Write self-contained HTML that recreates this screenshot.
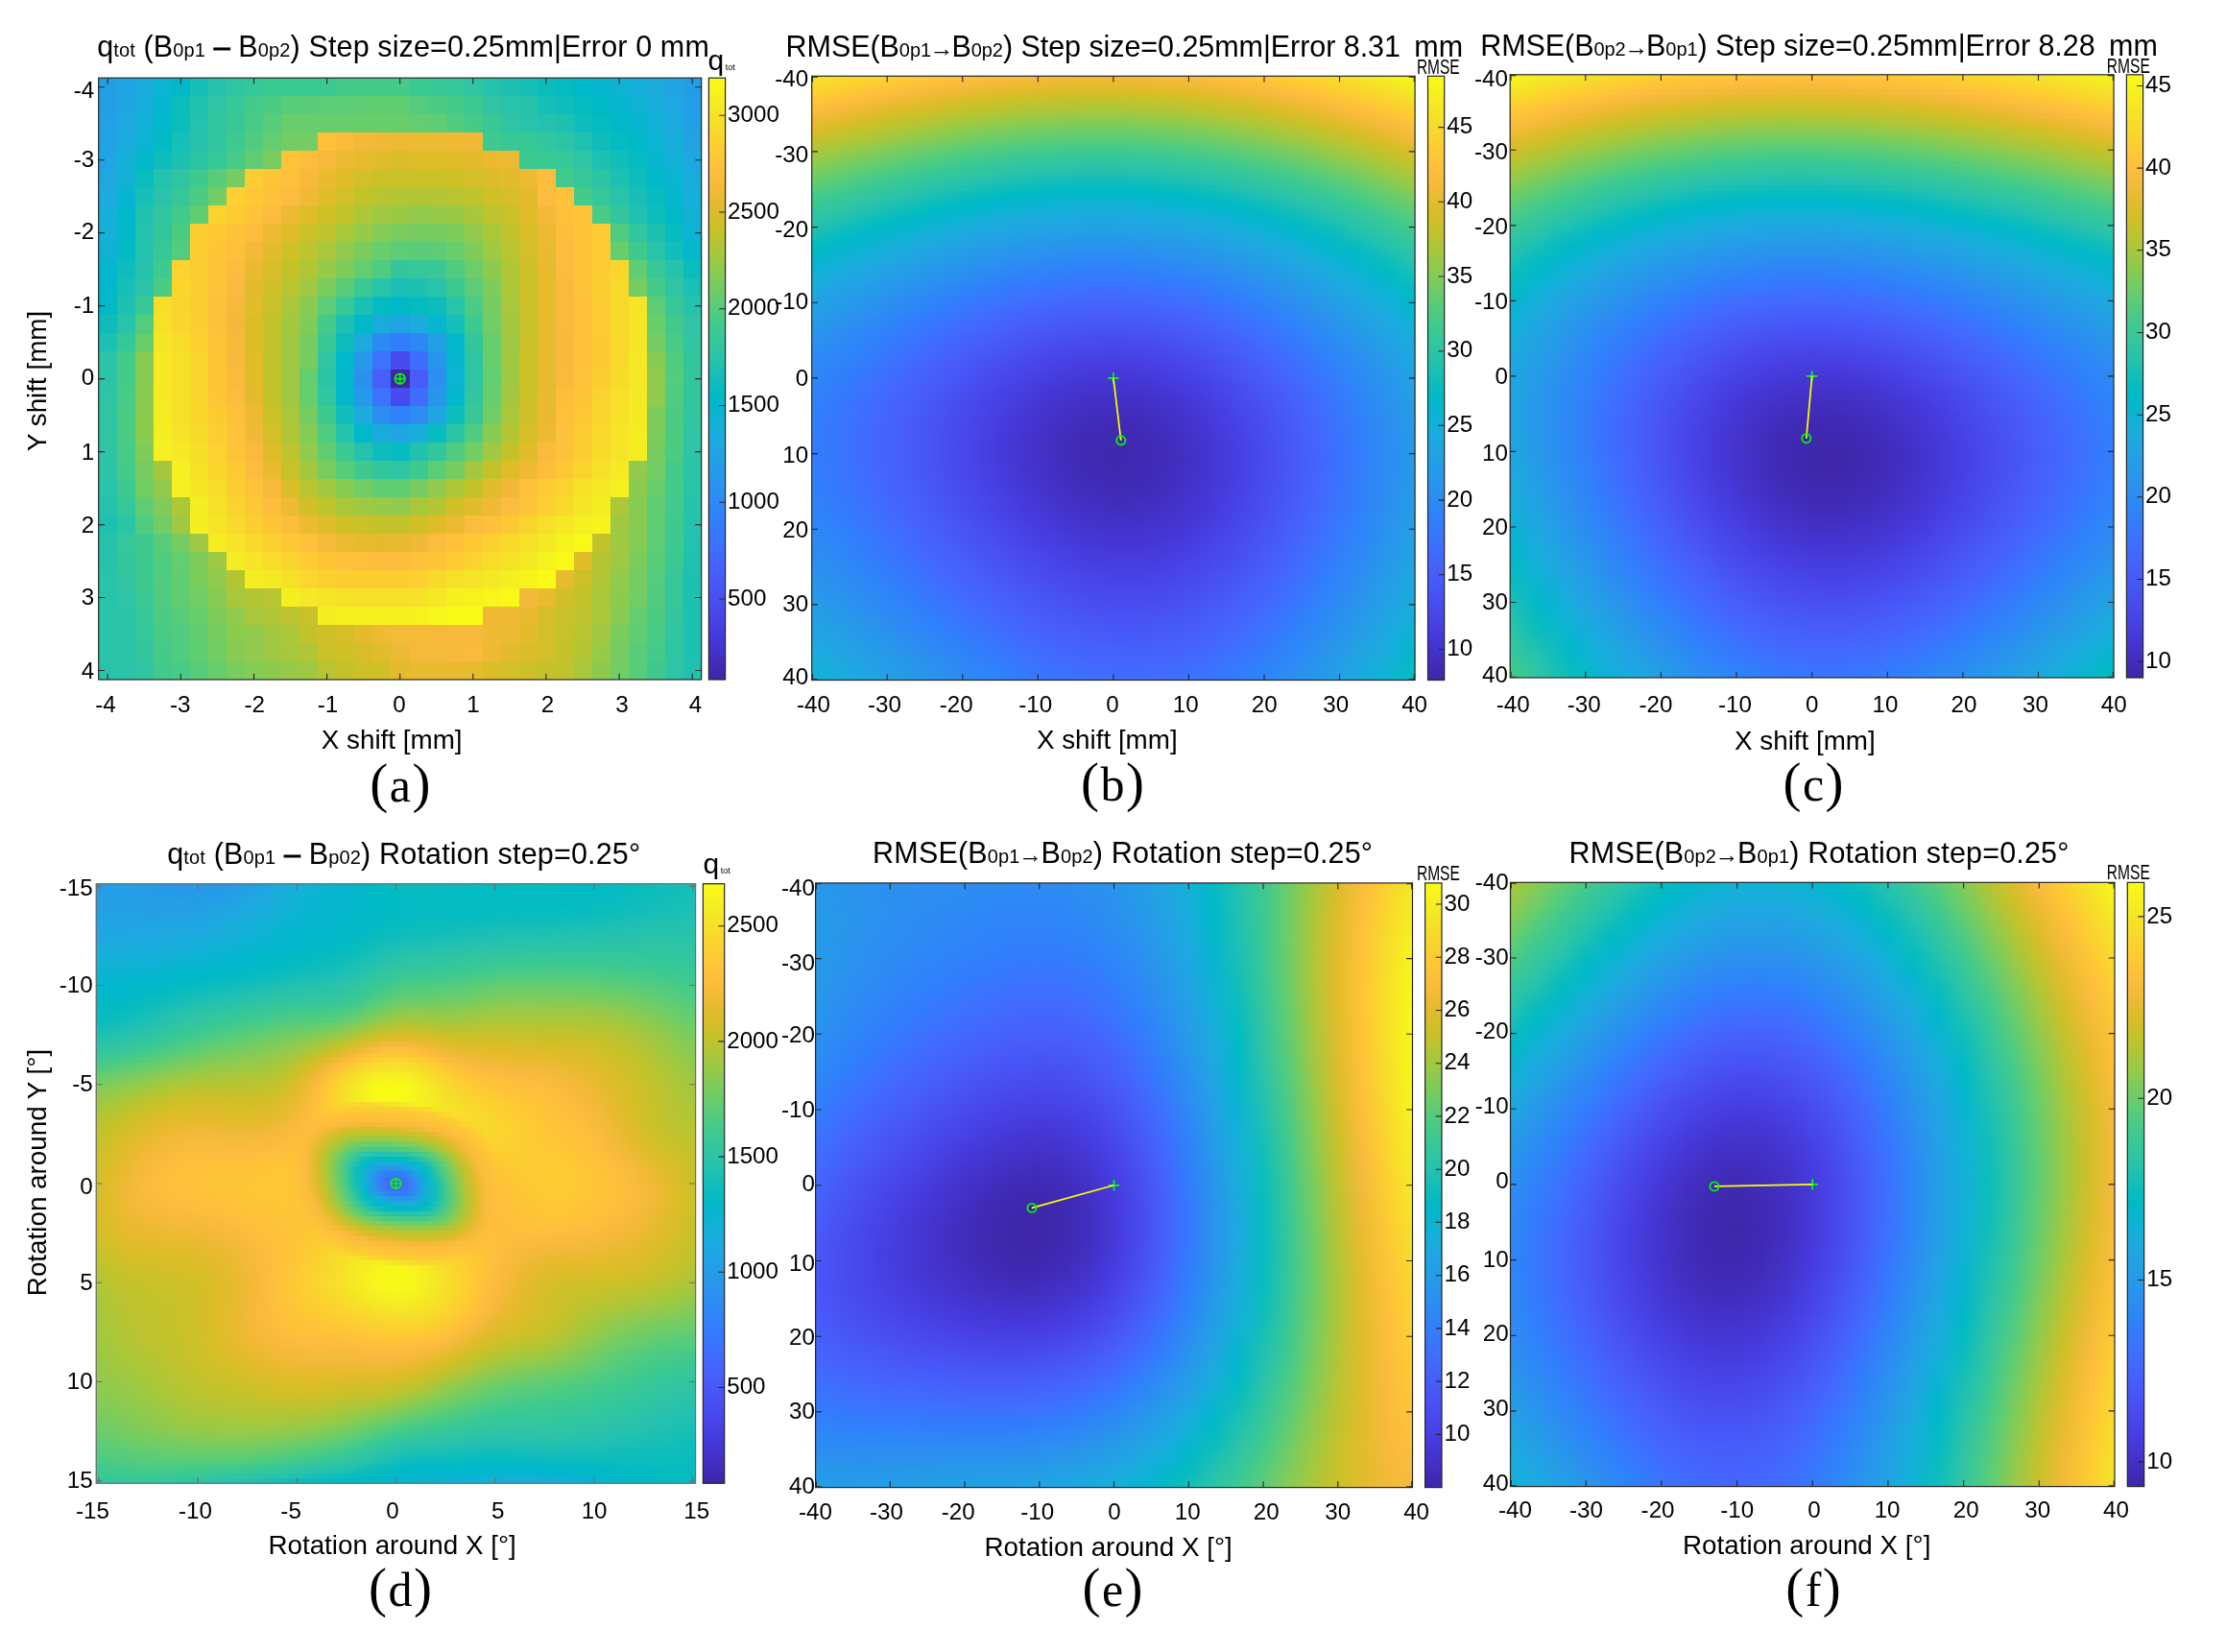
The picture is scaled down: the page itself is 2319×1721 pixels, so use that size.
<!DOCTYPE html><html><head><meta charset="utf-8"><title>fig</title><style>
html,body{margin:0;padding:0;background:#fff}body{width:2319px;height:1721px;position:relative;overflow:hidden;font-family:"Liberation Sans",sans-serif}
.p{position:absolute;overflow:hidden}.p i{display:block;width:100%}.g{position:absolute;display:grid}
svg{position:absolute;left:0;top:0;will-change:transform}text{font-family:"Liberation Sans",sans-serif;fill:#000}.s{font-family:"Liberation Serif",serif}
</style></head><body>
<div class="p" style="left:102.7px;top:81.2px;width:628px;height:626.8px"><i style="height:19px;background:linear-gradient(90deg,#23a0e5 0px,#23a0e5 19px,#20a4e3 19px,#20a4e3 38px,#19addc 38px,#19addc 57px,#0ab4d2 57px,#0ab4d2 76px,#01b9c6 76px,#01b9c6 95px,#16bfb7 95px,#16bfb7 114px,#27c2ac 114px,#27c2ac 133px,#2fc5a2 133px,#2fc5a2 152px,#35c79a 152px,#35c79a 171px,#3bc992 171px,#3bc992 190px,#3bc992 190px,#3bc992 209px,#3bc992 209px,#3bc992 228px,#3bc992 228px,#3bc992 247px,#44cb89 247px,#44cb89 266px,#44cb89 266px,#44cb89 285px,#44cb89 285px,#44cb89 304px,#44cb89 304px,#44cb89 324px,#3bc992 324px,#3bc992 343px,#39c895 343px,#39c895 362px,#35c79a 362px,#35c79a 381px,#2fc5a2 381px,#2fc5a2 400px,#27c2ac 400px,#27c2ac 419px,#1ec0b2 419px,#1ec0b2 438px,#16bfb7 438px,#16bfb7 457px,#0abdbd 457px,#0abdbd 476px,#04bbc2 476px,#04bbc2 495px,#01b8c8 495px,#01b8c8 514px,#05b6ce 514px,#05b6ce 533px,#0eb3d4 533px,#0eb3d4 552px,#15afd9 552px,#15afd9 571px,#1aabdd 571px,#1aabdd 590px,#20a4e3 590px,#20a4e3 609px,#249de7 609px,#249de7 628px)"></i><i style="height:19px;background:linear-gradient(90deg,#23a0e5 0px,#23a0e5 19px,#1fa6e2 19px,#1fa6e2 38px,#17aeda 38px,#17aeda 57px,#05b6ce 57px,#05b6ce 76px,#0abdbd 76px,#0abdbd 95px,#21c1b0 95px,#21c1b0 114px,#2ec4a5 114px,#2ec4a5 133px,#37c898 133px,#37c898 152px,#44cb89 152px,#44cb89 171px,#4ccb83 171px,#4ccb83 190px,#58cc79 190px,#58cc79 209px,#58cc79 209px,#58cc79 228px,#5ccc76 228px,#5ccc76 247px,#5ccc76 247px,#5ccc76 266px,#60cd72 266px,#60cd72 285px,#60cd72 285px,#60cd72 304px,#60cd72 304px,#60cd72 324px,#54cc7d 324px,#54cc7d 343px,#4ccb83 343px,#4ccb83 362px,#44cb89 362px,#44cb89 381px,#3bc992 381px,#3bc992 400px,#2fc5a2 400px,#2fc5a2 419px,#29c3a9 419px,#29c3a9 438px,#27c2ac 438px,#27c2ac 457px,#16bfb7 457px,#16bfb7 476px,#0ebdbb 476px,#0ebdbb 495px,#04bbc2 495px,#04bbc2 514px,#01b8c8 514px,#01b8c8 533px,#07b5d0 533px,#07b5d0 552px,#0eb3d4 552px,#0eb3d4 571px,#19addc 571px,#19addc 590px,#1ea7e1 590px,#1ea7e1 609px,#249fe6 609px,#249fe6 628px)"></i><i style="height:19px;background:linear-gradient(90deg,#22a1e4 0px,#22a1e4 19px,#1ea7e1 19px,#1ea7e1 38px,#11b1d6 38px,#11b1d6 57px,#01b8ca 57px,#01b8ca 76px,#0abdbd 76px,#0abdbd 95px,#24c2ae 95px,#24c2ae 114px,#31c6a0 114px,#31c6a0 133px,#39c895 133px,#39c895 152px,#48cb86 152px,#48cb86 171px,#58cc79 171px,#58cc79 190px,#68cd6b 190px,#68cd6b 209px,#68cd6b 209px,#68cd6b 228px,#68cd6b 228px,#68cd6b 247px,#68cd6b 247px,#68cd6b 266px,#68cd6b 266px,#68cd6b 285px,#68cd6b 285px,#68cd6b 304px,#68cd6b 304px,#68cd6b 324px,#64cd6f 324px,#64cd6f 343px,#60cd72 343px,#60cd72 362px,#50cc80 362px,#50cc80 381px,#44cb89 381px,#44cb89 400px,#39c895 400px,#39c895 419px,#2fc5a2 419px,#2fc5a2 438px,#29c3a9 438px,#29c3a9 457px,#24c2ae 457px,#24c2ae 476px,#1ec0b2 476px,#1ec0b2 495px,#0ebdbb 495px,#0ebdbb 514px,#04bbc2 514px,#04bbc2 533px,#01b8c8 533px,#01b8c8 552px,#07b5d0 552px,#07b5d0 571px,#11b1d6 571px,#11b1d6 590px,#1caadf 590px,#1caadf 609px,#23a0e5 609px,#23a0e5 628px)"></i><i style="height:19px;background:linear-gradient(90deg,#21a3e3 0px,#21a3e3 19px,#1aabdd 19px,#1aabdd 38px,#0ab4d2 38px,#0ab4d2 57px,#02bac4 57px,#02bac4 76px,#16bfb7 76px,#16bfb7 95px,#27c2ac 95px,#27c2ac 114px,#31c6a0 114px,#31c6a0 133px,#3eca8f 133px,#3eca8f 152px,#50cc80 152px,#50cc80 171px,#64cd6f 171px,#64cd6f 190px,#71cd64 190px,#71cd64 209px,#71cd64 209px,#71cd64 228px,#febf3b 228px,#febf3b 247px,#fabb3d 247px,#fabb3d 266px,#f2ba38 266px,#f2ba38 285px,#f0ba36 285px,#f0ba36 304px,#edba33 304px,#edba33 324px,#edba33 324px,#edba33 343px,#edba33 343px,#edba33 362px,#f0ba36 362px,#f0ba36 381px,#f0ba36 381px,#f0ba36 400px,#3eca8f 400px,#3eca8f 419px,#39c895 419px,#39c895 438px,#37c898 438px,#37c898 457px,#33c69d 457px,#33c69d 476px,#2cc4a7 476px,#2cc4a7 495px,#21c1b0 495px,#21c1b0 514px,#0ebdbb 514px,#0ebdbb 533px,#04bbc2 533px,#04bbc2 552px,#01b8c8 552px,#01b8c8 571px,#0ab4d2 571px,#0ab4d2 590px,#17aeda 590px,#17aeda 609px,#21a3e3 609px,#21a3e3 628px)"></i><i style="height:19px;background:linear-gradient(90deg,#20a4e3 0px,#20a4e3 19px,#13b0d7 19px,#13b0d7 38px,#01b8c8 38px,#01b8c8 57px,#0ebdbb 57px,#0ebdbb 76px,#1ec0b2 76px,#1ec0b2 95px,#2cc4a7 95px,#2cc4a7 114px,#37c898 114px,#37c898 133px,#48cb86 133px,#48cb86 152px,#60cd72 152px,#60cd72 171px,#7acc5d 171px,#7acc5d 190px,#fec339 190px,#fec339 209px,#fdbd3d 209px,#fdbd3d 228px,#f5ba3a 228px,#f5ba3a 247px,#edba33 247px,#edba33 266px,#e7bb2e 266px,#e7bb2e 285px,#e1bc2b 285px,#e1bc2b 304px,#dabd28 304px,#dabd28 324px,#debd29 324px,#debd29 343px,#debd29 343px,#debd29 362px,#e1bc2b 362px,#e1bc2b 381px,#e4bb2c 381px,#e4bb2c 400px,#eaba31 400px,#eaba31 419px,#edba33 419px,#edba33 438px,#3eca8f 438px,#3eca8f 457px,#3bc992 457px,#3bc992 476px,#37c898 476px,#37c898 495px,#2ec4a5 495px,#2ec4a5 514px,#1ec0b2 514px,#1ec0b2 533px,#12beb9 533px,#12beb9 552px,#04bbc2 552px,#04bbc2 571px,#05b6ce 571px,#05b6ce 590px,#13b0d7 590px,#13b0d7 609px,#1ea7e1 609px,#1ea7e1 628px)"></i><i style="height:19px;background:linear-gradient(90deg,#1da9e0 0px,#1da9e0 19px,#11b1d6 19px,#11b1d6 38px,#0abdbd 38px,#0abdbd 57px,#24c2ae 57px,#24c2ae 76px,#2fc5a2 76px,#2fc5a2 95px,#3eca8f 95px,#3eca8f 114px,#58cc79 114px,#58cc79 133px,#76cc61 133px,#76cc61 152px,#fdcc32 152px,#fdcc32 171px,#fec437 171px,#fec437 190px,#febf3b 190px,#febf3b 209px,#f8ba3d 209px,#f8ba3d 228px,#eaba31 228px,#eaba31 247px,#debd29 247px,#debd29 266px,#d3bf27 266px,#d3bf27 285px,#ccc028 285px,#ccc028 304px,#c8c129 304px,#c8c129 324px,#ccc028 324px,#ccc028 343px,#ccc028 343px,#ccc028 362px,#d0c027 362px,#d0c027 381px,#d3bf27 381px,#d3bf27 400px,#dabd28 400px,#dabd28 419px,#e4bb2c 419px,#e4bb2c 438px,#edba33 438px,#edba33 457px,#fcbc3d 457px,#fcbc3d 476px,#41ca8c 476px,#41ca8c 495px,#35c79a 495px,#35c79a 514px,#2cc4a7 514px,#2cc4a7 533px,#1ec0b2 533px,#1ec0b2 552px,#0ebdbb 552px,#0ebdbb 571px,#01b9c6 571px,#01b9c6 590px,#0ab4d2 590px,#0ab4d2 609px,#1aabdd 609px,#1aabdd 628px)"></i><i style="height:19px;background:linear-gradient(90deg,#1caadf 0px,#1caadf 19px,#07b5d0 19px,#07b5d0 38px,#16bfb7 38px,#16bfb7 57px,#29c3a9 57px,#29c3a9 76px,#35c79a 76px,#35c79a 95px,#4ccb83 95px,#4ccb83 114px,#71cd64 114px,#71cd64 133px,#fcd030 133px,#fcd030 152px,#fec835 152px,#fec835 171px,#fec13a 171px,#fec13a 190px,#fcbc3d 190px,#fcbc3d 209px,#f0ba36 209px,#f0ba36 228px,#e1bc2b 228px,#e1bc2b 247px,#d3bf27 247px,#d3bf27 266px,#c4c22a 266px,#c4c22a 285px,#b9c431 285px,#b9c431 304px,#b4c533 304px,#b4c533 324px,#b4c533 324px,#b4c533 343px,#b4c533 343px,#b4c533 362px,#b9c431 362px,#b9c431 381px,#c1c32d 381px,#c1c32d 400px,#d0c027 400px,#d0c027 419px,#d7be28 419px,#d7be28 438px,#e4bb2c 438px,#e4bb2c 457px,#fcbc3d 457px,#fcbc3d 476px,#fec13a 476px,#fec13a 495px,#44cb89 495px,#44cb89 514px,#35c79a 514px,#35c79a 533px,#29c3a9 533px,#29c3a9 552px,#16bfb7 552px,#16bfb7 571px,#07bcc0 571px,#07bcc0 590px,#05b6ce 590px,#05b6ce 609px,#15afd9 609px,#15afd9 628px)"></i><i style="height:19px;background:linear-gradient(90deg,#15afd9 0px,#15afd9 19px,#01b8ca 19px,#01b8ca 38px,#21c1b0 38px,#21c1b0 57px,#31c6a0 57px,#31c6a0 76px,#41ca8c 76px,#41ca8c 95px,#60cd72 95px,#60cd72 114px,#fad42e 114px,#fad42e 133px,#fdcc32 133px,#fdcc32 152px,#fec339 152px,#fec339 171px,#fcbc3d 171px,#fcbc3d 190px,#edba33 190px,#edba33 209px,#debd29 209px,#debd29 228px,#d0c027 228px,#d0c027 247px,#c1c32d 247px,#c1c32d 266px,#acc738 266px,#acc738 285px,#9fc942 285px,#9fc942 304px,#9ac945 304px,#9ac945 324px,#91ca4c 324px,#91ca4c 343px,#96ca48 343px,#96ca48 362px,#9ac945 362px,#9ac945 381px,#a8c73b 381px,#a8c73b 400px,#bdc42f 400px,#bdc42f 419px,#c8c129 419px,#c8c129 438px,#e1bc2b 438px,#e1bc2b 457px,#f2ba38 457px,#f2ba38 476px,#febf3b 476px,#febf3b 495px,#fec437 495px,#fec437 514px,#48cb86 514px,#48cb86 533px,#33c69d 533px,#33c69d 552px,#21c1b0 552px,#21c1b0 571px,#0ebdbb 571px,#0ebdbb 590px,#01b8c8 590px,#01b8c8 609px,#11b1d6 609px,#11b1d6 628px)"></i><i style="height:19px;background:linear-gradient(90deg,#13b0d7 0px,#13b0d7 19px,#01b8c8 19px,#01b8c8 38px,#24c2ae 38px,#24c2ae 57px,#33c69d 57px,#33c69d 76px,#4ccb83 76px,#4ccb83 95px,#fdce31 95px,#fdce31 114px,#fec835 114px,#fec835 133px,#fec13a 133px,#fec13a 152px,#fcbc3d 152px,#fcbc3d 171px,#edba33 171px,#edba33 190px,#debd29 190px,#debd29 209px,#ccc028 209px,#ccc028 228px,#bdc42f 228px,#bdc42f 247px,#a8c73b 247px,#a8c73b 266px,#96ca48 266px,#96ca48 285px,#84cc56 285px,#84cc56 304px,#7acc5d 304px,#7acc5d 324px,#76cc61 324px,#76cc61 343px,#76cc61 343px,#76cc61 362px,#7fcc5a 362px,#7fcc5a 381px,#91ca4c 381px,#91ca4c 400px,#acc738 400px,#acc738 419px,#c1c32d 419px,#c1c32d 438px,#dabd28 438px,#dabd28 457px,#edba33 457px,#edba33 476px,#fdbd3d 476px,#fdbd3d 495px,#fec339 495px,#fec339 514px,#fdcc32 514px,#fdcc32 533px,#50cc80 533px,#50cc80 552px,#31c6a0 552px,#31c6a0 571px,#1ec0b2 571px,#1ec0b2 590px,#07bcc0 590px,#07bcc0 609px,#0ab4d2 609px,#0ab4d2 628px)"></i><i style="height:19px;background:linear-gradient(90deg,#0eb3d4 0px,#0eb3d4 19px,#02bac4 19px,#02bac4 38px,#24c2ae 38px,#24c2ae 57px,#37c898 57px,#37c898 76px,#54cc7d 76px,#54cc7d 95px,#fdce31 95px,#fdce31 114px,#fec636 114px,#fec636 133px,#febf3b 133px,#febf3b 152px,#f2ba38 152px,#f2ba38 171px,#e1bc2b 171px,#e1bc2b 190px,#d0c027 190px,#d0c027 209px,#bdc42f 209px,#bdc42f 228px,#a8c73b 228px,#a8c73b 247px,#91ca4c 247px,#91ca4c 266px,#7acc5d 266px,#7acc5d 285px,#68cd6b 285px,#68cd6b 304px,#5ccc76 304px,#5ccc76 324px,#58cc79 324px,#58cc79 343px,#5ccc76 343px,#5ccc76 362px,#68cd6b 362px,#68cd6b 381px,#7fcc5a 381px,#7fcc5a 400px,#9fc942 400px,#9fc942 419px,#b9c431 419px,#b9c431 438px,#d3bf27 438px,#d3bf27 457px,#eaba31 457px,#eaba31 476px,#fcbc3d 476px,#fcbc3d 495px,#fec339 495px,#fec339 514px,#fdcc32 514px,#fdcc32 533px,#68cd6b 533px,#68cd6b 552px,#3eca8f 552px,#3eca8f 571px,#29c3a9 571px,#29c3a9 590px,#12beb9 590px,#12beb9 609px,#03b7cc 609px,#03b7cc 628px)"></i><i style="height:19px;background:linear-gradient(90deg,#05b6ce 0px,#05b6ce 19px,#0ebdbb 19px,#0ebdbb 38px,#27c2ac 38px,#27c2ac 57px,#3eca8f 57px,#3eca8f 76px,#fbd22f 76px,#fbd22f 95px,#fdcc32 95px,#fdcc32 114px,#fec339 114px,#fec339 133px,#fcbc3d 133px,#fcbc3d 152px,#eaba31 152px,#eaba31 171px,#d7be28 171px,#d7be28 190px,#c4c22a 190px,#c4c22a 209px,#b0c636 209px,#b0c636 228px,#96ca48 228px,#96ca48 247px,#7fcc5a 247px,#7fcc5a 266px,#64cd6f 266px,#64cd6f 285px,#50cc80 285px,#50cc80 304px,#33c69d 304px,#33c69d 324px,#35c79a 324px,#35c79a 343px,#39c895 343px,#39c895 362px,#50cc80 362px,#50cc80 381px,#6dcd68 381px,#6dcd68 400px,#8dcb4f 400px,#8dcb4f 419px,#b0c636 419px,#b0c636 438px,#d0c027 438px,#d0c027 457px,#e7bb2e 457px,#e7bb2e 476px,#fcbc3d 476px,#fcbc3d 495px,#fec339 495px,#fec339 514px,#fdcc32 514px,#fdcc32 533px,#fad62d 533px,#fad62d 552px,#60cd72 552px,#60cd72 571px,#37c898 571px,#37c898 590px,#27c2ac 590px,#27c2ac 609px,#0abdbd 609px,#0abdbd 628px)"></i><i style="height:19px;background:linear-gradient(90deg,#01b8ca 0px,#01b8ca 19px,#16bfb7 19px,#16bfb7 38px,#2cc4a7 38px,#2cc4a7 57px,#4ccb83 57px,#4ccb83 76px,#fad62d 76px,#fad62d 95px,#fdce31 95px,#fdce31 114px,#fec339 114px,#fec339 133px,#fabb3d 133px,#fabb3d 152px,#e4bb2c 152px,#e4bb2c 171px,#d0c027 171px,#d0c027 190px,#b9c431 190px,#b9c431 209px,#9fc942 209px,#9fc942 228px,#7acc5d 228px,#7acc5d 247px,#58cc79 247px,#58cc79 266px,#3bc992 266px,#3bc992 285px,#29c3a9 285px,#29c3a9 304px,#1ac0b5 304px,#1ac0b5 324px,#1ec0b2 324px,#1ec0b2 343px,#29c3a9 343px,#29c3a9 362px,#3eca8f 362px,#3eca8f 381px,#5ccc76 381px,#5ccc76 400px,#7fcc5a 400px,#7fcc5a 419px,#acc738 419px,#acc738 438px,#d0c027 438px,#d0c027 457px,#e7bb2e 457px,#e7bb2e 476px,#fabb3d 476px,#fabb3d 495px,#fec339 495px,#fec339 514px,#fdce31 514px,#fdce31 533px,#f8da2b 533px,#f8da2b 552px,#76cc61 552px,#76cc61 571px,#44cb89 571px,#44cb89 590px,#2fc5a2 590px,#2fc5a2 609px,#1ac0b5 609px,#1ac0b5 628px)"></i><i style="height:19px;background:linear-gradient(90deg,#01b9c6 0px,#01b9c6 19px,#1ec0b2 19px,#1ec0b2 38px,#39c895 38px,#39c895 57px,#f6de29 57px,#f6de29 76px,#fad42e 76px,#fad42e 95px,#fdcc32 95px,#fdcc32 114px,#fec13a 114px,#fec13a 133px,#f5ba3a 133px,#f5ba3a 152px,#e1bc2b 152px,#e1bc2b 171px,#c8c129 171px,#c8c129 190px,#a8c73b 190px,#a8c73b 209px,#88cb53 209px,#88cb53 228px,#5ccc76 228px,#5ccc76 247px,#37c898 247px,#37c898 266px,#1ac0b5 266px,#1ac0b5 285px,#04bbc2 285px,#04bbc2 304px,#01b9c6 304px,#01b9c6 324px,#04bbc2 324px,#04bbc2 343px,#0ebdbb 343px,#0ebdbb 362px,#29c3a9 362px,#29c3a9 381px,#4ccb83 381px,#4ccb83 400px,#76cc61 400px,#76cc61 419px,#a8c73b 419px,#a8c73b 438px,#ccc028 438px,#ccc028 457px,#e7bb2e 457px,#e7bb2e 476px,#fabb3d 476px,#fabb3d 495px,#fec13a 495px,#fec13a 514px,#fdcc32 514px,#fdcc32 533px,#f8da2b 533px,#f8da2b 552px,#f5e427 552px,#f5e427 571px,#5ccc76 571px,#5ccc76 590px,#39c895 590px,#39c895 609px,#27c2ac 609px,#27c2ac 628px)"></i><i style="height:19px;background:linear-gradient(90deg,#0ebdbb 0px,#0ebdbb 19px,#29c3a9 19px,#29c3a9 38px,#54cc7d 38px,#54cc7d 57px,#f6e028 57px,#f6e028 76px,#fad62d 76px,#fad62d 95px,#fdce31 95px,#fdce31 114px,#fec13a 114px,#fec13a 133px,#f2ba38 133px,#f2ba38 152px,#dabd28 152px,#dabd28 171px,#c1c32d 171px,#c1c32d 190px,#a3c83f 190px,#a3c83f 209px,#7fcc5a 209px,#7fcc5a 228px,#44cb89 228px,#44cb89 247px,#1ec0b2 247px,#1ec0b2 266px,#01b8c8 266px,#01b8c8 285px,#1aabdd 285px,#1aabdd 304px,#21a3e3 304px,#21a3e3 324px,#1caadf 324px,#1caadf 343px,#05b6ce 343px,#05b6ce 362px,#16bfb7 362px,#16bfb7 381px,#3eca8f 381px,#3eca8f 400px,#71cd64 400px,#71cd64 419px,#a3c83f 419px,#a3c83f 438px,#c8c129 438px,#c8c129 457px,#e7bb2e 457px,#e7bb2e 476px,#fabb3d 476px,#fabb3d 495px,#fec13a 495px,#fec13a 514px,#fdcc32 514px,#fdcc32 533px,#f8da2b 533px,#f8da2b 552px,#f5e626 552px,#f5e626 571px,#68cd6b 571px,#68cd6b 590px,#41ca8c 590px,#41ca8c 609px,#2ec4a5 609px,#2ec4a5 628px)"></i><i style="height:19px;background:linear-gradient(90deg,#1ec0b2 0px,#1ec0b2 19px,#35c79a 19px,#35c79a 38px,#68cd6b 38px,#68cd6b 57px,#f5e626 57px,#f5e626 76px,#f7dc2a 76px,#f7dc2a 95px,#fcd030 95px,#fcd030 114px,#fec437 114px,#fec437 133px,#f5ba3a 133px,#f5ba3a 152px,#dabd28 152px,#dabd28 171px,#c1c32d 171px,#c1c32d 190px,#9fc942 190px,#9fc942 209px,#76cc61 209px,#76cc61 228px,#39c895 228px,#39c895 247px,#0ebdbb 247px,#0ebdbb 266px,#1caadf 266px,#1caadf 285px,#2d8af4 285px,#2d8af4 304px,#317efb 304px,#317efb 324px,#2d88f6 324px,#2d88f6 343px,#249fe6 343px,#249fe6 362px,#03b7cc 362px,#03b7cc 381px,#33c69d 381px,#33c69d 400px,#68cd6b 400px,#68cd6b 419px,#9fc942 419px,#9fc942 438px,#c8c129 438px,#c8c129 457px,#e7bb2e 457px,#e7bb2e 476px,#f8ba3d 476px,#f8ba3d 495px,#fec13a 495px,#fec13a 514px,#feca33 514px,#feca33 533px,#f9d82c 533px,#f9d82c 552px,#f5e626 552px,#f5e626 571px,#76cc61 571px,#76cc61 590px,#48cb86 590px,#48cb86 609px,#31c6a0 609px,#31c6a0 628px)"></i><i style="height:19px;background:linear-gradient(90deg,#2cc4a7 0px,#2cc4a7 19px,#44cb89 19px,#44cb89 38px,#88cb53 38px,#88cb53 57px,#f5ea24 57px,#f5ea24 76px,#f6e028 76px,#f6e028 95px,#fad42e 95px,#fad42e 114px,#fec636 114px,#fec636 133px,#f8ba3d 133px,#f8ba3d 152px,#debd29 152px,#debd29 171px,#c1c32d 171px,#c1c32d 190px,#9fc942 190px,#9fc942 209px,#76cc61 209px,#76cc61 228px,#2fc5a2 228px,#2fc5a2 247px,#01b8c8 247px,#01b8c8 266px,#2699ea 266px,#2699ea 285px,#3b72ff 285px,#3b72ff 304px,#484aee 304px,#484aee 324px,#3f6eff 324px,#3f6eff 343px,#2895ec 343px,#2895ec 362px,#05b6ce 362px,#05b6ce 381px,#2fc5a2 381px,#2fc5a2 400px,#68cd6b 400px,#68cd6b 419px,#9fc942 419px,#9fc942 438px,#ccc028 438px,#ccc028 457px,#e7bb2e 457px,#e7bb2e 476px,#f8ba3d 476px,#f8ba3d 495px,#fec13a 495px,#fec13a 514px,#feca33 514px,#feca33 533px,#f9d82c 533px,#f9d82c 552px,#f5e825 552px,#f5e825 571px,#88cb53 571px,#88cb53 590px,#50cc80 590px,#50cc80 609px,#33c69d 609px,#33c69d 628px)"></i><i style="height:19px;background:linear-gradient(90deg,#2cc4a7 0px,#2cc4a7 19px,#44cb89 19px,#44cb89 38px,#88cb53 38px,#88cb53 57px,#f5ea24 57px,#f5ea24 76px,#f6e028 76px,#f6e028 95px,#fad42e 95px,#fad42e 114px,#fec636 114px,#fec636 133px,#fabb3d 133px,#fabb3d 152px,#debd29 152px,#debd29 171px,#c1c32d 171px,#c1c32d 190px,#9fc942 190px,#9fc942 209px,#64cd6f 209px,#64cd6f 228px,#2cc4a7 228px,#2cc4a7 247px,#03b7cc 247px,#03b7cc 266px,#2a92ee 266px,#2a92ee 285px,#465ffb 285px,#465ffb 304px,#3e26a8 304px,#3e26a8 324px,#475cfa 324px,#475cfa 343px,#2c8ff1 343px,#2c8ff1 362px,#0ab4d2 362px,#0ab4d2 381px,#2ec4a5 381px,#2ec4a5 400px,#64cd6f 400px,#64cd6f 419px,#9fc942 419px,#9fc942 438px,#ccc028 438px,#ccc028 457px,#e7bb2e 457px,#e7bb2e 476px,#fabb3d 476px,#fabb3d 495px,#fec339 495px,#fec339 514px,#fdce31 514px,#fdce31 533px,#f8da2b 533px,#f8da2b 552px,#f5e825 552px,#f5e825 571px,#91ca4c 571px,#91ca4c 590px,#54cc7d 590px,#54cc7d 609px,#33c69d 609px,#33c69d 628px)"></i><i style="height:19px;background:linear-gradient(90deg,#2ec4a5 0px,#2ec4a5 19px,#48cb86 19px,#48cb86 38px,#8dcb4f 38px,#8dcb4f 57px,#f5ea24 57px,#f5ea24 76px,#f6e028 76px,#f6e028 95px,#fad62d 95px,#fad62d 114px,#fec636 114px,#fec636 133px,#fcbc3d 133px,#fcbc3d 152px,#e4bb2c 152px,#e4bb2c 171px,#c4c22a 171px,#c4c22a 190px,#9fc942 190px,#9fc942 209px,#68cd6b 209px,#68cd6b 228px,#31c6a0 228px,#31c6a0 247px,#01b8c8 247px,#01b8c8 266px,#269ae8 266px,#269ae8 285px,#3b72ff 285px,#3b72ff 304px,#484aee 304px,#484aee 324px,#3f6eff 324px,#3f6eff 343px,#2797eb 343px,#2797eb 362px,#03b7cc 362px,#03b7cc 381px,#31c6a0 381px,#31c6a0 400px,#68cd6b 400px,#68cd6b 419px,#a3c83f 419px,#a3c83f 438px,#ccc028 438px,#ccc028 457px,#eaba31 457px,#eaba31 476px,#fdbd3d 476px,#fdbd3d 495px,#fec636 495px,#fec636 514px,#fad42e 514px,#fad42e 533px,#f6e028 533px,#f6e028 552px,#f5ea24 552px,#f5ea24 571px,#91ca4c 571px,#91ca4c 590px,#50cc80 590px,#50cc80 609px,#33c69d 609px,#33c69d 628px)"></i><i style="height:19px;background:linear-gradient(90deg,#2fc5a2 0px,#2fc5a2 19px,#4ccb83 19px,#4ccb83 38px,#8dcb4f 38px,#8dcb4f 57px,#f5ec22 57px,#f5ec22 76px,#f5e227 76px,#f5e227 95px,#fad62d 95px,#fad62d 114px,#feca33 114px,#feca33 133px,#febf3b 133px,#febf3b 152px,#edba33 152px,#edba33 171px,#ccc028 171px,#ccc028 190px,#a8c73b 190px,#a8c73b 209px,#76cc61 209px,#76cc61 228px,#3eca8f 228px,#3eca8f 247px,#12beb9 247px,#12beb9 266px,#1caadf 266px,#1caadf 285px,#2d8df2 285px,#2d8df2 304px,#2f81fa 304px,#2f81fa 324px,#2d8df2 324px,#2d8df2 343px,#1fa6e2 343px,#1fa6e2 362px,#0ebdbb 362px,#0ebdbb 381px,#39c895 381px,#39c895 400px,#71cd64 400px,#71cd64 419px,#a8c73b 419px,#a8c73b 438px,#d0c027 438px,#d0c027 457px,#eaba31 457px,#eaba31 476px,#febf3b 476px,#febf3b 495px,#fec835 495px,#fec835 514px,#fad62d 514px,#fad62d 533px,#f6e028 533px,#f6e028 552px,#f5ea24 552px,#f5ea24 571px,#7fcc5a 571px,#7fcc5a 590px,#4ccb83 590px,#4ccb83 609px,#31c6a0 609px,#31c6a0 628px)"></i><i style="height:19px;background:linear-gradient(90deg,#2fc5a2 0px,#2fc5a2 19px,#4ccb83 19px,#4ccb83 38px,#8dcb4f 38px,#8dcb4f 57px,#f5ee21 57px,#f5ee21 76px,#f5e427 76px,#f5e427 95px,#f8da2b 95px,#f8da2b 114px,#fdce31 114px,#fdce31 133px,#fec339 133px,#fec339 152px,#f0ba36 152px,#f0ba36 171px,#d3bf27 171px,#d3bf27 190px,#b0c636 190px,#b0c636 209px,#84cc56 209px,#84cc56 228px,#50cc80 228px,#50cc80 247px,#27c2ac 247px,#27c2ac 266px,#01b8ca 266px,#01b8ca 285px,#1aabdd 285px,#1aabdd 304px,#1fa6e2 304px,#1fa6e2 324px,#15afd9 324px,#15afd9 343px,#07bcc0 343px,#07bcc0 362px,#2cc4a7 362px,#2cc4a7 381px,#50cc80 381px,#50cc80 400px,#88cb53 400px,#88cb53 419px,#b4c533 419px,#b4c533 438px,#d7be28 438px,#d7be28 457px,#edba33 457px,#edba33 476px,#fec13a 476px,#fec13a 495px,#fdcc32 495px,#fdcc32 514px,#f9d82c 514px,#f9d82c 533px,#f5e427 533px,#f5e427 552px,#f5ec22 552px,#f5ec22 571px,#7acc5d 571px,#7acc5d 590px,#4ccb83 590px,#4ccb83 609px,#2fc5a2 609px,#2fc5a2 628px)"></i><i style="height:19px;background:linear-gradient(90deg,#2ec4a5 0px,#2ec4a5 19px,#48cb86 19px,#48cb86 38px,#7fcc5a 38px,#7fcc5a 57px,#f6f020 57px,#f6f020 76px,#f5e825 76px,#f5e825 95px,#f6de29 95px,#f6de29 114px,#fbd22f 114px,#fbd22f 133px,#fec437 133px,#fec437 152px,#fabb3d 152px,#fabb3d 171px,#debd29 171px,#debd29 190px,#bdc42f 190px,#bdc42f 209px,#91ca4c 209px,#91ca4c 228px,#60cd72 228px,#60cd72 247px,#3bc992 247px,#3bc992 266px,#24c2ae 266px,#24c2ae 285px,#0ebdbb 285px,#0ebdbb 304px,#07bcc0 304px,#07bcc0 324px,#21c1b0 324px,#21c1b0 343px,#33c69d 343px,#33c69d 362px,#50cc80 362px,#50cc80 381px,#71cd64 381px,#71cd64 400px,#9fc942 400px,#9fc942 419px,#c4c22a 419px,#c4c22a 438px,#e1bc2b 438px,#e1bc2b 457px,#fabb3d 457px,#fabb3d 476px,#fec13a 476px,#fec13a 495px,#fdce31 495px,#fdce31 514px,#f8da2b 514px,#f8da2b 533px,#f5e427 533px,#f5e427 552px,#f5ec22 552px,#f5ec22 571px,#76cc61 571px,#76cc61 590px,#4ccb83 590px,#4ccb83 609px,#2ec4a5 609px,#2ec4a5 628px)"></i><i style="height:19px;background:linear-gradient(90deg,#2cc4a7 0px,#2cc4a7 19px,#44cb89 19px,#44cb89 38px,#76cc61 38px,#76cc61 57px,#a3c83f 57px,#a3c83f 76px,#f6f020 76px,#f6f020 95px,#f5e227 95px,#f5e227 114px,#fad62d 114px,#fad62d 133px,#feca33 133px,#feca33 152px,#fcbc3d 152px,#fcbc3d 171px,#eaba31 171px,#eaba31 190px,#c8c129 190px,#c8c129 209px,#a3c83f 209px,#a3c83f 228px,#7acc5d 228px,#7acc5d 247px,#58cc79 247px,#58cc79 266px,#3eca8f 266px,#3eca8f 285px,#33c69d 285px,#33c69d 304px,#2fc5a2 304px,#2fc5a2 324px,#3eca8f 324px,#3eca8f 343px,#5ccc76 343px,#5ccc76 362px,#76cc61 362px,#76cc61 381px,#a3c83f 381px,#a3c83f 400px,#c4c22a 400px,#c4c22a 419px,#debd29 419px,#debd29 438px,#f0ba36 438px,#f0ba36 457px,#fdbd3d 457px,#fdbd3d 476px,#fec835 476px,#fec835 495px,#fad62d 495px,#fad62d 514px,#f6e028 514px,#f6e028 533px,#f5ea24 533px,#f5ea24 552px,#91ca4c 552px,#91ca4c 571px,#71cd64 571px,#71cd64 590px,#44cb89 590px,#44cb89 609px,#2cc4a7 609px,#2cc4a7 628px)"></i><i style="height:19px;background:linear-gradient(90deg,#29c3a9 0px,#29c3a9 19px,#3eca8f 19px,#3eca8f 38px,#71cd64 38px,#71cd64 57px,#91ca4c 57px,#91ca4c 76px,#f6f020 76px,#f6f020 95px,#f5e626 95px,#f5e626 114px,#f7dc2a 114px,#f7dc2a 133px,#fdce31 133px,#fdce31 152px,#fec339 152px,#fec339 171px,#f5ba3a 171px,#f5ba3a 190px,#dabd28 190px,#dabd28 209px,#b9c431 209px,#b9c431 228px,#a3c83f 228px,#a3c83f 247px,#88cb53 247px,#88cb53 266px,#71cd64 266px,#71cd64 285px,#60cd72 285px,#60cd72 304px,#60cd72 304px,#60cd72 324px,#76cc61 324px,#76cc61 343px,#91ca4c 343px,#91ca4c 362px,#acc738 362px,#acc738 381px,#c4c22a 381px,#c4c22a 400px,#e1bc2b 400px,#e1bc2b 419px,#f0ba36 419px,#f0ba36 438px,#fec13a 438px,#fec13a 457px,#fdcc32 457px,#fdcc32 476px,#fad42e 476px,#fad42e 495px,#f5e227 495px,#f5e227 514px,#f5e825 514px,#f5e825 533px,#f6f020 533px,#f6f020 552px,#8dcb4f 552px,#8dcb4f 571px,#68cd6b 571px,#68cd6b 590px,#44cb89 590px,#44cb89 609px,#29c3a9 609px,#29c3a9 628px)"></i><i style="height:19px;background:linear-gradient(90deg,#24c2ae 0px,#24c2ae 19px,#35c79a 19px,#35c79a 38px,#60cd72 38px,#60cd72 57px,#7fcc5a 57px,#7fcc5a 76px,#acc738 76px,#acc738 95px,#f5ee21 95px,#f5ee21 114px,#f5e227 114px,#f5e227 133px,#fad42e 133px,#fad42e 152px,#fec835 152px,#fec835 171px,#fdbd3d 171px,#fdbd3d 190px,#edba33 190px,#edba33 209px,#d0c027 209px,#d0c027 228px,#c1c32d 228px,#c1c32d 247px,#a8c73b 247px,#a8c73b 266px,#9fc942 266px,#9fc942 285px,#96ca48 285px,#96ca48 304px,#91ca4c 304px,#91ca4c 324px,#a8c73b 324px,#a8c73b 343px,#b4c533 343px,#b4c533 362px,#d0c027 362px,#d0c027 381px,#e1bc2b 381px,#e1bc2b 400px,#f0ba36 400px,#f0ba36 419px,#fcbc3d 419px,#fcbc3d 438px,#fec437 438px,#fec437 457px,#fcd030 457px,#fcd030 476px,#f8da2b 476px,#f8da2b 495px,#f5e626 495px,#f5e626 514px,#f5ee21 514px,#f5ee21 533px,#acc738 533px,#acc738 552px,#88cb53 552px,#88cb53 571px,#60cd72 571px,#60cd72 590px,#41ca8c 590px,#41ca8c 609px,#27c2ac 609px,#27c2ac 628px)"></i><i style="height:19px;background:linear-gradient(90deg,#1ec0b2 0px,#1ec0b2 19px,#2cc4a7 19px,#2cc4a7 38px,#50cc80 38px,#50cc80 57px,#71cd64 57px,#71cd64 76px,#9fc942 76px,#9fc942 95px,#f5ee21 95px,#f5ee21 114px,#f5e427 114px,#f5e427 133px,#f8da2b 133px,#f8da2b 152px,#fdce31 152px,#fdce31 171px,#fec636 171px,#fec636 190px,#fcbc3d 190px,#fcbc3d 209px,#edba33 209px,#edba33 228px,#debd29 228px,#debd29 247px,#d0c027 247px,#d0c027 266px,#c8c129 266px,#c8c129 285px,#c4c22a 285px,#c4c22a 304px,#c4c22a 304px,#c4c22a 324px,#d0c027 324px,#d0c027 343px,#debd29 343px,#debd29 362px,#edba33 362px,#edba33 381px,#fcbc3d 381px,#fcbc3d 400px,#febf3b 400px,#febf3b 419px,#fec835 419px,#fec835 438px,#fad42e 438px,#fad42e 457px,#f6e028 457px,#f6e028 476px,#f5e825 476px,#f5e825 495px,#f6f020 495px,#f6f020 514px,#f7f31c 514px,#f7f31c 533px,#9fc942 533px,#9fc942 552px,#88cb53 552px,#88cb53 571px,#60cd72 571px,#60cd72 590px,#3eca8f 590px,#3eca8f 609px,#27c2ac 609px,#27c2ac 628px)"></i><i style="height:19px;background:linear-gradient(90deg,#27c2ac 0px,#27c2ac 19px,#35c79a 19px,#35c79a 38px,#3eca8f 38px,#3eca8f 57px,#58cc79 57px,#58cc79 76px,#76cc61 76px,#76cc61 95px,#9fc942 95px,#9fc942 114px,#f5ec22 114px,#f5ec22 133px,#f5e427 133px,#f5e427 152px,#f8da2b 152px,#f8da2b 171px,#fcd030 171px,#fcd030 190px,#fec835 190px,#fec835 209px,#fec13a 209px,#fec13a 228px,#f8ba3d 228px,#f8ba3d 247px,#edba33 247px,#edba33 266px,#e7bb2e 266px,#e7bb2e 285px,#e4bb2c 285px,#e4bb2c 304px,#eaba31 304px,#eaba31 324px,#f0ba36 324px,#f0ba36 343px,#fcbc3d 343px,#fcbc3d 362px,#fec13a 362px,#fec13a 381px,#fec835 381px,#fec835 400px,#fcd030 400px,#fcd030 419px,#f9d82c 419px,#f9d82c 438px,#f6e028 438px,#f6e028 457px,#f5e825 457px,#f5e825 476px,#f6f21e 476px,#f6f21e 495px,#f8f917 495px,#f8f917 514px,#c1c32d 514px,#c1c32d 533px,#9fc942 533px,#9fc942 552px,#84cc56 552px,#84cc56 571px,#5ccc76 571px,#5ccc76 590px,#3eca8f 590px,#3eca8f 609px,#24c2ae 609px,#24c2ae 628px)"></i><i style="height:19px;background:linear-gradient(90deg,#27c2ac 0px,#27c2ac 19px,#33c69d 19px,#33c69d 38px,#3eca8f 38px,#3eca8f 57px,#50cc80 57px,#50cc80 76px,#64cd6f 76px,#64cd6f 95px,#7fcc5a 95px,#7fcc5a 114px,#9fc942 114px,#9fc942 133px,#f5ec22 133px,#f5ec22 152px,#f5e427 152px,#f5e427 171px,#f7dc2a 171px,#f7dc2a 190px,#fad42e 190px,#fad42e 209px,#fdcc32 209px,#fdcc32 228px,#fec636 228px,#fec636 247px,#fec13a 247px,#fec13a 266px,#febf3b 266px,#febf3b 285px,#fdbd3d 285px,#fdbd3d 304px,#fdbd3d 304px,#fdbd3d 324px,#fec13a 324px,#fec13a 343px,#fec437 343px,#fec437 362px,#fdcc32 362px,#fdcc32 381px,#fad42e 381px,#fad42e 400px,#f7dc2a 400px,#f7dc2a 419px,#f5e227 419px,#f5e227 438px,#f5e825 438px,#f5e825 457px,#f6f21e 457px,#f6f21e 476px,#f8f917 476px,#f8f917 495px,#debd29 495px,#debd29 514px,#b4c533 514px,#b4c533 533px,#9fc942 533px,#9fc942 552px,#7acc5d 552px,#7acc5d 571px,#58cc79 571px,#58cc79 590px,#3bc992 590px,#3bc992 609px,#21c1b0 609px,#21c1b0 628px)"></i><i style="height:19px;background:linear-gradient(90deg,#29c3a9 0px,#29c3a9 19px,#31c6a0 19px,#31c6a0 38px,#3eca8f 38px,#3eca8f 57px,#50cc80 57px,#50cc80 76px,#60cd72 76px,#60cd72 95px,#7acc5d 95px,#7acc5d 114px,#91ca4c 114px,#91ca4c 133px,#b4c533 133px,#b4c533 152px,#f5ec22 152px,#f5ec22 171px,#f5e825 171px,#f5e825 190px,#f5e227 190px,#f5e227 209px,#f9d82c 209px,#f9d82c 228px,#fcd030 228px,#fcd030 247px,#fdce31 247px,#fdce31 266px,#fdce31 266px,#fdce31 285px,#fdce31 285px,#fdce31 304px,#fdce31 304px,#fdce31 324px,#fcd030 324px,#fcd030 343px,#f8da2b 343px,#f8da2b 362px,#f6e028 362px,#f6e028 381px,#f5e427 381px,#f5e427 400px,#f5e825 400px,#f5e825 419px,#f5ee21 419px,#f5ee21 438px,#f7f31c 438px,#f7f31c 457px,#f9fb15 457px,#f9fb15 476px,#e7bb2e 476px,#e7bb2e 495px,#ccc028 495px,#ccc028 514px,#b0c636 514px,#b0c636 533px,#91ca4c 533px,#91ca4c 552px,#76cc61 552px,#76cc61 571px,#54cc7d 571px,#54cc7d 590px,#35c79a 590px,#35c79a 609px,#1ec0b2 609px,#1ec0b2 628px)"></i><i style="height:19px;background:linear-gradient(90deg,#29c3a9 0px,#29c3a9 19px,#2ec4a5 19px,#2ec4a5 38px,#3bc992 38px,#3bc992 57px,#50cc80 57px,#50cc80 76px,#60cd72 76px,#60cd72 95px,#71cd64 95px,#71cd64 114px,#88cb53 114px,#88cb53 133px,#a8c73b 133px,#a8c73b 152px,#b4c533 152px,#b4c533 171px,#b9c431 171px,#b9c431 190px,#f5ee21 190px,#f5ee21 209px,#f5e825 209px,#f5e825 228px,#f5e427 228px,#f5e427 247px,#f5e227 247px,#f5e227 266px,#f6e028 266px,#f6e028 285px,#f6e028 285px,#f6e028 304px,#f5e227 304px,#f5e227 324px,#f6e028 324px,#f6e028 343px,#f5e825 343px,#f5e825 362px,#f6f020 362px,#f6f020 381px,#f6f21e 381px,#f6f21e 400px,#f7f51b 400px,#f7f51b 419px,#f8f917 419px,#f8f917 438px,#f2ba38 438px,#f2ba38 457px,#eaba31 457px,#eaba31 476px,#d0c027 476px,#d0c027 495px,#c4c22a 495px,#c4c22a 514px,#a8c73b 514px,#a8c73b 533px,#8dcb4f 533px,#8dcb4f 552px,#71cd64 552px,#71cd64 571px,#50cc80 571px,#50cc80 590px,#35c79a 590px,#35c79a 609px,#1ec0b2 609px,#1ec0b2 628px)"></i><i style="height:19px;background:linear-gradient(90deg,#29c3a9 0px,#29c3a9 19px,#2cc4a7 19px,#2cc4a7 38px,#37c898 38px,#37c898 57px,#4ccb83 57px,#4ccb83 76px,#58cc79 76px,#58cc79 95px,#68cd6b 95px,#68cd6b 114px,#7fcc5a 114px,#7fcc5a 133px,#91ca4c 133px,#91ca4c 152px,#a8c73b 152px,#a8c73b 171px,#b0c636 171px,#b0c636 190px,#bdc42f 190px,#bdc42f 209px,#c8c129 209px,#c8c129 228px,#f5ee21 228px,#f5ee21 247px,#f6f020 247px,#f6f020 266px,#f6f020 266px,#f6f020 285px,#f6f020 285px,#f6f020 304px,#f6f020 304px,#f6f020 324px,#f6f21e 324px,#f6f21e 343px,#f7f51b 343px,#f7f51b 362px,#f8f917 362px,#f8f917 381px,#f9fb15 381px,#f9fb15 400px,#f0ba36 400px,#f0ba36 419px,#f0ba36 419px,#f0ba36 438px,#eaba31 438px,#eaba31 457px,#d7be28 457px,#d7be28 476px,#c8c129 476px,#c8c129 495px,#bdc42f 495px,#bdc42f 514px,#a8c73b 514px,#a8c73b 533px,#88cb53 533px,#88cb53 552px,#64cd6f 552px,#64cd6f 571px,#4ccb83 571px,#4ccb83 590px,#33c69d 590px,#33c69d 609px,#1ec0b2 609px,#1ec0b2 628px)"></i><i style="height:19px;background:linear-gradient(90deg,#29c3a9 0px,#29c3a9 19px,#2cc4a7 19px,#2cc4a7 38px,#35c79a 38px,#35c79a 57px,#48cb86 57px,#48cb86 76px,#50cc80 76px,#50cc80 95px,#60cd72 95px,#60cd72 114px,#76cc61 114px,#76cc61 133px,#8dcb4f 133px,#8dcb4f 152px,#91ca4c 152px,#91ca4c 171px,#a3c83f 171px,#a3c83f 190px,#acc738 190px,#acc738 209px,#c4c22a 209px,#c4c22a 228px,#d0c027 228px,#d0c027 247px,#d7be28 247px,#d7be28 266px,#e4bb2c 266px,#e4bb2c 285px,#f0ba36 285px,#f0ba36 304px,#f5ba3a 304px,#f5ba3a 324px,#f5ba3a 324px,#f5ba3a 343px,#f5ba3a 343px,#f5ba3a 362px,#f5ba3a 362px,#f5ba3a 381px,#f8ba3d 381px,#f8ba3d 400px,#f0ba36 400px,#f0ba36 419px,#edba33 419px,#edba33 438px,#e1bc2b 438px,#e1bc2b 457px,#d3bf27 457px,#d3bf27 476px,#c8c129 476px,#c8c129 495px,#b9c431 495px,#b9c431 514px,#9fc942 514px,#9fc942 533px,#7acc5d 533px,#7acc5d 552px,#60cd72 552px,#60cd72 571px,#48cb86 571px,#48cb86 590px,#31c6a0 590px,#31c6a0 609px,#1ec0b2 609px,#1ec0b2 628px)"></i><i style="height:19px;background:linear-gradient(90deg,#29c3a9 0px,#29c3a9 19px,#2cc4a7 19px,#2cc4a7 38px,#33c69d 38px,#33c69d 57px,#44cb89 57px,#44cb89 76px,#50cc80 76px,#50cc80 95px,#60cd72 95px,#60cd72 114px,#71cd64 114px,#71cd64 133px,#88cb53 133px,#88cb53 152px,#91ca4c 152px,#91ca4c 171px,#9fc942 171px,#9fc942 190px,#a8c73b 190px,#a8c73b 209px,#b0c636 209px,#b0c636 228px,#c8c129 228px,#c8c129 247px,#d0c027 247px,#d0c027 266px,#d7be28 266px,#d7be28 285px,#e1bc2b 285px,#e1bc2b 304px,#edba33 304px,#edba33 324px,#f5ba3a 324px,#f5ba3a 343px,#f5ba3a 343px,#f5ba3a 362px,#f8ba3d 362px,#f8ba3d 381px,#fabb3d 381px,#fabb3d 400px,#edba33 400px,#edba33 419px,#e4bb2c 419px,#e4bb2c 438px,#dabd28 438px,#dabd28 457px,#d3bf27 457px,#d3bf27 476px,#c4c22a 476px,#c4c22a 495px,#b4c533 495px,#b4c533 514px,#96ca48 514px,#96ca48 533px,#76cc61 533px,#76cc61 552px,#58cc79 552px,#58cc79 571px,#44cb89 571px,#44cb89 590px,#2fc5a2 590px,#2fc5a2 609px,#1ec0b2 609px,#1ec0b2 628px)"></i><i style="height:19px;background:linear-gradient(90deg,#29c3a9 0px,#29c3a9 19px,#29c3a9 19px,#29c3a9 38px,#2fc5a2 38px,#2fc5a2 57px,#41ca8c 57px,#41ca8c 76px,#48cb86 76px,#48cb86 95px,#58cc79 95px,#58cc79 114px,#68cd6b 114px,#68cd6b 133px,#7acc5d 133px,#7acc5d 152px,#84cc56 152px,#84cc56 171px,#8dcb4f 171px,#8dcb4f 190px,#96ca48 190px,#96ca48 209px,#9fc942 209px,#9fc942 228px,#b9c431 228px,#b9c431 247px,#c4c22a 247px,#c4c22a 266px,#d0c027 266px,#d0c027 285px,#d0c027 285px,#d0c027 304px,#e4bb2c 304px,#e4bb2c 324px,#eaba31 324px,#eaba31 343px,#eaba31 343px,#eaba31 362px,#eaba31 362px,#eaba31 381px,#e7bb2e 381px,#e7bb2e 400px,#dabd28 400px,#dabd28 419px,#d3bf27 419px,#d3bf27 438px,#d0c027 438px,#d0c027 457px,#c4c22a 457px,#c4c22a 476px,#c1c32d 476px,#c1c32d 495px,#a8c73b 495px,#a8c73b 514px,#8dcb4f 514px,#8dcb4f 533px,#71cd64 533px,#71cd64 552px,#58cc79 552px,#58cc79 571px,#3eca8f 571px,#3eca8f 590px,#2ec4a5 590px,#2ec4a5 609px,#21c1b0 609px,#21c1b0 628px)"></i></div>
<div class="p" style="left:845.7px;top:79.3px;width:628.4px;height:629.2px"><i style="height:5px;background:linear-gradient(90deg,#f5e426,#f7db2a,#fbd32e,#fdcc32,#fec537,#fec03b,#fbbc3d,#f8ba3d,#f4ba3a,#f3ba38,#f3ba38,#f5ba3a,#f8ba3d,#fcbd3d,#fec13a,#fec735,#fccf30,#f8d82c,#f5e327,#f5ed21,#f8f818)"></i><i style="height:5px;background:linear-gradient(90deg,#f6de29,#fad52d,#fdcd32,#fec636,#febf3b,#fabb3d,#f4ba3a,#efba35,#ecba32,#eabb30,#eabb30,#ecba32,#f0ba36,#f6ba3b,#fcbc3d,#fec239,#fec934,#fbd22f,#f7dc2a,#f5e725,#f6f31d)"></i><i style="height:5px;background:linear-gradient(90deg,#f9d82c,#fccf30,#fec735,#fec03b,#fabb3d,#f3ba38,#ecba32,#e6bb2d,#e2bc2b,#e0bc2a,#e0bc2a,#e2bc2b,#e7bb2e,#edba33,#f5ba3a,#fcbd3d,#fec338,#fdcc32,#f9d62d,#f5e128,#f5ed22)"></i><i style="height:5px;background:linear-gradient(90deg,#fbd22f,#fec934,#fec13a,#fabc3d,#f2ba38,#eabb30,#e2bc2b,#dcbd29,#d7be28,#d5be28,#d5be28,#d8be28,#ddbd29,#e4bb2c,#ecba33,#f6ba3b,#febe3c,#fec636,#fcd030,#f7db2a,#f5e725)"></i><i style="height:5px;background:linear-gradient(90deg,#fdcc32,#fec338,#fcbc3d,#f3ba39,#eabb30,#e0bc2a,#d8be28,#d1bf27,#ccc028,#cac129,#cac129,#cdc028,#d2bf27,#dabd28,#e3bc2c,#edba34,#f8ba3d,#fec13a,#feca33,#fad52d,#f5e128)"></i><i style="height:5px;background:linear-gradient(90deg,#fec636,#febe3c,#f6ba3b,#ebba31,#e0bc2a,#d6be28,#cdc028,#c5c22a,#c0c32d,#bec32e,#bec32e,#c1c32c,#c7c12a,#cfc028,#d9be28,#e4bb2c,#f0ba36,#fbbc3d,#fec537,#fccf30,#f7dc2a)"></i><i style="height:5px;background:linear-gradient(90deg,#fec03a,#f9ba3d,#edba34,#e2bc2b,#d6be28,#cbc129,#c1c32c,#b9c430,#b4c534,#b1c635,#b1c635,#b4c533,#bac430,#c3c22b,#cec028,#dbbd28,#e8bb2f,#f5ba3a,#febf3b,#feca33,#fad62d)"></i><i style="height:5px;background:linear-gradient(90deg,#fbbc3d,#f1ba37,#e5bb2c,#d8be28,#cbc129,#bfc32d,#b5c533,#acc738,#a7c73c,#a4c83e,#a4c83e,#a7c73c,#aec637,#b7c532,#c3c22b,#d0bf27,#dfbc2a,#edba33,#fabb3d,#fec437,#fcd030)"></i><i style="height:5px;background:linear-gradient(90deg,#f5ba3a,#e8bb2f,#dbbd29,#cdc028,#c0c32d,#b3c534,#a8c73b,#9fc941,#99c946,#96ca48,#96ca48,#9ac946,#a0c841,#aac73a,#b7c532,#c5c22a,#d5be28,#e4bb2c,#f4ba39,#febf3b,#fdcb33)"></i><i style="height:5px;background:linear-gradient(90deg,#edba33,#dfbc2a,#d1bf27,#c2c22c,#b4c534,#a6c83c,#9bc945,#92ca4c,#8bcb50,#88cb53,#88cb53,#8ccb50,#93ca4b,#9dc943,#aac73a,#b9c430,#cac129,#dbbd29,#ecba32,#fabb3d,#fec537)"></i><i style="height:5px;background:linear-gradient(90deg,#e4bb2c,#d6be28,#c6c22a,#b6c532,#a7c73c,#99c946,#8dcb4f,#84cc56,#7ecc5b,#7acc5d,#7acc5d,#7ecc5b,#85cb55,#90ca4d,#9dc943,#adc638,#bfc32e,#d1bf27,#e3bc2c,#f4ba39,#fec03a)"></i><i style="height:5px;background:linear-gradient(90deg,#dbbd29,#cbc029,#bbc430,#aac73a,#9ac945,#8ccb50,#80cc59,#76cc60,#70cd65,#6dcd68,#6dcd68,#70cd65,#77cc5f,#82cc58,#90ca4d,#a0c841,#b3c534,#c7c12a,#dabd28,#ecba33,#fcbc3d)"></i><i style="height:5px;background:linear-gradient(90deg,#d2bf27,#c1c32d,#afc637,#9ec942,#8dcb4f,#7fcc5a,#72cd63,#69cd6b,#63cd70,#60cd72,#60cd72,#63cd6f,#6acd6a,#74cc62,#83cc57,#94ca4a,#a7c73c,#bcc42f,#d0bf27,#e4bb2c,#f6ba3b)"></i><i style="height:5px;background:linear-gradient(90deg,#c7c12a,#b5c533,#a3c83f,#91ca4c,#80cc59,#71cd64,#65cd6e,#5dcc75,#57cc7a,#54cc7c,#54cc7c,#57cc7a,#5ecc74,#67cd6c,#75cc61,#87cb54,#9ac945,#b0c636,#c6c22a,#dcbd29,#efba35)"></i><i style="height:5px;background:linear-gradient(90deg,#bcc42f,#aac73a,#97ca48,#84cc56,#73cd63,#65cd6e,#5acc78,#51cc7f,#4bcb83,#49cb86,#49cb85,#4ccb83,#52cc7e,#5bcc76,#68cd6b,#79cc5e,#8ecb4f,#a4c83e,#bcc42f,#d2bf27,#e7bb2e)"></i><i style="height:5px;background:linear-gradient(90deg,#b1c635,#9ec943,#8acb52,#77cc60,#67cd6d,#59cc78,#4ecc81,#46cb88,#41ca8c,#3fca8e,#3fca8e,#41ca8c,#47cb87,#50cc80,#5dcc75,#6dcd68,#81cc58,#98c947,#b0c636,#c9c129,#dfbc2a)"></i><i style="height:5px;background:linear-gradient(90deg,#a5c83d,#91ca4c,#7dcc5b,#6bcd69,#5bcc76,#4ecc81,#44cb8a,#3dc990,#39c994,#38c896,#38c896,#3ac994,#3eca90,#45cb88,#51cc7f,#61cd72,#74cc62,#8ccb50,#a5c83d,#bec32e,#d6be28)"></i><i style="height:5px;background:linear-gradient(90deg,#9ac946,#85cb55,#71cd64,#5fcd73,#50cc7f,#44cb8a,#3cc992,#36c898,#34c79c,#32c69e,#32c69e,#34c79c,#37c898,#3dc991,#47cb87,#56cc7b,#68cd6b,#80cc59,#9ac946,#b4c534,#cdc028)"></i><i style="height:5px;background:linear-gradient(90deg,#8ecb4f,#79cc5e,#65cd6e,#54cc7c,#46cb88,#3cc992,#35c79a,#31c69f,#2fc5a3,#2dc4a5,#2dc4a5,#2fc5a3,#32c69f,#36c899,#3eca90,#4bcb84,#5dcc75,#73cd62,#8ecb4f,#a9c73a,#c4c22b)"></i><i style="height:5px;background:linear-gradient(90deg,#82cc58,#6dcd68,#5acc77,#4acb85,#3dc990,#36c799,#30c5a1,#2dc4a6,#29c3aa,#27c2ac,#27c2ac,#29c3aa,#2dc4a6,#31c6a0,#37c897,#41ca8c,#52cc7e,#68cd6c,#82cc58,#9ec942,#bac430)"></i><i style="height:5px;background:linear-gradient(90deg,#76cc61,#62cd71,#50cc80,#41ca8d,#37c897,#31c6a0,#2cc4a7,#26c2ac,#21c1b0,#1fc0b2,#1fc0b2,#22c1b0,#26c2ac,#2cc4a6,#32c69e,#3ac994,#48cb86,#5dcc75,#76cc60,#93ca4b,#b0c636)"></i><i style="height:5px;background:linear-gradient(90deg,#6acd6a,#57cc7a,#46cb88,#3ac994,#32c69e,#2cc4a7,#25c2ad,#1dc0b3,#18bfb6,#14beb8,#14beb8,#18bfb6,#1ec0b2,#26c2ad,#2dc4a5,#34c79b,#3fca8e,#53cc7d,#6bcd69,#88cb53,#a6c83d)"></i><i style="height:5px;background:linear-gradient(90deg,#60cd73,#4dcc82,#3eca8f,#34c79b,#2dc4a5,#26c2ad,#1cc0b3,#13beb9,#0cbdbc,#09bdbe,#09bcbe,#0cbdbc,#13beb8,#1dc0b3,#27c2ab,#30c5a2,#39c895,#49cb85,#60cd72,#7dcc5c,#9bc944)"></i><i style="height:5px;background:linear-gradient(90deg,#56cc7b,#44cb8a,#38c897,#30c5a2,#28c2ab,#1dc0b3,#11beb9,#09bcbe,#04bbc2,#02bac4,#02bac4,#04bbc2,#09bcbe,#13beb9,#20c1b1,#2bc3a8,#34c79c,#40ca8d,#57cc7a,#71cd64,#91ca4c)"></i><i style="height:5px;background:linear-gradient(90deg,#4ccb83,#3cc991,#33c69d,#2bc3a8,#20c1b1,#13beb8,#08bcbf,#02bac4,#01b9c7,#01b8c9,#01b8c9,#01b9c7,#02bac4,#09bcbe,#16bfb7,#25c2ae,#2fc5a2,#3ac994,#4dcc82,#67cd6c,#86cb54)"></i><i style="height:5px;background:linear-gradient(90deg,#43ca8a,#37c898,#2fc5a3,#25c2ad,#17bfb6,#09bcbe,#02bac4,#01b8c9,#04b6cd,#06b5ce,#06b5ce,#04b6cd,#01b8c9,#02bac4,#0bbdbd,#1cc0b3,#2bc3a8,#35c79b,#44cb89,#5dcc74,#7ccc5c)"></i><i style="height:5px;background:linear-gradient(90deg,#3cc991,#32c69e,#2ac3a9,#1dc0b3,#0dbdbc,#02bac3,#01b8ca,#06b5ce,#0ab4d2,#0db3d3,#0db3d3,#0ab4d2,#06b5ce,#01b8c9,#04bbc2,#12beb9,#25c2ae,#30c5a1,#3dc990,#54cc7c,#71cd64)"></i><i style="height:5px;background:linear-gradient(90deg,#36c898,#2ec5a4,#24c1af,#14beb8,#05bbc1,#01b8c8,#06b5cf,#0db3d3,#12b1d6,#14b0d8,#14b0d8,#12b1d7,#0db3d3,#06b6ce,#01b9c7,#09bcbe,#1cc0b3,#2cc4a6,#37c897,#4bcb83,#67cd6c)"></i><i style="height:5px;background:linear-gradient(90deg,#32c69e,#29c3a9,#1bc0b4,#0abdbd,#01b9c6,#05b6cd,#0db3d3,#14b0d8,#17aedb,#19addc,#19addc,#18aedb,#14b0d8,#0cb3d3,#03b7cc,#02bac3,#13beb9,#27c2ac,#33c69d,#43ca8a,#5ecd74)"></i><i style="height:5px;background:linear-gradient(90deg,#2ec5a4,#24c1af,#12beb9,#03bbc2,#02b7cb,#0bb4d2,#14b0d8,#19addc,#1babde,#1ca9df,#1ca9df,#1baade,#19addc,#13b0d7,#09b4d1,#01b8c8,#09bdbe,#20c1b1,#2fc5a3,#3dc991,#56cc7b)"></i><i style="height:5px;background:linear-gradient(90deg,#2ac3a9,#1cc0b4,#09bcbe,#01b9c7,#07b5cf,#12b1d6,#19addc,#1caadf,#1ea7e1,#1fa6e2,#1fa6e2,#1ea7e1,#1caadf,#18addb,#11b1d6,#04b6cd,#03bbc3,#17bfb6,#2bc3a8,#37c897,#4dcc82)"></i><i style="height:5px;background:linear-gradient(90deg,#24c1ae,#13beb9,#03bbc3,#03b7cc,#0eb2d4,#17aeda,#1caadf,#1fa6e1,#21a4e3,#22a2e4,#22a2e4,#21a3e3,#1fa6e2,#1caadf,#16afda,#0ab4d2,#01b9c7,#0ebdbb,#26c2ad,#33c79c,#46cb88)"></i><i style="height:5px;background:linear-gradient(90deg,#1dc0b3,#0abdbd,#01b9c7,#08b5d0,#14b0d8,#1aabdd,#1ea7e1,#21a3e3,#23a0e5,#249fe6,#249fe6,#23a0e5,#21a3e4,#1ea7e1,#1aacdd,#11b1d6,#03b7cc,#07bcc0,#1fc0b2,#30c5a2,#3fca8e)"></i><i style="height:5px;background:linear-gradient(90deg,#14bfb8,#04bbc2,#03b7cc,#0fb2d4,#18addb,#1da8e0,#21a3e3,#239fe5,#259de7,#259be8,#259be8,#259ce7,#249fe5,#21a3e3,#1da9e0,#16aeda,#08b4d0,#02bac4,#17bfb6,#2cc4a7,#3ac994)"></i><i style="height:5px;background:linear-gradient(90deg,#0cbdbc,#01b9c6,#07b5d0,#14b0d8,#1baade,#20a5e2,#23a0e5,#259ce7,#2699e9,#2797ea,#2797eb,#2699ea,#259be7,#23a0e5,#1fa5e2,#1aacdd,#0fb2d4,#01b8c9,#0ebebb,#27c2ab,#36c799)"></i><i style="height:5px;background:linear-gradient(90deg,#05bbc1,#02b7cb,#0eb2d4,#19addc,#1ea7e1,#22a2e4,#259de7,#2698ea,#2895ec,#2994ed,#2a93ed,#2895ec,#2798ea,#259ce7,#22a2e4,#1da9e0,#14b0d8,#04b6cd,#07bcbf,#22c1b0,#32c69e)"></i><i style="height:5px;background:linear-gradient(90deg,#02bac5,#06b5cf,#13b0d7,#1baade,#20a4e3,#249ee6,#2699e9,#2895ec,#2b92ef,#2c90f0,#2c90f0,#2b91ef,#2994ed,#2699e9,#249fe6,#1fa6e2,#19addc,#09b4d1,#02bac4,#1bc0b4,#2fc5a3)"></i><i style="height:5px;background:linear-gradient(90deg,#01b8c9,#0bb3d2,#18aedb,#1ea8e1,#22a1e4,#259be8,#2896ec,#2b91ef,#2c8ef1,#2d8cf3,#2d8cf3,#2d8df2,#2b91ef,#2895ec,#259be7,#21a2e4,#1baade,#0fb2d5,#01b9c8,#13beb8,#2cc4a7)"></i><i style="height:5px;background:linear-gradient(90deg,#04b6cd,#12b1d6,#1aabdd,#20a5e3,#249ee6,#2798ea,#2a92ee,#2c8ef2,#2d8af4,#2d88f6,#2d88f6,#2d89f5,#2d8df2,#2b92ee,#2798ea,#239fe5,#1ea8e1,#14b0d8,#03b7cb,#0bbdbc,#27c2ac)"></i><i style="height:5px;background:linear-gradient(90deg,#08b4d1,#16afd9,#1da9e0,#22a2e4,#259be8,#2995ec,#2c8ff1,#2d8af4,#2e86f7,#2e84f8,#2e84f8,#2e86f8,#2d89f5,#2c8ef1,#2995ec,#259ce7,#20a5e3,#18addb,#07b5cf,#06bcc0,#22c1b0)"></i><i style="height:5px;background:linear-gradient(90deg,#0eb2d4,#19addc,#1fa6e2,#249fe5,#2798ea,#2b91ef,#2d8bf3,#2e86f7,#2f83f9,#2f80fa,#3080fa,#2f82fa,#2e85f8,#2d8bf4,#2b91ef,#2699e9,#22a2e4,#1babde,#0cb3d3,#02bac4,#1cc0b3)"></i><i style="height:5px;background:linear-gradient(90deg,#13b0d7,#1baadf,#21a3e3,#259ce7,#2895ec,#2c8ef1,#2d88f6,#2e83f9,#307ffb,#327cfc,#327cfc,#317efb,#2f82fa,#2e87f7,#2c8ef1,#2896eb,#249fe5,#1da8e0,#12b1d6,#01b9c8,#16bfb7)"></i><i style="height:5px;background:linear-gradient(90deg,#17aeda,#1ea8e0,#23a1e5,#2699e9,#2b92ee,#2d8bf4,#2e84f8,#307ffb,#337bfd,#3578fd,#3678fe,#347afd,#317efb,#2e83f9,#2d8bf4,#2a93ee,#259ce7,#1fa6e2,#15afd9,#02b7cb,#0fbebb)"></i><i style="height:5px;background:linear-gradient(90deg,#1aacdd,#1fa5e2,#249ee6,#2796eb,#2c8ff1,#2d88f6,#2f81fa,#327bfc,#3777fe,#3a74fe,#3a74fe,#3875fe,#347afd,#3080fb,#2e87f7,#2c90f0,#2699e9,#21a3e3,#19addc,#06b5ce,#09bcbe)"></i><i style="height:5px;background:linear-gradient(90deg,#1caadf,#21a3e3,#259be8,#2994ed,#2d8cf3,#2e84f8,#317dfb,#3677fe,#3b73fe,#3d70ff,#3e6fff,#3c71ff,#3876fe,#327cfc,#2e84f9,#2d8df2,#2796eb,#23a1e5,#1babde,#0ab4d1,#04bbc1)"></i><i style="height:5px;background:linear-gradient(90deg,#1ea8e1,#23a0e5,#2699e9,#2b91ef,#2d89f5,#2f81fa,#347afd,#3a73fe,#3f6fff,#406cfe,#416bfe,#3f6dfe,#3c72ff,#3678fd,#2f80fa,#2d8af5,#2994ed,#249ee6,#1da9e0,#0fb2d4,#02bac5)"></i><i style="height:5px;background:linear-gradient(90deg,#1fa5e2,#249ee6,#2796eb,#2c8ef1,#2e86f7,#317efb,#3776fe,#3e70ff,#416bfe,#4368fe,#4368fd,#4269fe,#3f6efe,#3974fe,#317dfc,#2e86f7,#2b91ef,#259ce7,#1fa6e1,#13b0d7,#01b9c8)"></i><i style="height:5px;background:linear-gradient(90deg,#21a3e3,#259ce7,#2994ed,#2d8bf3,#2e83f9,#337bfd,#3b73fe,#406cfe,#4367fd,#4464fd,#4564fd,#4466fd,#426afe,#3d70ff,#3479fd,#2e83f9,#2c8ef1,#2699e9,#20a4e3,#16afda,#02b7cb)"></i><i style="height:5px;background:linear-gradient(90deg,#23a1e4,#2699e9,#2b91ef,#2d89f6,#3080fa,#3677fe,#3e6fff,#4368fe,#4564fd,#4561fc,#4660fc,#4562fc,#4466fd,#406dfe,#3876fe,#2f80fa,#2d8bf3,#2797eb,#22a2e4,#19addc,#05b6cd)"></i><i style="height:5px;background:linear-gradient(90deg,#249fe6,#2797eb,#2c8ff1,#2e86f7,#317dfc,#3a74fe,#416cfe,#4465fd,#4660fc,#465dfb,#465dfa,#465ffb,#4563fc,#4269fe,#3b72fe,#317dfc,#2d89f6,#2994ed,#23a0e5,#1babde,#07b5d0)"></i><i style="height:5px;background:linear-gradient(90deg,#259de7,#2995ec,#2d8cf3,#2e83f9,#347afd,#3d71ff,#4369fe,#4562fc,#465dfa,#475af9,#4759f9,#475bf9,#465ffb,#4466fd,#3e6fff,#347afd,#2e86f7,#2b92ee,#249ee6,#1ca9df,#0bb3d2)"></i><i style="height:5px;background:linear-gradient(90deg,#269be8,#2a93ee,#2d8af5,#2f81fa,#3677fe,#3f6efe,#4465fd,#465ffb,#475af9,#4757f7,#4756f7,#4758f8,#475cfa,#4563fc,#416cfe,#3777fe,#2e83f9,#2c8ff0,#259ce7,#1ea7e1,#0fb2d5)"></i><i style="height:5px;background:linear-gradient(90deg,#2699ea,#2b90ef,#2d88f6,#317efb,#3974fe,#416bfe,#4563fc,#475cfa,#4757f7,#4854f5,#4853f5,#4755f6,#4759f8,#4660fb,#4369fe,#3a74fe,#2f81fa,#2d8df2,#2699e9,#1fa6e2,#13b1d7)"></i><i style="height:5px;background:linear-gradient(90deg,#2797eb,#2c8ef1,#2e85f8,#327cfc,#3c71ff,#4368fe,#4660fb,#4759f8,#4854f5,#4851f3,#4850f2,#4852f4,#4756f7,#475dfa,#4466fd,#3d71ff,#317efb,#2d8bf4,#2798ea,#20a4e3,#15afd9)"></i><i style="height:5px;background:linear-gradient(90deg,#2995ec,#2d8cf3,#2e83f9,#3479fd,#3e6fff,#4465fd,#465dfa,#4756f7,#4851f3,#484df1,#484df0,#484ef1,#4853f5,#475af9,#4563fc,#3f6eff,#327bfc,#2d89f6,#2896ec,#22a2e4,#17aedb)"></i><i style="height:5px;background:linear-gradient(90deg,#2a93ee,#2d8af4,#2f81fa,#3777fe,#406cfe,#4563fc,#475af9,#4853f5,#484ef1,#484bee,#484aed,#484bef,#4850f3,#4757f7,#4660fb,#416bfe,#3579fd,#2e86f7,#2994ed,#23a0e5,#19acdc)"></i><i style="height:5px;background:linear-gradient(90deg,#2b91ef,#2d88f6,#307ffb,#3974fe,#426afe,#4660fc,#4758f8,#4851f3,#484bef,#4848ec,#4747eb,#4848ec,#484df0,#4854f5,#465dfb,#4369fe,#3776fe,#2e84f8,#2b92ee,#249fe6,#1babde)"></i><i style="height:5px;background:linear-gradient(90deg,#2c8ff0,#2e87f7,#317dfc,#3b72ff,#4368fd,#465efb,#4756f6,#484ef1,#4848ec,#4745e9,#4744e8,#4746ea,#484aee,#4852f4,#475bf9,#4466fd,#3a74fe,#2f82f9,#2c90f0,#249de6,#1caadf)"></i><i style="height:5px;background:linear-gradient(90deg,#2c8ef2,#2e85f8,#337bfc,#3d70ff,#4466fd,#475cfa,#4853f5,#484cef,#4746ea,#4742e6,#4741e5,#4743e7,#4848ec,#484ff2,#4758f8,#4564fd,#3c71ff,#2f80fa,#2c8ef1,#259ce7,#1da9e0)"></i><i style="height:5px;background:linear-gradient(90deg,#2d8cf3,#2e83f9,#3579fd,#3f6eff,#4564fd,#475af9,#4851f3,#4849ed,#4743e7,#473fe3,#473ee2,#4740e4,#4745e9,#484cf0,#4756f7,#4562fc,#3e6fff,#317efb,#2d8df2,#269ae8,#1ea7e1)"></i><i style="height:5px;background:linear-gradient(90deg,#2d8bf4,#2f82fa,#3677fe,#406cfe,#4562fc,#4758f8,#484ff2,#4747eb,#4741e5,#463de0,#463cde,#463ee1,#4742e6,#484aee,#4854f5,#465ffb,#406dfe,#327cfc,#2d8bf4,#2699e9,#1fa6e2)"></i><i style="height:5px;background:linear-gradient(90deg,#2d89f5,#3080fa,#3875fe,#416afe,#4660fb,#4756f7,#484df0,#4745e9,#473fe2,#463bdc,#463adb,#463bdd,#4740e4,#4848ec,#4852f4,#465dfb,#416bfe,#337bfd,#2d89f5,#2798ea,#20a5e2)"></i><i style="height:5px;background:linear-gradient(90deg,#2d88f6,#307efb,#3a74fe,#4369fe,#465efb,#4854f6,#484bef,#4743e7,#463ddf,#4539d9,#4538d7,#4639da,#463ee1,#4746ea,#4850f2,#475cfa,#4269fe,#3579fd,#2d88f6,#2796eb,#20a4e3)"></i><i style="height:5px;background:linear-gradient(90deg,#2e87f7,#317dfc,#3b72ff,#4367fd,#475dfa,#4853f5,#4849ed,#4741e5,#463bdc,#4537d5,#4536d3,#4537d6,#463cde,#4743e8,#484ef1,#475af9,#4367fd,#3777fe,#2e87f7,#2895ec,#21a3e3)"></i><i style="height:5px;background:linear-gradient(90deg,#2e85f8,#327cfc,#3d71ff,#4466fd,#475bfa,#4851f3,#4848ec,#473fe3,#4539d9,#4435d2,#4434cf,#4536d2,#463adb,#4741e5,#484cef,#4758f8,#4466fd,#3875fe,#2e85f8,#2994ed,#22a2e4)"></i><i style="height:5px;background:linear-gradient(90deg,#2e84f8,#337bfd,#3e70ff,#4465fd,#475af9,#4850f2,#4746ea,#463ee0,#4537d6,#4434ce,#4433cb,#4434cf,#4538d8,#4740e3,#484aee,#4756f7,#4464fd,#3a74fe,#2e84f8,#2a93ee,#23a1e4)"></i><i style="height:5px;background:linear-gradient(90deg,#2e83f9,#3479fd,#3f6eff,#4563fd,#4759f8,#484ff1,#4745e9,#463cde,#4536d3,#4332cb,#4331c7,#4433cb,#4537d5,#463ee1,#4849ec,#4755f6,#4563fc,#3b72fe,#2e83f9,#2b92ee,#23a0e5)"></i><i style="height:5px;background:linear-gradient(90deg,#2f82f9,#3578fd,#3f6dfe,#4562fc,#4758f8,#484df1,#4743e7,#463bdc,#4435d0,#4331c7,#4230c4,#4331c7,#4435d1,#463cdf,#4747eb,#4854f5,#4561fc,#3c71ff,#2f82fa,#2b91ef,#249fe5)"></i><i style="height:5px;background:linear-gradient(90deg,#2f82fa,#3677fe,#406cfe,#4561fc,#4757f7,#484cf0,#4742e6,#463ada,#4434ce,#4230c4,#422fc1,#4230c4,#4434cf,#463bdd,#4746ea,#4852f4,#4660fc,#3d70ff,#2f81fa,#2b90f0,#249ee6)"></i><i style="height:5px;background:linear-gradient(90deg,#2f81fa,#3777fe,#416cfe,#4661fc,#4756f6,#484bef,#4741e5,#4539d8,#4433cb,#422fc1,#412ebe,#422fc1,#4433cc,#463ada,#4744e8,#4851f3,#465ffb,#3e6fff,#3080fa,#2c8ff0,#249ee6)"></i><i style="height:5px;background:linear-gradient(90deg,#3080fa,#3876fe,#416bfe,#4660fb,#4755f6,#484aee,#4740e4,#4538d7,#4332c9,#422ebf,#412dbb,#422ebe,#4332c9,#4539d9,#4743e7,#4850f3,#465efb,#3f6efe,#307ffb,#2c8ff1,#249de6)"></i><i style="height:5px;background:linear-gradient(90deg,#307ffb,#3875fe,#426afe,#465ffb,#4854f6,#484aed,#473fe3,#4537d5,#4331c7,#412dbd,#412cb9,#412dbc,#4331c7,#4538d7,#4742e6,#484ff2,#465dfa,#406dfe,#317efb,#2c8ef1,#259de7)"></i><i style="height:5px;background:linear-gradient(90deg,#307ffb,#3975fe,#426afe,#465ffb,#4854f5,#4849ed,#473fe2,#4536d4,#4330c5,#412cbb,#402bb6,#412cba,#4330c5,#4537d5,#4741e5,#484ef1,#475cfa,#406cfe,#317efb,#2d8df2,#259ce7)"></i><i style="height:5px;background:linear-gradient(90deg,#307ffb,#3974fe,#4269fe,#465efb,#4853f5,#4849ed,#473ee1,#4536d3,#4230c4,#412cb9,#402ab5,#402bb8,#4230c3,#4536d3,#4740e4,#484df1,#475cfa,#416bfe,#317dfc,#2d8df2,#259ce7)"></i><i style="height:5px;background:linear-gradient(90deg,#317efb,#3a74fe,#4269fe,#465efb,#4853f5,#4848ec,#463ee1,#4435d2,#422fc2,#402bb7,#402ab3,#402bb6,#422fc1,#4535d2,#473fe3,#484df0,#475bf9,#416bfe,#327cfc,#2d8cf3,#259be7)"></i><i style="height:5px;background:linear-gradient(90deg,#317efb,#3a74fe,#4369fe,#465efb,#4853f5,#4848ec,#463de0,#4435d1,#422fc1,#402bb6,#3f29b2,#402ab5,#422ec0,#4435d1,#473fe2,#484cf0,#475bf9,#416afe,#327cfc,#2d8cf3,#259be8)"></i><i style="height:5px;background:linear-gradient(90deg,#317efb,#3a74fe,#4369fe,#465efb,#4853f5,#4848ec,#463de0,#4435d1,#422fc1,#402bb6,#3f29b1,#402ab4,#422ebf,#4434d0,#473ee2,#484cef,#475af9,#426afe,#327cfc,#2d8cf3,#259be8)"></i><i style="height:5px;background:linear-gradient(90deg,#317efb,#3a74fe,#4369fe,#465efb,#4853f4,#4848ec,#463de0,#4435d0,#422fc0,#402ab5,#3f29b0,#402ab3,#412ebe,#4434cf,#463ee1,#484bef,#475af9,#426afe,#327bfc,#2d8cf3,#259be8)"></i><i style="height:4px;background:linear-gradient(90deg,#317efb,#3a74fe,#4369fe,#465efb,#4853f5,#4848ec,#463de0,#4435d0,#422fc0,#402ab5,#3f29b0,#402ab3,#412ebd,#4434cf,#463ee1,#484bef,#475af9,#4269fe,#337bfc,#2d8bf3,#269be8)"></i><i style="height:5px;background:linear-gradient(90deg,#317efb,#3a74fe,#4269fe,#465efb,#4853f5,#4848ec,#463de0,#4435d0,#422fc0,#402ab5,#3f29b0,#4029b3,#412dbd,#4434ce,#463ee1,#484bef,#4759f9,#4269fe,#337bfc,#2d8bf3,#269be8)"></i><i style="height:5px;background:linear-gradient(90deg,#317efb,#3974fe,#4269fe,#465efb,#4853f5,#4848ec,#463de0,#4435d1,#422fc1,#402ab5,#3f29b0,#402ab3,#412dbd,#4434ce,#463ee1,#484bee,#4759f9,#4269fe,#337bfc,#2d8bf3,#269be8)"></i><i style="height:5px;background:linear-gradient(90deg,#307ffb,#3974fe,#4269fe,#465efb,#4853f5,#4848ec,#463ee1,#4435d1,#422fc1,#402bb6,#3f29b0,#402ab3,#412ebd,#4434ce,#463ee1,#484bef,#4759f9,#4269fe,#337bfc,#2d8bf3,#269be8)"></i><i style="height:5px;background:linear-gradient(90deg,#307ffb,#3975fe,#426afe,#465ffb,#4854f5,#4849ed,#473ee1,#4536d2,#422fc2,#402bb7,#3f29b1,#402ab4,#412ebe,#4434cf,#463ee1,#484bef,#475af9,#4269fe,#337bfc,#2d8cf3,#259be8)"></i><i style="height:5px;background:linear-gradient(90deg,#307ffb,#3875fe,#426afe,#465ffb,#4854f6,#4849ed,#473fe2,#4536d3,#4230c3,#402bb8,#3f29b2,#402ab5,#422ebf,#4434cf,#463ee1,#484bef,#475af9,#426afe,#327bfc,#2d8cf3,#259be8)"></i><i style="height:5px;background:linear-gradient(90deg,#3080fa,#3876fe,#416bfe,#4660fb,#4755f6,#484aee,#473fe3,#4536d5,#4330c5,#412cb9,#402ab4,#402bb6,#422ec0,#4435d0,#473ee2,#484cef,#475af9,#426afe,#327cfc,#2d8cf3,#259be8)"></i><i style="height:5px;background:linear-gradient(90deg,#2f81fa,#3777fe,#416cfe,#4661fc,#4756f6,#484bee,#4740e4,#4537d6,#4331c6,#412cba,#402ab5,#402bb7,#422fc1,#4435d1,#473fe2,#484cef,#475af9,#426afe,#327cfc,#2d8cf3,#259be7)"></i><i style="height:5px;background:linear-gradient(90deg,#2f81fa,#3677fe,#406cfe,#4561fc,#4756f7,#484cef,#4741e5,#4538d7,#4331c8,#412dbc,#402bb7,#412cb9,#422fc2,#4536d2,#473fe3,#484cf0,#475bf9,#416bfe,#327cfc,#2d8df2,#259ce7)"></i><i style="height:5px;background:linear-gradient(90deg,#2f82fa,#3578fd,#406dfe,#4562fc,#4757f7,#484cf0,#4742e6,#4539d9,#4332ca,#422ebe,#412cb9,#412cba,#4230c4,#4536d4,#4740e4,#484df0,#475bfa,#416bfe,#317dfc,#2d8df2,#259ce7)"></i><i style="height:5px;background:linear-gradient(90deg,#2e83f9,#3579fd,#3f6eff,#4563fd,#4758f8,#484df1,#4743e7,#463ada,#4433cc,#422fc0,#412dbb,#412dbc,#4331c6,#4537d5,#4741e5,#484ef1,#475cfa,#416cfe,#317dfc,#2d8df2,#259de7)"></i><i style="height:5px;background:linear-gradient(90deg,#2e83f9,#347afd,#3e6fff,#4564fd,#4759f8,#484ef1,#4744e8,#463adc,#4434ce,#422fc3,#412dbd,#422ebf,#4331c8,#4537d7,#4741e5,#484ef1,#475cfa,#406cfe,#317efb,#2c8ef1,#259de7)"></i><i style="height:5px;background:linear-gradient(90deg,#2e84f8,#337bfc,#3d70ff,#4465fd,#475af9,#484ff2,#4745e9,#463cde,#4435d0,#4330c5,#422ebf,#422fc1,#4332ca,#4538d8,#4742e6,#484ff2,#465dfa,#406dfe,#307efb,#2c8ff1,#249de6)"></i><i style="height:5px;background:linear-gradient(90deg,#2e85f8,#327cfc,#3c71ff,#4466fd,#475bf9,#4851f3,#4746ea,#463ddf,#4536d3,#4331c8,#422fc2,#4230c3,#4433cc,#4639da,#4743e7,#4850f3,#465efb,#3f6efe,#307ffb,#2c8ff0,#249ee6)"></i><i style="height:5px;background:linear-gradient(90deg,#2e86f7,#317dfc,#3b72fe,#4367fd,#475cfa,#4852f4,#4747ec,#463ee1,#4537d5,#4332ca,#4330c5,#4331c6,#4434ce,#463adb,#4744e8,#4851f3,#465ffb,#3f6fff,#3080fa,#2c90f0,#249fe6)"></i><i style="height:5px;background:linear-gradient(90deg,#2d87f7,#317efb,#3a74fe,#4368fe,#465dfb,#4853f5,#4849ed,#473fe3,#4538d7,#4433cd,#4331c8,#4332c9,#4435d1,#463bdd,#4745ea,#4852f4,#4660fb,#3e70ff,#2f81fa,#2b91ef,#249fe5)"></i><i style="height:5px;background:linear-gradient(90deg,#2d88f6,#307ffb,#3975fe,#426afe,#465ffb,#4854f5,#484aee,#4741e5,#4639da,#4435d0,#4332cb,#4433cc,#4536d3,#463cdf,#4747eb,#4853f5,#4661fc,#3d71ff,#2f82fa,#2b91ef,#23a0e5)"></i><i style="height:5px;background:linear-gradient(90deg,#2d89f5,#2f81fa,#3776fe,#416bfe,#4660fc,#4756f6,#484cef,#4742e6,#463bdc,#4536d3,#4434ce,#4434cf,#4537d6,#463ee1,#4848ec,#4854f5,#4562fc,#3c72ff,#2f82f9,#2b92ee,#23a1e5)"></i><i style="height:5px;background:linear-gradient(90deg,#2d8bf4,#2f82fa,#3678fe,#406cfe,#4561fc,#4757f7,#484df0,#4744e8,#463cdf,#4537d6,#4435d1,#4435d1,#4538d8,#473fe2,#4849ed,#4755f6,#4563fc,#3b73fe,#2e83f9,#2a93ee,#22a1e4)"></i><i style="height:5px;background:linear-gradient(90deg,#2d8cf3,#2e83f9,#3579fd,#3f6efe,#4563fc,#4758f8,#484ef1,#4745e9,#463ee1,#4538d8,#4536d4,#4536d4,#463adb,#4740e4,#484aee,#4756f7,#4564fd,#3a74fe,#2e84f8,#2994ed,#22a2e4)"></i><i style="height:5px;background:linear-gradient(90deg,#2d8df2,#2e84f8,#337afd,#3e6fff,#4464fd,#475af9,#4850f3,#4747eb,#473fe3,#463adb,#4537d7,#4538d7,#463bdd,#4742e6,#484cef,#4757f8,#4465fd,#3975fe,#2e85f8,#2995ec,#21a3e3)"></i><i style="height:5px;background:linear-gradient(90deg,#2c8ef1,#2e86f8,#327cfc,#3d71ff,#4466fd,#475bfa,#4852f4,#4849ed,#4741e5,#463cde,#4639d9,#4639da,#463ddf,#4743e7,#484df0,#4759f8,#4466fd,#3776fe,#2e86f7,#2896ec,#20a4e3)"></i><i style="height:5px;background:linear-gradient(90deg,#2c90f0,#2e87f7,#317dfb,#3b72fe,#4367fd,#465dfa,#4853f5,#484aee,#4743e7,#463de0,#463bdc,#463bdd,#473ee1,#4745e9,#484ef1,#475af9,#4368fd,#3678fe,#2d87f6,#2797eb,#20a5e3)"></i><i style="height:5px;background:linear-gradient(90deg,#2b91ef,#2d88f6,#307ffb,#3974fe,#4269fe,#465efb,#4755f6,#484cef,#4744e9,#473fe2,#463cdf,#463cdf,#4740e4,#4747eb,#4850f3,#475bfa,#4269fe,#3579fd,#2d89f6,#2797ea,#1fa6e2)"></i><i style="height:5px;background:linear-gradient(90deg,#2a92ee,#2d8af5,#2f80fa,#3876fe,#416bfe,#4660fc,#4756f7,#484ef1,#4746ea,#4741e5,#463ee1,#473ee1,#4742e6,#4848ec,#4851f4,#465dfa,#416afe,#337afd,#2d8af5,#2698ea,#1ea6e1)"></i><i style="height:5px;background:linear-gradient(90deg,#2a93ed,#2d8bf4,#2f82fa,#3677fe,#406cfe,#4562fc,#4758f8,#484ff2,#4848ec,#4743e7,#4740e3,#4740e4,#4743e7,#484aee,#4853f5,#465efb,#416cfe,#327cfc,#2d8bf4,#2699e9,#1ea7e1)"></i><i style="height:5px;background:linear-gradient(90deg,#2895ec,#2d8df2,#2e84f9,#3479fd,#3f6eff,#4564fd,#475af9,#4851f3,#484aee,#4745e9,#4742e6,#4742e6,#4745e9,#484cef,#4855f6,#4660fb,#3f6dfe,#317dfc,#2d8cf3,#269be8,#1da8e0)"></i><i style="height:5px;background:linear-gradient(90deg,#2796eb,#2c8ef1,#2e85f8,#337bfc,#3e70ff,#4465fd,#475cfa,#4853f5,#484cef,#4746eb,#4744e8,#4744e8,#4747eb,#484df1,#4756f7,#4561fc,#3e6fff,#317efb,#2d8df2,#259ce7,#1ca9df)"></i><i style="height:5px;background:linear-gradient(90deg,#2798ea,#2c90f0,#2e87f7,#317dfc,#3c72ff,#4367fd,#465dfb,#4755f6,#484ef1,#4848ec,#4746ea,#4746ea,#4849ed,#484ff2,#4758f8,#4563fc,#3d70ff,#3080fb,#2c8ef1,#259de7,#1baade)"></i><i style="height:5px;background:linear-gradient(90deg,#2699e9,#2b91ef,#2d88f6,#307efb,#3a74fe,#4269fe,#465ffb,#4757f7,#4850f2,#484aee,#4848ec,#4848ec,#484bee,#4851f3,#4759f9,#4464fd,#3b72ff,#2f81fa,#2c90f0,#249ee6,#1aabdd)"></i><i style="height:5px;background:linear-gradient(90deg,#269ae8,#2a93ee,#2d8af5,#2f80fa,#3875fe,#416bfe,#4561fc,#4759f8,#4852f4,#484cf0,#4849ed,#484aed,#484df0,#4853f4,#475bf9,#4466fd,#3a74fe,#2e83f9,#2b91ef,#249fe5,#19acdc)"></i><i style="height:5px;background:linear-gradient(90deg,#259ce7,#2994ed,#2d8bf3,#2f82fa,#3677fe,#406dfe,#4563fc,#475af9,#4853f5,#484ef1,#484bef,#484bef,#484ef1,#4854f6,#465dfa,#4368fe,#3875fe,#2e84f8,#2a92ee,#23a0e5,#18addb)"></i><i style="height:5px;background:linear-gradient(90deg,#249de6,#2896ec,#2d8df2,#2e84f9,#3479fd,#3f6fff,#4465fd,#475cfa,#4755f6,#4850f3,#484df1,#484df1,#4850f3,#4756f7,#465efb,#4269fe,#3777fe,#2e85f8,#2994ed,#22a1e4,#17aeda)"></i><i style="height:5px;background:linear-gradient(90deg,#249fe6,#2797eb,#2c8ff1,#2e85f8,#327bfc,#3d71ff,#4367fd,#465efb,#4757f7,#4852f4,#484ff2,#484ff2,#4852f4,#4758f8,#4660fc,#416bfe,#3579fd,#2e87f7,#2895ec,#21a2e4,#15afd9)"></i><i style="height:5px;background:linear-gradient(90deg,#23a0e5,#2699ea,#2b90f0,#2e87f7,#317dfc,#3b73fe,#4369fe,#4660fc,#4759f8,#4854f5,#4851f4,#4851f4,#4854f5,#475af9,#4562fc,#406dfe,#337bfd,#2d88f6,#2796eb,#21a4e3,#14b0d8)"></i><i style="height:5px;background:linear-gradient(90deg,#22a2e4,#269ae8,#2b92ee,#2d89f5,#307ffb,#3975fe,#416bfe,#4562fc,#475bf9,#4756f7,#4853f5,#4853f5,#4756f7,#475cfa,#4564fd,#3e6fff,#327cfc,#2d8af5,#2798ea,#20a5e2,#12b1d6)"></i><i style="height:5px;background:linear-gradient(90deg,#21a3e3,#259ce7,#2a93ed,#2d8af4,#2f81fa,#3777fe,#406dfe,#4464fd,#465dfa,#4758f8,#4755f6,#4755f6,#4758f8,#465dfb,#4466fd,#3d71ff,#317efb,#2d8bf3,#2699e9,#1fa6e2,#0fb2d5)"></i><i style="height:5px;background:linear-gradient(90deg,#20a5e3,#249de6,#2895ec,#2d8cf3,#2e83f9,#3579fd,#3e6fff,#4466fd,#465ffb,#475af9,#4757f7,#4757f7,#475af9,#465ffb,#4368fd,#3b73fe,#3080fb,#2d8df2,#269ae8,#1ea7e1,#0db3d3)"></i><i style="height:5px;background:linear-gradient(90deg,#1fa6e2,#249fe6,#2797eb,#2c8ef2,#2e85f8,#337bfc,#3d71ff,#4368fe,#4561fc,#475cfa,#4759f9,#4759f8,#475cfa,#4561fc,#426afe,#3975fe,#2f81fa,#2c8ef1,#259be7,#1da8e0,#0ab4d2)"></i><i style="height:5px;background:linear-gradient(90deg,#1ea7e1,#23a0e5,#2798ea,#2c90f0,#2e86f7,#317dfc,#3b73fe,#426afe,#4563fd,#465efb,#475bfa,#475bfa,#465efb,#4563fd,#416bfe,#3776fe,#2e83f9,#2c90f0,#259de7,#1caadf,#07b5d0)"></i><i style="height:5px;background:linear-gradient(90deg,#1da9e0,#22a2e4,#269ae9,#2b91ef,#2d88f6,#307ffb,#3875fe,#406cfe,#4465fd,#4660fc,#465dfb,#465dfb,#4660fb,#4465fd,#3f6dfe,#3578fd,#2e85f8,#2b91ef,#249ee6,#1babde,#05b6ce)"></i><i style="height:5px;background:linear-gradient(90deg,#1baade,#21a3e3,#259be7,#2a93ee,#2d8af5,#2f81fa,#3677fe,#3f6eff,#4367fd,#4562fc,#4660fb,#465ffb,#4562fc,#4367fd,#3e6fff,#337afd,#2e86f7,#2a93ee,#23a0e5,#1aacdd,#04b6cc)"></i><i style="height:5px;background:linear-gradient(90deg,#1aacdd,#20a5e2,#259de7,#2995ec,#2d8cf3,#2e83f9,#3479fd,#3d71ff,#426afe,#4464fd,#4562fc,#4561fc,#4564fd,#4269fe,#3c71ff,#327cfc,#2d88f6,#2994ed,#23a1e4,#18addb,#02b7cb)"></i><i style="height:5px;background:linear-gradient(90deg,#18addb,#1fa6e1,#249fe6,#2796eb,#2c8ef2,#2e85f8,#327cfc,#3b73fe,#416cfe,#4367fd,#4564fd,#4563fd,#4466fd,#416bfe,#3a74fe,#317efb,#2d8af5,#2896eb,#22a2e4,#17aeda,#01b8c9)"></i><i style="height:5px;background:linear-gradient(90deg,#16aeda,#1da8e0,#23a0e5,#2798ea,#2c8ff0,#2e86f7,#317efb,#3975fe,#3f6efe,#4369fe,#4466fd,#4466fd,#4368fe,#3f6dfe,#3876fe,#3080fa,#2d8bf3,#2797ea,#21a4e3,#15afd8,#01b9c7)"></i><i style="height:5px;background:linear-gradient(90deg,#14b0d8,#1ca9df,#22a2e4,#269ae9,#2b91ef,#2d88f6,#3080fb,#3677fe,#3d70ff,#416bfe,#4368fe,#4368fd,#426afe,#3e6fff,#3678fe,#2f82fa,#2d8df2,#2699e9,#20a5e2,#13b1d7,#02bac5)"></i><i style="height:5px;background:linear-gradient(90deg,#12b1d6,#1babde,#21a3e3,#259be8,#2a93ee,#2d8af4,#2f82fa,#3479fd,#3b72ff,#406dfe,#426afe,#426afe,#406cfe,#3c72ff,#347afd,#2e84f9,#2c8ff1,#269ae8,#1ea6e1,#10b2d5,#02bbc3)"></i><i style="height:5px;background:linear-gradient(90deg,#0eb2d4,#19acdc,#20a5e2,#259de7,#2995ec,#2d8cf3,#2e84f9,#327cfc,#3974fe,#3e6fff,#406cfe,#406cfe,#3f6eff,#3a74fe,#327cfc,#2e85f8,#2b90f0,#259ce7,#1da8e0,#0db3d3,#05bbc1)"></i></div>
<div class="p" style="left:1573.2px;top:77.8px;width:628.9px;height:628.2px"><i style="height:5px;background:linear-gradient(90deg,#f7f61a,#f5ec22,#f5e327,#f7db2b,#fad42e,#fdce31,#fec934,#fec636,#fec438,#fec339,#fec339,#fec438,#fec636,#fec934,#fdcd31,#fbd22f,#f8d82c,#f6df29,#f5e626,#f5ed22,#f7f41c)"></i><i style="height:5px;background:linear-gradient(90deg,#f6f020,#f5e626,#f7dd2a,#fad42e,#fdcd31,#fec735,#fec338,#fec03b,#febe3c,#fdbd3d,#fdbd3d,#febe3c,#fec03b,#fec338,#fec735,#fdcc32,#fbd22f,#f8d82c,#f6df29,#f5e725,#f5ee21)"></i><i style="height:5px;background:linear-gradient(90deg,#f5ea24,#f6e029,#f9d62d,#fdce31,#fec735,#fec13a,#fdbd3d,#fabb3d,#f8ba3d,#f6ba3b,#f6ba3c,#f8ba3d,#fabb3d,#fdbd3d,#fec13a,#fec636,#fdcb32,#fbd22f,#f8d92b,#f6e128,#f5e825)"></i><i style="height:5px;background:linear-gradient(90deg,#f5e427,#f8d92b,#fcd030,#fec835,#fec13a,#fcbc3d,#f7ba3c,#f2ba38,#efba35,#edba33,#edba33,#efba35,#f2ba38,#f7ba3c,#fbbc3d,#fec03b,#fec537,#fdcc32,#fbd32f,#f8da2b,#f5e227)"></i><i style="height:5px;background:linear-gradient(90deg,#f6de29,#fbd32e,#feca34,#fec239,#fbbc3d,#f5ba3a,#eeba34,#e9bb2f,#e5bb2d,#e3bb2c,#e4bb2c,#e6bb2d,#e9bb30,#eeba34,#f4ba3a,#fabb3d,#febf3b,#fec636,#fdcc32,#fad42e,#f7dc2a)"></i><i style="height:5px;background:linear-gradient(90deg,#f9d72c,#fdcd32,#fec438,#fcbd3d,#f4ba3a,#ecba32,#e5bb2c,#dfbc2a,#dbbd28,#d9be28,#d9be28,#dbbd29,#dfbc2a,#e5bb2c,#ebba32,#f3ba38,#fabb3d,#fec03b,#fec636,#fdce31,#fad52d)"></i><i style="height:5px;background:linear-gradient(90deg,#fbd12f,#fec735,#febe3c,#f6ba3b,#ecba32,#e2bc2b,#dabd28,#d4bf27,#cfc028,#cdc028,#cdc028,#d0c027,#d4bf28,#dabd28,#e2bc2b,#eabb30,#f2ba38,#fabc3d,#fec13a,#fec835,#fccf30)"></i><i style="height:5px;background:linear-gradient(90deg,#fdcc32,#fec139,#f9bb3d,#eeba34,#e2bc2b,#d8be28,#cfc028,#c8c129,#c3c22b,#c1c32c,#c1c32c,#c4c22b,#c8c129,#cfc028,#d7be28,#e0bc2a,#eabb30,#f3ba39,#fbbc3d,#fec239,#fec934)"></i><i style="height:5px;background:linear-gradient(90deg,#fec636,#fcbd3d,#f1ba37,#e5bb2c,#d8be28,#cdc028,#c3c22b,#bbc42f,#b6c532,#b4c534,#b4c534,#b7c532,#bcc42f,#c3c22b,#ccc028,#d6be28,#e0bc2a,#ebba31,#f5ba3a,#fdbd3d,#fec438)"></i><i style="height:5px;background:linear-gradient(90deg,#fec13a,#f7ba3c,#e9bb2f,#dbbd29,#cdc028,#c1c32c,#b6c532,#aec637,#a9c73a,#a6c73c,#a7c73c,#aac73a,#afc637,#b7c532,#c0c32d,#cbc129,#d6be28,#e1bc2b,#edba33,#f7ba3c,#febe3c)"></i><i style="height:5px;background:linear-gradient(90deg,#fcbc3d,#efba35,#e0bc2a,#d0bf27,#c2c22c,#b4c533,#a9c73a,#a1c840,#9bc944,#98c946,#99c946,#9cc944,#a1c840,#a9c73a,#b3c534,#bfc32d,#cbc129,#d7be28,#e4bb2c,#efba35,#f9bb3d)"></i><i style="height:5px;background:linear-gradient(90deg,#f6ba3b,#e6bb2d,#d6be28,#c5c22a,#b6c533,#a8c73b,#9cc944,#93ca4b,#8dcb4f,#8acb51,#8bcb51,#8ecb4f,#94ca4a,#9cc944,#a6c73c,#b2c535,#bfc32d,#cdc028,#dabd28,#e7bb2e,#f2ba38)"></i><i style="height:5px;background:linear-gradient(90deg,#eeba35,#ddbd29,#cbc029,#bac430,#a9c73a,#9ac945,#8ecb4e,#85cb55,#7fcc5a,#7ccc5c,#7ccc5c,#80cc5a,#86cb55,#8ecb4e,#99c946,#a5c83d,#b3c534,#c1c32c,#d0c027,#ddbd29,#eaba31)"></i><i style="height:5px;background:linear-gradient(90deg,#e7bb2d,#d4bf28,#c0c32d,#aec637,#9cc944,#8dcb4f,#80cc59,#77cc60,#71cd64,#6ecd67,#6ecd67,#71cd64,#77cc60,#80cc59,#8bcb51,#98c947,#a6c73c,#b6c533,#c5c22a,#d3bf27,#e1bc2b)"></i><i style="height:5px;background:linear-gradient(90deg,#debd29,#cac129,#b5c533,#a1c840,#8fcb4e,#7fcc5a,#72cd63,#69cd6b,#63cd6f,#61cd72,#61cd71,#64cd6f,#6acd6a,#72cd63,#7dcc5b,#8bcb51,#9ac946,#a9c73a,#b9c430,#c9c129,#d8be28)"></i><i style="height:5px;background:linear-gradient(90deg,#d5be28,#bfc32d,#a9c73a,#95ca49,#82cc58,#72cd64,#65cd6e,#5dcc75,#57cc7a,#55cc7c,#55cc7c,#58cc7a,#5dcc75,#65cd6e,#70cd65,#7dcc5b,#8ccb50,#9dc943,#adc638,#bec32e,#cec028)"></i><i style="height:5px;background:linear-gradient(90deg,#cbc029,#b4c533,#9dc943,#88cb53,#74cc62,#65cd6e,#59cc78,#51cc7f,#4bcb83,#49cb85,#49cb85,#4ccb83,#51cc7f,#59cc78,#63cd70,#70cd65,#7fcc5a,#90ca4d,#a1c840,#b3c534,#c3c22b)"></i><i style="height:5px;background:linear-gradient(90deg,#c1c32c,#a9c73a,#91ca4c,#7bcc5d,#68cd6c,#59cc78,#4ecc81,#46cb88,#41ca8c,#3fca8f,#3fca8e,#41ca8c,#46cb88,#4dcc82,#57cc7a,#63cd70,#72cd64,#83cc57,#95ca49,#a7c73c,#b8c431)"></i><i style="height:5px;background:linear-gradient(90deg,#b7c532,#9ec943,#85cb55,#6ecd66,#5ccc75,#4ecc81,#43ca8a,#3dc991,#39c895,#37c897,#37c897,#39c895,#3dc991,#42ca8b,#4bcb83,#57cc7a,#65cd6e,#76cc61,#88cb53,#9bc945,#adc638)"></i><i style="height:5px;background:linear-gradient(90deg,#acc738,#92ca4b,#79cc5f,#63cd70,#51cc7f,#44ca8a,#3bc993,#36c899,#33c79d,#32c69f,#32c69f,#33c79d,#36c799,#3ac993,#41ca8c,#4ccb83,#5acc78,#69cd6a,#7bcc5d,#8fcb4e,#a1c840)"></i><i style="height:5px;background:linear-gradient(90deg,#a2c840,#86cb54,#6dcd68,#58cc79,#47cb87,#3bc992,#35c79a,#31c6a0,#2ec5a4,#2dc4a6,#2dc4a6,#2ec5a4,#31c6a0,#34c79b,#3ac994,#42ca8b,#4fcc81,#5ecc74,#6fcd66,#82cc58,#96ca49)"></i><i style="height:5px;background:linear-gradient(90deg,#97ca48,#7bcc5d,#62cd71,#4dcc82,#3eca8f,#35c79a,#30c5a2,#2cc4a7,#28c3ab,#26c2ac,#26c2ac,#28c3ab,#2bc3a7,#2fc5a2,#34c79c,#3ac993,#44cb89,#53cc7d,#63cd70,#76cc61,#8acb52)"></i><i style="height:5px;background:linear-gradient(90deg,#8ccb50,#6fcd66,#57cc7a,#44cb8a,#37c897,#30c5a1,#2bc3a8,#25c2ae,#20c1b1,#1dc0b3,#1dc0b3,#20c1b1,#24c2ae,#2ac3a9,#2fc5a3,#34c79b,#3cc991,#48cb86,#58cc79,#6acd6a,#7ecc5b)"></i><i style="height:5px;background:linear-gradient(90deg,#81cc58,#65cd6e,#4ecc82,#3cc991,#33c69e,#2cc4a7,#24c1af,#1bc0b4,#15bfb7,#12beb9,#12beb9,#15bfb7,#1bc0b4,#22c1b0,#29c3aa,#30c5a2,#36c899,#3fca8e,#4ecc81,#5fcd73,#72cd64)"></i><i style="height:5px;background:linear-gradient(90deg,#76cc60,#5bcc76,#44cb89,#36c898,#2ec4a4,#25c2ad,#1ac0b5,#10beba,#0abdbd,#07bcbf,#07bcbf,#0abdbe,#0fbeba,#18bfb6,#22c1b0,#2ac3a8,#31c6a0,#38c895,#44cb89,#55cc7c,#66cd6d)"></i><i style="height:5px;background:linear-gradient(90deg,#6ccd68,#52cc7e,#3dc990,#32c69f,#28c3aa,#1cc0b3,#0fbeba,#07bcc0,#02bac3,#02bac5,#02bac5,#02bac4,#06bcc0,#0dbdbc,#18bfb6,#24c1af,#2cc4a6,#33c79c,#3cc991,#4acb84,#5ccc76)"></i><i style="height:5px;background:linear-gradient(90deg,#62cd70,#49cb86,#37c897,#2dc4a5,#22c1b0,#12beb9,#06bcc0,#01bac5,#01b8c9,#02b7cb,#02b7cb,#01b8c9,#01b9c6,#04bbc2,#0dbdbc,#1ac0b5,#26c2ac,#2fc5a3,#36c898,#42ca8c,#52cc7e)"></i><i style="height:5px;background:linear-gradient(90deg,#5acc78,#41ca8c,#33c69d,#28c3ab,#19bfb5,#08bcbf,#01b9c6,#02b7cb,#06b6ce,#07b5d0,#07b5d0,#06b5cf,#03b7cc,#01b9c7,#04bbc1,#0fbeba,#1ec0b2,#2ac3a9,#32c69f,#3bc993,#49cb86)"></i><i style="height:5px;background:linear-gradient(90deg,#51cc7f,#3bc993,#2fc5a3,#21c1b0,#0ebebb,#02bac4,#02b7cb,#07b5d0,#0db3d3,#10b2d5,#10b2d5,#0eb3d4,#09b4d1,#04b6cd,#01b9c7,#06bcc0,#14bfb8,#23c1af,#2dc4a5,#35c79a,#40ca8d)"></i><i style="height:5px;background:linear-gradient(90deg,#49cb85,#36c899,#2ac3a8,#19bfb5,#06bcc0,#01b8c9,#07b5d0,#10b2d5,#14b0d8,#16afd9,#16afda,#15afd8,#11b1d6,#0ab4d2,#03b7cc,#01bac5,#0abdbd,#1ac0b4,#28c3ab,#31c6a0,#3ac994)"></i><i style="height:5px;background:linear-gradient(90deg,#42ca8c,#32c69e,#25c2ae,#10beba,#02bac5,#05b6ce,#0fb2d5,#16afd9,#19addc,#1aabdd,#1aabdd,#19acdc,#17aeda,#12b1d6,#09b4d1,#02b7cb,#03bbc3,#10beba,#21c1b0,#2dc4a6,#35c79a)"></i><i style="height:5px;background:linear-gradient(90deg,#3cc991,#2ec5a4,#1ec0b2,#08bcbf,#01b8ca,#0bb3d2,#15afd9,#1aacdd,#1ca9df,#1da8e0,#1ea8e0,#1da9e0,#1babde,#18aedb,#11b1d6,#07b5cf,#01b9c8,#08bcbf,#19bfb5,#27c2ab,#31c6a0)"></i><i style="height:5px;background:linear-gradient(90deg,#37c897,#2ac3a9,#16bfb7,#02bac4,#06b5ce,#12b1d7,#19acdc,#1da8e0,#1fa6e2,#20a4e3,#20a4e3,#20a5e2,#1ea7e1,#1baade,#17aeda,#0eb2d4,#04b6cd,#02bac4,#0fbebb,#21c1b0,#2dc4a6)"></i><i style="height:5px;background:linear-gradient(90deg,#34c79c,#25c2ad,#0dbdbc,#01b8c8,#0cb3d3,#17aedb,#1da9e0,#20a5e2,#22a2e4,#23a0e5,#23a0e5,#22a1e4,#21a4e3,#1ea7e1,#1babde,#15afd8,#0ab4d1,#01b8c9,#07bcc0,#19bfb5,#28c2ab)"></i><i style="height:4px;background:linear-gradient(90deg,#30c5a1,#1fc0b2,#06bcc0,#04b6cd,#12b1d7,#1babde,#1fa6e2,#22a1e4,#249ee6,#259de7,#259ce7,#249ee6,#23a0e5,#21a3e3,#1da8e0,#19acdc,#11b1d6,#05b6ce,#02bac4,#0fbeba,#22c1b0)"></i><i style="height:5px;background:linear-gradient(90deg,#2dc4a5,#18bfb6,#02bac4,#08b4d1,#17aeda,#1da8e0,#22a2e4,#249ee6,#269be8,#2699e9,#2699e9,#269ae9,#259ce7,#23a0e5,#20a4e3,#1ca9df,#16afda,#0bb4d2,#01b8c9,#07bcbf,#1abfb5)"></i><i style="height:5px;background:linear-gradient(90deg,#29c3a9,#10beba,#01b8c8,#0fb2d4,#1aabdd,#20a5e3,#249fe6,#269ae8,#2797eb,#2895ec,#2895ec,#2896eb,#2699ea,#259ce7,#23a1e4,#1fa6e2,#1aacdd,#12b1d6,#05b6cd,#02bac4,#11beb9)"></i><i style="height:5px;background:linear-gradient(90deg,#25c2ad,#09bdbe,#03b7cc,#14b0d8,#1da9e0,#22a2e4,#259be7,#2797eb,#2a93ed,#2b91ef,#2b91ef,#2a92ee,#2995ec,#2699ea,#249de6,#21a3e3,#1da9e0,#16aeda,#0ab4d2,#01b8c8,#09bcbe)"></i><i style="height:5px;background:linear-gradient(90deg,#1fc1b1,#04bbc2,#07b5d0,#18addb,#1fa6e2,#249ee6,#2798ea,#2a93ee,#2c8ff0,#2d8df2,#2d8df2,#2c8ef1,#2b91ef,#2895ec,#269ae9,#239fe5,#1fa5e2,#1aacdd,#11b1d6,#04b6cc,#03bbc2)"></i><i style="height:5px;background:linear-gradient(90deg,#1abfb5,#01bac5,#0db3d3,#1babde,#21a3e3,#259be8,#2995ec,#2c8ff0,#2d8cf3,#2d89f5,#2d89f5,#2d8af4,#2d8df2,#2b91ef,#2796eb,#259ce7,#22a2e4,#1da9e0,#15afd9,#08b4d0,#01b9c7)"></i><i style="height:5px;background:linear-gradient(90deg,#13beb8,#01b8c9,#12b1d6,#1da9e0,#23a0e5,#2798ea,#2b91ef,#2d8cf3,#2d88f6,#2e85f8,#2e85f8,#2e86f7,#2d89f5,#2d8df2,#2a93ee,#2699e9,#249fe5,#1fa6e2,#19acdc,#0eb2d4,#02b7cb)"></i><i style="height:5px;background:linear-gradient(90deg,#0dbdbc,#03b7cc,#16afd9,#1fa6e2,#249de7,#2895ec,#2c8ef2,#2d88f6,#2e84f9,#2f81fa,#2f81fa,#2f82f9,#2e85f8,#2d8af5,#2c8ff1,#2895ec,#259ce7,#21a3e3,#1caadf,#14b0d8,#06b5ce)"></i><i style="height:5px;background:linear-gradient(90deg,#08bcbf,#06b5cf,#19addc,#21a3e3,#269ae8,#2b92ee,#2d8af4,#2e84f8,#3080fa,#317dfc,#317dfc,#317efb,#2f81fa,#2e86f8,#2d8bf3,#2b92ee,#2699e9,#23a0e5,#1ea7e1,#18aedb,#0bb4d2)"></i><i style="height:5px;background:linear-gradient(90deg,#04bbc2,#0ab4d2,#1babde,#23a1e4,#2797ea,#2c8ff1,#2e87f7,#2f81fa,#327cfc,#3579fd,#3578fd,#347afd,#317dfc,#2f82fa,#2d88f6,#2c8ef1,#2896ec,#259de7,#20a4e3,#1aabdd,#11b2d5)"></i><i style="height:5px;background:linear-gradient(90deg,#02bac5,#0fb2d5,#1da9e0,#249ee6,#2995ec,#2d8cf3,#2e84f9,#317dfc,#3678fe,#3975fe,#3a74fe,#3875fe,#3579fd,#317efb,#2e84f8,#2d8bf4,#2a92ee,#269ae9,#22a1e4,#1da9e0,#15afd8)"></i><i style="height:5px;background:linear-gradient(90deg,#01b9c7,#13b0d7,#1ea6e1,#259ce7,#2b92ee,#2d88f6,#3080fa,#3579fd,#3a74fe,#3d70ff,#3e70ff,#3c71ff,#3975fe,#347afd,#2f80fa,#2d87f6,#2c8ff0,#2797eb,#249fe6,#1fa6e1,#18addb)"></i><i style="height:5px;background:linear-gradient(90deg,#01b8ca,#16afd9,#20a4e3,#269ae9,#2c8ff0,#2e85f8,#317dfc,#3975fe,#3e6fff,#406cfe,#416cfe,#406dfe,#3d70ff,#3876fe,#327dfc,#2e84f8,#2d8cf3,#2994ed,#259ce7,#21a4e3,#1babde)"></i><i style="height:5px;background:linear-gradient(90deg,#04b6cd,#18addb,#22a2e4,#2797ea,#2d8df3,#2f82f9,#3579fd,#3c71ff,#416cfe,#4368fe,#4368fd,#4269fe,#406cfe,#3c72ff,#3579fd,#2f81fa,#2d89f5,#2b91ef,#2699e9,#22a1e4,#1da9e0)"></i><i style="height:5px;background:linear-gradient(90deg,#06b5cf,#1aacdd,#23a0e5,#2895ec,#2d8af5,#307ffb,#3876fe,#3f6dfe,#4368fe,#4465fd,#4564fd,#4465fd,#4368fe,#3f6efe,#3975fe,#317dfc,#2e86f8,#2c8ef1,#2797eb,#249fe6,#1ea7e1)"></i><i style="height:5px;background:linear-gradient(90deg,#09b4d1,#1caadf,#249ee6,#2a93ee,#2d87f7,#327cfc,#3b72ff,#426afe,#4464fd,#4561fc,#4660fb,#4561fc,#4465fd,#426afe,#3c71ff,#347afd,#2f82f9,#2d8bf4,#2994ed,#259ce7,#20a4e3)"></i><i style="height:5px;background:linear-gradient(90deg,#0cb3d3,#1da8e0,#259de7,#2b91ef,#2e85f8,#3479fd,#3e6fff,#4367fd,#4561fc,#465dfb,#475cfa,#465efb,#4561fc,#4466fd,#3f6dfe,#3876fe,#307ffb,#2d88f6,#2b91ef,#269ae9,#22a2e4)"></i><i style="height:5px;background:linear-gradient(90deg,#0fb2d5,#1ea7e1,#259be8,#2c8ef1,#2f82f9,#3776fe,#416cfe,#4563fd,#465dfb,#475af9,#4759f8,#475af9,#465dfb,#4563fc,#426afe,#3b72fe,#327cfc,#2e86f8,#2c8ff1,#2798ea,#23a0e5)"></i><i style="height:5px;background:linear-gradient(90deg,#12b1d6,#1fa5e2,#2699e9,#2d8cf3,#3080fa,#3a73fe,#4369fe,#4660fc,#475af9,#4757f7,#4755f6,#4757f7,#475af9,#465ffb,#4466fd,#3e6fff,#3579fd,#2e83f9,#2d8cf3,#2895ec,#249ee6)"></i><i style="height:5px;background:linear-gradient(90deg,#14b0d8,#20a4e3,#2797ea,#2d8af4,#317dfb,#3d71ff,#4466fd,#465dfa,#4757f7,#4853f5,#4852f4,#4853f5,#4757f7,#475cfa,#4563fd,#416cfe,#3876fe,#3080fa,#2d8af5,#2a93ee,#259ce7)"></i><i style="height:5px;background:linear-gradient(90deg,#16afd9,#21a3e4,#2896ec,#2d88f6,#327bfc,#3f6eff,#4563fc,#475af9,#4854f5,#4850f3,#484ff2,#4850f3,#4853f5,#4759f8,#4660fb,#4369fe,#3b72fe,#317dfc,#2e87f7,#2b91ef,#269ae9)"></i><i style="height:5px;background:linear-gradient(90deg,#17aedb,#22a1e4,#2994ed,#2e87f7,#3579fd,#416bfe,#4660fc,#4758f8,#4851f3,#484df0,#484cef,#484df0,#4850f3,#4756f6,#465dfa,#4466fd,#3e6fff,#337afd,#2e85f8,#2c8ef1,#2798ea)"></i><i style="height:5px;background:linear-gradient(90deg,#19addc,#23a0e5,#2a93ee,#2e85f8,#3777fe,#4269fe,#465efb,#4755f6,#484ef1,#484aee,#4848ec,#484aed,#484df0,#4853f5,#475af9,#4563fc,#406dfe,#3678fe,#2f82f9,#2d8cf3,#2896ec)"></i><i style="height:5px;background:linear-gradient(90deg,#1aacdd,#249fe5,#2b91ef,#2e83f9,#3974fe,#4367fd,#475bfa,#4852f4,#484bef,#4747eb,#4745ea,#4746eb,#484aee,#4850f2,#4757f7,#4660fb,#426afe,#3975fe,#2f80fa,#2d8af4,#2994ed)"></i><i style="height:5px;background:linear-gradient(90deg,#1aabdd,#249ee6,#2c90f0,#2f82fa,#3b72fe,#4465fd,#4759f8,#4850f2,#4849ed,#4744e8,#4742e6,#4744e8,#4747eb,#484df0,#4855f6,#465dfb,#4367fd,#3b72fe,#317efb,#2d88f6,#2b92ee)"></i><i style="height:5px;background:linear-gradient(90deg,#1baade,#259de7,#2c8ff1,#3080fa,#3d71ff,#4563fc,#4757f7,#484df1,#4746ea,#4741e5,#4740e3,#4741e4,#4744e8,#484aee,#4852f4,#475bf9,#4465fd,#3e70ff,#327cfc,#2e86f7,#2b90f0)"></i><i style="height:5px;background:linear-gradient(90deg,#1caadf,#259ce7,#2c8ef2,#307ffb,#3e6fff,#4561fc,#4755f6,#484bef,#4744e8,#473fe2,#463de0,#463ee1,#4742e6,#4848ec,#484ff2,#4758f8,#4562fc,#3f6efe,#3479fd,#2e84f8,#2c8ff1)"></i><i style="height:5px;background:linear-gradient(90deg,#1ca9e0,#259be8,#2d8df3,#317dfc,#406dfe,#465ffb,#4853f5,#4849ed,#4741e5,#463cdf,#463adc,#463bdd,#473fe2,#4745e9,#484df0,#4756f7,#4660fc,#416bfe,#3677fe,#2e83f9,#2d8df2)"></i><i style="height:5px;background:linear-gradient(90deg,#1da8e0,#269ae8,#2d8cf3,#327cfc,#416cfe,#465dfb,#4851f3,#4747eb,#473fe2,#463adb,#4538d8,#4639d9,#463cdf,#4743e7,#484bee,#4854f5,#465efb,#4269fe,#3875fe,#2f81fa,#2d8bf3)"></i><i style="height:5px;background:linear-gradient(90deg,#1da8e0,#269ae9,#2d8bf4,#337bfd,#426afe,#475cfa,#4850f2,#4745e9,#463de0,#4538d8,#4536d4,#4537d6,#463adb,#4740e4,#4848ec,#4852f4,#475cfa,#4367fd,#3a73fe,#307ffb,#2d8af5)"></i><i style="height:5px;background:linear-gradient(90deg,#1ea7e1,#2699e9,#2d8af5,#347afd,#4269fe,#475bf9,#484ef1,#4743e7,#463bdd,#4536d4,#4434d0,#4435d1,#4538d8,#463ee1,#4746ea,#4850f2,#475af9,#4466fd,#3c72ff,#317efb,#2d89f6)"></i><i style="height:5px;background:linear-gradient(90deg,#1ea7e1,#2699ea,#2d89f5,#3579fd,#4368fe,#4759f8,#484cf0,#4741e5,#4639da,#4435d0,#4433cc,#4433cd,#4536d4,#463cde,#4744e8,#484ef1,#4759f8,#4564fd,#3e70ff,#327cfc,#2d87f7)"></i><i style="height:5px;background:linear-gradient(90deg,#1ea7e1,#2798ea,#2d89f6,#3678fe,#4367fd,#4758f8,#484bef,#4740e3,#4538d7,#4433cd,#4331c8,#4332c9,#4435d0,#463adb,#4742e6,#484cf0,#4757f7,#4562fc,#3f6eff,#337bfc,#2e86f7)"></i><i style="height:5px;background:linear-gradient(90deg,#1ea6e1,#2798ea,#2d88f6,#3777fe,#4466fd,#4757f7,#484aee,#473ee2,#4536d4,#4332c9,#4230c4,#4330c5,#4433cd,#4538d8,#4740e4,#484bee,#4755f6,#4561fc,#406dfe,#347afd,#2e85f8)"></i><i style="height:5px;background:linear-gradient(90deg,#1fa6e1,#2797ea,#2d88f6,#3776fe,#4465fd,#4756f7,#4849ed,#463de0,#4435d2,#4331c6,#422fc0,#422fc1,#4332c9,#4537d6,#473fe2,#4849ed,#4854f5,#465ffb,#416cfe,#3578fd,#2e84f8)"></i><i style="height:5px;background:linear-gradient(90deg,#1fa6e2,#2797eb,#2e87f7,#3876fe,#4464fd,#4755f6,#4848ec,#463cde,#4434cf,#422fc3,#412dbd,#412ebe,#4331c6,#4536d3,#463de0,#4848ec,#4853f5,#465efb,#416afe,#3677fe,#2e83f9)"></i><i style="height:5px;background:linear-gradient(90deg,#1fa6e2,#2797eb,#2e87f7,#3875fe,#4564fd,#4755f6,#4747eb,#463bdd,#4433cd,#422ec0,#412cba,#412dbb,#4230c3,#4435d0,#463cde,#4746ea,#4852f4,#465dfa,#4269fe,#3776fe,#2f82f9)"></i><i style="height:5px;background:linear-gradient(90deg,#1fa6e2,#2797eb,#2e87f7,#3975fe,#4563fd,#4854f5,#4746ea,#463adb,#4332cb,#412dbd,#402bb7,#402bb8,#422ec0,#4433cd,#463bdd,#4745e9,#4850f3,#475cfa,#4368fe,#3875fe,#2f82fa)"></i><i style="height:5px;background:linear-gradient(90deg,#1fa6e1,#2797eb,#2e87f7,#3975fe,#4563fd,#4854f5,#4745ea,#463ada,#4332c9,#412dbb,#402ab5,#402ab6,#412ebd,#4433cb,#463adb,#4744e8,#4850f2,#475bfa,#4368fd,#3975fe,#2f81fa)"></i><i style="height:5px;background:linear-gradient(90deg,#1fa6e1,#2797eb,#2e87f7,#3975fe,#4563fc,#4853f5,#4745e9,#4639d9,#4331c7,#412cb9,#3f29b2,#402ab3,#412dbb,#4332c9,#4639d9,#4743e7,#484ff2,#475bf9,#4367fd,#3a74fe,#2f80fa)"></i><i style="height:5px;background:linear-gradient(90deg,#1ea7e1,#2797eb,#2e87f7,#3975fe,#4563fc,#4853f5,#4744e9,#4538d8,#4331c6,#402bb7,#3f29b0,#3f29b1,#412cb9,#4331c7,#4538d8,#4742e6,#484ef1,#475af9,#4466fd,#3a73fe,#3080fa)"></i><i style="height:5px;background:linear-gradient(90deg,#1ea7e1,#2797ea,#2e87f7,#3975fe,#4563fc,#4853f5,#4744e8,#4538d8,#4330c4,#402bb6,#3f28af,#3f28af,#402bb8,#4330c5,#4538d7,#4742e6,#484df1,#4759f9,#4466fd,#3b73fe,#3080fb)"></i><i style="height:5px;background:linear-gradient(90deg,#1ea7e1,#2798ea,#2e87f7,#3975fe,#4563fc,#4853f5,#4744e8,#4538d7,#4230c4,#402ab5,#3f28ad,#3f28ae,#402bb6,#4230c4,#4537d6,#4741e5,#484df0,#4759f8,#4466fd,#3b73fe,#307ffb)"></i><i style="height:5px;background:linear-gradient(90deg,#1ea7e1,#2798ea,#2d87f7,#3975fe,#4563fc,#4853f5,#4744e8,#4538d7,#4230c3,#402ab4,#3e28ac,#3f28ad,#402ab5,#4230c3,#4537d5,#4741e4,#484cf0,#4759f8,#4465fd,#3b72fe,#307ffb)"></i><i style="height:5px;background:linear-gradient(90deg,#1da8e0,#2698ea,#2d88f6,#3875fe,#4563fd,#4853f5,#4744e8,#4538d7,#4230c3,#402ab4,#3e27ac,#3e27ac,#402ab4,#422fc2,#4536d4,#4740e4,#484cf0,#4759f8,#4465fd,#3b72ff,#307ffb)"></i><i style="height:5px;background:linear-gradient(90deg,#1da8e0,#2699e9,#2d88f6,#3876fe,#4564fd,#4853f5,#4744e8,#4538d7,#4230c3,#402ab4,#3e27ab,#3e27ab,#402ab4,#422fc2,#4536d4,#4740e4,#484cf0,#4758f8,#4465fd,#3b72ff,#307ffb)"></i><i style="height:5px;background:linear-gradient(90deg,#1da9e0,#2699e9,#2d89f5,#3776fe,#4564fd,#4854f5,#4745e9,#4538d7,#4230c3,#402ab4,#3e27ab,#3e27ab,#402ab4,#422fc2,#4536d4,#4740e4,#484cf0,#4758f8,#4465fd,#3b72fe,#307ffb)"></i><i style="height:5px;background:linear-gradient(90deg,#1ca9df,#269ae8,#2d89f5,#3777fe,#4464fd,#4854f5,#4745e9,#4538d8,#4230c4,#402ab4,#3e27ab,#3e27ab,#402ab4,#422fc2,#4536d4,#4740e4,#484cf0,#4759f8,#4465fd,#3b73fe,#3080fb)"></i><i style="height:5px;background:linear-gradient(90deg,#1caadf,#269be8,#2d8af5,#3678fe,#4465fd,#4755f6,#4745ea,#4539d9,#4330c4,#402ab5,#3e27ac,#3e27ac,#402ab4,#422fc2,#4536d4,#4740e4,#484cf0,#4759f8,#4466fd,#3b73fe,#2f80fa)"></i><i style="height:5px;background:linear-gradient(90deg,#1babde,#259be8,#2d8bf4,#3579fd,#4466fd,#4755f6,#4746ea,#4639d9,#4331c5,#402bb6,#3f28ad,#3f28ad,#402ab5,#422fc3,#4536d5,#4741e4,#484df0,#4759f8,#4466fd,#3a73fe,#2f81fa)"></i><i style="height:5px;background:linear-gradient(90deg,#1aabdd,#259ce7,#2d8bf3,#3479fd,#4367fd,#4756f7,#4747eb,#463adb,#4331c7,#402bb7,#3f28ae,#3f28ae,#402bb6,#4230c3,#4537d5,#4741e5,#484df0,#475af9,#4366fd,#3a74fe,#2f81fa)"></i><i style="height:5px;background:linear-gradient(90deg,#1aacdd,#259de7,#2d8cf3,#337afd,#4367fd,#4757f7,#4848ec,#463adc,#4332c8,#412cb8,#3f29b0,#3f28af,#402bb7,#4330c5,#4537d6,#4742e6,#484ef1,#475af9,#4367fd,#3975fe,#2f82fa)"></i><i style="height:5px;background:linear-gradient(90deg,#19addc,#249ee6,#2d8df2,#327bfc,#4368fe,#4758f8,#4848ec,#463bdd,#4332ca,#412cba,#3f29b1,#3f29b1,#412cb8,#4331c6,#4538d7,#4742e6,#484ef1,#475bf9,#4368fd,#3875fe,#2f82f9)"></i><i style="height:5px;background:linear-gradient(90deg,#18aedb,#249ee6,#2c8ef1,#327cfc,#4269fe,#4759f8,#4849ed,#463cde,#4433cc,#412dbc,#402ab3,#402ab3,#412cba,#4331c8,#4539d8,#4743e7,#484ff2,#475bfa,#4368fe,#3776fe,#2e83f9)"></i><i style="height:5px;background:linear-gradient(90deg,#17aeda,#239fe5,#2c8ff1,#317dfb,#416bfe,#475af9,#484aee,#463de0,#4434ce,#412ebe,#402ab6,#402ab5,#412dbc,#4332c9,#4639da,#4744e8,#4850f2,#475cfa,#4269fe,#3777fe,#2e84f8)"></i><i style="height:5px;background:linear-gradient(90deg,#15afd9,#23a0e5,#2c90f0,#307ffb,#416cfe,#475bf9,#484cef,#473ee1,#4435d0,#422fc0,#402bb8,#402bb7,#412ebe,#4433cb,#463adb,#4745e9,#4851f3,#465dfa,#426afe,#3678fd,#2e85f8)"></i><i style="height:5px;background:linear-gradient(90deg,#14b0d8,#22a1e4,#2b91ef,#3080fa,#406dfe,#475cfa,#484df0,#473fe3,#4535d2,#4230c3,#412cba,#412cba,#422fc0,#4434cd,#463bdd,#4746ea,#4852f4,#465efb,#416bfe,#3479fd,#2e86f7)"></i><i style="height:5px;background:linear-gradient(90deg,#12b1d7,#22a2e4,#2a92ee,#2f81fa,#3f6eff,#465dfa,#484ef1,#4741e4,#4537d5,#4331c6,#412dbd,#412dbc,#4230c3,#4434d0,#463cdf,#4747eb,#4853f5,#465ffb,#406cfe,#337afd,#2e87f7)"></i><i style="height:5px;background:linear-gradient(90deg,#10b2d5,#21a3e3,#2a93ed,#2f82f9,#3e70ff,#465efb,#484ff2,#4742e6,#4538d7,#4332c8,#422ec0,#422ebf,#4331c6,#4535d2,#463de0,#4848ec,#4854f5,#4660fc,#3f6efe,#327cfc,#2d88f6)"></i><i style="height:5px;background:linear-gradient(90deg,#0eb2d4,#20a5e3,#2995ec,#2e84f9,#3c71ff,#4660fb,#4851f3,#4743e8,#4639d9,#4433cb,#4230c3,#422fc2,#4332c9,#4537d5,#473fe2,#4849ed,#4755f6,#4562fc,#3e6fff,#317dfc,#2d89f5)"></i><i style="height:5px;background:linear-gradient(90deg,#0bb3d2,#1fa6e2,#2896eb,#2e85f8,#3b73fe,#4561fc,#4852f4,#4745e9,#463adc,#4434ce,#4331c6,#4330c5,#4433cc,#4538d7,#4740e4,#484bee,#4757f7,#4563fd,#3d70ff,#317efb,#2d8bf4)"></i><i style="height:5px;background:linear-gradient(90deg,#09b4d1,#1ea7e1,#2797eb,#2e86f7,#3974fe,#4563fc,#4854f5,#4747eb,#463cde,#4435d2,#4332ca,#4332c9,#4434cf,#4639da,#4742e6,#484cf0,#4758f8,#4464fd,#3c72ff,#3080fb,#2d8cf3)"></i><i style="height:5px;background:linear-gradient(90deg,#07b5cf,#1da8e0,#2698ea,#2d88f6,#3876fe,#4464fd,#4755f6,#4848ec,#463ee0,#4537d5,#4433cd,#4433cc,#4535d2,#463bdc,#4743e7,#484ef1,#4759f9,#4466fd,#3a74fe,#2f81fa,#2d8df2)"></i><i style="height:5px;background:linear-gradient(90deg,#05b6ce,#1ca9e0,#269ae9,#2d89f5,#3678fe,#4466fd,#4757f7,#484aee,#473fe3,#4538d8,#4435d0,#4434cf,#4537d5,#463cdf,#4745e9,#484ff2,#475bf9,#4368fd,#3875fe,#2e83f9,#2c8ff1)"></i><i style="height:5px;background:linear-gradient(90deg,#03b7cc,#1baade,#259be8,#2d8bf4,#3479fd,#4368fd,#4759f8,#484cef,#4741e5,#463adb,#4536d4,#4536d3,#4538d8,#463ee1,#4747eb,#4851f3,#475dfa,#4269fe,#3777fe,#2e84f8,#2c90f0)"></i><i style="height:5px;background:linear-gradient(90deg,#01b8ca,#1aabdd,#259ce7,#2d8cf3,#337bfc,#4269fe,#475af9,#484df1,#4743e7,#463bde,#4538d7,#4537d6,#463adb,#4740e3,#4848ec,#4853f5,#465efb,#416bfe,#3579fd,#2e86f7,#2b92ee)"></i><i style="height:5px;background:linear-gradient(90deg,#01b8c8,#19addc,#249ee6,#2c8ef2,#317dfc,#416bfe,#475cfa,#484ff2,#4745e9,#463de0,#463ada,#4639da,#463cde,#4742e6,#484aee,#4855f6,#4660fb,#406dfe,#337bfd,#2d87f6,#2a93ed)"></i><i style="height:5px;background:linear-gradient(90deg,#01b9c6,#18aedb,#249fe5,#2c8ff0,#307ffb,#406dfe,#465efb,#4851f3,#4747eb,#473fe3,#463bde,#463bdd,#463ee1,#4744e8,#484cf0,#4756f7,#4562fc,#3f6fff,#327cfc,#2d89f5,#2995ec)"></i><i style="height:5px;background:linear-gradient(90deg,#02bac5,#16afd9,#23a0e5,#2b91ef,#2f80fa,#3e6fff,#4660fb,#4853f5,#4849ed,#4741e5,#463de0,#463de0,#4740e3,#4746ea,#484ef1,#4758f8,#4564fd,#3d71ff,#317efb,#2d8bf4,#2796eb)"></i><i style="height:5px;background:linear-gradient(90deg,#03bbc3,#14b0d8,#22a2e4,#2a92ee,#2f82f9,#3c71ff,#4562fc,#4755f6,#484bef,#4744e8,#4740e3,#473fe2,#4742e6,#4848ec,#4850f3,#475af9,#4466fd,#3b73fe,#2f80fa,#2d8df3,#2798ea)"></i><i style="height:5px;background:linear-gradient(90deg,#06bcc0,#12b1d6,#21a3e3,#2994ed,#2e84f9,#3a73fe,#4564fd,#4757f7,#484df0,#4746ea,#4742e6,#4741e5,#4744e8,#484aee,#4852f4,#475cfa,#4368fd,#3975fe,#2f82f9,#2c8ef1,#269ae9)"></i><i style="height:4px;background:linear-gradient(90deg,#09bcbe,#0eb2d4,#20a5e3,#2896ec,#2e86f8,#3975fe,#4466fd,#4759f8,#484ff2,#4848ec,#4744e8,#4743e8,#4746eb,#484cf0,#4854f6,#465efb,#426afe,#3777fe,#2e84f8,#2c90f0,#259be8)"></i><i style="height:5px;background:linear-gradient(90deg,#0cbdbc,#0bb3d2,#1fa6e2,#2797eb,#2d87f6,#3677fe,#4368fd,#475bf9,#4851f3,#484aee,#4746ea,#4746ea,#4849ed,#484ef1,#4756f7,#4660fc,#406cfe,#3479fd,#2e86f7,#2b92ee,#249de7)"></i><i style="height:5px;background:linear-gradient(90deg,#10beba,#08b4d0,#1ea8e1,#2699e9,#2d89f5,#3479fd,#426afe,#465dfa,#4853f5,#484cf0,#4849ed,#4848ec,#484bef,#4851f3,#4759f8,#4563fc,#3f6eff,#327bfc,#2d88f6,#2994ed,#249fe6)"></i><i style="height:5px;background:linear-gradient(90deg,#14bfb8,#06b5ce,#1da9e0,#269ae8,#2d8bf4,#327cfc,#406cfe,#465ffb,#4756f6,#484ff2,#484bef,#484aee,#484df1,#4853f5,#475bf9,#4465fd,#3d71ff,#317efb,#2d8af5,#2896ec,#23a1e5)"></i><i style="height:5px;background:linear-gradient(90deg,#19bfb5,#04b6cc,#1baade,#259ce7,#2d8df2,#317efb,#3f6eff,#4562fc,#4758f8,#4851f3,#484df1,#484df0,#4850f2,#4755f6,#465dfa,#4367fd,#3b73fe,#3080fa,#2d8cf3,#2798ea,#22a2e4)"></i><i style="height:5px;background:linear-gradient(90deg,#1dc0b3,#01b7ca,#1aacdd,#249ee6,#2c8ff1,#3080fb,#3d71ff,#4564fd,#475af9,#4853f5,#4850f2,#484ff2,#4852f4,#4758f8,#465ffb,#4269fe,#3875fe,#2f82f9,#2c8ef1,#2699e9,#20a4e3)"></i><i style="height:5px;background:linear-gradient(90deg,#20c1b1,#01b8c8,#18addb,#249fe5,#2b91ef,#2f82fa,#3b73fe,#4466fd,#475cfa,#4756f6,#4852f4,#4852f4,#4854f6,#475af9,#4562fc,#406cfe,#3678fd,#2e84f8,#2c90f0,#259be8,#1fa6e2)"></i><i style="height:5px;background:linear-gradient(90deg,#24c1ae,#01b9c6,#16afda,#23a1e4,#2a92ee,#2e84f9,#3875fe,#4368fe,#465ffb,#4758f8,#4854f6,#4854f5,#4757f7,#475cfa,#4464fd,#3f6eff,#337afd,#2e86f7,#2a92ee,#249de6,#1da8e0)"></i><i style="height:5px;background:linear-gradient(90deg,#27c2ac,#02bac4,#14b0d8,#21a2e4,#2994ed,#2e86f7,#3678fe,#416bfe,#4561fc,#475af9,#4757f7,#4757f7,#4759f8,#465ffb,#4367fd,#3c71ff,#317dfc,#2d89f6,#2994ed,#249fe5,#1caadf)"></i><i style="height:5px;background:linear-gradient(90deg,#2ac3a9,#05bbc1,#11b1d6,#20a4e3,#2896eb,#2d88f6,#347afd,#406dfe,#4563fd,#465dfa,#4759f9,#4759f8,#475cfa,#4561fc,#4269fe,#3a74fe,#307ffb,#2d8bf4,#2796eb,#22a1e4,#1aabdd)"></i><i style="height:5px;background:linear-gradient(90deg,#2cc4a7,#08bcbf,#0eb2d4,#1fa6e2,#2798ea,#2d8af5,#327cfc,#3e70ff,#4466fd,#465ffb,#475cfa,#475cfa,#465efb,#4564fd,#406cfe,#3776fe,#2f82fa,#2d8df2,#2698ea,#21a3e3,#19addc)"></i><i style="height:5px;background:linear-gradient(90deg,#2ec5a4,#0bbdbc,#0ab4d2,#1ea7e1,#269ae9,#2d8cf3,#307ffb,#3b72ff,#4368fe,#4562fc,#465efb,#465efb,#4561fc,#4466fd,#3f6fff,#3579fd,#2e84f8,#2c8ff0,#269ae8,#20a5e2,#16afd9)"></i><i style="height:5px;background:linear-gradient(90deg,#30c5a1,#10beba,#07b5d0,#1da9e0,#259be7,#2c8ef1,#2f81fa,#3975fe,#416bfe,#4464fd,#4561fc,#4661fc,#4563fd,#4269fe,#3c71ff,#327cfc,#2e87f7,#2b92ef,#259ce7,#1ea7e1,#13b0d7)"></i><i style="height:5px;background:linear-gradient(90deg,#32c69e,#15bfb7,#05b6cd,#1babde,#249de6,#2c90f0,#2e83f9,#3677fe,#3f6dfe,#4367fd,#4563fd,#4563fd,#4466fd,#416cfe,#3a74fe,#317efb,#2d89f5,#2994ed,#249fe6,#1da9e0,#0fb2d5)"></i><i style="height:5px;background:linear-gradient(90deg,#34c79b,#1abfb5,#02b7cb,#1aacdd,#249fe5,#2b92ee,#2e85f8,#347afd,#3d70ff,#4269fe,#4466fd,#4466fd,#4369fe,#3f6eff,#3777fe,#2f81fa,#2d8bf4,#2896eb,#23a1e5,#1babde,#0bb4d2)"></i><i style="height:5px;background:linear-gradient(90deg,#36c898,#1ec0b2,#01b8c9,#18aedb,#23a1e4,#2994ed,#2d88f6,#327cfc,#3b73fe,#406cfe,#4369fe,#4369fe,#416cfe,#3c71ff,#347afd,#2e83f9,#2c8ef2,#2798ea,#21a3e4,#19addc,#07b5cf)"></i><i style="height:5px;background:linear-gradient(90deg,#39c895,#22c1b0,#01b9c6,#15afd9,#21a3e4,#2896eb,#2d8af5,#307ffb,#3875fe,#3e6fff,#416bfe,#416bfe,#3f6eff,#3974fe,#327cfc,#2e86f7,#2c90f0,#269ae8,#20a5e2,#16afda,#03b7cc)"></i><i style="height:5px;background:linear-gradient(90deg,#3cc992,#25c2ad,#02bac4,#13b1d7,#20a4e3,#2798ea,#2d8cf3,#2f81fa,#3578fd,#3c72ff,#3f6eff,#3f6eff,#3c71ff,#3777fe,#307ffb,#2d88f6,#2a92ee,#259de7,#1ea7e1,#13b0d7,#01b8c9)"></i><i style="height:5px;background:linear-gradient(90deg,#3fca8e,#28c3aa,#05bbc1,#0fb2d5,#1fa6e2,#269ae9,#2c8ef1,#2e84f9,#337bfc,#3974fe,#3c71ff,#3c71ff,#3974fe,#347afd,#2f82fa,#2d8bf4,#2995ec,#249fe6,#1da9e0,#0fb2d5,#01b9c6)"></i><i style="height:5px;background:linear-gradient(90deg,#43ca8b,#2bc3a8,#08bcbf,#0cb3d3,#1da8e0,#259ce7,#2b90f0,#2e86f7,#317efb,#3677fe,#3a74fe,#3a74fe,#3777fe,#317dfc,#2e84f8,#2d8df2,#2797eb,#23a1e4,#1babde,#0bb4d2,#02bbc3)"></i><i style="height:5px;background:linear-gradient(90deg,#47cb87,#2ec4a5,#0cbdbc,#08b5d0,#1caadf,#249ee6,#2a92ee,#2d88f6,#3080fa,#347afd,#3777fe,#3777fe,#347afd,#3080fb,#2e87f7,#2c90f0,#2699e9,#21a3e3,#19addc,#06b5cf,#07bcc0)"></i></div>
<div class="p" style="left:100.2px;top:920.7px;width:624.4px;height:624.6px"><i style="height:5px;background:linear-gradient(90deg,#249de7,#249ee6,#249ee6,#249ee6,#259de7,#259ce7,#269be8,#2699e9,#2798ea,#2797ea,#2797eb,#2797eb,#2798ea,#2699e9,#259be7,#249ee6,#22a1e4,#1fa5e2,#1da9e0,#19acdc,#16afd9,#12b1d6,#0eb2d4,#0bb3d2,#08b4d0,#05b6ce,#02b7cb,#01b8c8,#02bac5,#04bbc2,#07bcc0,#09bcbe,#09bcbe,#09bcbe,#08bcbf,#07bcc0,#06bcc0,#05bbc1,#04bbc1,#04bbc2,#04bbc2,#04bbc2,#04bbc2,#04bbc1,#04bbc1,#04bbc2,#03bbc2,#02bbc3,#02bac4,#02bac4,#02bac4,#02bbc3,#04bbc2,#06bcc0,#08bcbf,#0abdbd,#0dbdbb,#10beba,#11beb9,#12beb9,#12beb9)"></i><i style="height:5px;background:linear-gradient(90deg,#259de7,#249ee6,#249ee6,#249ee6,#249de6,#259ce7,#259be7,#269ae8,#269ae9,#2699e9,#2699e9,#269ae9,#269be8,#259ce7,#249ee6,#22a1e4,#20a4e3,#1ea8e1,#1babde,#18aedb,#14b0d8,#10b2d5,#0db3d3,#0ab4d1,#07b5d0,#05b6ce,#03b7cb,#01b8c9,#01b9c6,#02bac3,#04bbc1,#06bcc0,#06bcc0,#06bcc0,#05bbc1,#04bbc1,#04bbc2,#03bbc2,#03bbc3,#02bbc3,#02bbc3,#02bbc3,#03bbc3,#03bbc3,#03bbc3,#03bbc3,#02bbc3,#02bac3,#02bac4,#02bac4,#02bbc3,#03bbc2,#05bbc1,#07bcc0,#09bcbe,#0bbdbd,#0ebdbb,#10beba,#12beb9,#14beb8,#14beb8)"></i><i style="height:5px;background:linear-gradient(90deg,#249de6,#249ee6,#249ee6,#249ee6,#249ee6,#249de7,#259ce7,#259ce7,#259be8,#259be8,#259be8,#259ce7,#249de7,#249fe6,#22a1e4,#21a4e3,#1ea7e1,#1caadf,#19acdc,#16afd9,#12b1d6,#0eb2d4,#0bb3d2,#09b4d1,#07b5cf,#05b6ce,#03b7cc,#01b8c9,#01b9c7,#02bac4,#02bbc3,#04bbc2,#04bbc1,#04bbc2,#04bbc2,#03bbc2,#03bbc3,#02bbc3,#02bbc3,#02bac3,#02bac3,#02bac3,#02bbc3,#02bbc3,#02bbc3,#02bbc3,#02bbc3,#02bbc3,#02bbc3,#03bbc3,#03bbc2,#04bbc1,#06bcc0,#08bcbf,#0abdbd,#0cbdbc,#0fbeba,#12beb9,#14beb8,#16bfb7,#16bfb7)"></i><i style="height:6px;background:linear-gradient(90deg,#249ee6,#249ee6,#249fe6,#249fe6,#249ee6,#249ee6,#249de6,#259de7,#259de7,#259de7,#249de6,#249ee6,#239fe5,#22a1e4,#21a3e3,#1fa6e2,#1da9e0,#1aabdd,#17aedb,#14b0d8,#10b2d5,#0cb3d3,#0ab4d1,#07b5d0,#06b5cf,#04b6cd,#02b7cb,#01b8c9,#01b9c7,#01bac5,#02bac4,#03bbc3,#03bbc2,#03bbc2,#03bbc2,#02bbc3,#02bbc3,#02bbc3,#02bbc3,#02bbc3,#02bbc3,#02bbc3,#02bbc3,#03bbc3,#03bbc3,#03bbc2,#03bbc2,#03bbc2,#04bbc2,#04bbc2,#05bbc1,#06bcc0,#08bcbf,#0abdbe,#0cbdbc,#0ebebb,#11beb9,#14beb8,#16bfb7,#18bfb6,#19bfb5)"></i><i style="height:5px;background:linear-gradient(90deg,#249ee6,#249fe5,#23a0e5,#23a0e5,#239fe5,#249fe5,#249fe6,#249ee6,#249ee6,#249fe6,#249fe5,#23a0e5,#22a2e4,#21a4e3,#1fa6e2,#1da8e0,#1babde,#19addc,#15afd9,#12b1d6,#0eb2d4,#0bb4d2,#08b4d0,#07b5cf,#05b6ce,#04b6cd,#02b7cb,#01b8c9,#01b9c7,#01bac5,#02bac4,#02bbc3,#03bbc2,#03bbc2,#03bbc2,#03bbc3,#03bbc3,#03bbc3,#03bbc3,#03bbc2,#03bbc2,#03bbc2,#04bbc2,#04bbc2,#04bbc2,#04bbc1,#05bbc1,#05bbc1,#06bcc0,#06bcc0,#07bcbf,#09bcbe,#0abdbd,#0cbdbc,#0ebebb,#11beb9,#14beb8,#16bfb7,#18bfb6,#1ac0b5,#1bc0b4)"></i><i style="height:5px;background:linear-gradient(90deg,#239fe5,#23a0e5,#23a1e5,#23a1e5,#23a1e5,#23a0e5,#23a0e5,#23a0e5,#23a0e5,#23a0e5,#22a1e4,#22a2e4,#20a4e3,#1fa6e2,#1da8e0,#1caadf,#19acdc,#17aeda,#13b0d7,#0fb2d5,#0cb3d3,#09b4d1,#07b5d0,#06b5ce,#05b6cd,#03b7cc,#01b7ca,#01b8c9,#01b9c7,#02bac5,#02bac4,#03bbc3,#03bbc2,#04bbc2,#04bbc2,#04bbc2,#04bbc2,#04bbc2,#04bbc1,#05bbc1,#05bbc1,#05bbc1,#06bcc0,#06bcc0,#06bcc0,#07bcc0,#07bcbf,#08bcbf,#08bcbf,#09bcbe,#0abdbd,#0cbdbc,#0ebdbb,#10beba,#12beb9,#14bfb8,#17bfb7,#19bfb5,#1bc0b4,#1cc0b3,#1ec0b2)"></i><i style="height:5px;background:linear-gradient(90deg,#23a1e4,#22a1e4,#22a2e4,#22a2e4,#22a2e4,#22a2e4,#22a2e4,#22a2e4,#22a2e4,#21a2e4,#21a3e3,#20a4e3,#1fa6e2,#1ea8e0,#1caadf,#1aacdd,#18aedb,#14b0d8,#11b1d6,#0db3d3,#0ab4d1,#07b5d0,#06b5cf,#05b6cd,#04b6cc,#02b7cb,#01b8ca,#01b9c8,#01b9c6,#02bac4,#02bbc3,#04bbc2,#05bbc1,#05bbc1,#05bbc1,#05bbc1,#06bcc0,#06bcc0,#07bcc0,#07bcbf,#08bcbf,#08bcbf,#08bcbe,#09bcbe,#09bcbe,#0abdbe,#0abdbd,#0bbdbd,#0cbdbc,#0dbdbb,#0fbebb,#10beba,#12beb9,#14beb8,#16bfb7,#18bfb6,#1abfb5,#1cc0b4,#1dc0b3,#1fc0b2,#20c1b1)"></i><i style="height:5px;background:linear-gradient(90deg,#22a2e4,#21a3e4,#21a3e3,#21a3e3,#21a3e3,#21a3e3,#21a3e3,#21a4e3,#20a4e3,#20a4e3,#1fa5e2,#1fa6e1,#1da8e0,#1caadf,#1aabdd,#18addb,#15afd9,#12b1d7,#0fb2d4,#0bb4d2,#08b5d0,#06b5cf,#05b6cd,#04b6cc,#03b7cb,#01b8ca,#01b8c9,#01b9c7,#02bac5,#02bbc3,#04bbc2,#06bbc1,#06bcc0,#07bcbf,#07bcbf,#08bcbf,#08bcbe,#09bcbe,#0abdbd,#0abdbd,#0bbdbd,#0cbdbc,#0cbdbc,#0dbdbc,#0dbdbb,#0ebdbb,#0fbebb,#10beba,#11beb9,#13beb9,#14beb8,#15bfb7,#17bfb6,#19bfb5,#1ac0b5,#1cc0b4,#1dc0b3,#1fc0b2,#20c1b1,#22c1b0,#23c1af)"></i><i style="height:5px;background:linear-gradient(90deg,#21a4e3,#20a4e3,#20a5e3,#20a5e2,#20a5e2,#20a5e2,#1fa5e2,#1fa5e2,#1fa6e2,#1fa6e1,#1ea7e1,#1da8e0,#1caadf,#1aabdd,#19addc,#16afd9,#13b0d7,#10b2d5,#0cb3d3,#08b4d1,#06b5cf,#05b6cd,#04b6cc,#02b7cb,#01b7ca,#01b8c9,#01b9c7,#01bac5,#02bac3,#04bbc1,#06bcc0,#08bcbf,#09bcbe,#0abdbd,#0abdbd,#0bbdbd,#0cbdbc,#0dbdbb,#0ebebb,#10beba,#11beba,#12beb9,#12beb9,#13beb8,#14beb8,#14bfb8,#15bfb7,#16bfb7,#17bfb6,#19bfb6,#1abfb5,#1bc0b4,#1cc0b3,#1dc0b3,#1ec0b2,#20c1b1,#21c1b0,#22c1b0,#23c1af,#24c2ae,#25c2ad)"></i><i style="height:6px;background:linear-gradient(90deg,#1fa5e2,#1fa6e2,#1fa6e1,#1ea6e1,#1ea7e1,#1ea7e1,#1ea7e1,#1ea7e1,#1da8e0,#1da8e0,#1ca9df,#1baade,#1aacdd,#19addc,#16afda,#14b0d8,#11b1d6,#0db3d3,#09b4d1,#07b5cf,#05b6ce,#03b7cc,#02b7cb,#01b8ca,#01b8c9,#01b9c8,#01b9c6,#02bac4,#04bbc2,#07bcc0,#09bdbe,#0bbdbd,#0dbdbc,#0ebdbb,#0fbebb,#10beba,#11beb9,#13beb8,#15bfb8,#16bfb7,#17bfb6,#18bfb6,#19bfb5,#1abfb5,#1ac0b5,#1bc0b4,#1cc0b4,#1cc0b3,#1dc0b3,#1ec0b2,#1fc0b1,#20c1b1,#21c1b0,#22c1b0,#23c1af,#24c1af,#25c2ae,#25c2ad,#26c2ad,#27c2ac,#27c2ab)"></i><i style="height:5px;background:linear-gradient(90deg,#1ea7e1,#1ea8e1,#1da8e0,#1da8e0,#1da8e0,#1da9e0,#1da9e0,#1ca9df,#1caadf,#1baade,#1aabdd,#19acdc,#18addb,#16afd9,#14b0d8,#11b1d6,#0db3d4,#0ab4d2,#07b5d0,#05b6ce,#03b7cc,#02b7cb,#01b8ca,#01b8c9,#01b9c7,#01b9c6,#02bac4,#04bbc2,#07bcbf,#0abdbd,#0ebdbb,#10beba,#12beb9,#14beb8,#15bfb7,#16bfb7,#18bfb6,#19bfb5,#1bc0b4,#1cc0b3,#1ec0b2,#1fc0b2,#1fc1b1,#20c1b1,#21c1b0,#21c1b0,#22c1b0,#23c1af,#23c1af,#24c1ae,#25c2ae,#25c2ad,#26c2ad,#26c2ac,#27c2ac,#27c2ac,#28c2ab,#28c3ab,#29c3aa,#29c3aa,#29c3a9)"></i><i style="height:5px;background:linear-gradient(90deg,#1ca9df,#1ca9df,#1caadf,#1caadf,#1baadf,#1baade,#1babde,#1aabdd,#1aacdd,#19acdc,#19addb,#17aeda,#15afd9,#13b0d7,#11b1d6,#0eb3d4,#0ab4d2,#07b5d0,#05b6ce,#03b7cc,#02b7cb,#01b8c9,#01b8c8,#01b9c7,#01b9c6,#02bac4,#04bbc2,#07bcc0,#0bbdbd,#0fbeba,#13beb8,#16bfb7,#18bfb6,#1abfb5,#1bc0b4,#1cc0b3,#1ec0b2,#1fc1b1,#21c1b0,#23c1af,#24c1ae,#25c2ad,#26c2ad,#26c2ac,#27c2ac,#27c2ac,#27c2ab,#28c2ab,#28c3ab,#29c3aa,#29c3aa,#29c3a9,#2ac3a9,#2ac3a9,#2ac3a9,#2bc3a8,#2bc3a8,#2bc3a8,#2bc3a8,#2cc4a7,#2cc4a7)"></i><i style="height:5px;background:linear-gradient(90deg,#1babde,#1babde,#1aabdd,#1aacdd,#1aacdd,#19acdc,#19addc,#19addc,#18aedb,#17aeda,#15afd9,#14b0d8,#12b1d7,#10b2d5,#0db3d3,#0ab4d2,#07b5d0,#05b6ce,#03b7cc,#01b7ca,#01b8c9,#01b9c8,#01b9c6,#01bac5,#02bac4,#03bbc2,#07bcc0,#0abdbd,#10beba,#15bfb7,#1abfb5,#1cc0b3,#1ec0b2,#20c1b1,#21c1b0,#22c1af,#24c1ae,#25c2ad,#27c2ac,#28c3ab,#29c3a9,#2ac3a9,#2bc3a8,#2bc3a8,#2cc4a7,#2cc4a7,#2cc4a7,#2cc4a6,#2dc4a6,#2dc4a6,#2dc4a5,#2dc4a5,#2dc4a5,#2dc4a5,#2dc4a5,#2ec4a5,#2ec4a5,#2ec4a5,#2ec4a5,#2ec4a5,#2dc4a5)"></i><i style="height:5px;background:linear-gradient(90deg,#19addc,#19addc,#19addc,#18addb,#18aedb,#17aeda,#16aeda,#16afd9,#15afd8,#13b0d8,#12b1d7,#11b2d5,#0eb2d4,#0cb3d3,#09b4d1,#07b5cf,#05b6ce,#03b7cc,#01b8ca,#01b8c8,#01b9c7,#01b9c6,#02bac4,#02bac3,#04bbc2,#07bcc0,#0abdbd,#10beba,#16bfb7,#1bc0b4,#20c1b1,#23c1af,#25c2ae,#26c2ad,#27c2ac,#28c2ab,#29c3aa,#2ac3a8,#2cc4a7,#2dc4a6,#2ec4a4,#2fc5a3,#2fc5a3,#2fc5a2,#30c5a2,#30c5a1,#30c5a1,#30c5a1,#30c5a1,#30c5a1,#30c5a1,#30c5a1,#30c5a1,#30c5a1,#30c5a1,#30c5a1,#30c5a1,#30c5a1,#30c5a2,#2fc5a2,#2fc5a2)"></i><i style="height:5px;background:linear-gradient(90deg,#16aeda,#16afda,#16afd9,#15afd9,#15afd9,#14b0d8,#13b0d7,#12b1d7,#11b1d6,#10b2d5,#0eb3d4,#0cb3d3,#0ab4d1,#08b5d0,#06b5cf,#04b6cd,#03b7cb,#01b8ca,#01b9c8,#01b9c6,#02bac5,#02bac3,#03bbc2,#05bbc1,#07bcbf,#0abdbd,#0fbeba,#16bfb7,#1cc0b3,#22c1b0,#25c2ad,#28c2ab,#29c3a9,#2ac3a8,#2bc3a7,#2cc4a6,#2dc4a5,#2ec5a3,#30c5a2,#31c6a0,#32c69f,#33c69e,#33c69d,#34c79c,#34c79c,#34c79c,#34c79c,#34c79b,#34c79b,#34c79b,#34c79c,#34c79c,#34c79c,#34c79c,#33c79c,#33c69d,#33c69d,#32c69e,#32c69f,#32c69f,#31c6a0)"></i><i style="height:6px;background:linear-gradient(90deg,#13b0d7,#13b0d7,#13b0d7,#13b1d7,#12b1d6,#11b1d6,#10b2d5,#0eb2d4,#0cb3d3,#0bb4d2,#09b4d1,#07b5d0,#06b5cf,#05b6cd,#03b7cc,#02b7cb,#01b8c9,#01b9c7,#01bac5,#02bac4,#03bbc2,#05bbc1,#07bcc0,#08bcbe,#0bbdbd,#0fbeba,#16bfb7,#1cc0b3,#22c1af,#27c2ac,#2ac3a8,#2dc4a6,#2ec4a4,#2fc5a3,#2fc5a2,#30c5a1,#31c6a0,#32c69e,#34c79c,#35c79a,#36c899,#37c897,#38c897,#38c896,#38c896,#39c895,#39c895,#39c895,#38c895,#38c896,#38c896,#38c896,#37c897,#37c897,#37c898,#36c898,#36c799,#35c79a,#34c79b,#34c79c,#33c69d)"></i><i style="height:5px;background:linear-gradient(90deg,#10b2d5,#10b2d5,#10b2d5,#0fb2d4,#0eb2d4,#0cb3d3,#0bb3d2,#09b4d1,#07b5d0,#06b5cf,#05b6ce,#04b6cd,#03b7cc,#01b7ca,#01b8c9,#01b9c8,#01b9c6,#02bac4,#03bbc3,#05bbc1,#07bcbf,#09bcbe,#0abdbd,#0dbdbc,#11beba,#16bfb7,#1cc0b4,#22c1b0,#27c2ab,#2cc4a7,#2fc5a3,#30c5a1,#32c69f,#32c69e,#33c79d,#34c79c,#35c79a,#36c898,#38c896,#3ac994,#3cc992,#3dc991,#3eca90,#3eca8f,#3eca8f,#3fca8e,#3fca8e,#3eca8f,#3eca8f,#3eca8f,#3dca90,#3dc990,#3cc991,#3cc992,#3bc993,#3ac994,#39c895,#38c896,#37c897,#36c899,#35c79a)"></i><i style="height:5px;background:linear-gradient(90deg,#0cb3d3,#0cb3d3,#0cb3d2,#0bb4d2,#09b4d1,#08b4d0,#07b5cf,#05b6ce,#04b6cd,#03b7cc,#02b7ca,#01b8c9,#01b8c8,#01b9c7,#01b9c6,#02bac5,#02bbc3,#04bbc1,#07bcc0,#09bdbe,#0cbdbc,#0ebdbb,#10beba,#13beb8,#17bfb6,#1cc0b4,#22c1b0,#27c2ab,#2cc4a7,#30c5a2,#32c69e,#34c79b,#36c799,#37c898,#37c897,#39c895,#3ac994,#3cc991,#3eca8f,#40ca8d,#43ca8b,#45cb89,#46cb88,#46cb87,#47cb87,#47cb87,#47cb87,#46cb88,#46cb88,#45cb89,#44cb89,#44ca8a,#42ca8b,#41ca8c,#40ca8d,#3eca8f,#3dc990,#3cc992,#3ac993,#39c895,#37c897)"></i><i style="height:5px;background:linear-gradient(90deg,#08b4d0,#08b4d0,#08b5d0,#07b5d0,#06b5cf,#05b6ce,#04b6cc,#02b7cb,#01b8ca,#01b8c8,#01b9c7,#01b9c6,#02bac5,#02bac4,#03bbc3,#05bbc1,#07bcc0,#09bcbe,#0cbdbc,#0fbeba,#12beb9,#15bfb7,#17bfb6,#1abfb5,#1dc0b3,#22c1b0,#27c2ac,#2cc4a7,#30c5a1,#34c79c,#37c898,#39c994,#3bc992,#3cc991,#3dc990,#3eca8f,#40ca8d,#43ca8a,#46cb88,#49cb85,#4ccb83,#4ecc81,#4fcc80,#50cc80,#50cc7f,#50cc7f,#50cc80,#4fcc80,#4fcc81,#4ecc81,#4dcb82,#4bcb83,#4acb84,#48cb86,#47cb87,#45cb89,#42ca8b,#40ca8d,#3eca8f,#3cc992,#3ac994)"></i><i style="height:5px;background:linear-gradient(90deg,#05b6ce,#05b6ce,#05b6ce,#04b6cd,#03b7cc,#02b7cb,#01b8ca,#01b8c8,#01b9c6,#02bac5,#02bac4,#03bbc2,#05bbc1,#06bcc0,#08bcbf,#0abdbd,#0cbdbc,#10beba,#14beb8,#17bfb6,#1abfb5,#1cc0b3,#1ec0b2,#20c1b1,#23c1af,#27c2ac,#2cc4a7,#30c5a2,#34c79c,#38c896,#3dc991,#40ca8d,#42ca8b,#44cb8a,#45cb89,#46cb87,#49cb85,#4ccb83,#4fcc80,#53cc7d,#56cc7b,#58cc79,#59cc78,#5acc77,#5acc77,#5acc77,#5acc78,#59cc78,#58cc79,#57cc7a,#56cc7b,#54cc7c,#53cc7e,#50cc7f,#4ecc81,#4bcb83,#49cb86,#46cb88,#43ca8b,#3fca8e,#3dc990)"></i><i style="height:5px;background:linear-gradient(90deg,#03b7cc,#03b7cc,#03b7cc,#02b7cb,#01b8ca,#01b8c8,#01b9c7,#02bac5,#02bbc3,#04bbc1,#07bcc0,#08bcbe,#0abdbd,#0cbdbc,#0fbebb,#11beb9,#15bfb8,#18bfb6,#1cc0b4,#1fc0b2,#21c1b0,#23c1af,#24c2ae,#26c2ad,#28c3aa,#2cc4a7,#2fc5a2,#34c79c,#38c896,#3eca8f,#44cb89,#49cb86,#4bcb83,#4dcc82,#4ecc81,#50cc80,#52cc7e,#56cc7b,#59cc78,#5dcc75,#60cd72,#62cd71,#63cd6f,#64cd6f,#64cd6f,#64cd6f,#63cd6f,#63cd70,#62cd71,#61cd71,#5fcd73,#5ecc74,#5bcc76,#59cc78,#56cc7b,#53cc7d,#4fcc80,#4ccb83,#48cb86,#44cb8a,#41ca8c)"></i><i style="height:6px;background:linear-gradient(90deg,#01b8ca,#01b8ca,#01b8ca,#01b8c9,#01b9c7,#01b9c6,#02bac4,#04bbc2,#07bcc0,#09bdbe,#0cbdbc,#0fbeba,#12beb9,#15bfb8,#17bfb6,#1ac0b5,#1dc0b3,#20c1b1,#23c1af,#26c2ad,#27c2ab,#29c3aa,#2ac3a9,#2bc3a8,#2dc4a5,#30c5a2,#33c79d,#38c896,#3eca8f,#47cb87,#4ecc81,#53cc7d,#56cc7b,#57cc7a,#58cc79,#5acc78,#5ccc76,#60cd73,#63cd6f,#67cd6c,#6bcd69,#6dcd68,#6ecd67,#6ecd66,#6ecd66,#6ecd67,#6ecd67,#6dcd67,#6ccd68,#6bcd69,#69cd6a,#67cd6c,#65cd6e,#62cd71,#5ecd74,#5bcc77,#57cc7a,#52cc7e,#4ecc82,#49cb85,#45cb88)"></i><i style="height:5px;background:linear-gradient(90deg,#01b8c8,#01b8c8,#01b9c8,#01b9c6,#02bac5,#02bbc3,#05bbc1,#08bcbf,#0bbdbc,#10beba,#14beb8,#17bfb6,#1ac0b4,#1dc0b3,#1fc1b1,#22c1b0,#25c2ae,#27c2ab,#2ac3a9,#2cc4a7,#2dc4a6,#2ec4a5,#2ec5a4,#2fc5a2,#31c6a0,#34c79c,#38c896,#3eca8f,#47cb87,#51cc7f,#59cc78,#5ecd74,#61cd72,#62cd71,#62cd70,#64cd6f,#66cd6d,#6acd6a,#6ecd67,#72cd63,#76cc61,#78cc5f,#79cc5e,#79cc5e,#79cc5e,#79cc5f,#78cc5f,#78cc5f,#77cc60,#76cc61,#74cc62,#72cd64,#6ecd66,#6bcd69,#67cd6c,#62cd70,#5ecc74,#59cc78,#54cc7d,#4ecc81,#4acb84)"></i><i style="height:5px;background:linear-gradient(90deg,#01b9c6,#01b9c6,#01bac6,#02bac4,#03bbc3,#06bcc0,#09bcbe,#0dbdbb,#12beb9,#17bfb6,#1bc0b4,#1fc0b2,#22c1b0,#25c2ae,#27c2ac,#29c3aa,#2bc3a8,#2dc4a5,#2fc5a3,#30c5a1,#31c6a0,#32c69e,#33c69d,#34c79c,#35c79a,#38c896,#3eca8f,#47cb87,#52cc7e,#5ccc75,#65cd6e,#6acd6a,#6dcd68,#6dcd67,#6ecd67,#6fcd66,#71cd64,#75cc61,#7acc5e,#7ecc5b,#81cc58,#83cc57,#84cc56,#84cc56,#84cc56,#83cc57,#83cc57,#83cc57,#82cc58,#81cc58,#7fcc5a,#7ccc5c,#79cc5e,#75cc62,#70cd65,#6bcd69,#65cd6e,#5fcd73,#5acc78,#54cc7c,#50cc80)"></i><i style="height:5px;background:linear-gradient(90deg,#02bac5,#02bac4,#02bac3,#04bbc2,#06bcc0,#0abdbe,#0ebebb,#14beb8,#19bfb5,#1ec0b2,#22c1b0,#25c2ad,#28c3ab,#2ac3a9,#2cc4a6,#2ec4a4,#30c5a2,#32c69f,#33c79c,#35c79a,#36c899,#37c897,#38c896,#39c895,#3bc992,#3fca8e,#47cb87,#52cc7e,#5ecc74,#69cd6b,#72cd63,#78cc5f,#7acc5e,#7acc5d,#7acc5e,#7bcc5d,#7dcc5b,#81cc59,#85cb55,#89cb52,#8ccb50,#8ecb4e,#8fcb4e,#8fcb4e,#8ecb4f,#8ecb4f,#8dcb4f,#8dcb4f,#8dcb4f,#8ccb50,#8acb52,#87cb54,#83cc57,#7fcc5a,#79cc5e,#73cd63,#6dcd68,#66cd6d,#60cd72,#5acc78,#55cc7c)"></i><i style="height:5px;background:linear-gradient(90deg,#03bbc3,#03bbc2,#05bbc1,#07bcbf,#0abdbd,#0fbebb,#15bfb8,#1ac0b4,#20c1b1,#24c2ae,#28c2ab,#2bc3a8,#2dc4a5,#2fc5a3,#31c6a0,#33c69e,#35c79b,#36c898,#39c895,#3bc993,#3dc991,#3eca8f,#3fca8e,#40ca8d,#44cb8a,#4acb85,#53cc7d,#5fcd73,#6bcd69,#78cc5f,#82cc58,#87cb54,#88cb53,#88cb53,#87cb54,#87cb54,#89cb52,#8ccb50,#90ca4d,#94ca4a,#97ca47,#99c946,#99c946,#99c946,#98c947,#97ca47,#97ca47,#97ca47,#97ca48,#96ca48,#94ca4a,#91ca4c,#8dcb4f,#88cb53,#82cc57,#7ccc5c,#75cc62,#6dcd67,#66cd6d,#5fcd73,#5acc77)"></i><i style="height:5px;background:linear-gradient(90deg,#06bcc0,#06bcc0,#08bcbf,#0bbdbd,#10beba,#15bfb7,#1bc0b4,#21c1b1,#25c2ad,#29c3a9,#2dc4a6,#2fc5a3,#31c6a0,#33c79d,#35c79a,#37c897,#3ac993,#3dc990,#40ca8d,#43ca8a,#46cb88,#47cb87,#49cb85,#4bcb83,#50cc80,#56cc7a,#60cd72,#6dcd67,#7bcc5d,#88cb53,#91ca4c,#96ca48,#97ca48,#96ca48,#94ca4a,#94ca4a,#95ca49,#98c947,#9cc944,#9fc941,#a2c840,#a3c83f,#a3c83f,#a2c83f,#a2c840,#a1c840,#a1c840,#a1c840,#a1c840,#a0c841,#9ec942,#9bc944,#97ca48,#92ca4c,#8bcb51,#84cc56,#7dcc5c,#74cc62,#6dcd68,#65cd6e,#60cd72)"></i><i style="height:6px;background:linear-gradient(90deg,#09bdbe,#0abdbd,#0dbdbc,#11beb9,#16bfb7,#1cc0b4,#21c1b0,#26c2ac,#2ac3a9,#2ec4a5,#30c5a1,#33c69d,#35c799,#38c896,#3bc993,#3eca8f,#42ca8c,#46cb88,#4acb85,#4dcc82,#50cc7f,#53cc7d,#55cc7b,#58cc79,#5dcc75,#65cd6e,#70cd65,#7fcc5a,#8dcb4f,#99c946,#a2c83f,#a6c83c,#a6c73c,#a5c83e,#a2c83f,#a1c840,#a1c840,#a4c83e,#a7c73c,#aac73a,#acc738,#adc638,#adc638,#acc738,#abc739,#aac739,#aac739,#abc739,#aac739,#aac73a,#a8c73b,#a5c83e,#a0c841,#9ac945,#94ca4a,#8ccb50,#84cc56,#7ccc5c,#73cd63,#6bcd69,#65cd6e)"></i><i style="height:5px;background:linear-gradient(90deg,#0fbebb,#10beba,#14beb8,#18bfb6,#1dc0b3,#22c1af,#27c2ac,#2bc3a8,#2ec5a3,#32c69f,#35c79b,#37c897,#3bc993,#3eca8f,#42ca8b,#47cb87,#4bcb83,#50cc80,#55cc7c,#59cc79,#5ccc76,#5fcd73,#62cd70,#67cd6d,#6dcd68,#76cc61,#83cc57,#91ca4c,#a0c841,#acc739,#b4c534,#b7c532,#b6c532,#b4c534,#b0c636,#aec637,#aec637,#afc636,#b2c635,#b4c533,#b6c532,#b7c532,#b6c532,#b5c533,#b4c533,#b3c534,#b3c534,#b3c534,#b3c534,#b3c534,#b1c636,#adc638,#a8c73b,#a2c83f,#9cc944,#94ca4a,#8bcb51,#83cc57,#7acc5e,#71cd64,#6bcd69)"></i><i style="height:5px;background:linear-gradient(90deg,#16bfb7,#18bfb6,#1bc0b4,#1fc0b2,#24c1ae,#28c2ab,#2cc4a7,#2fc5a2,#32c69e,#36c799,#39c994,#3dca90,#42ca8b,#47cb87,#4ccb83,#51cc7f,#56cc7b,#5bcc77,#5fcd73,#64cd6f,#68cd6b,#6dcd68,#71cd64,#77cc60,#7fcc5a,#8acb52,#97ca48,#a5c83d,#b3c534,#bec32e,#c5c22a,#c8c129,#c6c22a,#c3c22b,#bec32e,#bbc42f,#bac430,#bbc430,#bcc42f,#bec32e,#bfc32d,#c0c32d,#bfc32d,#bec32e,#bdc32e,#bcc42f,#bcc42f,#bcc42f,#bcc42f,#bbc430,#b9c431,#b5c533,#b0c636,#aac73a,#a3c83f,#9bc945,#92ca4b,#89cb52,#80cc59,#77cc60,#70cd65)"></i><i style="height:5px;background:linear-gradient(90deg,#1ec0b2,#1fc1b1,#22c1af,#26c2ad,#29c3a9,#2dc4a5,#30c5a1,#33c79c,#37c897,#3bc992,#40ca8d,#46cb88,#4bcb84,#51cc7f,#56cc7b,#5bcc76,#60cd72,#65cd6e,#6acd6a,#70cd65,#75cc61,#7bcc5d,#82cc58,#89cb52,#93ca4b,#9ec942,#acc738,#bac430,#c7c12a,#d1bf27,#d7be28,#d8be28,#d6be28,#d2bf27,#ccc028,#c8c129,#c6c22a,#c6c22a,#c6c12a,#c8c129,#c8c129,#c8c129,#c7c129,#c6c22a,#c5c22a,#c4c22a,#c4c22b,#c4c22b,#c3c22b,#c2c22c,#c0c32d,#bcc42f,#b7c532,#b1c635,#aac73a,#a1c840,#99c946,#8fca4e,#86cb55,#7dcc5c,#76cc61)"></i><i style="height:5px;background:linear-gradient(90deg,#25c2ad,#27c2ac,#29c3aa,#2cc4a7,#2fc5a3,#32c69f,#35c79a,#39c895,#3dc990,#43ca8b,#49cb85,#4fcc80,#55cc7b,#5bcc77,#60cd72,#65cd6e,#6acd6a,#70cd65,#75cc61,#7ccc5c,#82cc57,#8acb52,#92ca4b,#9cc944,#a7c73c,#b4c534,#c2c32c,#cfc028,#dbbd28,#e3bc2c,#e8bb2e,#e8bb2f,#e5bb2d,#e0bc2a,#dabd28,#d5be28,#d2bf27,#d1bf27,#d0bf27,#d1bf27,#d1bf27,#d0bf27,#cfc028,#cec028,#cdc028,#ccc028,#ccc028,#cbc029,#cbc129,#c9c129,#c7c12a,#c3c22b,#bec32e,#b7c532,#b0c636,#a7c73c,#9fc942,#95ca49,#8bcb50,#82cc58,#7bcc5d)"></i><i style="height:5px;background:linear-gradient(90deg,#2cc4a7,#2dc4a6,#2fc5a3,#31c6a0,#34c79c,#37c898,#3bc993,#40ca8d,#46cb88,#4dcc82,#54cc7d,#5acc77,#60cd72,#65cd6e,#6acd6a,#70cd65,#75cc61,#7acc5d,#80cc59,#87cb54,#8fcb4e,#98c947,#a3c83f,#aec637,#bbc42f,#c9c129,#d6be28,#e2bc2b,#ecba33,#f3ba39,#f6ba3c,#f6ba3b,#f3ba38,#edba33,#e7bb2e,#e1bc2b,#ddbd29,#dbbd28,#dabd28,#d9be28,#d9be28,#d8be28,#d7be28,#d6be28,#d5be28,#d4bf28,#d3bf27,#d2bf27,#d1bf27,#cfc028,#ccc028,#c8c129,#c3c22b,#bdc42f,#b5c533,#adc638,#a4c83e,#9ac945,#91ca4c,#87cb54,#80cc59)"></i><i style="height:6px;background:linear-gradient(90deg,#31c6a0,#32c69f,#34c79c,#36c898,#3ac994,#3eca8f,#44ca8a,#4acb84,#51cc7f,#58cc79,#5fcd73,#65cd6e,#6bcd69,#70cd65,#75cc61,#7acc5d,#7fcc5a,#84cb56,#8acb51,#92ca4c,#9bc945,#a6c83d,#b3c534,#c0c32d,#cec028,#dcbd29,#e9bb2f,#f3ba39,#fbbc3d,#febf3c,#fec13a,#fec03b,#fdbd3d,#f9bb3d,#f3ba38,#ecba33,#e8bb2e,#e4bb2c,#e2bc2b,#e1bc2b,#e0bc2a,#dfbc2a,#debd2a,#ddbd29,#dcbd29,#dbbd28,#dabd28,#d9be28,#d7be28,#d5be28,#d2bf27,#cdc028,#c8c129,#c1c32c,#bac430,#b2c635,#a9c73b,#9fc941,#96ca49,#8ccb50,#84cc56)"></i><i style="height:5px;background:linear-gradient(90deg,#36c898,#37c897,#3ac994,#3dca90,#42ca8b,#48cb86,#4fcc80,#56cc7b,#5dcc74,#64cd6f,#6bcd69,#71cd64,#77cc60,#7ccc5c,#80cc59,#85cb56,#89cb52,#8ecb4f,#94ca4a,#9cc944,#a6c83c,#b3c534,#c1c32c,#d0bf27,#dfbc2a,#ecba33,#f8ba3d,#febf3b,#fec537,#fec934,#fdcb33,#fec934,#fec636,#fec13a,#fcbc3d,#f6ba3c,#f1ba37,#edba33,#eaba31,#e8bb2f,#e7bb2e,#e6bb2d,#e5bb2c,#e3bb2c,#e2bc2b,#e1bc2b,#e0bc2a,#debc2a,#dcbd29,#dabd28,#d6be28,#d2bf27,#ccc028,#c6c22a,#bec32e,#b6c532,#adc638,#a4c83e,#9ac945,#90ca4d,#88cb53)"></i><i style="height:5px;background:linear-gradient(90deg,#3eca8f,#3fca8e,#43ca8a,#48cb86,#4ecc81,#55cc7c,#5ccc76,#63cd70,#6acd6a,#71cd64,#78cc5f,#7ecc5b,#83cc57,#87cb54,#8bcb51,#8ecb4e,#92ca4b,#97ca48,#9dc943,#a5c83d,#b1c636,#bfc32d,#cfc028,#dfbc2a,#edba34,#fabb3d,#fec239,#fec934,#fcd030,#fad42e,#fad52d,#fbd32e,#fccf31,#fec934,#fec339,#febd3c,#f9bb3d,#f5ba3a,#f1ba37,#efba35,#edba33,#ecba32,#eaba31,#e9bb30,#e8bb2f,#e7bb2e,#e6bb2d,#e4bb2c,#e1bc2b,#debc2a,#dabd28,#d5be28,#d0bf27,#c9c129,#c2c22c,#bac430,#b1c635,#a8c73b,#9ec942,#94ca4a,#8dcb50)"></i><i style="height:5px;background:linear-gradient(90deg,#48cb86,#4bcb84,#4fcc80,#55cc7c,#5bcc77,#62cd71,#69cd6b,#70cd65,#78cc5f,#7fcc5a,#85cb55,#8acb52,#8ecb4e,#92ca4c,#95ca49,#98ca47,#9bc945,#9fc941,#a6c83d,#aec637,#bbc430,#cac129,#dbbd28,#ebba31,#f9bb3d,#fec239,#fdcc32,#fad42e,#f8da2b,#f6de29,#f6df29,#f7dd2a,#f9d82c,#fcd12f,#feca33,#fec438,#febf3c,#fbbc3d,#f8ba3d,#f5ba3a,#f3ba38,#f1ba37,#f0ba36,#efba35,#eeba34,#ecba33,#ebba31,#e8bb2f,#e6bb2d,#e2bc2b,#debd29,#d9be28,#d3bf27,#cdc028,#c5c22a,#bdc32e,#b5c533,#acc739,#a2c83f,#98c947,#90ca4d)"></i><i style="height:5px;background:linear-gradient(90deg,#55cc7c,#57cc7a,#5ccc75,#62cd71,#68cd6b,#70cd65,#77cc60,#7fcc5a,#86cb55,#8ccb50,#92ca4c,#96ca48,#99c946,#9cc944,#9ec942,#a0c840,#a3c83f,#a7c73c,#aec637,#b7c532,#c3c22b,#d3bf27,#e5bb2c,#f5ba3a,#fec03a,#fdcb33,#fad52e,#f6dd29,#f5e427,#f5e725,#f5e825,#f5e526,#f6e028,#f8d92c,#fcd12f,#feca33,#fec438,#fec03b,#fdbd3d,#fabb3d,#f8ba3d,#f6ba3c,#f5ba3a,#f4ba39,#f3ba38,#f1ba37,#efba35,#edba33,#e9bb30,#e6bb2d,#e1bc2b,#dcbd29,#d6be28,#d0c028,#c8c129,#c0c32d,#b8c431,#afc637,#a5c83d,#9cc944,#94ca4a)"></i><i style="height:5px;background:linear-gradient(90deg,#61cd71,#64cd6f,#69cd6a,#70cd65,#77cc60,#7ecc5a,#86cb55,#8dcb4f,#93ca4a,#99c946,#9ec942,#a1c840,#a4c83e,#a6c83d,#a7c73c,#a9c73b,#abc739,#afc637,#b5c533,#bec32e,#cbc029,#dcbd29,#edba33,#fcbc3d,#fec735,#fbd22f,#f7dd2a,#f5e626,#f5ec22,#f6ef20,#f6ef20,#f5ec22,#f5e725,#f6df29,#f9d72c,#fcd030,#fec934,#fec437,#fec13a,#febe3c,#fcbc3d,#fabb3d,#f9bb3d,#f8ba3d,#f7ba3c,#f5ba3b,#f3ba39,#f0ba36,#edba33,#e9bb2f,#e4bb2c,#dfbc2a,#d9be28,#d2bf27,#cbc129,#c3c22b,#bac430,#b2c635,#a8c73b,#9fc942,#98ca47)"></i><i style="height:5px;background:linear-gradient(90deg,#6ecd67,#71cd64,#77cc60,#7ecc5b,#85cb56,#8ccb50,#93ca4a,#9ac945,#a0c841,#a5c83d,#a9c73a,#acc738,#aec637,#afc637,#b0c636,#b1c635,#b3c534,#b6c532,#bcc42f,#c6c22a,#d3bf27,#e3bc2c,#f4ba39,#fec03a,#fdcd32,#f8d92c,#f5e427,#f5ec22,#f6f21e,#f7f51b,#f7f51b,#f6f21e,#f5ec22,#f5e526,#f7dd2a,#fad52d,#fdce31,#fec934,#fec537,#fec13a,#febf3b,#febd3c,#fcbd3d,#fbbc3d,#fabb3d,#f9bb3d,#f7ba3c,#f4ba39,#f0ba36,#ecba32,#e7bb2e,#e1bc2b,#dbbd29,#d4bf28,#cdc028,#c5c22a,#bdc42f,#b4c534,#abc739,#a2c83f,#9bc944)"></i><i style="height:6px;background:linear-gradient(90deg,#7acc5d,#7ecc5a,#84cc56,#8bcb51,#92ca4c,#99c946,#a0c841,#a6c83c,#acc738,#b0c636,#b4c534,#b6c532,#b7c532,#b7c531,#b8c431,#b8c431,#bac430,#bdc32e,#c3c22b,#ccc028,#d9be28,#e9bb2f,#f9bb3d,#fec437,#fcd12f,#f6de29,#f5e825,#f6f01f,#f7f61a,#f8f917,#f8f917,#f7f61a,#f6f11f,#f5ea24,#f5e228,#f8da2b,#fbd32e,#fdcd31,#fec934,#fec537,#fec239,#fec03a,#febf3b,#febe3c,#fdbd3d,#fbbc3d,#f9bb3d,#f7ba3c,#f3ba38,#eeba34,#e9bb30,#e3bb2c,#ddbd29,#d6be28,#cfc028,#c7c12a,#bec32e,#b6c532,#adc638,#a5c83d,#9fc942)"></i><i style="height:5px;background:linear-gradient(90deg,#86cb55,#8acb52,#90ca4d,#97ca48,#9ec942,#a5c83e,#abc739,#b1c635,#b6c532,#bbc430,#bdc32e,#bfc32d,#bfc32d,#bfc32d,#bfc32d,#bfc32d,#c1c32c,#c4c22b,#c9c129,#d2bf27,#dfbc2a,#eeba34,#fcbc3d,#fec735,#fad42e,#f6e028,#f5eb23,#f6f31d,#f8f818,#f9fb15,#f9fb15,#f8f817,#f7f31d,#f5ed22,#f5e526,#f6dd29,#f9d72d,#fcd12f,#fdcc32,#fec934,#fec636,#fec338,#fec239,#fec03a,#febf3b,#fdbd3c,#fbbc3d,#f9bb3d,#f5ba3b,#f1ba37,#ebba32,#e6bb2d,#dfbc2a,#d8be28,#d0bf27,#c8c129,#c0c32d,#b8c531,#afc636,#a8c73b,#a2c83f)"></i><i style="height:5px;background:linear-gradient(90deg,#90ca4d,#94ca4a,#9bc945,#a1c840,#a8c73b,#afc637,#b5c533,#bbc42f,#c0c32d,#c4c22b,#c6c22a,#c7c12a,#c7c12a,#c7c12a,#c6c22a,#c6c22a,#c7c12a,#cac129,#d0c028,#d8be28,#e3bb2c,#f1ba37,#febe3c,#fec934,#fad62d,#f5e128,#f5eb23,#f7f31d,#f8f817,#f9fb15,#f9fb15,#f8f917,#f7f41c,#f5ee21,#f5e725,#f6e028,#f8da2b,#fad42e,#fcd030,#fdcc32,#fec934,#fec636,#fec437,#fec339,#fec13a,#febf3b,#fdbd3d,#fbbc3d,#f7ba3d,#f3ba38,#edba34,#e7bb2e,#e1bc2b,#d9bd28,#d1bf27,#c9c129,#c1c32c,#b9c431,#b1c635,#aac73a,#a6c83d)"></i><i style="height:5px;background:linear-gradient(90deg,#99c946,#9ec942,#a4c83e,#abc739,#b2c635,#b8c431,#bec32e,#c4c22b,#c8c129,#ccc028,#cec028,#cec028,#cec028,#cdc028,#ccc028,#ccc028,#cdc028,#d0bf27,#d5be28,#ddbd29,#e8bb2f,#f4ba3a,#febf3b,#feca33,#fad62d,#f6e128,#f5ea23,#f6f21e,#f8f719,#f9fa16,#f9fa15,#f8f817,#f7f41c,#f6ef20,#f5e924,#f5e327,#f7dd2a,#f9d72c,#fbd32e,#fccf30,#fdcc32,#fec934,#fec736,#fec537,#fec339,#fec13a,#febe3c,#fcbc3d,#f9bb3d,#f5ba3a,#efba35,#e9bb30,#e2bc2b,#dbbd28,#d2bf27,#cac129,#c2c22c,#bac430,#b3c534,#adc638,#a9c73a)"></i><i style="height:5px;background:linear-gradient(90deg,#a1c840,#a6c83d,#adc638,#b3c534,#bac430,#c1c32c,#c7c12a,#ccc028,#d0bf27,#d3bf27,#d5be28,#d5be28,#d5be28,#d3bf27,#d3bf27,#d2bf27,#d3bf27,#d6be28,#dbbd28,#e2bc2b,#ecba32,#f7ba3c,#fec03a,#feca33,#fad42e,#f8d92c,#f8d82c,#f8d92b,#f7db2a,#f6df29,#f5e427,#f5eb23,#f6f11f,#f5ef20,#f5e924,#f5e427,#f6df29,#f8da2b,#fad62d,#fbd22f,#fdce31,#fdcc32,#fec934,#fec736,#fec437,#fec239,#fec03b,#fdbd3d,#fabb3d,#f7ba3c,#f1ba37,#ebba31,#e4bb2c,#dcbd29,#d4bf27,#cbc129,#c3c22b,#bbc430,#b4c533,#afc637,#acc738)"></i><i style="height:5px;background:linear-gradient(90deg,#a8c73b,#adc638,#b4c534,#bbc42f,#c2c22c,#c8c129,#cec028,#d3bf27,#d7be28,#d9bd28,#dbbd29,#dbbd29,#dabd28,#d9bd28,#d8be28,#d8be28,#d9be28,#dbbd29,#e0bc2a,#e7bb2d,#efba35,#f9bb3d,#fec13a,#fec934,#fdcc32,#fdcb33,#fdca33,#fdcb33,#fdcb33,#fdcc32,#fdce31,#fcd030,#fad52e,#f7dc2a,#f5e626,#f5e526,#f6e028,#f7dc2a,#f9d82c,#fad42e,#fcd12f,#fdce31,#fdcb33,#fec834,#fec636,#fec338,#fec13a,#febe3c,#fcbc3d,#f8ba3d,#f3ba39,#edba33,#e6bb2d,#ddbd29,#d5be28,#ccc028,#c4c22b,#bcc42f,#b6c533,#b1c635,#afc636)"></i><i style="height:6px;background:linear-gradient(90deg,#afc637,#b4c534,#bbc430,#c2c22c,#c8c129,#cfc028,#d4bf28,#d9be28,#ddbd29,#dfbc2a,#e1bc2b,#e1bc2b,#e0bc2a,#dfbc2a,#ddbd29,#ddbd29,#debd2a,#e0bc2b,#e5bb2d,#ebba31,#f2ba38,#fabb3d,#fec13a,#fec537,#fec537,#fec437,#fec438,#fec438,#fec438,#fec537,#fec636,#fec735,#fec934,#fdcc32,#fcd030,#f8da2b,#f6e128,#f7dd2a,#f8da2b,#f9d62d,#fbd32e,#fcd030,#fdcd32,#feca33,#fec735,#fec437,#fec239,#febf3b,#fdbd3d,#f9bb3d,#f5ba3a,#eeba35,#e7bb2e,#dfbc2a,#d6be28,#cdc028,#c5c22a,#bdc32e,#b7c532,#b3c534,#b2c535)"></i><i style="height:5px;background:linear-gradient(90deg,#b4c534,#b9c430,#c1c32d,#c8c129,#cec028,#d5be28,#dabd28,#debc2a,#e2bc2b,#e5bb2c,#e6bb2d,#e6bb2d,#e5bb2d,#e4bb2c,#e2bc2b,#e2bc2b,#e3bc2c,#e6bb2d,#e9bb30,#eeba35,#f5ba3a,#fbbc3d,#fec03b,#fec13a,#fec03b,#febe3c,#febe3c,#febe3c,#febe3c,#febe3c,#febf3b,#fec13a,#fec239,#fec537,#fec735,#fdcb32,#fbd32e,#f6de29,#f7db2b,#f9d82c,#fad42e,#fcd12f,#fdce31,#fdcb33,#fec835,#fec537,#fec339,#fec03a,#febe3c,#fbbc3d,#f7ba3c,#f0ba36,#e9bb2f,#e0bc2b,#d7be28,#cec028,#c6c22a,#bec32e,#b9c431,#b6c533,#b5c533)"></i><i style="height:5px;background:linear-gradient(90deg,#b9c431,#bec32e,#c6c22a,#cdc028,#d4bf28,#dabd28,#dfbc2a,#e3bb2c,#e7bb2e,#e9bb30,#eaba31,#eaba31,#e9bb30,#e8bb2f,#e7bb2e,#e7bb2e,#e8bb2f,#eaba31,#eeba34,#f2ba38,#f8ba3d,#fcbd3d,#febe3c,#febd3c,#fbbc3d,#f7ba3c,#f4ba39,#f2ba38,#f3ba39,#f5ba3b,#f8ba3d,#fabb3d,#fdbd3d,#febe3c,#fec13a,#fec537,#fec934,#fbd22f,#f7db2a,#f8d82c,#fad52d,#fbd22f,#fccf30,#fdcc32,#fec934,#fec636,#fec438,#fec13a,#febf3c,#fcbc3d,#f8ba3d,#f2ba38,#ebba31,#e2bc2b,#d9bd28,#d0bf27,#c8c129,#c0c32d,#bbc430,#b8c431,#b8c431)"></i><i style="height:5px;background:linear-gradient(90deg,#bdc32e,#c3c22b,#cbc129,#d2bf27,#d9be28,#dfbc2a,#e4bb2c,#e8bb2f,#ebba32,#edba34,#efba35,#efba35,#eeba34,#ecba33,#ecba32,#ebba32,#ecba33,#efba35,#f2ba37,#f6ba3b,#fabb3d,#fdbd3d,#fdbd3d,#f8ba3d,#ebba31,#dfbc2a,#d9be28,#d6be28,#d7be28,#dabd28,#debc2a,#e5bb2d,#edba33,#f6ba3b,#fcbc3d,#febf3b,#fec438,#fec934,#fad42e,#f8d92c,#fad62d,#fbd32e,#fcd030,#fdcd32,#feca33,#fec735,#fec537,#fec239,#fec03b,#fdbd3d,#fabb3d,#f4ba39,#edba33,#e4bb2c,#dbbd29,#d2bf27,#cac129,#c2c22c,#bdc32f,#bac430,#bac430)"></i><i style="height:5px;background:linear-gradient(90deg,#c1c32d,#c7c12a,#cfc028,#d6be28,#ddbd29,#e3bc2c,#e8bb2f,#ecba32,#efba35,#f1ba37,#f2ba38,#f2ba38,#f2ba37,#f1ba37,#f0ba36,#f0ba36,#f1ba37,#f3ba38,#f6ba3b,#f9ba3d,#fbbc3d,#fdbd3d,#fabb3d,#e9bb2f,#d4bf28,#c6c22a,#bec32e,#bac430,#bac430,#bcc42f,#c1c32c,#c7c12a,#d0c027,#dbbd29,#ebba32,#f9bb3d,#febf3c,#fec437,#fdcc32,#f9d82c,#fad62d,#fbd32e,#fcd030,#fdcd31,#feca33,#fec835,#fec636,#fec338,#fec13a,#febe3c,#fbbc3d,#f6ba3b,#efba35,#e7bb2e,#debd2a,#d5be28,#ccc028,#c5c22a,#bfc32d,#bcc42f,#bdc42f)"></i><i style="height:5px;background:linear-gradient(90deg,#c4c22b,#cac129,#d3bf27,#dabd28,#e1bc2b,#e7bb2e,#ecba32,#f0ba36,#f3ba38,#f5ba3a,#f6ba3b,#f6ba3b,#f5ba3b,#f5ba3a,#f4ba39,#f4ba39,#f5ba3a,#f7ba3c,#f9bb3d,#fbbc3d,#fdbd3d,#fcbd3d,#f3ba39,#d8be28,#c0c32d,#acc738,#9cc944,#94ca4a,#92ca4b,#95ca49,#9cc944,#a5c83d,#b1c635,#c0c32d,#d1bf27,#e6bb2d,#fabb3d,#fec03b,#fec735,#fcd12f,#fad52d,#fbd32f,#fcd030,#fdcd31,#fdcb33,#fec934,#fec736,#fec437,#fec239,#febf3b,#fcbd3d,#f8ba3d,#f1ba37,#eabb30,#e1bc2b,#d8be28,#d0c028,#c8c129,#c2c22c,#bfc32d,#bfc32e)"></i><i style="height:6px;background:linear-gradient(90deg,#c7c12a,#cec028,#d6be28,#debd29,#e5bb2d,#eaba31,#efba35,#f3ba39,#f6ba3b,#f8ba3d,#f9bb3d,#f9bb3d,#f9bb3d,#f8ba3d,#f8ba3d,#f8ba3d,#f9ba3d,#fabb3d,#fbbc3d,#fdbd3d,#febe3c,#fcbc3d,#ebba31,#cbc129,#adc638,#8ccb50,#75cc62,#6acd6a,#67cd6c,#69cd6b,#6ecd66,#78cc5f,#87cb54,#9ec943,#b6c532,#cfc028,#ebba31,#fcbd3d,#fec338,#fdcc32,#fad42e,#fbd22f,#fcd030,#fdcd31,#fdcb32,#fec934,#fec835,#fec636,#fec338,#fec13a,#febe3c,#fabb3d,#f4ba39,#ecba33,#e4bb2c,#dcbd29,#d3bf27,#ccc028,#c6c22a,#c2c32c,#c0c32d)"></i><i style="height:5px;background:linear-gradient(90deg,#c9c129,#d1bf27,#d9bd28,#e1bc2b,#e8bb2f,#eeba34,#f2ba38,#f6ba3b,#f9bb3d,#fabb3d,#fbbc3d,#fbbc3d,#fbbc3d,#fbbc3d,#fbbc3d,#fbbc3d,#fbbc3d,#fcbd3d,#febe3c,#febf3b,#febf3b,#fbbc3d,#e3bc2c,#c0c32d,#98c947,#6fcd66,#56cc7b,#47cb87,#42ca8b,#43ca8a,#48cb86,#51cc7e,#5fcd73,#74cd62,#95ca49,#b9c431,#d7be28,#f6ba3c,#fec03b,#fec835,#fcd12f,#fcd030,#fccf30,#fdcd31,#fdcc32,#feca33,#fec934,#fec735,#fec537,#fec239,#febf3b,#fbbc3d,#f6ba3c,#efba35,#e8bb2e,#dfbc2a,#d7be28,#d0c028,#c9c129,#c4c22b,#c2c22c)"></i><i style="height:5px;background:linear-gradient(90deg,#cbc029,#d3bf27,#dcbd29,#e4bb2c,#ebba31,#f0ba36,#f5ba3a,#f9ba3d,#fbbc3d,#fcbd3d,#fdbd3d,#febd3c,#fdbd3d,#fdbd3d,#fdbd3d,#fdbd3d,#febe3c,#febf3c,#fec03b,#fec13a,#fec03b,#fbbc3d,#debd29,#b9c431,#87cb54,#5ccc76,#3bc992,#2cc4a7,#24c1ae,#24c1af,#28c3aa,#30c5a2,#3bc993,#52cc7e,#72cd64,#a0c941,#c7c12a,#eaba31,#febd3c,#fec537,#fdcd31,#fccf30,#fdce31,#fdcd32,#fdcc32,#fdcb33,#feca34,#fec835,#fec636,#fec438,#fec03a,#fdbd3d,#f9bb3d,#f2ba38,#ebba31,#e3bc2c,#dbbd29,#d3bf27,#ccc028,#c7c12a,#c3c22b)"></i><i style="height:5px;background:linear-gradient(90deg,#cdc028,#d5be28,#dfbc2a,#e7bb2e,#edba34,#f3ba39,#f8ba3d,#fabb3d,#fcbd3d,#febe3c,#febf3c,#febf3b,#febf3b,#febf3b,#febf3b,#febf3b,#fec03b,#fec13a,#fec239,#fec338,#fec03a,#fbbc3d,#dbbd29,#b3c534,#7ccc5c,#4dcc82,#2cc4a7,#0abdbd,#01bac5,#01b9c6,#02bac4,#07bcbf,#1cc0b3,#35c79a,#58cc7a,#85cb56,#b7c532,#ddbd29,#fbbc3d,#fec338,#feca33,#fdcd32,#fdcd32,#fdcc32,#fdcc32,#fdcc32,#fdcb33,#fec934,#fec735,#fec537,#fec239,#febe3c,#fbbc3d,#f5ba3b,#eeba34,#e7bb2e,#dfbc2a,#d7be28,#d0c027,#c9c129,#c5c22a)"></i><i style="height:5px;background:linear-gradient(90deg,#cfc028,#d7be28,#e1bc2b,#e9bb30,#f0ba36,#f5ba3a,#f9bb3d,#fcbc3d,#febe3c,#febf3b,#fec03b,#fec13a,#fec13a,#fec13a,#fec13a,#fec13a,#fec239,#fec339,#fec438,#fec437,#fec13a,#fabc3d,#dabd28,#b1c635,#76cc60,#45cb89,#1bc0b4,#01b8ca,#13b0d7,#18addb,#15afd9,#0bb3d2,#01b9c7,#1bc0b4,#40ca8d,#6fcd66,#a8c73b,#d2bf27,#f7ba3c,#fec13a,#fec835,#fdcb33,#fdcb32,#fdcc32,#fdcc32,#fdcc32,#fdcb33,#feca33,#fec834,#fec636,#fec338,#fec03b,#fcbd3d,#f8ba3d,#f1ba37,#eaba31,#e3bc2c,#dbbd29,#d3bf27,#cbc129,#c6c22a)"></i><i style="height:5px;background:linear-gradient(90deg,#d0bf27,#d9be28,#e3bc2c,#ebba31,#f1ba37,#f7ba3c,#fabb3d,#fdbd3d,#febf3c,#fec03b,#fec13a,#fec239,#fec239,#fec239,#fec339,#fec338,#fec438,#fec437,#fec537,#fec636,#fec239,#fbbc3d,#dabd28,#b1c636,#74cc62,#40ca8d,#11beba,#0bb3d2,#249ee6,#2b92ee,#2994ed,#249de6,#14b0d8,#03bbc2,#32c69f,#60cd72,#9ac945,#cac129,#f1ba37,#fec03b,#fec636,#fec934,#feca33,#fdcb33,#fdcc32,#fdcc32,#fdcc32,#fdcb33,#fec934,#fec735,#fec437,#fec13a,#febd3c,#fabb3d,#f4ba3a,#edba34,#e6bb2d,#debc2a,#d6be28,#cdc028,#c7c12a)"></i><i style="height:6px;background:linear-gradient(90deg,#d1bf27,#dabd28,#e4bb2c,#ecba33,#f3ba38,#f8ba3d,#fbbc3d,#febd3c,#febf3b,#fec13a,#fec239,#fec339,#fec338,#fec438,#fec438,#fec437,#fec537,#fec636,#fec736,#fec736,#fec239,#fbbc3d,#dcbd29,#b2c635,#75cc61,#40ca8d,#0ebdbb,#12b1d7,#2c90f0,#317dfc,#327cfc,#2e85f8,#23a0e5,#02b7cb,#27c2ab,#55cc7c,#8ecb4f,#c3c22b,#ecba32,#febe3c,#fec438,#fec735,#fec934,#feca33,#fdcc32,#fdcc32,#fdcc32,#fdcb32,#feca33,#fec835,#fec537,#fec239,#febf3c,#fbbc3d,#f7ba3c,#f0ba36,#e9bb30,#e1bc2b,#d8be28,#cfc028,#c7c12a)"></i><i style="height:5px;background:linear-gradient(90deg,#d2bf27,#dcbd29,#e6bb2d,#eeba34,#f4ba39,#f9bb3d,#fcbc3d,#febe3c,#fec03b,#fec13a,#fec239,#fec338,#fec438,#fec437,#fec537,#fec636,#fec636,#fec735,#fec735,#fec835,#fec338,#fcbc3d,#dfbc2a,#b5c533,#79cc5f,#42ca8b,#0fbeba,#13b1d7,#2d8cf3,#3e6fff,#4466fd,#3876fe,#2a93ed,#09b4d1,#1cc0b3,#4dcb82,#85cb56,#bdc32e,#e7bb2d,#fdbd3d,#fec239,#fec636,#fec835,#feca34,#fdcb33,#fdcc32,#fdcd32,#fdcc32,#feca33,#fec835,#fec636,#fec339,#febf3b,#fcbd3d,#f8ba3d,#f2ba38,#ebba32,#e4bb2c,#dbbd28,#d0bf27,#c8c129)"></i><i style="height:5px;background:linear-gradient(90deg,#d3bf27,#ddbd29,#e7bb2e,#eeba35,#f5ba3a,#f9bb3d,#fcbc3d,#febe3c,#fec03b,#fec13a,#fec239,#fec338,#fec437,#fec537,#fec636,#fec636,#fec735,#fec735,#fec835,#fec835,#fec438,#fdbd3d,#e2bc2b,#b9c431,#7ecc5b,#47cb87,#14bfb8,#0fb2d5,#2c8ef1,#3f6fff,#4851f4,#3f6fff,#2c8ef1,#0fb2d5,#14bfb8,#47cb87,#7ecc5b,#b9c431,#e2bc2b,#fcbd3d,#fec13a,#fec437,#fec636,#fec934,#fdcb33,#fdcc32,#fdcc32,#fdcc32,#feca33,#fec834,#fec636,#fec338,#fec03b,#fdbd3d,#f9bb3d,#f4ba39,#edba33,#e5bb2d,#dcbd29,#d2bf27,#c8c129)"></i><i style="height:5px;background:linear-gradient(90deg,#d4bf28,#ddbd29,#e7bb2e,#efba35,#f5ba3a,#f9bb3d,#fcbc3d,#febe3c,#febf3b,#fec13a,#fec239,#fec338,#fec438,#fec537,#fec636,#fec636,#fec735,#fec835,#fec835,#fec834,#fec437,#febd3c,#e7bb2d,#bdc32e,#85cb56,#4dcb82,#1cc0b3,#09b4d1,#2a93ed,#3876fe,#4466fd,#3e6fff,#2d8cf3,#13b1d7,#0fbeba,#42ca8b,#79cc5f,#b5c533,#dfbc2a,#fbbc3d,#fec03b,#fec338,#fec537,#fec835,#feca33,#fdcc32,#fdcc32,#fdcb32,#feca33,#fec835,#fec636,#fec338,#fec03a,#fdbd3d,#fabb3d,#f5ba3a,#eeba34,#e7bb2d,#ddbd29,#d2bf27,#c9c129)"></i><i style="height:5px;background:linear-gradient(90deg,#d5be28,#debd29,#e8bb2e,#efba35,#f5ba3a,#f9bb3d,#fbbc3d,#fdbd3d,#febf3c,#fec03b,#fec13a,#fec239,#fec338,#fec437,#fec537,#fec636,#fec736,#fec735,#fec835,#fec835,#fec537,#febe3c,#ecba32,#c3c22b,#8ecb4f,#55cc7c,#27c2ab,#02b7cb,#23a0e5,#2e85f8,#327cfc,#317dfc,#2c90f0,#12b1d7,#0ebdbb,#40ca8d,#75cc61,#b2c635,#dcbd29,#fabb3d,#febf3b,#fec239,#fec437,#fec735,#fec934,#fdcb33,#fdcb33,#fdcb33,#fec934,#fec835,#fec537,#fec338,#fec03b,#fdbd3d,#fabb3d,#f5ba3a,#efba35,#e7bb2e,#debd29,#d3bf27,#c9c129)"></i><i style="height:5px;background:linear-gradient(90deg,#d5be28,#debd2a,#e8bb2e,#efba35,#f4ba3a,#f8ba3d,#fbbc3d,#fcbd3d,#febe3c,#febf3c,#fec03b,#fec13a,#fec239,#fec338,#fec437,#fec537,#fec636,#fec736,#fec735,#fec735,#fec537,#febf3b,#f1ba37,#cac129,#9ac945,#60cd72,#32c69f,#03bbc2,#14b0d8,#249de6,#2994ed,#2b92ee,#249ee6,#0bb3d2,#11beba,#40ca8d,#74cc62,#b1c636,#dabd28,#fabb3d,#febe3c,#fec13a,#fec338,#fec636,#fec834,#feca33,#feca33,#feca33,#fec934,#fec736,#fec537,#fec239,#fec03b,#fdbd3d,#fabb3d,#f5ba3a,#efba35,#e7bb2e,#debd29,#d3bf27,#c9c129)"></i><i style="height:6px;background:linear-gradient(90deg,#d5be28,#debd2a,#e7bb2e,#eeba34,#f3ba39,#f7ba3c,#fabb3d,#fbbc3d,#fdbd3d,#febd3c,#febe3c,#fec03b,#fec13a,#fec239,#fec338,#fec437,#fec537,#fec636,#fec636,#fec736,#fec636,#fec13a,#f7ba3c,#d2bf27,#a8c73b,#6fcd66,#40ca8d,#1bc0b4,#01b9c7,#0bb3d2,#15afd9,#18addb,#13b0d7,#01b8ca,#1bc0b4,#45cb89,#76cc60,#b1c635,#dabd28,#f9bb3d,#febe3c,#fec13a,#fec339,#fec537,#fec735,#fec934,#fec934,#fec934,#fec735,#fec636,#fec438,#fec13a,#febf3b,#fcbd3d,#f9bb3d,#f4ba3a,#eeba34,#e7bb2d,#ddbd29,#d2bf27,#c9c129)"></i><i style="height:5px;background:linear-gradient(90deg,#d5be28,#debd29,#e7bb2e,#edba33,#f2ba38,#f6ba3b,#f8ba3d,#fabb3d,#fbbc3d,#fcbc3d,#fdbd3d,#febe3c,#febf3b,#fec13a,#fec239,#fec338,#fec438,#fec537,#fec537,#fec636,#fec636,#fec239,#fbbc3d,#ddbd29,#b7c532,#85cb56,#58cc7a,#35c79a,#1cc0b3,#07bcbf,#02bac4,#01b9c6,#01bac5,#0abdbd,#2cc4a7,#4dcc82,#7ccc5c,#b3c534,#dbbd29,#f9bb3d,#febe3c,#fec03b,#fec239,#fec438,#fec636,#fec735,#fec735,#fec735,#fec636,#fec437,#fec239,#fec03a,#febe3c,#fbbc3d,#f8ba3d,#f3ba39,#edba33,#e6bb2d,#ddbd29,#d2bf27,#c8c129)"></i><i style="height:5px;background:linear-gradient(90deg,#d5be28,#ddbd29,#e6bb2d,#ecba32,#f1ba36,#f4ba39,#f6ba3b,#f8ba3d,#f9bb3d,#fabb3d,#fbbc3d,#fcbd3d,#febd3c,#febf3b,#fec03a,#fec239,#fec339,#fec438,#fec437,#fec537,#fec636,#fec338,#febd3c,#eaba31,#c7c12a,#a0c941,#72cd64,#52cc7e,#3bc993,#30c5a2,#28c3aa,#24c1af,#24c1ae,#2cc4a7,#3bc992,#5ccc76,#87cb54,#b9c431,#debd29,#fabb3d,#febe3c,#fec03b,#fec13a,#fec338,#fec437,#fec536,#fec636,#fec537,#fec437,#fec339,#fec13a,#febf3b,#fdbd3d,#fabb3d,#f7ba3c,#f2ba37,#ebba32,#e4bb2c,#dcbd29,#d1bf27,#c8c129)"></i><i style="height:5px;background:linear-gradient(90deg,#d4bf28,#dcbd29,#e4bb2c,#eaba31,#efba35,#f2ba37,#f4ba39,#f5ba3b,#f7ba3c,#f8ba3d,#f9bb3d,#fabb3d,#fcbc3d,#fdbd3d,#febf3c,#fec03b,#fec13a,#fec239,#fec338,#fec437,#fec537,#fec437,#fec03b,#f6ba3c,#d7be28,#b9c431,#95ca49,#74cd62,#5fcd73,#51cc7e,#48cb86,#43ca8a,#42ca8b,#47cb87,#56cc7b,#6fcd66,#98c947,#c0c32d,#e3bc2c,#fbbc3d,#febe3c,#febf3b,#fec03a,#fec239,#fec338,#fec438,#fec438,#fec338,#fec239,#fec13a,#febf3b,#febd3c,#fbbc3d,#f9bb3d,#f5ba3a,#f0ba36,#eabb30,#e3bc2c,#dabd28,#d0bf27,#c7c129)"></i><i style="height:5px;background:linear-gradient(90deg,#d3bf27,#dbbd29,#e3bc2c,#e9bb2f,#edba33,#efba35,#f1ba37,#f3ba38,#f4ba39,#f5ba3a,#f6ba3b,#f8ba3d,#fabb3d,#fbbc3d,#fdbd3d,#febe3c,#fec03b,#fec13a,#fec239,#fec338,#fec537,#fec536,#fec239,#fcbd3d,#ebba31,#cfc028,#b6c532,#9ec943,#87cb54,#78cc5f,#6ecd66,#69cd6b,#67cd6c,#6acd6a,#75cc62,#8ccb50,#adc638,#cbc129,#ebba31,#fbbc3d,#febe3c,#febf3b,#fec03b,#fec03a,#fec13a,#fec239,#fec239,#fec13a,#fec03a,#febf3b,#febd3c,#fcbc3d,#fabb3d,#f7ba3c,#f3ba38,#eeba34,#e8bb2f,#e1bc2b,#d9be28,#cfc028,#c7c12a)"></i><i style="height:5px;background:linear-gradient(90deg,#d2bf27,#d9bd28,#e1bc2b,#e6bb2d,#eaba31,#edba33,#eeba34,#f0ba36,#f0ba36,#f1ba37,#f3ba38,#f5ba3a,#f7ba3c,#f9bb3d,#fbbc3d,#fdbd3d,#febe3c,#fec03b,#fec13a,#fec339,#fec437,#fec636,#fec537,#fec03b,#fabb3d,#e6bb2d,#d1bf27,#c0c32d,#b1c635,#a5c83d,#9cc944,#95ca49,#92ca4b,#94ca4a,#9cc944,#acc738,#c0c32d,#d8be28,#f3ba39,#fdbd3d,#febe3c,#febe3c,#febf3c,#febf3b,#febf3b,#febf3b,#febf3b,#febf3c,#febe3c,#fdbd3d,#fcbc3d,#fabb3d,#f8ba3d,#f4ba3a,#f0ba36,#ebba32,#e6bb2d,#dfbc2a,#d7be28,#cec028,#c6c22a)"></i><i style="height:6px;background:linear-gradient(90deg,#d0c027,#d7be28,#dfbc2a,#e4bb2c,#e7bb2e,#eabb30,#ebba32,#ecba33,#edba33,#eeba34,#efba36,#f1ba37,#f4ba39,#f7ba3c,#f9bb3d,#fbbc3d,#fdbd3d,#febf3c,#fec03a,#fec239,#fec437,#fec736,#fec835,#fec437,#febf3c,#f9bb3d,#ebba32,#dbbd29,#d0c027,#c7c12a,#c1c32c,#bcc42f,#bac430,#bac430,#bec32e,#c6c22a,#d4bf28,#e9bb2f,#fabb3d,#febe3c,#febf3c,#febe3c,#febe3c,#febd3c,#febd3c,#fdbd3d,#fdbd3d,#fdbd3d,#fcbc3d,#fbbc3d,#fabb3d,#f8ba3d,#f5ba3a,#f2ba37,#eeba34,#e9bb30,#e3bb2c,#ddbd29,#d5be28,#ccc028,#c4c22a)"></i><i style="height:5px;background:linear-gradient(90deg,#cdc028,#d5be28,#dcbd29,#e1bc2b,#e4bb2c,#e7bb2d,#e8bb2f,#e9bb2f,#eabb30,#ebba31,#ecba32,#eeba34,#f1ba37,#f4ba3a,#f7ba3c,#fabb3d,#fcbc3d,#febe3c,#fec03b,#fec239,#fec437,#fec735,#feca33,#fec834,#fec438,#febf3b,#fcbc3d,#f6ba3b,#edba33,#e5bb2d,#debc2a,#dabd28,#d7be28,#d6be28,#d9be28,#dfbc2a,#ebba31,#f8ba3d,#fdbd3d,#febf3b,#febf3c,#febd3c,#fdbd3d,#fcbc3d,#fbbc3d,#fbbc3d,#fabb3d,#fabb3d,#f9bb3d,#f8ba3d,#f7ba3c,#f5ba3a,#f2ba38,#efba35,#ebba32,#e7bb2d,#e1bc2b,#dbbd28,#d3bf27,#cac129,#c3c22b)"></i><i style="height:5px;background:linear-gradient(90deg,#cbc129,#d2bf27,#d9be28,#debd29,#e1bc2b,#e3bc2c,#e4bb2c,#e5bb2d,#e6bb2d,#e7bb2e,#e9bb2f,#ebba31,#eeba34,#f1ba37,#f5ba3a,#f8ba3d,#fbbc3d,#fdbd3d,#febf3b,#fec239,#fec537,#fec835,#fdcc32,#fdce31,#fec934,#fec537,#fec13a,#febe3c,#fdbd3d,#fabb3d,#f8ba3d,#f5ba3b,#f3ba39,#f2ba38,#f4ba39,#f7ba3c,#fbbc3d,#febe3c,#fec03b,#fec03a,#febf3c,#fdbd3d,#fbbc3d,#fabb3d,#f9bb3d,#f8ba3d,#f7ba3c,#f7ba3c,#f6ba3b,#f5ba3a,#f3ba39,#f1ba37,#efba35,#ecba32,#e8bb2f,#e4bb2c,#dfbc2a,#d8be28,#d1bf27,#c9c129,#c2c32c)"></i><i style="height:5px;background:linear-gradient(90deg,#c8c129,#cfc028,#d6be28,#dabd28,#ddbd29,#dfbc2a,#e1bc2b,#e2bc2b,#e3bc2c,#e4bb2c,#e5bb2d,#e8bb2f,#ebba31,#efba35,#f3ba38,#f6ba3c,#fabb3d,#fdbd3d,#febf3b,#fec239,#fec537,#fec934,#fdcd32,#fbd12f,#fbd12f,#fdcb32,#fec735,#fec537,#fec239,#fec13a,#febf3b,#febe3c,#febe3c,#febe3c,#febe3c,#febe3c,#fec03b,#fec239,#fec339,#fec139,#febf3c,#fcbd3d,#fabb3d,#f8ba3d,#f6ba3b,#f4ba3a,#f3ba39,#f2ba38,#f2ba37,#f1ba37,#f0ba36,#eeba34,#ecba32,#e9bb30,#e5bb2d,#e1bc2b,#dcbd29,#d6be28,#cfc028,#c7c12a,#c0c32d)"></i><i style="height:5px;background:linear-gradient(90deg,#c5c22a,#cbc029,#d2bf27,#d7be28,#dabd28,#dcbd29,#ddbd29,#debc2a,#dfbc2a,#e0bc2a,#e2bc2b,#e5bb2d,#e8bb2f,#ecba32,#f0ba36,#f5ba3a,#f9bb3d,#fcbc3d,#febf3b,#fec239,#fec636,#feca33,#fdce31,#fbd32e,#f9d82c,#f8d82c,#fcd030,#fdcc32,#fec934,#fec735,#fec636,#fec537,#fec438,#fec438,#fec438,#fec437,#fec537,#fec636,#fec537,#fec239,#febe3c,#fbbc3d,#f8ba3d,#f5ba3a,#f2ba38,#f0ba36,#efba35,#eeba34,#edba33,#edba33,#ecba32,#eaba31,#e8bb2f,#e6bb2d,#e2bc2b,#debc2a,#d9be28,#d3bf27,#ccc028,#c4c22a,#bec32e)"></i><i style="height:5px;background:linear-gradient(90deg,#c1c32c,#c8c129,#cec028,#d3bf27,#d6be28,#d8be28,#d9bd28,#dabd28,#dbbd29,#ddbd29,#dfbc2a,#e2bc2b,#e6bb2d,#eabb30,#eeba35,#f3ba39,#f8ba3d,#fcbc3d,#febf3b,#fec338,#fec735,#fdcb33,#fcd030,#fad52e,#f8da2b,#f6df29,#f5e427,#f7dc2a,#fad52e,#fcd030,#fdce31,#fdcc32,#fdcb33,#fdcb33,#fdca33,#fdcb33,#fdcc32,#fdcb33,#fec735,#fec239,#febe3c,#fabc3d,#f6ba3c,#f2ba38,#efba35,#ecba32,#eaba31,#e9bb30,#e9bb2f,#e8bb2f,#e8bb2e,#e6bb2d,#e4bb2c,#e2bc2b,#dfbc2a,#dbbd29,#d6be28,#d0bf27,#cac129,#c2c22c,#bbc42f)"></i><i style="height:5px;background:linear-gradient(90deg,#bec32e,#c4c22a,#cbc129,#cfc028,#d2bf27,#d4be28,#d6be28,#d7be28,#d8be28,#dabd28,#dcbd29,#dfbc2a,#e3bc2c,#e8bb2e,#edba33,#f2ba38,#f7ba3c,#fbbc3d,#febf3b,#fec338,#fec835,#fdcc32,#fcd12f,#f9d62d,#f7dc2a,#f5e128,#f5e725,#f5ed22,#f6ef20,#f5ea23,#f5e427,#f6df29,#f7db2a,#f8d92b,#f8d82c,#f9d72c,#fad42e,#fdcd31,#fec835,#fec239,#febe3c,#f9bb3d,#f4ba3a,#efba35,#ebba31,#e8bb2f,#e6bb2d,#e5bb2c,#e4bb2c,#e4bb2c,#e3bc2c,#e2bc2b,#e0bc2b,#debd29,#dbbd29,#d7be28,#d3bf27,#cdc028,#c6c22a,#bfc32e,#b8c431)"></i><i style="height:6px;background:linear-gradient(90deg,#bac430,#c1c32c,#c7c12a,#ccc028,#cfc028,#d1bf27,#d2bf27,#d4bf27,#d5be28,#d7be28,#d9be28,#dcbd29,#e1bc2b,#e6bb2d,#ebba31,#f1ba37,#f7ba3c,#fbbc3d,#febf3b,#fec438,#fec834,#fdcd31,#fbd22f,#f9d72c,#f7dd2a,#f5e327,#f5e924,#f5ee21,#f7f31d,#f7f61a,#f8f719,#f7f51b,#f6f11f,#f5eb23,#f5e426,#f7dd2a,#fad52d,#fccf31,#fec835,#fec239,#fdbd3d,#f8ba3d,#f2ba38,#ecba33,#e8bb2e,#e4bb2c,#e1bc2b,#e0bc2a,#dfbc2a,#dfbc2a,#debc2a,#ddbd29,#dcbd29,#dabd28,#d7be28,#d3bf27,#cfc028,#c9c129,#c3c22b,#bbc42f,#b5c533)"></i><i style="height:5px;background:linear-gradient(90deg,#b7c532,#bdc32e,#c4c22b,#c8c129,#cbc029,#cec028,#cfc028,#d1bf27,#d2bf27,#d4bf28,#d7be28,#dabd28,#dfbc2a,#e4bb2c,#eabb30,#f0ba36,#f6ba3b,#fbbc3d,#febf3b,#fec437,#fec934,#fdce31,#fbd32e,#f8d82c,#f6de29,#f5e427,#f5ea24,#f6f020,#f7f41c,#f8f818,#f8f917,#f8f719,#f7f31d,#f5ed22,#f5e626,#f6de29,#f9d72d,#fccf30,#fec834,#fec239,#fdbd3d,#f7ba3c,#f0ba36,#eabb30,#e4bb2c,#e0bc2a,#ddbd29,#dcbd29,#dbbd28,#dabd28,#dabd28,#d9be28,#d7be28,#d5be28,#d2bf27,#cfc028,#cac129,#c5c22a,#bfc32e,#b7c532,#b1c635)"></i><i style="height:5px;background:linear-gradient(90deg,#b3c534,#bac430,#c0c32d,#c5c22a,#c8c129,#cbc129,#ccc028,#cec028,#cfc028,#d2bf27,#d4bf28,#d8be28,#ddbd29,#e3bc2c,#e9bb30,#efba35,#f6ba3b,#fbbc3d,#fec03b,#fec437,#fec934,#fcce31,#fbd42e,#f8d92c,#f6de29,#f5e427,#f5ea23,#f6f01f,#f7f51b,#f8f818,#f9f916,#f8f818,#f7f41c,#f5ee21,#f5e725,#f6df29,#f9d72c,#fcd030,#fec834,#fec239,#fcbc3d,#f6ba3b,#eeba34,#e7bb2e,#e1bc2b,#ddbd29,#d9bd28,#d7be28,#d6be28,#d5be28,#d5be28,#d3bf27,#d2bf27,#d0c027,#cdc028,#c9c129,#c5c22a,#c0c32d,#bac430,#b3c534,#adc638)"></i><i style="height:5px;background:linear-gradient(90deg,#b0c636,#b7c532,#bdc32e,#c2c22c,#c6c22a,#c8c129,#cac129,#cbc029,#cdc028,#d0c028,#d3bf27,#d7be28,#dcbd29,#e2bc2b,#e8bb2f,#efba35,#f6ba3b,#fbbc3d,#fec03b,#fec537,#feca34,#fccf31,#fbd42e,#f8d92c,#f6de29,#f5e427,#f5ea24,#f6f020,#f7f41c,#f8f818,#f8f917,#f8f818,#f7f41c,#f5ee21,#f5e825,#f6e028,#f9d82c,#fcd030,#fec835,#fec13a,#fbbc3d,#f4ba39,#ecba33,#e5bb2d,#dfbc2a,#dabd28,#d6be28,#d4bf27,#d2bf27,#d1bf27,#d0c028,#cec028,#ccc028,#cac129,#c7c12a,#c4c22b,#bfc32d,#bbc430,#b5c533,#aec637,#a8c73b)"></i><i style="height:5px;background:linear-gradient(90deg,#adc638,#b4c534,#bbc430,#c0c32d,#c3c22b,#c6c22a,#c8c129,#c9c129,#cbc029,#cec028,#d1bf27,#d6be28,#dbbd29,#e2bc2b,#e8bb2f,#efba35,#f6ba3b,#fbbc3d,#fec03b,#fec537,#feca34,#fdce31,#fbd32e,#f9d82c,#f7dd2a,#f5e327,#f5e924,#f5ee21,#f7f31d,#f8f61a,#f8f818,#f8f61a,#f7f31d,#f5ee21,#f5e725,#f6df29,#f9d72c,#fccf30,#fec735,#fec03a,#fabb3d,#f2ba38,#ebba31,#e3bb2c,#ddbd29,#d7be28,#d3bf27,#d0bf27,#cec028,#ccc028,#cac129,#c8c129,#c6c22a,#c4c22b,#c1c32c,#bdc32e,#b9c430,#b4c533,#aec637,#a8c73b,#a2c83f)"></i><i style="height:5px;background:linear-gradient(90deg,#abc739,#b2c635,#b9c431,#bec32e,#c1c32c,#c4c22b,#c6c22a,#c8c129,#cac129,#cdc028,#d0bf27,#d5be28,#dbbd29,#e1bc2b,#e8bb2f,#efba35,#f6ba3b,#fbbc3d,#fec03b,#fec537,#fec934,#fdce31,#fbd22f,#f9d72d,#f7dc2a,#f6e128,#f5e626,#f5ec22,#f6f01f,#f7f41c,#f7f51b,#f7f41c,#f6f11f,#f5ec22,#f5e626,#f6de29,#f9d62d,#fdce31,#fec636,#febf3b,#f9bb3d,#f1ba37,#e9bb30,#e2bc2b,#dbbd29,#d6be28,#d1bf27,#cdc028,#cac129,#c8c129,#c5c22a,#c2c22b,#c0c32d,#bdc32e,#bac430,#b6c532,#b2c635,#adc638,#a8c73b,#a1c840,#9cc944)"></i><i style="height:6px;background:linear-gradient(90deg,#a9c73b,#b0c636,#b7c532,#bcc42f,#c0c32d,#c2c22c,#c5c22a,#c7c12a,#c9c129,#ccc028,#d0bf27,#d5be28,#dbbd29,#e2bc2b,#e9bb2f,#f0ba36,#f6ba3b,#fbbc3d,#fec03b,#fec437,#fec934,#fdcd32,#fcd12f,#fad52d,#f8d92b,#f6de29,#f5e327,#f5e924,#f5ed22,#f6f01f,#f6f21e,#f6f11f,#f5ee21,#f5ea24,#f5e427,#f7dc2a,#fad52e,#fdcd32,#fec537,#febe3c,#f7ba3c,#efba35,#e8bb2e,#e1bc2b,#dabd28,#d4be28,#cfc028,#cbc129,#c7c12a,#c3c22b,#c0c32d,#bcc42f,#b9c431,#b6c533,#b2c635,#aec637,#aac73a,#a5c83d,#a0c841,#9ac945,#95ca49)"></i><i style="height:5px;background:linear-gradient(90deg,#a7c73c,#aec637,#b5c533,#bac430,#bec32e,#c1c32c,#c4c22b,#c6c22a,#c8c129,#cbc029,#cfc028,#d5be28,#dbbd29,#e2bc2b,#e9bb30,#f0ba36,#f7ba3c,#fbbc3d,#fec03b,#fec438,#fec835,#fdcb32,#fccf30,#fbd32e,#f9d72d,#f7db2a,#f6e028,#f5e526,#f5e924,#f5ec22,#f5ed21,#f5ed22,#f5ea23,#f5e626,#f6e128,#f8da2b,#fbd22f,#fdcb33,#fec338,#fcbd3d,#f5ba3b,#edba33,#e6bb2d,#dfbc2a,#d9be28,#d3bf27,#cec028,#c9c129,#c3c22b,#bfc32e,#bac430,#b6c532,#b2c635,#aec637,#aac73a,#a6c83d,#a2c840,#9dc943,#98c947,#93ca4b,#8ecb4f)"></i><i style="height:5px;background:linear-gradient(90deg,#a5c83d,#acc738,#b4c534,#b9c430,#bdc32e,#c0c32d,#c3c22b,#c5c22a,#c8c129,#cbc129,#cfc028,#d5be28,#dbbd29,#e2bc2b,#e9bb30,#f0ba36,#f7ba3c,#fbbc3d,#febf3b,#fec338,#fec736,#feca33,#fdcd31,#fcd030,#fad42e,#f9d82c,#f7dc2a,#f6e028,#f5e427,#f5e725,#f5e825,#f5e825,#f5e626,#f5e227,#f6dd29,#f9d72c,#fcd030,#fec834,#fec13a,#fabc3d,#f3ba38,#ebba31,#e4bb2c,#debd29,#d8be28,#d2bf27,#ccc028,#c6c22a,#c0c32d,#bac430,#b4c533,#afc636,#aac739,#a6c83d,#a1c840,#9dc943,#99c946,#94ca4a,#90ca4d,#8bcb51,#86cb54)"></i><i style="height:5px;background:linear-gradient(90deg,#a3c83e,#abc739,#b2c534,#b8c431,#bcc42f,#bfc32d,#c2c22c,#c4c22a,#c7c12a,#cbc129,#cfc028,#d5be28,#dcbd29,#e3bc2c,#eabb30,#f1ba36,#f7ba3c,#fbbc3d,#febf3c,#fec239,#fec537,#fec834,#fdcb33,#fdce31,#fcd130,#fad42e,#f9d82c,#f7db2a,#f6df29,#f5e228,#f5e327,#f5e327,#f5e128,#f6de29,#f8d92b,#fbd42e,#fdcd32,#fec636,#febf3c,#f8ba3d,#f0ba36,#e8bb2f,#e2bc2b,#dcbd29,#d6be28,#d1bf27,#cac129,#c4c22b,#bcc42f,#b5c533,#afc637,#a8c73b,#a3c83f,#9ec943,#99c946,#94ca4a,#90ca4d,#8ccb50,#87cb54,#82cc57,#7fcc5a)"></i><i style="height:5px;background:linear-gradient(90deg,#a2c83f,#aac73a,#b1c635,#b7c532,#bbc42f,#bfc32e,#c1c32c,#c4c22b,#c7c12a,#cac129,#cfc028,#d5be28,#dcbd29,#e3bc2c,#eaba31,#f1ba37,#f7ba3c,#fbbc3d,#febe3c,#fec13a,#fec438,#fec636,#fec934,#fdcb33,#fdcd31,#fcd030,#fbd32e,#f9d62d,#f8d92b,#f7dc2a,#f6dd2a,#f6dd2a,#f7dc2a,#f8d92b,#fad52d,#fcd030,#fec934,#fec239,#fcbc3d,#f4ba3a,#ecba32,#e5bb2d,#dfbc2a,#dabd28,#d4bf28,#cfc028,#c8c129,#c0c32d,#b8c431,#b0c636,#a8c73b,#a1c840,#9bc945,#95ca49,#90ca4d,#8bcb51,#87cb54,#82cc57,#7ecc5b,#7acc5e,#77cc60)"></i><i style="height:5px;background:linear-gradient(90deg,#a1c840,#a8c73b,#b0c636,#b6c532,#bac430,#bec32e,#c1c32c,#c3c22b,#c7c12a,#cac129,#cfc028,#d5be28,#dcbd29,#e3bc2c,#eaba31,#f1ba36,#f6ba3b,#fabb3d,#fdbd3d,#fec03b,#fec239,#fec437,#fec636,#fec835,#feca33,#fdcc32,#fdce31,#fcd12f,#fad42e,#f9d62d,#f9d72c,#f9d72c,#f9d62d,#fad42e,#fcd030,#fdcb32,#fec536,#febf3b,#f9bb3d,#f0ba36,#e8bb2f,#e1bc2b,#dbbd29,#d7be28,#d2bf27,#ccc028,#c5c22a,#bdc32e,#b4c534,#abc739,#a2c83f,#9ac945,#93ca4b,#8dcb50,#87cb54,#82cc58,#7dcc5b,#79cc5e,#75cc61,#71cd64,#6fcd66)"></i><i style="height:6px;background:linear-gradient(90deg,#a0c841,#a7c73c,#afc637,#b5c533,#b9c430,#bdc32e,#c0c32d,#c3c22b,#c6c22a,#cac129,#cfc028,#d5be28,#dcbd29,#e3bc2c,#eabb30,#f0ba36,#f5ba3b,#fabb3d,#fcbd3d,#febf3c,#fec13a,#fec239,#fec438,#fec537,#fec636,#fec835,#feca33,#fdcc32,#fcce31,#fcd030,#fbd12f,#fbd22f,#fcd12f,#fccf31,#fdcb32,#fec735,#fec139,#fcbc3d,#f4ba3a,#ebba32,#e3bc2c,#dcbd29,#d7be28,#d3bf27,#cec028,#c8c129,#c1c32c,#b9c431,#afc637,#a5c83d,#9bc944,#93ca4b,#8bcb51,#84cc56,#7ecc5b,#79cc5e,#74cc62,#70cd65,#6ccd68,#69cd6b,#67cd6c)"></i><i style="height:5px;background:linear-gradient(90deg,#9fc942,#a6c83d,#aec637,#b4c534,#b8c431,#bcc42f,#bfc32d,#c2c22c,#c6c22a,#cac129,#cfc028,#d5be28,#dcbd29,#e2bc2b,#e9bb30,#efba35,#f4ba3a,#f8ba3d,#fbbc3d,#fdbd3d,#febf3c,#fec03b,#fec13a,#fec239,#fec338,#fec437,#fec636,#fec835,#feca34,#fdcb33,#fdcc32,#fdcc32,#fdcb33,#fec934,#fec636,#fec239,#febd3c,#f7ba3c,#eeba35,#e5bb2d,#ddbd29,#d7be28,#d2bf27,#cdc028,#c9c129,#c4c22b,#bcc42f,#b3c534,#a9c73a,#9ec942,#94ca4a,#8bcb51,#83cc57,#7ccc5c,#75cc61,#70cd65,#6bcd69,#68cd6c,#64cd6f,#62cd71,#60cd72)"></i><i style="height:5px;background:linear-gradient(90deg,#9ec942,#a5c83d,#acc738,#b2c635,#b7c532,#bbc430,#bec32e,#c1c32c,#c5c22a,#c9c129,#cec028,#d4bf28,#dbbd29,#e1bc2b,#e8bb2f,#eeba34,#f3ba38,#f7ba3c,#fabb3d,#fcbc3d,#fdbd3d,#febe3c,#febf3c,#febf3b,#fec03b,#fec13a,#fec239,#fec438,#fec537,#fec636,#fec735,#fec735,#fec636,#fec437,#fec239,#febe3c,#f9bb3d,#f1ba37,#e8bb2f,#debc2a,#d6be28,#d0c027,#cbc129,#c7c12a,#c3c22b,#bdc32e,#b6c532,#adc738,#a2c83f,#97ca47,#8dcb4f,#84cc57,#7bcc5d,#73cd62,#6dcd67,#68cd6c,#63cd6f,#60cd72,#5dcc75,#5acc77,#59cc78)"></i><i style="height:5px;background:linear-gradient(90deg,#9dc943,#a3c83e,#abc739,#b0c636,#b5c533,#b9c430,#bdc32f,#c0c32d,#c4c22a,#c9c129,#cec028,#d3bf27,#dabd28,#e0bc2a,#e6bb2d,#ecba32,#f0ba36,#f4ba3a,#f8ba3d,#fabb3d,#fbbc3d,#fcbc3d,#fdbd3d,#fdbd3d,#fdbd3d,#febe3c,#febf3b,#fec03b,#fec13a,#fec239,#fec339,#fec239,#fec13a,#fec03b,#fdbd3d,#f9bb3d,#f2ba38,#eabb30,#e0bc2a,#d6be28,#cec028,#c8c129,#c3c22b,#bfc32d,#bbc42f,#b6c533,#aec637,#a5c83d,#9ac945,#90ca4d,#85cb55,#7ccc5c,#73cd63,#6ccd68,#66cd6d,#61cd72,#5ccc75,#59cc78,#56cc7b,#54cc7d,#52cc7e)"></i><i style="height:5px;background:linear-gradient(90deg,#9cc944,#a2c83f,#a9c73b,#aec637,#b3c534,#b7c531,#bbc42f,#bfc32d,#c3c22b,#c8c129,#cdc028,#d2bf27,#d8be28,#debc2a,#e4bb2c,#e9bb30,#eeba34,#f2ba38,#f5ba3a,#f8ba3d,#f9bb3d,#fabb3d,#fabb3d,#fabb3d,#fbbc3d,#fbbc3d,#fcbc3d,#fdbd3d,#febe3c,#febe3c,#febf3c,#febe3c,#fdbd3d,#fbbc3d,#f8ba3d,#f2ba38,#eaba31,#e1bc2b,#d7be28,#cec028,#c5c22a,#bfc32e,#bac430,#b6c532,#b2c635,#adc638,#a5c83d,#9cc944,#92ca4b,#88cb53,#7dcc5b,#74cc62,#6ccd68,#65cd6e,#5fcd73,#5acc77,#56cc7b,#52cc7e,#4fcc80,#4dcc82,#4ccb83)"></i><i style="height:5px;background:linear-gradient(90deg,#9bc944,#a0c841,#a7c73c,#acc738,#b1c635,#b5c533,#bac430,#bec32e,#c2c22c,#c7c12a,#cbc028,#d1bf27,#d6be28,#dcbd29,#e1bc2b,#e7bb2d,#ebba31,#efba35,#f2ba38,#f4ba3a,#f6ba3b,#f7ba3c,#f7ba3d,#f8ba3d,#f8ba3d,#f8ba3d,#f9bb3d,#fabb3d,#fbbc3d,#fbbc3d,#fbbc3d,#fabb3d,#f9ba3d,#f5ba3a,#f0ba36,#eabb30,#e2bc2b,#d8be28,#cec028,#c4c22b,#bbc42f,#b5c533,#b0c636,#acc738,#a8c73b,#a2c83f,#9bc944,#93ca4b,#89cb52,#7fcc5a,#75cc61,#6ccd68,#65cd6e,#5ecd74,#59cc79,#54cc7d,#4fcc80,#4ccb83,#49cb85,#47cb87,#46cb88)"></i><i style="height:6px;background:linear-gradient(90deg,#9ac945,#9fc942,#a4c83e,#aac73a,#afc637,#b3c534,#b8c431,#bcc42f,#c1c32c,#c5c22a,#cac129,#cfc028,#d4bf28,#dabd28,#dfbc2a,#e3bc2c,#e8bb2e,#ebba32,#efba35,#f1ba37,#f3ba38,#f4ba39,#f4ba39,#f4ba39,#f4ba39,#f4ba39,#f5ba3a,#f6ba3b,#f7ba3c,#f7ba3c,#f7ba3c,#f5ba3a,#f2ba38,#eeba34,#e8bb2f,#e1bc2b,#d8be28,#cec028,#c3c22b,#b9c430,#b0c636,#aac73a,#a5c83d,#a1c840,#9dc943,#97ca47,#91ca4c,#89cb53,#80cc59,#76cc60,#6dcd67,#65cd6e,#5ecd74,#58cc79,#53cc7e,#4ecc82,#49cb85,#46cb88,#44ca8a,#42ca8c,#41ca8c)"></i><i style="height:5px;background:linear-gradient(90deg,#99c946,#9dc943,#a2c83f,#a7c73c,#acc738,#b1c635,#b6c532,#bac430,#bfc32d,#c4c22b,#c9c129,#cdc028,#d2bf27,#d7be28,#dbbd29,#e0bc2a,#e4bb2c,#e8bb2e,#ebba31,#edba34,#efba35,#f0ba36,#f0ba36,#f0ba36,#efba35,#f0ba36,#f0ba36,#f1ba37,#f2ba38,#f2ba38,#f1ba37,#efba35,#ebba31,#e6bb2d,#dfbc2a,#d7be28,#cdc028,#c3c22b,#b8c431,#aec637,#a5c83d,#9ec942,#99c946,#95ca49,#91ca4c,#8ccb50,#86cb55,#7ecc5b,#76cc61,#6ecd67,#66cd6d,#5fcd73,#58cc79,#52cc7e,#4dcb82,#48cb86,#44cb89,#41ca8c,#3fca8e,#3dc990,#3dc991)"></i><i style="height:5px;background:linear-gradient(90deg,#97ca47,#9bc945,#a0c941,#a5c83e,#aac73a,#afc637,#b4c534,#b9c431,#bdc32e,#c2c22c,#c7c12a,#cbc029,#d0c028,#d4bf27,#d8be28,#dcbd29,#e0bc2a,#e4bb2c,#e7bb2e,#eabb30,#ebba32,#ecba32,#ecba32,#ebba32,#ebba31,#ebba31,#ebba32,#ecba32,#ecba33,#ecba33,#ebba31,#e8bb2f,#e3bc2c,#ddbd29,#d5be28,#ccc028,#c2c22c,#b7c532,#acc738,#a2c840,#99c946,#92ca4b,#8dcb4f,#89cb52,#85cb56,#80cc59,#7acc5d,#73cd62,#6ccd68,#65cd6e,#5fcd73,#58cc79,#52cc7e,#4ccb82,#47cb87,#43ca8a,#3fca8e,#3dc990,#3bc992,#3ac994,#39c895)"></i><i style="height:5px;background:linear-gradient(90deg,#96ca49,#99c946,#9dc943,#a2c840,#a7c73c,#acc738,#b1c635,#b6c532,#bbc42f,#c0c32d,#c5c22a,#c9c129,#cdc028,#d0bf27,#d4bf28,#d8be28,#dcbd29,#dfbc2a,#e3bc2c,#e5bb2d,#e7bb2e,#e8bb2e,#e8bb2e,#e7bb2e,#e6bb2d,#e6bb2d,#e6bb2d,#e7bb2d,#e7bb2e,#e6bb2d,#e4bb2c,#e0bc2a,#dbbd28,#d3bf27,#cac129,#c0c32d,#b6c533,#abc739,#a0c941,#96ca49,#8dcb4f,#86cb54,#81cc58,#7dcc5c,#79cc5f,#74cc62,#6fcd66,#69cd6a,#63cd6f,#5ecc74,#58cc79,#52cc7e,#4ccb83,#47cb87,#43ca8b,#3fca8e,#3cc991,#3ac994,#38c896,#36c898,#36c899)"></i><i style="height:5px;background:linear-gradient(90deg,#94ca4a,#96ca48,#9ac945,#9fc942,#a4c83e,#a9c73a,#afc637,#b4c534,#b9c430,#bec32e,#c2c22c,#c6c22a,#cac129,#cdc028,#d0bf27,#d4bf27,#d7be28,#dbbd29,#debc2a,#e1bc2b,#e2bc2b,#e3bc2c,#e3bc2c,#e2bc2b,#e1bc2b,#e0bc2b,#e0bc2b,#e0bc2b,#e0bc2a,#dfbc2a,#dcbd29,#d8be28,#d1bf27,#c9c129,#bfc32d,#b4c534,#a9c73b,#9ec942,#93ca4b,#89cb52,#81cc58,#7acc5d,#75cc61,#71cd64,#6dcd67,#69cd6b,#65cd6e,#60cd72,#5bcc76,#56cc7b,#51cc7f,#4ccb83,#47cb87,#42ca8b,#3eca8f,#3bc992,#39c895,#37c898,#35c79a,#34c79b,#34c79c)"></i><i style="height:5px;background:linear-gradient(90deg,#91ca4c,#94ca4a,#97ca47,#9cc944,#a1c840,#a6c73c,#acc738,#b2c635,#b7c532,#bcc42f,#c0c32d,#c4c22b,#c7c12a,#c9c129,#ccc028,#cfc028,#d3bf27,#d6be28,#d9bd28,#dcbd29,#debd29,#debd29,#ddbd29,#dcbd29,#dbbd29,#dabd28,#dabd28,#d9bd28,#d9be28,#d7be28,#d3bf27,#cec028,#c6c22a,#bdc32e,#b2c535,#a7c73c,#9cc944,#91ca4c,#86cb54,#7dcc5b,#75cc61,#6fcd66,#6acd6a,#66cd6d,#63cd70,#5fcd73,#5ccc76,#58cc79,#54cc7d,#4fcc80,#4bcb84,#46cb87,#42ca8b,#3eca8f,#3bc992,#38c896,#36c899,#34c79b,#33c69d,#32c69f,#31c6a0)"></i><i style="height:6px;background:linear-gradient(90deg,#8fcb4e,#91ca4c,#94ca4a,#99c946,#9ec942,#a4c83e,#a9c73a,#afc637,#b4c533,#b9c431,#bdc32e,#c1c32d,#c3c22b,#c6c22a,#c8c129,#cbc129,#cec028,#d1bf27,#d4bf28,#d7be28,#d8be28,#d8be28,#d8be28,#d6be28,#d5be28,#d3bf27,#d2bf27,#d1bf27,#d0bf27,#cdc028,#c9c129,#c3c22b,#bac430,#b0c636,#a5c83d,#9ac945,#8fcb4e,#84cc56,#7acc5e,#71cd64,#6acd6a,#64cd6e,#60cd72,#5dcc75,#5acc78,#57cc7a,#54cc7d,#50cc7f,#4dcb82,#49cb85,#45cb88,#41ca8c,#3eca8f,#3bc993,#38c896,#36c799,#34c79c,#32c69e,#31c6a0,#30c5a2,#2fc5a3)"></i><i style="height:5px;background:linear-gradient(90deg,#8ccb50,#8ecb4f,#91ca4c,#96ca49,#9bc945,#a0c840,#a6c83c,#acc738,#b1c635,#b6c532,#bac430,#bdc32e,#c0c32d,#c2c22c,#c4c22b,#c7c12a,#c9c129,#ccc028,#cfc028,#d1bf27,#d3bf27,#d3bf27,#d2bf27,#d0bf27,#cec028,#ccc028,#cac129,#c8c129,#c6c22a,#c2c22c,#bdc32e,#b6c532,#adc638,#a3c83f,#98ca47,#8ccb50,#81cc58,#77cc60,#6ecd67,#66cd6d,#60cd72,#5bcc76,#57cc7a,#54cc7c,#51cc7e,#4fcc81,#4ccb83,#49cb85,#47cb87,#44ca8a,#40ca8d,#3dca90,#3bc993,#38c896,#36c799,#34c79c,#32c69f,#30c5a1,#2fc5a3,#2ec4a5,#2dc4a6)"></i><i style="height:5px;background:linear-gradient(90deg,#89cb53,#8acb51,#8ecb4f,#92ca4b,#98ca47,#9dc943,#a3c83f,#a9c73b,#aec637,#b3c534,#b7c532,#bac430,#bcc42f,#bec32e,#c0c32d,#c2c22c,#c5c22a,#c7c12a,#cac129,#cbc029,#ccc028,#ccc028,#cbc129,#c9c129,#c6c22a,#c4c22b,#c1c32c,#bec32e,#bac430,#b6c532,#b0c636,#a8c73b,#9fc942,#95ca4a,#8acb52,#7fcc5a,#74cc62,#6bcd69,#63cd70,#5ccc76,#57cc7a,#52cc7e,#4fcc80,#4ccb83,#4acb84,#48cb86,#46cb88,#44ca8a,#41ca8c,#3fca8f,#3cc991,#3ac994,#37c897,#35c79a,#34c79c,#32c69f,#30c5a2,#2ec5a4,#2dc4a6,#2cc4a7,#2bc3a8)"></i><i style="height:5px;background:linear-gradient(90deg,#85cb55,#87cb54,#8bcb51,#8fcb4e,#94ca4a,#9ac945,#a0c941,#a5c83d,#aac739,#afc637,#b3c534,#b6c532,#b8c431,#bac430,#bcc42f,#bdc32e,#bfc32d,#c2c32c,#c4c22b,#c5c22a,#c6c22a,#c5c22a,#c3c22b,#c1c32c,#bec32e,#bac430,#b7c532,#b3c534,#aec637,#a8c73b,#a1c840,#99c946,#90ca4d,#86cb55,#7bcc5d,#71cd64,#68cd6c,#60cd72,#59cc78,#53cc7d,#4ecc81,#4acb84,#47cb87,#45cb88,#44ca8a,#42ca8b,#40ca8d,#3eca8f,#3dc991,#3bc993,#39c895,#37c897,#35c79a,#33c79d,#31c69f,#30c5a2,#2ec4a4,#2cc4a6,#2bc3a8,#29c3aa,#28c3ab)"></i><i style="height:5px;background:linear-gradient(90deg,#81cc58,#83cc57,#87cb54,#8bcb51,#91ca4d,#96ca48,#9cc944,#a1c840,#a6c73c,#abc739,#afc637,#b2c635,#b4c534,#b5c533,#b7c532,#b8c431,#bac430,#bcc42f,#bdc32e,#bec32e,#bec32e,#bdc32e,#bbc42f,#b8c431,#b4c533,#b0c636,#abc739,#a6c83d,#a0c841,#99c946,#92ca4c,#89cb52,#80cc59,#76cc60,#6dcd67,#64cd6f,#5ccc75,#55cc7b,#4fcc80,#4acb85,#46cb88,#43ca8b,#41ca8c,#3fca8e,#3eca8f,#3dc990,#3cc991,#3bc993,#39c895,#37c897,#36c899,#34c79b,#33c69d,#31c6a0,#2fc5a2,#2ec4a4,#2cc4a7,#2ac3a9,#28c3ab,#26c2ac,#25c2ad)"></i><i style="height:5px;background:linear-gradient(90deg,#7dcc5c,#7fcc5a,#83cc57,#87cb54,#8dcb50,#92ca4b,#98ca47,#9dc943,#a2c83f,#a6c73c,#aac73a,#adc638,#afc637,#b0c636,#b2c635,#b3c534,#b4c534,#b5c533,#b6c532,#b6c532,#b6c532,#b4c533,#b2c635,#afc637,#aac739,#a5c83d,#9fc941,#99c946,#92ca4c,#8acb52,#82cc58,#79cc5e,#70cd65,#68cd6c,#60cd72,#58cc79,#52cc7e,#4bcb84,#46cb88,#42ca8c,#3fca8e,#3dc990,#3cc992,#3bc993,#3ac994,#39c995,#38c896,#37c897,#36c899,#35c79a,#34c79c,#32c69e,#31c6a1,#2fc5a3,#2dc4a5,#2cc4a7,#2ac3a9,#28c2ab,#26c2ad,#24c1ae,#23c1af)"></i><i style="height:5px;background:linear-gradient(90deg,#78cc5f,#7acc5d,#7fcc5a,#83cc57,#88cb53,#8ecb4f,#93ca4b,#98c947,#9dc943,#a1c840,#a5c83d,#a7c73c,#a9c73a,#abc739,#acc739,#adc638,#adc638,#aec637,#aec637,#aec637,#adc638,#abc739,#a8c73b,#a4c83e,#9fc941,#99c946,#92ca4b,#8bcb51,#82cc58,#79cc5e,#71cd65,#69cd6b,#61cd71,#5acc77,#53cc7d,#4dcc82,#47cb87,#42ca8b,#3eca8f,#3bc992,#39c994,#38c896,#37c897,#37c898,#36c898,#36c899,#35c79a,#35c79b,#34c79c,#32c69e,#31c6a0,#30c5a2,#2ec5a4,#2dc4a6,#2bc3a8,#29c3aa,#27c2ab,#25c2ad,#23c1af,#21c1b0,#1fc1b1)"></i><i style="height:6px;background:linear-gradient(90deg,#73cd63,#76cc61,#7acc5e,#7fcc5a,#84cc56,#89cb52,#8ecb4e,#93ca4b,#98ca47,#9cc944,#9fc942,#a1c840,#a3c83f,#a4c83e,#a5c83d,#a6c83d,#a6c83c,#a6c83c,#a6c83d,#a5c83d,#a3c83e,#a1c840,#9ec943,#99c946,#94ca4a,#8dcb4f,#85cb56,#7ccc5c,#72cd63,#69cd6b,#61cd72,#5acc78,#53cc7d,#4dcc82,#48cb87,#43ca8b,#3eca8f,#3bc992,#38c896,#36c898,#35c79a,#34c79b,#34c79c,#34c79c,#33c79c,#33c79d,#33c69e,#32c69f,#31c6a0,#30c5a1,#2fc5a3,#2ec4a5,#2cc4a7,#2bc3a8,#29c3aa,#27c2ac,#25c2ae,#23c1af,#20c1b1,#1ec0b2,#1cc0b3)"></i><i style="height:5px;background:linear-gradient(90deg,#6ecd67,#70cd65,#75cc61,#7acc5e,#7fcc5a,#84cc56,#89cb53,#8dcb4f,#91ca4c,#95ca49,#98c947,#9bc945,#9cc943,#9ec943,#9ec942,#9ec942,#9ec942,#9ec943,#9dc943,#9bc945,#99c946,#96ca49,#92ca4c,#8dcb4f,#87cb54,#7fcc5a,#76cc60,#6dcd68,#63cd70,#5acc77,#52cc7e,#4bcb83,#46cb88,#41ca8c,#3eca90,#3bc993,#38c896,#36c799,#34c79c,#32c69e,#31c6a0,#31c6a0,#31c5a1,#31c6a1,#31c6a1,#30c5a1,#30c5a1,#2fc5a2,#2fc5a3,#2ec4a5,#2cc4a6,#2bc3a8,#29c3a9,#28c2ab,#26c2ad,#24c1ae,#22c1b0,#1fc1b1,#1dc0b3,#1bc0b4,#19bfb5)"></i><i style="height:5px;background:linear-gradient(90deg,#68cd6b,#6bcd69,#70cd65,#74cc62,#79cc5e,#7ecc5b,#83cc57,#87cb54,#8bcb51,#8ecb4e,#91ca4c,#93ca4b,#95ca49,#96ca49,#96ca48,#96ca48,#95ca49,#94ca4a,#92ca4b,#90ca4d,#8dcb4f,#8acb52,#85cb55,#80cc59,#79cc5e,#71cd64,#68cd6b,#5ecd74,#55cc7c,#4ccb83,#44cb89,#3fca8e,#3bc992,#39c895,#36c898,#35c79b,#33c69d,#31c6a0,#30c5a2,#2ec5a3,#2ec4a5,#2dc4a5,#2dc4a5,#2dc4a5,#2ec4a5,#2ec4a5,#2dc4a5,#2dc4a6,#2cc4a7,#2bc3a8,#29c3aa,#28c2ab,#26c2ac,#25c2ae,#23c1af,#21c1b0,#1fc0b2,#1cc0b3,#1ac0b5,#18bfb6,#16bfb7)"></i><i style="height:5px;background:linear-gradient(90deg,#63cd70,#66cd6d,#6acd6a,#6fcd66,#73cd62,#78cc5f,#7ccc5c,#80cc59,#83cc57,#86cb54,#89cb52,#8bcb51,#8ccb50,#8dcb4f,#8dcb4f,#8dcb50,#8bcb51,#8acb52,#87cb54,#84cc56,#81cc59,#7dcc5c,#78cc5f,#72cd63,#6ccd69,#64cd6f,#5bcc77,#51cc7f,#47cb87,#3fca8e,#3ac994,#36c898,#34c79b,#33c69e,#31c6a0,#30c5a2,#2ec5a4,#2dc4a6,#2cc4a7,#2ac3a9,#29c3aa,#29c3aa,#29c3aa,#2ac3a9,#2ac3a9,#2ac3a9,#2ac3a9,#29c3aa,#28c3aa,#27c2ac,#26c2ad,#24c2ae,#23c1af,#21c1b0,#1fc0b1,#1dc0b3,#1bc0b4,#19bfb5,#17bfb6,#15bfb7,#13beb8)"></i><i style="height:5px;background:linear-gradient(90deg,#5dcc75,#60cd72,#65cd6e,#69cd6b,#6dcd67,#71cd64,#75cc61,#78cc5f,#7bcc5d,#7ecc5b,#80cc59,#82cc58,#83cc57,#83cc57,#83cc57,#82cc58,#80cc59,#7ecc5b,#7bcc5d,#77cc60,#73cd63,#6fcd66,#6acd6a,#64cd6e,#5ecd74,#57cc7a,#4dcc82,#44cb8a,#3cc991,#37c898,#33c69d,#30c5a1,#2ec5a3,#2dc4a5,#2cc4a7,#2bc3a8,#29c3aa,#27c2ab,#26c2ad,#25c2ae,#24c1af,#24c1af,#24c1ae,#25c2ae,#26c2ad,#26c2ad,#26c2ad,#25c2ad,#24c1ae,#23c1af,#21c1b0,#20c1b1,#1ec0b2,#1dc0b3,#1bc0b4,#1abfb5,#18bfb6,#16bfb7,#14bfb8,#12beb9,#10beba)"></i><i style="height:5px;background:linear-gradient(90deg,#57cc7a,#5bcc77,#5fcd73,#63cd70,#67cd6d,#6acd6a,#6dcd67,#70cd65,#72cd63,#74cc62,#76cc61,#77cc60,#78cc5f,#78cc5f,#78cc5f,#76cc60,#74cc62,#71cd64,#6dcd67,#69cd6a,#65cd6e,#61cd71,#5ccc75,#57cc7a,#51cc7f,#49cb85,#41ca8c,#3ac994,#35c79b,#30c5a1,#2dc4a5,#2ac3a9,#28c2ab,#26c2ac,#25c2ad,#24c1ae,#22c1af,#20c1b1,#1ec0b2,#1dc0b3,#1cc0b3,#1cc0b3,#1dc0b3,#1ec0b2,#1fc1b1,#20c1b1,#20c1b1,#1fc0b1,#1ec0b2,#1dc0b3,#1cc0b4,#1bc0b4,#1abfb5,#18bfb6,#17bfb6,#16bfb7,#14bfb8,#13beb9,#11beb9,#0fbeba,#0ebdbb)"></i><i style="height:6px;background:linear-gradient(90deg,#51cc7f,#55cc7c,#59cc78,#5dcc75,#60cd72,#63cd70,#65cd6e,#67cd6c,#69cd6b,#6acd6a,#6bcd69,#6ccd68,#6ccd68,#6ccd68,#6ccd69,#6acd6a,#67cd6c,#64cd6f,#60cd72,#5ccc76,#58cc79,#53cc7d,#4fcc81,#49cb85,#44cb8a,#3eca8f,#38c896,#33c79d,#2fc5a3,#2ac3a9,#26c2ad,#22c1b0,#1fc0b2,#1dc0b3,#1cc0b4,#1bc0b4,#19bfb5,#17bfb6,#15bfb7,#14beb8,#13beb8,#14beb8,#15bfb8,#16bfb7,#17bfb6,#18bfb6,#19bfb6,#18bfb6,#17bfb6,#17bfb7,#16bfb7,#15bfb8,#14beb8,#13beb8,#13beb9,#12beb9,#11beba,#10beba,#0ebebb,#0dbdbc,#0bbdbd)"></i><i style="height:5px;background:linear-gradient(90deg,#4bcb84,#4ecc81,#53cc7e,#56cc7b,#59cc78,#5bcc76,#5dcc75,#5ecd74,#5fcd73,#60cd72,#60cd72,#61cd72,#61cd72,#60cd72,#5fcd73,#5dcc75,#5acc77,#57cc7a,#53cc7e,#4ecc81,#4acb85,#46cb88,#41ca8c,#3dca90,#39c994,#35c799,#32c69f,#2dc4a5,#28c2ab,#22c1b0,#1bc0b4,#17bfb6,#14beb8,#12beb9,#11beb9,#10beba,#0ebebb,#0dbdbc,#0bbdbc,#0abdbd,#0abdbd,#0abdbd,#0bbdbd,#0cbdbc,#0ebdbb,#0fbebb,#0fbeba,#0fbeba,#0fbeba,#0fbebb,#0ebebb,#0ebebb,#0ebdbb,#0ebdbb,#0ebdbb,#0ebdbb,#0dbdbb,#0dbdbc,#0cbdbc,#0abdbd,#0abdbe)"></i><i style="height:5px;background:linear-gradient(90deg,#45cb89,#48cb86,#4ccb83,#4fcc81,#51cc7f,#53cc7d,#54cc7c,#55cc7c,#55cc7b,#55cc7b,#55cc7b,#55cc7c,#55cc7c,#54cc7d,#52cc7e,#50cc80,#4ccb82,#49cb86,#45cb89,#41ca8d,#3dc990,#3ac993,#37c897,#35c79a,#32c69e,#2fc5a3,#2bc3a8,#26c2ad,#1ec0b2,#17bfb6,#10beba,#0bbdbc,#09bcbe,#08bcbf,#07bcbf,#07bcc0,#06bcc0,#05bbc1,#04bbc2,#03bbc2,#03bbc2,#03bbc2,#04bbc2,#05bbc1,#05bbc1,#06bcc0,#07bcc0,#07bcbf,#08bcbf,#08bcbf,#08bcbf,#09bcbe,#09bcbe,#09bdbe,#0abdbd,#0abdbd,#0abdbd,#0abdbd,#0abdbe,#09bcbe,#08bcbf)"></i><i style="height:5px;background:linear-gradient(90deg,#3fca8e,#42ca8b,#45cb89,#47cb87,#49cb85,#4acb84,#4bcb84,#4bcb84,#4bcb84,#4acb84,#4acb85,#49cb85,#48cb86,#46cb88,#44cb89,#42ca8b,#3fca8e,#3cc991,#39c994,#37c898,#34c79b,#32c69e,#30c5a1,#2ec4a5,#2bc3a8,#27c2ac,#22c1b0,#1bc0b4,#13beb9,#0bbdbc,#07bcc0,#04bbc2,#02bbc3,#02bac4,#02bac5,#02bac5,#01b9c6,#01b9c6,#01b9c7,#01b9c7,#01b9c8,#01b9c8,#01b9c7,#01b9c7,#01b9c6,#01b9c6,#01bac5,#02bac5,#02bac4,#02bac3,#03bbc3,#04bbc2,#05bbc1,#06bcc1,#06bcc0,#07bcbf,#08bcbf,#08bcbf,#08bcbf,#07bcbf,#07bcc0)"></i><i style="height:5px;background:linear-gradient(90deg,#3bc993,#3dc991,#3eca8f,#40ca8d,#41ca8c,#42ca8b,#42ca8b,#42ca8c,#41ca8c,#40ca8d,#3fca8e,#3dca90,#3cc991,#3bc993,#39c995,#37c897,#35c79a,#33c79d,#31c6a0,#2fc5a3,#2dc4a6,#2ac3a9,#27c2ac,#24c1ae,#1fc1b1,#1ac0b4,#14beb8,#0dbdbb,#08bcbf,#04bbc2,#02bac4,#01b9c6,#01b9c8,#01b8c9,#01b8ca,#01b8ca,#02b7cb,#03b7cb,#03b7cc,#04b6cd,#04b6cd,#04b6cd,#04b6cd,#04b6cd,#04b6cd,#03b7cc,#02b7cb,#01b7ca,#01b8c9,#01b8c8,#01b9c7,#01b9c6,#02bac4,#02bac3,#03bbc2,#04bbc1,#05bbc1,#06bcc0,#06bcc0,#06bcc0,#06bcc0)"></i><i style="height:5px;background:linear-gradient(90deg,#36c898,#38c896,#39c995,#3ac993,#3bc993,#3bc993,#3ac993,#3ac994,#39c895,#37c897,#36c898,#35c79a,#34c79c,#33c69e,#31c6a0,#2fc5a2,#2dc4a5,#2bc3a8,#28c3ab,#25c2ae,#21c1b0,#1dc0b3,#18bfb6,#13beb8,#0fbebb,#0abdbd,#07bcc0,#03bbc2,#02bac4,#01b9c7,#01b8c9,#01b7ca,#03b7cc,#04b6cd,#05b6ce,#06b5cf,#07b5d0,#08b4d1,#09b4d1,#0ab4d2,#0bb3d2,#0cb3d3,#0cb3d3,#0cb3d3,#0cb3d3,#0bb3d2,#0ab4d1,#08b5d0,#06b5cf,#04b6cd,#02b7cb,#01b8c9,#01b9c8,#01b9c6,#02bac5,#02bac4,#03bbc2,#04bbc2,#05bbc1,#05bbc1,#05bbc1)"></i><i style="height:6px;background:linear-gradient(90deg,#33c69d,#34c79c,#35c79b,#35c79a,#35c79a,#35c79a,#34c79b,#33c79c,#32c69e,#31c6a0,#30c5a2,#2ec5a4,#2cc4a6,#2ac3a9,#28c2ab,#25c2ae,#21c1b0,#1dc0b3,#18bfb6,#13beb8,#0ebdbb,#0abdbe,#06bcc0,#03bbc2,#02bac4,#01b9c6,#01b9c7,#01b8c8,#01b8ca,#02b7cb,#03b7cc,#05b6ce,#07b5cf,#09b4d1,#0bb3d2,#0eb3d4,#0fb2d5,#11b1d5,#12b1d6,#12b1d7,#13b0d7,#14b0d8,#15afd9,#15afd9,#16afd9,#15afd9,#14b0d8,#12b1d6,#0eb2d4,#0ab4d2,#07b5d0,#04b6cd,#02b7cb,#01b8c9,#01b9c7,#01bac6,#02bac4,#02bbc3,#03bbc2,#04bbc2,#04bbc2)"></i></div>
<div class="p" style="left:849.6px;top:919.9px;width:621.9px;height:629.7px"><i style="height:5px;background:linear-gradient(90deg,#2699e9,#2995ec,#2b92ee,#2b90f0,#2c8ff1,#2c8ef2,#2d8df2,#2d8cf3,#2d8bf4,#2d8bf3,#2d8df2,#2c90f0,#2895ec,#259ce7,#1fa5e2,#14b0d8,#01b9c6,#23c1af,#3cc991,#6bcd69,#a5c83d,#d8be28,#fcbc3d,#fbd12f,#f5e725)"></i><i style="height:5px;background:linear-gradient(90deg,#269ae9,#2895ec,#2a92ee,#2b90ef,#2c8ff1,#2d8df2,#2d8cf3,#2d8bf4,#2d8af4,#2d8af4,#2d8cf3,#2c8ff1,#2994ed,#259be7,#20a5e2,#15afd9,#01b9c7,#23c1af,#3cc991,#6ccd69,#a6c73c,#d9bd28,#fcbd3d,#fbd32f,#f5e825)"></i><i style="height:5px;background:linear-gradient(90deg,#269ae8,#2896ec,#2a93ee,#2b90f0,#2c8ff1,#2d8df2,#2d8cf3,#2d8af4,#2d89f5,#2d8af5,#2d8bf4,#2c8ef1,#2a93ed,#259be8,#20a4e3,#15afd9,#01b9c7,#22c1b0,#3cc992,#6ccd68,#a7c73c,#dabd28,#fdbd3d,#fbd42e,#f5e924)"></i><i style="height:5px;background:linear-gradient(90deg,#259be8,#2896eb,#2a93ee,#2b90f0,#2c8ef1,#2d8df2,#2d8bf4,#2d8af5,#2d89f6,#2d89f6,#2d8af5,#2d8df2,#2a92ee,#269ae9,#21a4e3,#16afda,#01b9c8,#22c1b0,#3cc992,#6ccd68,#a8c73b,#dbbd29,#febe3c,#fad52e,#f5ea23)"></i><i style="height:5px;background:linear-gradient(90deg,#259be8,#2796eb,#2a93ee,#2b90f0,#2c8ef1,#2d8cf3,#2d8af4,#2d89f5,#2d88f6,#2d88f6,#2d89f5,#2d8cf3,#2b92ef,#2699e9,#21a3e3,#17aeda,#01b8c8,#21c1b0,#3cc992,#6dcd68,#a9c73b,#dcbd29,#febe3c,#fad62d,#f5eb23)"></i><i style="height:5px;background:linear-gradient(90deg,#259be7,#2796eb,#2a93ee,#2c90f0,#2c8ef2,#2d8cf3,#2d8af5,#2d88f6,#2e87f7,#2e87f7,#2d88f6,#2d8bf4,#2b91ef,#2698ea,#22a2e4,#18aedb,#01b8c9,#21c1b0,#3cc992,#6dcd68,#aac73a,#ddbd29,#febf3c,#f9d62d,#f5ec22)"></i><i style="height:5px;background:linear-gradient(90deg,#259ce7,#2797eb,#2a93ee,#2c90f0,#2d8df2,#2d8bf4,#2d89f5,#2e87f7,#2e86f7,#2e86f8,#2e87f7,#2d8af4,#2c90f0,#2798ea,#22a2e4,#18addb,#01b8c9,#20c1b1,#3bc992,#6dcd67,#aac73a,#debd29,#febf3b,#f9d72c,#f5ee21)"></i><i style="height:5px;background:linear-gradient(90deg,#259ce7,#2797eb,#2a93ee,#2c90f0,#2d8df2,#2d8bf4,#2d88f6,#2e86f7,#2e85f8,#2e85f8,#2e86f7,#2d89f5,#2c8ff1,#2797eb,#23a1e4,#19addc,#01b8ca,#1fc1b1,#3bc992,#6dcd67,#abc739,#dfbc2a,#fec03b,#f9d82c,#f5ee21)"></i><i style="height:5px;background:linear-gradient(90deg,#259ce7,#2797eb,#2a93ee,#2c8ff0,#2d8cf3,#2d8af5,#2d88f6,#2e85f8,#2e84f8,#2e84f9,#2e85f8,#2d88f6,#2c8ef2,#2896eb,#23a0e5,#19acdc,#01b7ca,#1fc0b2,#3bc993,#6dcd67,#abc739,#dfbc2a,#fec13a,#f8d92c,#f6ef20)"></i><i style="height:5px;background:linear-gradient(90deg,#259ce7,#2797eb,#2a92ee,#2c8ff1,#2d8cf3,#2d89f5,#2e87f7,#2e84f8,#2e83f9,#2f82f9,#2e84f9,#2e87f7,#2d8df2,#2895ec,#23a0e5,#1aacdd,#02b7cb,#1ec0b2,#3bc993,#6dcd67,#acc739,#e0bc2a,#fec13a,#f8da2b,#f6f01f)"></i><i style="height:5px;background:linear-gradient(90deg,#259ce7,#2797eb,#2b92ee,#2c8ff1,#2d8bf3,#2d89f6,#2e86f7,#2e83f9,#2f82fa,#2f81fa,#2f82f9,#2e86f7,#2d8cf3,#2994ed,#249fe6,#1aabdd,#03b7cc,#1dc0b3,#3ac993,#6dcd67,#acc738,#e1bc2b,#fec239,#f8da2b,#f6f11e)"></i><i style="height:5px;background:linear-gradient(90deg,#259ce7,#2796eb,#2b92ee,#2c8ef1,#2d8bf4,#2d88f6,#2e85f8,#2f82f9,#2f81fa,#3080fa,#2f81fa,#2e85f8,#2d8bf4,#2a93ed,#249ee6,#1babde,#03b7cc,#1cc0b3,#3ac994,#6dcd68,#acc738,#e1bc2b,#fec239,#f7db2a,#f6f21e)"></i><i style="height:5px;background:linear-gradient(90deg,#259ce7,#2796eb,#2b91ef,#2c8ef2,#2d8af4,#2e87f7,#2e84f8,#2f81fa,#307ffb,#307ffb,#3080fa,#2e83f9,#2d89f5,#2a92ee,#249de6,#1caadf,#04b6cd,#1cc0b4,#3ac994,#6dcd68,#acc738,#e1bc2b,#fec239,#f7dc2a,#f6f31d)"></i><i style="height:5px;background:linear-gradient(90deg,#259ce7,#2896eb,#2b91ef,#2d8df2,#2d89f5,#2e86f7,#2e83f9,#2f80fa,#317efb,#317dfb,#307ffb,#2f82f9,#2d88f6,#2b91ef,#259ce7,#1ca9df,#05b6ce,#1bc0b4,#39c994,#6ccd68,#adc738,#e2bc2b,#fec338,#f7dc2a,#f7f31d)"></i><i style="height:5px;background:linear-gradient(90deg,#259ce7,#2896ec,#2b91ef,#2d8cf3,#2d89f5,#2e85f8,#2f82fa,#307ffb,#317dfc,#327cfc,#317dfc,#2f81fa,#2e87f7,#2c90f0,#259ce7,#1da9e0,#06b5ce,#1abfb5,#39c895,#6ccd68,#adc638,#e2bc2b,#fec338,#f7dd2a,#f7f41c)"></i><i style="height:5px;background:linear-gradient(90deg,#259ce7,#2895ec,#2b90f0,#2d8cf3,#2d88f6,#2e84f8,#2f81fa,#317efb,#327cfc,#337bfd,#327cfc,#307ffb,#2e86f7,#2c8ff1,#259be8,#1da8e0,#06b5cf,#19bfb6,#39c895,#6ccd68,#adc638,#e2bc2b,#fec338,#f6dd29,#f7f51b)"></i><i style="height:5px;background:linear-gradient(90deg,#259ce7,#2895ec,#2c90f0,#2d8bf4,#2e87f7,#2e83f9,#3080fb,#327dfc,#347afd,#3579fd,#337afd,#317efb,#2e85f8,#2c8ef1,#269ae9,#1ea7e1,#07b5d0,#17bfb6,#38c896,#6bcd69,#adc738,#e3bc2c,#fec438,#f6de29,#f7f51b)"></i><i style="height:5px;background:linear-gradient(90deg,#259be7,#2995ec,#2c8ff1,#2d8af4,#2e86f7,#2f82f9,#307efb,#327bfc,#3579fd,#3678fe,#3579fd,#317dfc,#2e83f9,#2d8df2,#2699e9,#1ea7e1,#08b4d1,#16bfb7,#37c897,#6bcd69,#acc738,#e3bc2c,#fec438,#f6de29,#f7f61a)"></i><i style="height:5px;background:linear-gradient(90deg,#259be8,#2994ed,#2c8ef1,#2d8af5,#2e85f8,#2f81fa,#317dfc,#347afd,#3777fe,#3876fe,#3777fe,#337bfc,#2f82fa,#2d8cf3,#2798ea,#1fa6e2,#0ab4d1,#15bfb8,#37c897,#6acd6a,#acc738,#e3bc2c,#fec437,#f6df29,#f8f61a)"></i><i style="height:5px;background:linear-gradient(90deg,#259be8,#2994ed,#2c8ef2,#2d89f5,#2e84f8,#3080fa,#327cfc,#3578fd,#3875fe,#3974fe,#3875fe,#3479fd,#2f81fa,#2d8bf4,#2797eb,#1fa5e2,#0bb3d2,#13beb8,#37c898,#6acd6a,#acc738,#e3bc2c,#fec437,#f6df29,#f8f719)"></i><i style="height:5px;background:linear-gradient(90deg,#269ae8,#2a93ee,#2d8df2,#2d88f6,#2e83f9,#307ffb,#337afd,#3777fe,#3a74fe,#3b73fe,#3a74fe,#3678fd,#307ffb,#2d89f5,#2896eb,#20a4e3,#0cb3d3,#12beb9,#36c898,#69cd6b,#acc739,#e3bc2c,#fec437,#f6df29,#f8f719)"></i><i style="height:5px;background:linear-gradient(90deg,#269ae9,#2a92ee,#2d8cf3,#2e87f7,#2f82f9,#317dfb,#3579fd,#3975fe,#3b72ff,#3d71ff,#3b72ff,#3776fe,#317efb,#2d88f6,#2895ec,#21a4e3,#0eb2d4,#10beba,#36c799,#68cd6b,#abc739,#e3bc2c,#fec537,#f6e029,#f8f719)"></i><i style="height:5px;background:linear-gradient(90deg,#2699e9,#2b92ee,#2d8bf3,#2e86f7,#2f81fa,#327cfc,#3677fe,#3a73fe,#3d70ff,#3e6fff,#3d70ff,#3974fe,#327cfc,#2e87f7,#2994ed,#21a3e3,#0fb2d5,#0fbebb,#35c79a,#67cd6c,#abc739,#e3bc2c,#fec537,#f6e028,#f8f818)"></i><i style="height:5px;background:linear-gradient(90deg,#2699e9,#2b91ef,#2d8af4,#2e85f8,#3080fb,#337bfd,#3876fe,#3c72ff,#3f6fff,#3f6dfe,#3f6eff,#3b73fe,#337bfd,#2e85f8,#2a93ee,#22a2e4,#11b1d6,#0dbdbb,#35c79b,#66cd6d,#aac73a,#e3bc2c,#fec537,#f6e028,#f8f818)"></i><i style="height:5px;background:linear-gradient(90deg,#2798ea,#2b90f0,#2d8af5,#2e84f9,#307efb,#3479fd,#3974fe,#3d70ff,#406dfe,#416cfe,#406dfe,#3c71ff,#3579fd,#2e84f8,#2b92ee,#22a1e4,#12b1d6,#0bbdbc,#34c79b,#65cd6e,#aac73a,#e3bc2c,#fec537,#f6e028,#f8f818)"></i><i style="height:5px;background:linear-gradient(90deg,#2797ea,#2c8ff0,#2d89f6,#2e83f9,#317dfc,#3678fe,#3b73fe,#3f6eff,#416bfe,#426afe,#416bfe,#3e6fff,#3677fe,#2e83f9,#2b91ef,#23a0e5,#13b0d7,#0abdbd,#34c79c,#64cd6e,#a9c73a,#e2bc2b,#fec537,#f6e028,#f8f817)"></i><i style="height:5px;background:linear-gradient(90deg,#2797eb,#2c8ef1,#2d88f6,#2f82fa,#327cfc,#3776fe,#3d71ff,#406dfe,#4269fe,#4368fe,#4269fe,#3f6dfe,#3876fe,#2f81fa,#2c8ff0,#239fe5,#14b0d8,#09bcbe,#33c69d,#63cd6f,#a8c73b,#e2bc2b,#fec537,#f6e028,#f8f817)"></i><i style="height:5px;background:linear-gradient(90deg,#2896eb,#2c8ef2,#2e86f7,#2f80fa,#337afd,#3975fe,#3e6fff,#416bfe,#4368fd,#4466fd,#4367fd,#416cfe,#3a74fe,#3080fa,#2c8ef1,#249ee6,#15afd9,#08bcbf,#32c69e,#62cd70,#a8c73b,#e2bc2b,#fec537,#f6e028,#f8f917)"></i><i style="height:5px;background:linear-gradient(90deg,#2895ec,#2d8df3,#2e85f8,#307ffb,#3579fd,#3b73fe,#3f6dfe,#4269fe,#4466fd,#4464fd,#4465fd,#426afe,#3b72ff,#307efb,#2d8df2,#249de6,#16aeda,#06bcc0,#32c69f,#61cd71,#a7c73c,#e1bc2b,#fec437,#f6e028,#f8f917)"></i><i style="height:5px;background:linear-gradient(90deg,#2994ed,#2d8cf3,#2e84f8,#317efb,#3677fe,#3c71ff,#416cfe,#4367fd,#4564fd,#4562fc,#4564fd,#4368fe,#3d70ff,#317dfc,#2d8cf3,#259de7,#18aedb,#05bbc1,#31c6a0,#60cd72,#a6c83d,#e1bc2b,#fec437,#f6e028,#f8f917)"></i><i style="height:5px;background:linear-gradient(90deg,#2a93ed,#2d8af4,#2e83f9,#327cfc,#3876fe,#3e6fff,#426afe,#4465fd,#4562fc,#4661fc,#4562fc,#4466fd,#3f6eff,#327bfc,#2d8bf4,#259ce7,#19addc,#04bbc2,#30c5a1,#5fcd73,#a5c83d,#e0bc2b,#fec438,#f6e028,#f8f917)"></i><i style="height:5px;background:linear-gradient(90deg,#2a92ee,#2d89f5,#2f82fa,#337bfd,#3a74fe,#3f6efe,#4368fe,#4564fd,#4660fc,#465ffb,#4660fb,#4464fd,#406dfe,#347afd,#2d89f5,#269be8,#19acdc,#02bbc3,#30c5a2,#5ecc74,#a4c83e,#e0bc2a,#fec438,#f6e028,#f8f917)"></i><i style="height:5px;background:linear-gradient(90deg,#2b91ef,#2d88f6,#2f80fa,#3579fd,#3b72ff,#406cfe,#4466fd,#4562fc,#465efb,#465dfa,#465efb,#4562fc,#416bfe,#3678fd,#2d88f6,#269ae9,#1aacdd,#02bac4,#2fc5a3,#5dcc75,#a3c83f,#dfbc2a,#fec438,#f6e028,#f8f817)"></i><i style="height:5px;background:linear-gradient(90deg,#2b90f0,#2e87f7,#307ffb,#3678fe,#3d71ff,#426afe,#4465fd,#4660fb,#475cfa,#475bf9,#475cfa,#4661fc,#4269fe,#3776fe,#2e87f7,#2699ea,#1babde,#02bac5,#2ec5a3,#5bcc76,#a2c83f,#dfbc2a,#fec338,#f6e029,#f8f817)"></i><i style="height:5px;background:linear-gradient(90deg,#2c8ff0,#2e86f7,#317efb,#3876fe,#3e6fff,#4368fe,#4563fc,#465efb,#475af9,#4759f8,#475af9,#465ffb,#4367fd,#3975fe,#2e85f8,#2798ea,#1baadf,#01b9c6,#2ec4a4,#5acc77,#a1c840,#debd2a,#fec338,#f6df29,#f8f818)"></i><i style="height:5px;background:linear-gradient(90deg,#2c8ef1,#2e84f8,#327cfc,#3974fe,#406dfe,#4367fd,#4561fc,#475cfa,#4759f8,#4757f7,#4758f8,#465dfa,#4465fd,#3b73fe,#2e84f8,#2797eb,#1ca9df,#01b9c7,#2dc4a5,#59cc78,#a0c941,#ddbd29,#fec338,#f6df29,#f8f818)"></i><i style="height:5px;background:linear-gradient(90deg,#2d8df2,#2e83f9,#337bfd,#3b72fe,#416bfe,#4465fd,#465ffb,#475af9,#4757f7,#4755f6,#4756f7,#475bf9,#4564fd,#3c71ff,#2e83f9,#2895ec,#1da9e0,#01b9c8,#2cc4a6,#57cc7a,#9ec942,#ddbd29,#fec239,#f6df29,#f8f818)"></i><i style="height:5px;background:linear-gradient(90deg,#2d8cf3,#2f82fa,#3579fd,#3d71ff,#426afe,#4563fd,#465dfa,#4758f8,#4755f6,#4853f5,#4854f6,#4759f8,#4562fc,#3e6fff,#2f81fa,#2994ed,#1ea8e0,#01b8c9,#2cc4a7,#56cc7b,#9dc943,#dcbd29,#fec239,#f6de29,#f8f818)"></i><i style="height:5px;background:linear-gradient(90deg,#2d8af4,#2f80fa,#3677fe,#3e6fff,#4368fd,#4561fc,#475bf9,#4756f7,#4853f5,#4851f3,#4852f4,#4757f7,#4660fc,#3f6efe,#3080fa,#2a93ed,#1ea7e1,#01b8ca,#2ac3a8,#55cc7c,#9cc944,#dbbd29,#fec239,#f6de29,#f8f719)"></i><i style="height:5px;background:linear-gradient(90deg,#2d89f5,#307ffb,#3876fe,#406dfe,#4466fd,#465ffb,#4759f9,#4854f6,#4851f3,#484ff2,#4850f3,#4755f6,#465efb,#406cfe,#307ffb,#2a92ee,#1fa6e2,#02b7cb,#29c3a9,#53cc7d,#9ac945,#dabd28,#fec13a,#f6de29,#f8f719)"></i><i style="height:5px;background:linear-gradient(90deg,#2d88f6,#317dfb,#3a74fe,#416cfe,#4464fd,#465dfb,#4758f8,#4852f4,#484ff2,#484df0,#484ff1,#4854f5,#475dfa,#426afe,#317dfc,#2b91ef,#1fa5e2,#03b7cc,#28c3aa,#52cc7e,#99c946,#d9bd28,#fec13a,#f6dd29,#f8f719)"></i><i style="height:5px;background:linear-gradient(90deg,#2e87f7,#327cfc,#3b72ff,#426afe,#4562fc,#475cfa,#4756f6,#4850f3,#484df0,#484bef,#484df0,#4852f4,#475bf9,#4369fe,#327cfc,#2c90f0,#20a4e3,#04b6cd,#27c2ab,#50cc7f,#98ca47,#d8be28,#fec13a,#f7dd2a,#f8f61a)"></i><i style="height:5px;background:linear-gradient(90deg,#2e85f8,#337afd,#3d70ff,#4368fe,#4661fc,#475af9,#4854f5,#484ef1,#484bee,#4849ed,#484bee,#4850f2,#4759f8,#4367fd,#347afd,#2c8ff1,#21a4e3,#05b6ce,#26c2ac,#4fcc80,#96ca48,#d7be28,#fec03b,#f7dc2a,#f7f61a)"></i><i style="height:5px;background:linear-gradient(90deg,#2e84f9,#3579fd,#3f6fff,#4466fd,#465ffb,#4758f8,#4852f4,#484cf0,#4849ed,#4747eb,#4849ec,#484ef1,#4757f7,#4465fd,#3579fd,#2c8ef2,#21a3e4,#06b5cf,#25c2ad,#4dcc82,#95ca49,#d6be28,#fec03b,#f7dc2a,#f7f51b)"></i><i style="height:5px;background:linear-gradient(90deg,#2f82f9,#3777fe,#406dfe,#4464fd,#465dfa,#4756f7,#4850f2,#484aee,#4747eb,#4745e9,#4747eb,#484cef,#4756f6,#4564fd,#3777fe,#2d8df2,#22a2e4,#07b5d0,#24c1ae,#4ccb83,#93ca4a,#d5be28,#febf3b,#f7db2a,#f7f51b)"></i><i style="height:5px;background:linear-gradient(90deg,#2f81fa,#3875fe,#416bfe,#4563fc,#475bf9,#4854f6,#484ef1,#4848ec,#4744e9,#4743e7,#4745e9,#484aee,#4854f5,#4562fc,#3876fe,#2d8cf3,#22a1e4,#08b4d1,#23c1af,#4acb84,#92ca4c,#d4bf28,#febf3c,#f7db2b,#f7f41c)"></i><i style="height:5px;background:linear-gradient(90deg,#307ffb,#3a73fe,#4269fe,#4561fc,#4759f9,#4852f4,#484cf0,#4746eb,#4742e7,#4741e5,#4743e7,#4848ec,#4852f4,#4661fc,#3974fe,#2d8af4,#23a0e5,#0ab4d2,#21c1b0,#49cb85,#90ca4d,#d3bf27,#febe3c,#f8da2b,#f7f41c)"></i><i style="height:5px;background:linear-gradient(90deg,#317efb,#3c72ff,#4368fd,#465ffb,#4758f8,#4851f3,#484aee,#4744e9,#4740e4,#473fe2,#4741e4,#4746eb,#4851f3,#465ffb,#3b73fe,#2d89f5,#239fe5,#0bb3d2,#20c1b1,#48cb86,#8fcb4e,#d2bf27,#febe3c,#f8da2b,#f7f31c)"></i><i style="height:5px;background:linear-gradient(90deg,#327cfc,#3d70ff,#4466fd,#465dfb,#4756f7,#484ff2,#4848ec,#4742e7,#473fe2,#463de0,#473fe2,#4745e9,#484ff2,#465efb,#3c71ff,#2d88f6,#249fe6,#0db3d3,#1ec0b2,#46cb87,#8dcb4f,#d1bf27,#fdbd3d,#f8d92b,#f7f31d)"></i><i style="height:5px;background:linear-gradient(90deg,#337bfd,#3f6eff,#4464fd,#475cfa,#4854f5,#484df0,#4746ea,#4741e4,#463ddf,#463bdd,#463de0,#4743e7,#484df1,#475cfa,#3e70ff,#2e87f7,#249ee6,#0eb2d4,#1dc0b3,#45cb89,#8ccb50,#d0bf27,#fdbd3d,#f8d92c,#f6f21d)"></i><i style="height:5px;background:linear-gradient(90deg,#3579fd,#406dfe,#4563fc,#475af9,#4852f4,#484bef,#4744e8,#473fe2,#463bdc,#4639da,#463bdd,#4741e5,#484cef,#475bf9,#3f6eff,#2e86f7,#259de7,#10b2d5,#1bc0b4,#44cb8a,#8acb51,#cfc028,#fcbd3d,#f9d82c,#f6f21e)"></i><i style="height:5px;background:linear-gradient(90deg,#3677fe,#416bfe,#4561fc,#4758f8,#4851f3,#4849ed,#4742e7,#463ddf,#4639d9,#4538d7,#4639da,#473fe3,#484aee,#4759f9,#406dfe,#2e85f8,#259ce7,#11b1d6,#1abfb5,#43ca8b,#89cb53,#cec028,#fcbc3d,#f9d72c,#f6f11e)"></i><i style="height:5px;background:linear-gradient(90deg,#3876fe,#4269fe,#465ffb,#4757f7,#484ff2,#4747ec,#4741e4,#463bdd,#4537d6,#4536d4,#4538d7,#463ee1,#4849ed,#4758f8,#406cfe,#2e84f8,#259be7,#12b1d7,#18bfb6,#41ca8c,#87cb54,#ccc028,#fbbc3d,#f9d72d,#f6f11f)"></i><i style="height:5px;background:linear-gradient(90deg,#3a74fe,#4368fd,#465efb,#4755f6,#484df0,#4746ea,#473fe2,#4639da,#4536d3,#4435d0,#4536d4,#463cde,#4747eb,#4757f7,#416bfe,#2e83f9,#269be8,#13b0d7,#17bfb7,#40ca8d,#86cb55,#cbc029,#fbbc3d,#f9d62d,#f6f01f)"></i><i style="height:5px;background:linear-gradient(90deg,#3b72ff,#4466fd,#475cfa,#4854f5,#484cef,#4744e8,#463de0,#4538d7,#4435d0,#4433cd,#4435d1,#463bdc,#4746ea,#4755f6,#4269fe,#2f82f9,#269ae9,#14b0d8,#15bfb7,#3fca8e,#84cc56,#cac129,#fabb3d,#fad52d,#f6ef20)"></i><i style="height:5px;background:linear-gradient(90deg,#3d71ff,#4464fd,#475bf9,#4852f4,#484aee,#4742e6,#463bde,#4536d4,#4433cd,#4332ca,#4434ce,#4639da,#4744e8,#4854f5,#4368fe,#2f81fa,#2699e9,#15afd9,#13beb8,#3eca8f,#83cc57,#c9c129,#f9bb3d,#fad52e,#f5ef21)"></i><i style="height:5px;background:linear-gradient(90deg,#3e6fff,#4563fc,#4759f8,#4850f3,#4848ec,#4741e4,#463adb,#4435d1,#4332c9,#4331c6,#4433cb,#4538d7,#4743e7,#4853f5,#4367fd,#2f80fa,#2699ea,#16afd9,#12beb9,#3dc990,#81cc58,#c8c129,#f9bb3d,#fad42e,#f5ee21)"></i><i style="height:5px;background:linear-gradient(90deg,#3f6dfe,#4561fc,#4758f8,#484ff2,#4747eb,#473fe2,#4539d8,#4434ce,#4331c6,#4230c3,#4331c8,#4537d5,#4742e6,#4852f4,#4466fd,#3080fb,#2798ea,#17aeda,#10beba,#3cc991,#80cc59,#c6c22a,#f8ba3d,#fbd32e,#f5ed22)"></i><i style="height:5px;background:linear-gradient(90deg,#406cfe,#4660fb,#4756f7,#484df1,#4745e9,#463de0,#4537d6,#4433cb,#4230c3,#422fc0,#4330c5,#4536d2,#4740e4,#4851f3,#4465fd,#307ffb,#2797ea,#17aedb,#0fbebb,#3cc992,#7ecc5b,#c5c22a,#f7ba3c,#fbd32f,#f5ec22)"></i><i style="height:5px;background:linear-gradient(90deg,#416afe,#465efb,#4755f6,#484cef,#4744e8,#463cde,#4536d3,#4331c8,#422ec0,#412dbd,#422fc2,#4435d0,#473fe3,#4850f2,#4464fd,#317efb,#2797eb,#18addb,#0ebdbb,#3bc993,#7dcc5c,#c4c22b,#f6ba3c,#fbd22f,#f5ec22)"></i><i style="height:5px;background:linear-gradient(90deg,#4269fe,#465dfa,#4853f5,#484aee,#4742e6,#463bdc,#4435d0,#4330c5,#412dbd,#412cba,#422ec0,#4434ce,#473ee1,#484ff2,#4563fd,#317dfc,#2896eb,#19addc,#0cbdbc,#3ac994,#7bcc5d,#c3c22b,#f6ba3b,#fcd12f,#f5eb23)"></i><i style="height:5px;background:linear-gradient(90deg,#4368fd,#475cfa,#4852f4,#4849ed,#4741e5,#4639da,#4434ce,#422fc2,#412cba,#402bb8,#412dbd,#4433cc,#463de0,#484ef1,#4563fc,#327cfc,#2896ec,#19addc,#0bbdbd,#39c994,#7acc5e,#c1c32c,#f5ba3a,#fcd030,#f5ea23)"></i><i style="height:5px;background:linear-gradient(90deg,#4466fd,#475af9,#4851f3,#4848ec,#473fe3,#4538d8,#4433cb,#422ec0,#402bb8,#402ab5,#412dbb,#4332ca,#463cdf,#484df0,#4562fc,#327cfc,#2895ec,#19acdc,#0abdbd,#39c895,#78cc5f,#c0c32d,#f4ba39,#fcd030,#f5e924)"></i><i style="height:5px;background:linear-gradient(90deg,#4465fd,#4759f8,#484ff2,#4746eb,#473ee1,#4537d6,#4332c9,#412dbd,#402ab5,#402ab3,#412cb9,#4331c8,#463bde,#484cf0,#4561fc,#327bfc,#2995ec,#1aacdd,#09bdbe,#38c896,#77cc60,#bfc32d,#f3ba39,#fccf30,#f5e924)"></i><i style="height:5px;background:linear-gradient(90deg,#4564fd,#4758f8,#484ef1,#4745e9,#463de0,#4536d4,#4331c7,#412dbb,#402ab3,#3f29b1,#402bb7,#4331c6,#463bdc,#484cef,#4661fc,#337bfd,#2994ed,#1aabdd,#09bcbe,#37c897,#76cc61,#bec32e,#f2ba38,#fdce31,#f5e825)"></i><i style="height:5px;background:linear-gradient(90deg,#4562fc,#4757f7,#484df0,#4744e8,#463cde,#4535d2,#4330c5,#412cb9,#3f29b1,#3f28af,#402ab5,#4330c4,#463adb,#484bef,#4660fc,#347afd,#2994ed,#1aabdd,#08bcbf,#37c897,#75cc61,#bdc32f,#f1ba37,#fdce31,#f5e725)"></i><i style="height:5px;background:linear-gradient(90deg,#4561fc,#4756f6,#484cef,#4743e7,#463bdd,#4435d0,#422fc3,#402bb7,#3f28af,#3f28ad,#402ab4,#4230c3,#463ada,#484bee,#4660fb,#347afd,#2993ed,#1babde,#07bcbf,#36c898,#74cd62,#bcc42f,#f0ba36,#fdcd32,#f5e626)"></i><i style="height:5px;background:linear-gradient(90deg,#4660fc,#4755f6,#484bee,#4742e6,#463adb,#4434cf,#422fc1,#402ab5,#3f28ad,#3e27ab,#3f29b2,#422fc2,#4639da,#484aee,#465ffb,#3479fd,#2a93ed,#1babde,#07bcc0,#36c899,#72cd63,#bbc430,#f0ba36,#fdcc32,#f5e526)"></i><i style="height:5px;background:linear-gradient(90deg,#465ffb,#4854f5,#484aee,#4741e5,#4639da,#4433cd,#422ebf,#402ab4,#3e27ac,#3e27aa,#3f29b1,#422fc1,#4639d9,#484aee,#465ffb,#3579fd,#2a93ee,#1baade,#06bcc0,#36c799,#71cd64,#bac430,#efba35,#fdcb32,#f5e426)"></i><i style="height:5px;background:linear-gradient(90deg,#465efb,#4853f5,#4849ed,#4740e4,#4539d9,#4433cc,#412ebe,#402ab3,#3e27ab,#3e27a9,#3f29b0,#422fc1,#4539d9,#484aee,#465ffb,#3579fd,#2a93ee,#1baade,#06bcc0,#35c79a,#71cd65,#b9c431,#eeba34,#fdcb33,#f5e427)"></i><i style="height:5px;background:linear-gradient(90deg,#465dfa,#4852f4,#4848ec,#4740e3,#4538d8,#4332cb,#412dbd,#3f29b2,#3e27aa,#3e26a8,#3f29b0,#422fc0,#4539d8,#484aed,#465ffb,#3579fd,#2a93ee,#1baade,#06bcc1,#35c79a,#70cd65,#b8c431,#edba33,#feca33,#f5e327)"></i><i style="height:5px;background:linear-gradient(90deg,#475cfa,#4851f3,#4747ec,#473fe2,#4538d7,#4332ca,#412dbc,#3f29b1,#3e27a9,#3e26a8,#3f29af,#422fc0,#4539d8,#484aed,#465ffb,#3579fd,#2a93ee,#1baadf,#05bbc1,#35c79a,#6fcd66,#b7c532,#ecba32,#fec934,#f5e228)"></i><i style="height:5px;background:linear-gradient(90deg,#475cfa,#4850f3,#4747eb,#473ee2,#4537d6,#4332c9,#412dbc,#3f29b0,#3e27a9,#3e26a8,#3f29af,#422fc0,#4539d9,#484aed,#465ffb,#3579fd,#2a93ee,#1caadf,#05bbc1,#35c79b,#6ecd67,#b6c533,#ebba32,#fec934,#f5e128)"></i><i style="height:5px;background:linear-gradient(90deg,#475bf9,#4850f2,#4746ea,#463ee1,#4537d6,#4332c8,#412dbb,#3f29b0,#3e27a9,#3e26a8,#3f29b0,#422fc1,#4539d9,#484aee,#465ffb,#3579fd,#2a93ee,#1caadf,#05bbc1,#35c79b,#6dcd67,#b5c533,#ebba31,#fec835,#f6e028)"></i><i style="height:5px;background:linear-gradient(90deg,#475af9,#484ff2,#4746ea,#463ee1,#4537d5,#4331c8,#412dbb,#3f29b0,#3e27a9,#3e26a9,#3f29b0,#422fc1,#4639d9,#484aee,#465ffb,#3579fd,#2a93ee,#1caadf,#05bbc1,#34c79b,#6dcd68,#b4c534,#eabb30,#fec735,#f6df29)"></i><i style="height:5px;background:linear-gradient(90deg,#475af9,#484ff2,#4746ea,#463de0,#4537d5,#4331c8,#412dbb,#3f29b1,#3e27aa,#3e27a9,#3f29b1,#422fc2,#4639da,#484bee,#4660fb,#3479fd,#2a93ee,#1baadf,#05bbc1,#34c79b,#6ccd68,#b3c534,#e9bb30,#fec736,#f6de29)"></i><i style="height:5px;background:linear-gradient(90deg,#4759f8,#484ef1,#4745e9,#463de0,#4537d5,#4332c8,#412dbc,#3f29b2,#3e27ab,#3e27ab,#402ab3,#4230c3,#463adb,#484bef,#4660fb,#347afd,#2a93ed,#1baade,#05bbc1,#34c79b,#6ccd68,#b3c534,#e8bb2f,#fec636,#f6de29)"></i><i style="height:5px;background:linear-gradient(90deg,#4759f8,#484ef1,#4745e9,#463de0,#4537d5,#4332c9,#412dbd,#402ab3,#3e28ac,#3e27ac,#402ab4,#4330c5,#463bdc,#484cef,#4661fc,#347afd,#2a93ed,#1baade,#05bbc1,#34c79b,#6ccd69,#b2c635,#e8bb2e,#fec636,#f7dd2a)"></i><i style="height:5px;background:linear-gradient(90deg,#4759f8,#484ef1,#4745e9,#463de0,#4537d6,#4332ca,#412ebe,#402ab4,#3f28ae,#3f28ae,#402bb6,#4331c6,#463bdd,#484cf0,#4561fc,#337bfd,#2994ed,#1babde,#05bbc1,#34c79b,#6bcd69,#b1c635,#e7bb2e,#fec537,#f7dc2a)"></i><i style="height:5px;background:linear-gradient(90deg,#4758f8,#484ef1,#4745e9,#463ee1,#4537d6,#4332cb,#422ebf,#402bb6,#3f29b0,#3f29b0,#402bb8,#4332c8,#463cdf,#484df0,#4562fc,#327bfc,#2994ed,#1babde,#06bbc1,#34c79b,#6bcd69,#b1c636,#e6bb2d,#fec437,#f7db2b)"></i><i style="height:5px;background:linear-gradient(90deg,#4758f8,#484ef1,#4745ea,#463ee1,#4538d7,#4433cc,#422fc0,#402bb7,#3f29b2,#3f29b2,#412cba,#4332cb,#463de0,#484ef1,#4563fc,#327cfc,#2995ec,#1babde,#06bcc0,#34c79b,#6bcd69,#b0c636,#e6bb2d,#fec438,#f8da2b)"></i><i style="height:5px;background:linear-gradient(90deg,#4758f8,#484ef1,#4746ea,#473ee2,#4538d8,#4433cd,#422fc2,#412cba,#402ab4,#402ab5,#412dbd,#4433cd,#473ee1,#484ff2,#4564fd,#317dfc,#2895ec,#1aabdd,#06bcc0,#34c79b,#6bcd69,#b0c636,#e5bb2d,#fec338,#f8d92b)"></i><i style="height:5px;background:linear-gradient(90deg,#4758f8,#484ef1,#4746ea,#473fe2,#4639d9,#4434cf,#4330c4,#412dbc,#402bb7,#402bb8,#422ebf,#4434cf,#473fe3,#4850f3,#4465fd,#317efb,#2896ec,#1aacdd,#07bcc0,#35c79b,#6bcd69,#afc636,#e4bb2c,#fec339,#f8d82c)"></i><i style="height:5px;background:linear-gradient(90deg,#4758f8,#484ff2,#4747eb,#4740e3,#463adb,#4435d1,#4331c7,#422ebf,#412cba,#412cbb,#422fc3,#4535d2,#4741e5,#4851f4,#4466fd,#307efb,#2796eb,#19acdc,#08bcbf,#35c79a,#6bcd69,#afc637,#e4bb2c,#fec239,#f9d82c)"></i><i style="height:5px;background:linear-gradient(90deg,#4759f8,#484ff2,#4747eb,#4740e4,#463bdc,#4536d3,#4332c9,#422fc1,#412dbd,#412ebe,#4331c6,#4537d5,#4742e6,#4853f5,#4367fd,#307ffb,#2797eb,#19addc,#08bcbf,#35c79a,#6bcd69,#afc637,#e3bc2c,#fec239,#f9d72d)"></i><i style="height:5px;background:linear-gradient(90deg,#4759f8,#4850f2,#4848ec,#4741e5,#463cde,#4537d5,#4433cc,#4330c5,#422fc1,#422fc2,#4332c9,#4538d8,#4744e8,#4854f5,#4368fe,#2f81fa,#2798ea,#19addc,#09bcbe,#35c79a,#6bcd69,#afc637,#e3bc2c,#fec13a,#f9d62d)"></i><i style="height:5px;background:linear-gradient(90deg,#4759f9,#4850f3,#4849ed,#4742e6,#463ddf,#4538d7,#4434cf,#4331c8,#4230c4,#4330c5,#4433cd,#463adb,#4746ea,#4756f6,#426afe,#2f82fa,#2699ea,#18aedb,#0abdbd,#36c799,#6ccd68,#aec637,#e2bc2b,#fec13a,#fad52d)"></i><i style="height:5px;background:linear-gradient(90deg,#475af9,#4851f3,#484aee,#4743e8,#463ee1,#4639da,#4536d2,#4433cc,#4331c8,#4332c9,#4435d1,#463cde,#4848ec,#4757f7,#416bfe,#2e83f9,#2699e9,#17aeda,#0bbdbd,#36c899,#6ccd68,#aec637,#e2bc2b,#fec03a,#fad42e)"></i><i style="height:5px;background:linear-gradient(90deg,#475bf9,#4852f4,#484bee,#4745e9,#473fe3,#463bdc,#4537d6,#4434cf,#4433cc,#4434ce,#4537d5,#463ee1,#4849ed,#4759f8,#406dfe,#2e84f8,#269ae8,#16afd9,#0cbdbc,#37c898,#6dcd68,#aec637,#e1bc2b,#fec03b,#fbd42e)"></i><i style="height:5px;background:linear-gradient(90deg,#475bfa,#4853f5,#484cef,#4746ea,#4741e5,#463cdf,#4539d9,#4536d3,#4435d0,#4535d2,#4539d9,#4740e3,#484bef,#475bf9,#3f6eff,#2e85f8,#259be8,#15afd9,#0ebdbb,#37c897,#6dcd67,#aec637,#e1bc2b,#febf3b,#fbd32e)"></i><i style="height:5px;background:linear-gradient(90deg,#475cfa,#4854f5,#484df0,#4848ec,#4743e7,#473ee1,#463adc,#4538d7,#4536d5,#4537d6,#463bdc,#4742e6,#484ef1,#465dfa,#3d70ff,#2e87f7,#259ce7,#14b0d8,#10beba,#38c896,#6ecd67,#afc637,#e1bc2b,#febf3b,#fbd22f)"></i><i style="height:5px;background:linear-gradient(90deg,#465dfa,#4755f6,#484ff1,#4849ed,#4744e8,#4740e4,#463cdf,#463adb,#4539d9,#4639da,#463de0,#4744e9,#4850f2,#465ffb,#3b72ff,#2d88f6,#249de6,#13b1d7,#12beb9,#38c896,#6fcd66,#afc637,#e0bc2b,#febe3c,#fcd12f)"></i><i style="height:5px;background:linear-gradient(90deg,#465efb,#4756f7,#4850f3,#484bef,#4746ea,#4742e6,#473fe2,#463cde,#463bdc,#463cde,#473fe3,#4747eb,#4852f4,#4561fc,#3974fe,#2d8af5,#249ee6,#11b1d6,#13beb8,#39c995,#70cd65,#afc637,#e0bc2b,#febe3c,#fcd030)"></i><i style="height:5px;background:linear-gradient(90deg,#465ffb,#4757f8,#4852f4,#484df0,#4848ec,#4744e8,#4741e5,#473ee1,#463de0,#473ee1,#4742e6,#4849ed,#4854f6,#4563fd,#3776fe,#2d8bf3,#23a0e5,#0fb2d5,#16bfb7,#3ac994,#71cd65,#afc636,#e0bc2a,#febe3c,#fcd030)"></i><i style="height:5px;background:linear-gradient(90deg,#4660fc,#4759f8,#4853f5,#484ef1,#484aee,#4747eb,#4743e7,#4741e5,#4740e3,#4741e5,#4745e9,#484cf0,#4757f7,#4465fd,#3578fd,#2d8df2,#23a1e4,#0db3d3,#18bfb6,#3bc993,#72cd64,#b0c636,#e0bc2a,#febd3c,#fccf30)"></i><i style="height:5px;background:linear-gradient(90deg,#4562fc,#475af9,#4755f6,#4850f3,#484cf0,#4849ed,#4746ea,#4744e8,#4743e7,#4744e8,#4848ec,#484ff2,#4759f9,#4368fe,#337bfd,#2c8ef1,#22a2e4,#0bb3d2,#1abfb5,#3cc991,#73cd63,#b0c636,#e0bc2a,#fdbd3d,#fdce31)"></i><i style="height:5px;background:linear-gradient(90deg,#4563fd,#475cfa,#4757f7,#4852f4,#484ff2,#484bef,#4848ec,#4746ea,#4745ea,#4747eb,#484bee,#4852f4,#475cfa,#426afe,#317dfc,#2b90f0,#21a3e3,#09b4d1,#1cc0b4,#3dc990,#74cc62,#b1c636,#e0bc2a,#fdbd3d,#fdce31)"></i><i style="height:5px;background:linear-gradient(90deg,#4465fd,#465efb,#4759f8,#4855f6,#4851f3,#484ef1,#484bef,#4849ed,#4848ec,#484aee,#484ef1,#4854f6,#465ffb,#406dfe,#307ffb,#2b92ee,#20a5e3,#07b5cf,#1ec0b2,#3eca8f,#75cc61,#b1c635,#dfbc2a,#fcbd3d,#fdcd32)"></i><i style="height:5px;background:linear-gradient(90deg,#4466fd,#465ffb,#475bf9,#4757f7,#4853f5,#4850f3,#484ef1,#484cf0,#484bef,#484df0,#4851f3,#4757f7,#4561fc,#3e70ff,#2f81fa,#2994ed,#1fa6e2,#05b6ce,#20c1b1,#3fca8e,#77cc60,#b2c635,#dfbc2a,#fcbd3d,#fdcc32)"></i><i style="height:5px;background:linear-gradient(90deg,#4368fd,#4561fc,#475dfa,#4759f8,#4756f6,#4853f5,#4851f3,#484ff2,#484ff1,#4850f2,#4854f5,#475af9,#4464fd,#3b72fe,#2e84f9,#2895ec,#1ea7e1,#03b7cc,#22c1af,#41ca8c,#78cc5f,#b2c534,#dfbc2a,#fcbc3d,#fdcb32)"></i><i style="height:5px;background:linear-gradient(90deg,#4269fe,#4563fd,#465ffb,#475bf9,#4758f8,#4756f6,#4854f5,#4852f4,#4852f4,#4853f5,#4757f7,#465dfa,#4367fd,#3875fe,#2e86f7,#2797ea,#1da9e0,#02b7cb,#24c2ae,#43ca8b,#7acc5e,#b3c534,#dfbc2a,#fbbc3d,#fdcb33)"></i><i style="height:5px;background:linear-gradient(90deg,#416bfe,#4465fd,#4561fc,#465efb,#475bf9,#4758f8,#4756f7,#4755f6,#4755f6,#4756f7,#475af9,#4660fc,#426afe,#3578fd,#2d88f6,#2699e9,#1caadf,#01b8c9,#26c2ac,#44cb89,#7bcc5d,#b4c534,#dfbc2a,#fbbc3d,#feca33)"></i><i style="height:5px;background:linear-gradient(90deg,#406dfe,#4367fd,#4563fd,#4660fc,#465efb,#475bfa,#4759f9,#4758f8,#4758f8,#4759f9,#465dfa,#4563fd,#3f6dfe,#327bfc,#2d8bf4,#259be8,#1aabdd,#01b9c7,#28c2ab,#46cb88,#7dcc5b,#b5c533,#dfbc2a,#fbbc3d,#fec934)"></i><i style="height:5px;background:linear-gradient(90deg,#3e6fff,#4269fe,#4466fd,#4563fc,#4660fc,#465efb,#475cfa,#475bf9,#475bf9,#475dfa,#4660fc,#4367fd,#3d71ff,#317efb,#2d8df2,#259de7,#19addc,#01bac5,#2ac3a9,#48cb86,#7fcc5a,#b6c533,#e0bc2a,#fbbc3d,#fec934)"></i><i style="height:5px;background:linear-gradient(90deg,#3c71ff,#416cfe,#4368fe,#4465fd,#4563fd,#4561fc,#465ffb,#465efb,#465efb,#4660fb,#4564fd,#426afe,#3a74fe,#2f81fa,#2c8ff0,#249fe6,#17aeda,#02bac3,#2bc4a7,#4acb84,#81cc59,#b6c532,#e0bc2a,#fabb3d,#fec835)"></i><i style="height:5px;background:linear-gradient(90deg,#3a73fe,#3f6eff,#416bfe,#4368fe,#4466fd,#4464fd,#4563fc,#4562fc,#4562fc,#4563fd,#4367fd,#3f6dfe,#3677fe,#2e84f9,#2b92ef,#23a0e5,#15afd8,#04bbc1,#2dc4a6,#4dcb82,#83cc57,#b7c531,#e0bc2a,#fabb3d,#fec735)"></i><i style="height:5px;background:linear-gradient(90deg,#3876fe,#3d70ff,#406dfe,#416bfe,#4269fe,#4367fd,#4466fd,#4465fd,#4465fd,#4367fd,#416bfe,#3c71ff,#337bfd,#2e86f7,#2994ed,#22a2e4,#12b1d7,#07bcbf,#2ec5a4,#4fcc80,#84cb56,#b8c431,#e0bc2a,#fabb3d,#fec736)"></i><i style="height:5px;background:linear-gradient(90deg,#3678fd,#3b73fe,#3e70ff,#3f6efe,#406cfe,#416afe,#4269fe,#4368fe,#4369fe,#416afe,#3f6eff,#3975fe,#317efb,#2d89f5,#2796eb,#20a4e3,#0fb2d5,#0abdbd,#30c5a2,#51cc7f,#86cb54,#b9c430,#e0bc2a,#f9bb3d,#fec636)"></i><i style="height:5px;background:linear-gradient(90deg,#337afd,#3876fe,#3b73fe,#3d71ff,#3e6fff,#3f6efe,#406dfe,#406cfe,#406cfe,#3f6eff,#3c72ff,#3578fd,#2f81fa,#2d8cf3,#2699ea,#1fa6e1,#0bb3d2,#0ebdbb,#31c6a0,#54cc7d,#88cb53,#bac430,#e0bc2b,#f9bb3d,#fec537)"></i><i style="height:5px;background:linear-gradient(90deg,#327cfc,#3578fd,#3875fe,#3a74fe,#3b72ff,#3c71ff,#3d70ff,#3e6fff,#3e70ff,#3c72ff,#3876fe,#327cfc,#2e84f8,#2c8ff1,#259be8,#1da8e0,#08b5d0,#12beb9,#33c69e,#56cc7b,#8acb51,#bbc42f,#e0bc2b,#f9bb3d,#fec437)"></i><i style="height:5px;background:linear-gradient(90deg,#307ffb,#337bfd,#3578fd,#3777fe,#3875fe,#3974fe,#3a74fe,#3a73fe,#3a74fe,#3876fe,#3479fd,#307ffb,#2e87f7,#2b91ef,#249de7,#1caadf,#05b6ce,#16bfb7,#34c79c,#59cc78,#8ccb50,#bcc42f,#e1bc2b,#f9ba3d,#fec438)"></i><i style="height:5px;background:linear-gradient(90deg,#2f81fa,#317dfc,#327bfc,#347afd,#3579fd,#3678fd,#3777fe,#3777fe,#3677fe,#3479fd,#317dfc,#2f83f9,#2d8af4,#2994ed,#239fe5,#1aacdd,#03b7cc,#1ac0b5,#35c799,#5bcc76,#8fcb4e,#bdc32e,#e1bc2b,#f8ba3d,#fec338)"></i><i style="height:5px;background:linear-gradient(90deg,#2e83f9,#3080fa,#317efb,#317dfc,#327cfc,#327bfc,#337bfd,#337bfd,#327bfc,#317dfc,#2f80fa,#2e86f7,#2d8df2,#2797eb,#22a2e4,#18aedb,#01b8c9,#1ec0b2,#37c897,#5ecd74,#91ca4d,#bec32e,#e1bc2b,#f8ba3d,#fec239)"></i><i style="height:5px;background:linear-gradient(90deg,#2e85f8,#2f82f9,#2f81fa,#3080fb,#307ffb,#307efb,#317efb,#317efb,#307ffb,#2f80fa,#2e84f9,#2d89f5,#2b90f0,#2699e9,#20a4e3,#15afd9,#01b9c7,#21c1b0,#39c895,#61cd72,#93ca4b,#bfc32d,#e1bc2b,#f8ba3d,#fec239)"></i><i style="height:5px;background:linear-gradient(90deg,#2d87f6,#2e85f8,#2e83f9,#2f83f9,#2f82f9,#2f82fa,#2f81fa,#2f81fa,#2f82f9,#2e84f9,#2e87f7,#2d8cf3,#2a93ee,#259ce7,#1fa6e2,#12b1d7,#02bac4,#25c2ae,#3bc992,#63cd6f,#95ca49,#c0c32d,#e1bc2b,#f7ba3c,#fec13a)"></i><i style="height:5px;background:linear-gradient(90deg,#2d8af5,#2e87f7,#2e86f7,#2e85f8,#2e85f8,#2e85f8,#2e85f8,#2e85f8,#2e85f8,#2e87f7,#2d8af4,#2c8ff0,#2896eb,#249ee6,#1da8e0,#0eb2d4,#04bbc2,#27c2ab,#3dc990,#66cd6d,#97ca48,#c1c32c,#e2bc2b,#f7ba3c,#fec03b)"></i><i style="height:5px;background:linear-gradient(90deg,#2d8cf3,#2d89f5,#2d88f6,#2d88f6,#2d88f6,#2d88f6,#2d88f6,#2d88f6,#2d89f5,#2d8af4,#2d8df2,#2a92ee,#2699e9,#23a1e4,#1baade,#0ab4d1,#08bcbf,#2ac3a9,#3fca8e,#69cd6b,#99c946,#c3c22b,#e2bc2b,#f6ba3b,#febf3b)"></i><i style="height:5px;background:linear-gradient(90deg,#2c8ef1,#2d8cf3,#2d8bf4,#2d8bf4,#2d8bf4,#2d8bf4,#2d8bf4,#2d8bf4,#2d8cf3,#2c8ef2,#2b91ef,#2895ec,#259be8,#21a3e3,#19acdc,#06b5cf,#0bbdbc,#2cc4a7,#42ca8b,#6ccd68,#9bc945,#c4c22b,#e2bc2b,#f6ba3b,#febf3c)"></i><i style="height:5px;background:linear-gradient(90deg,#2c90f0,#2c8ef1,#2d8ef2,#2d8df2,#2d8df2,#2c8ef2,#2c8ef2,#2c8ef1,#2c8ff1,#2b91ef,#2994ed,#2798ea,#249ee6,#1fa6e2,#17aeda,#03b7cc,#10beba,#2ec4a4,#45cb88,#6fcd66,#9dc943,#c5c22a,#e2bc2b,#f5ba3a,#febe3c)"></i><i style="height:5px;background:linear-gradient(90deg,#2b92ee,#2b90ef,#2c90f0,#2c90f0,#2b90f0,#2b90ef,#2b91ef,#2b91ef,#2b92ee,#2994ed,#2797eb,#259be8,#23a1e5,#1da8e0,#13b0d8,#01b8c9,#16bfb7,#30c5a1,#48cb86,#72cd64,#9fc942,#c6c22a,#e2bc2b,#f5ba3a,#fdbd3d)"></i><i style="height:5px;background:linear-gradient(90deg,#2994ed,#2a93ee,#2a92ee,#2a93ee,#2a93ee,#2a93ed,#2994ed,#2994ed,#2895ec,#2797eb,#2699e9,#249de6,#21a3e3,#1baade,#10b2d5,#01b9c6,#1ac0b4,#32c69f,#4bcb83,#75cc61,#a1c840,#c6c22a,#e2bc2b,#f4ba39,#fcbd3d)"></i><i style="height:5px;background:linear-gradient(90deg,#2896eb,#2895ec,#2995ec,#2895ec,#2895ec,#2896eb,#2796eb,#2797eb,#2798ea,#269ae9,#259ce7,#23a0e5,#1fa6e2,#19acdc,#0bb3d2,#02bac4,#1fc0b2,#34c79c,#4fcc81,#78cc5f,#a3c83f,#c7c12a,#e2bc2b,#f3ba39,#fbbc3d)"></i><i style="height:5px;background:linear-gradient(90deg,#2798ea,#2797eb,#2797eb,#2797ea,#2798ea,#2699ea,#2699e9,#269ae9,#269be8,#259ce7,#249fe5,#21a3e3,#1da8e0,#17aeda,#07b5cf,#05bbc1,#23c1af,#35c79a,#52cc7e,#7bcc5d,#a5c83d,#c8c129,#e2bc2b,#f3ba38,#fabb3d)"></i><i style="height:5px;background:linear-gradient(90deg,#269ae8,#2699e9,#2699e9,#269ae9,#269ae8,#259be8,#259ce7,#259ce7,#249de6,#249fe5,#22a2e4,#1fa5e2,#1baade,#13b0d7,#04b6cc,#09bcbe,#26c2ac,#37c897,#55cc7b,#7ecc5b,#a7c73c,#c9c129,#e2bc2b,#f2ba38,#f9bb3d)"></i><i style="height:5px;background:linear-gradient(90deg,#259ce7,#259be8,#259be7,#259ce7,#259de7,#249ee6,#249ee6,#249fe5,#23a0e5,#22a2e4,#20a4e3,#1da8e0,#19addc,#0fb2d5,#01b8c9,#0ebdbb,#29c3aa,#3ac994,#59cc79,#81cc59,#a8c73b,#c9c129,#e2bc2b,#f1ba37,#f8ba3d)"></i><i style="height:5px;background:linear-gradient(90deg,#249ee6,#249de6,#249ee6,#249ee6,#249fe5,#23a0e5,#23a1e4,#22a1e4,#21a3e4,#20a4e3,#1ea7e1,#1baade,#16afda,#0ab4d2,#01b9c6,#13beb8,#2cc4a7,#3cc991,#5ccc76,#83cc57,#aac73a,#cac129,#e2bc2b,#f0ba36,#f7ba3c)"></i></div>
<div class="p" style="left:1573.5px;top:919.3px;width:629.5px;height:629.3px"><i style="height:5px;background:linear-gradient(90deg,#acc738,#88cb53,#63cd70,#43ca8a,#31c6a0,#21c1b0,#09bcbe,#01b8c9,#09b4d1,#10b2d5,#12b1d7,#10b2d5,#07b5d0,#01b9c7,#0ebebb,#28c2ab,#38c896,#57cc7a,#83cc57,#b2c635,#dbbd29,#fabb3d,#fdce31,#f5e327,#f8f719)"></i><i style="height:5px;background:linear-gradient(90deg,#a7c73c,#82cc58,#5ecc74,#3fca8e,#2fc5a3,#1cc0b4,#04bbc1,#03b7cc,#0db3d3,#14b0d8,#15afd9,#13b0d7,#0cb3d3,#01b8ca,#09bdbe,#25c2ae,#36c799,#53cc7d,#7ecc5b,#adc638,#d7be28,#f8ba3d,#fdcc32,#f5e128,#f7f51b)"></i><i style="height:5px;background:linear-gradient(90deg,#a1c840,#7ccc5c,#58cc79,#3bc992,#2cc4a6,#16bfb7,#02bac4,#06b5cf,#12b1d6,#17aeda,#18addb,#16afda,#10b2d5,#04b6cd,#05bbc1,#20c1b1,#33c79d,#4ecc81,#79cc5f,#a8c73b,#d4bf27,#f5ba3b,#feca33,#f6df29,#f7f31d)"></i><i style="height:5px;background:linear-gradient(90deg,#9bc945,#76cc61,#53cc7d,#38c896,#29c3aa,#10beba,#01b9c7,#0ab4d2,#15afd9,#19acdc,#1aabdd,#19addc,#14b0d8,#07b5d0,#02bac3,#1cc0b4,#31c6a0,#49cb85,#73cd63,#a4c83e,#d0c027,#f2ba38,#fec835,#f6dd29,#f6f11e)"></i><i style="height:5px;background:linear-gradient(90deg,#95ca49,#6fcd66,#4dcc82,#35c79a,#26c2ad,#0bbdbd,#01b8ca,#0fb2d4,#18aedb,#1baade,#1ca9df,#1babde,#17aeda,#0bb3d2,#01b9c6,#17bfb6,#2fc5a3,#45cb89,#6ecd67,#9fc942,#ccc028,#f0ba36,#fec636,#f7db2a,#f6ef20)"></i><i style="height:5px;background:linear-gradient(90deg,#8fcb4e,#69cd6a,#48cb86,#33c69d,#21c1b0,#06bcc0,#04b6cd,#13b0d7,#1aacdd,#1da8e0,#1ea7e1,#1da9e0,#19addc,#0fb2d5,#01b8c9,#11beb9,#2dc4a6,#41ca8d,#69cd6b,#9ac946,#c8c129,#edba33,#fec437,#f8d92b,#f5ee21)"></i><i style="height:5px;background:linear-gradient(90deg,#88cb53,#63cd6f,#43ca8a,#30c5a1,#1cc0b3,#02bbc3,#07b5d0,#16afd9,#1caadf,#1fa6e1,#1fa5e2,#1ea7e1,#1babde,#13b0d7,#03b7cc,#0cbdbc,#2ac3a9,#3dc990,#64cd6f,#95ca4a,#c3c22b,#eabb30,#fec239,#f9d72c,#f5ec22)"></i><i style="height:5px;background:linear-gradient(90deg,#82cc58,#5ecc74,#3eca8f,#2ec4a5,#17bfb7,#01b9c6,#0cb3d3,#19addc,#1ea8e1,#20a4e3,#21a3e3,#20a5e3,#1da9e0,#16afda,#06b5cf,#07bcbf,#27c2ac,#3ac994,#5fcd73,#8fca4d,#bfc32d,#e7bb2d,#fec03a,#fad52d,#f5ea24)"></i><i style="height:5px;background:linear-gradient(90deg,#7bcc5d,#58cc79,#3bc993,#2bc3a8,#10beba,#01b8c9,#11b1d6,#1babde,#1fa5e2,#22a2e4,#23a1e4,#21a2e4,#1ea7e1,#19addc,#09b4d1,#04bbc2,#23c1af,#37c897,#5acc77,#8acb51,#bbc430,#e3bc2c,#febf3c,#fbd32e,#f5e825)"></i><i style="height:5px;background:linear-gradient(90deg,#75cc61,#52cc7e,#37c897,#27c2ab,#0abdbd,#03b7cc,#14b0d8,#1da9e0,#21a3e3,#23a0e5,#249fe6,#23a0e5,#20a5e3,#1babde,#0eb2d4,#02bac5,#1fc0b2,#35c79a,#55cc7b,#85cb55,#b6c532,#e0bc2a,#fdbd3d,#fbd12f,#f5e625)"></i><i style="height:5px;background:linear-gradient(90deg,#6ecd67,#4ccb83,#35c79b,#23c1af,#06bcc0,#07b5cf,#18aedb,#1ea7e1,#23a1e4,#249de6,#259ce7,#249ee6,#22a2e4,#1ca9e0,#12b1d6,#01b9c8,#1ac0b5,#33c69e,#51cc7f,#80cc59,#b2c635,#ddbd29,#fbbc3d,#fccf30,#f5e526)"></i><i style="height:5px;background:linear-gradient(90deg,#68cd6c,#47cb87,#32c69f,#1ec0b2,#02bac3,#0bb3d2,#1aacdd,#20a4e3,#249ee6,#259be8,#269ae9,#259ce7,#23a0e5,#1ea7e1,#15afd9,#01b8ca,#15bfb7,#31c5a1,#4ccb83,#7bcc5d,#aec637,#d9bd28,#fabb3d,#fdce31,#f5e327)"></i><i style="height:5px;background:linear-gradient(90deg,#62cd71,#42ca8c,#2fc5a2,#19bfb5,#01b9c7,#10b2d5,#1caadf,#22a2e4,#259ce7,#2699ea,#2798ea,#2699e9,#249ee6,#20a5e2,#18aedb,#04b6cd,#10beba,#2ec5a4,#48cb86,#76cc61,#a9c73a,#d6be28,#f8ba3d,#fdcc32,#f6e128)"></i><i style="height:5px;background:linear-gradient(90deg,#5ccc76,#3dca90,#2dc4a6,#12beb9,#01b8ca,#14b0d8,#1ea8e1,#23a0e5,#269ae9,#2896eb,#2895ec,#2797eb,#259ce7,#21a3e3,#1aacdd,#07b5cf,#0bbdbd,#2cc4a7,#44cb8a,#71cd65,#a4c83e,#d2bf27,#f5ba3a,#feca33,#f6df29)"></i><i style="height:5px;background:linear-gradient(90deg,#56cc7b,#3ac994,#29c3a9,#0cbdbc,#04b6cd,#17aeda,#1fa5e2,#249de6,#2797ea,#2994ed,#2a93ee,#2995ec,#2699e9,#23a1e4,#1caadf,#0bb4d2,#07bcc0,#29c3a9,#40ca8d,#6ccd68,#a0c841,#cfc028,#f3ba38,#fec834,#f6dd29)"></i><i style="height:5px;background:linear-gradient(90deg,#50cc80,#36c898,#26c2ad,#07bcbf,#07b5d0,#19acdc,#21a3e3,#259be8,#2995ec,#2b91ef,#2c90f0,#2b92ee,#2797eb,#249fe6,#1da8e0,#0fb2d4,#03bbc2,#26c2ac,#3dc991,#67cd6c,#9bc944,#cbc129,#f0ba36,#fec736,#f7dc2a)"></i><i style="height:5px;background:linear-gradient(90deg,#4acb84,#34c79c,#21c1b0,#03bbc3,#0cb3d3,#1baadf,#23a1e4,#2699ea,#2a92ee,#2c8ef1,#2d8df2,#2c90f0,#2995ec,#259ce7,#1fa6e2,#13b1d7,#02bac5,#23c1af,#3ac994,#63cd70,#97ca48,#c7c129,#edba34,#fec537,#f8da2b)"></i><i style="height:5px;background:linear-gradient(90deg,#45cb89,#31c6a0,#1cc0b4,#01b9c6,#11b1d6,#1da8e0,#249ee6,#2896eb,#2c90f0,#2d8cf3,#2d8bf4,#2d8df2,#2a92ee,#269ae8,#20a4e3,#15afd9,#01b9c7,#1fc0b1,#37c897,#5ecd74,#92ca4b,#c4c22b,#ebba31,#fec338,#f9d82c)"></i><i style="height:5px;background:linear-gradient(90deg,#3fca8e,#2ec5a4,#16bfb7,#01b8c9,#14b0d8,#1fa6e2,#259ce7,#2994ed,#2d8df2,#2d89f5,#2d88f6,#2d8af4,#2c90f0,#2798ea,#22a2e4,#18addb,#01b8ca,#1bc0b4,#35c79a,#5acc77,#8ecb4f,#c0c32d,#e8bb2f,#fec239,#f9d62d)"></i><i style="height:5px;background:linear-gradient(90deg,#3cc992,#2cc4a7,#0fbeba,#03b7cc,#18aedb,#21a3e3,#269ae9,#2b91ef,#2d8af4,#2e86f7,#2e85f8,#2d88f6,#2d8df2,#2896eb,#23a0e5,#1aacdd,#04b6cc,#17bfb7,#33c79d,#56cc7b,#89cb52,#bcc42f,#e6bb2d,#fec03a,#fad52e)"></i><i style="height:5px;background:linear-gradient(90deg,#38c896,#28c2ab,#09bdbe,#06b5cf,#1aacdd,#22a1e4,#2797eb,#2c8ef1,#2d88f6,#2e84f9,#2e83f9,#2e85f8,#2d8bf4,#2994ed,#249ee6,#1baadf,#06b5cf,#12beb9,#31c6a0,#52cc7e,#85cb55,#b9c431,#e3bc2c,#febf3c,#fbd32e)"></i><i style="height:5px;background:linear-gradient(90deg,#35c79a,#24c1ae,#05bbc1,#0bb4d2,#1caadf,#249fe6,#2995ec,#2d8cf3,#2e85f8,#2f81fa,#3080fa,#2f83f9,#2d89f6,#2b91ef,#259ce7,#1da8e0,#09b4d1,#0dbdbc,#2fc5a2,#4ecc81,#81cc59,#b5c533,#e0bc2a,#febd3c,#fbd22f)"></i><i style="height:5px;background:linear-gradient(90deg,#32c69e,#1fc0b2,#02bac4,#0fb2d5,#1ea8e1,#259ce7,#2b92ee,#2d89f5,#2f82fa,#317efb,#317dfc,#3080fb,#2e86f7,#2c8ff1,#269ae8,#1ea7e1,#0db3d3,#09bcbe,#2ec4a5,#4acb85,#7ccc5c,#b1c635,#ddbd29,#fcbc3d,#fcd030)"></i><i style="height:5px;background:linear-gradient(90deg,#30c5a2,#19bfb5,#01b9c7,#13b0d7,#1fa5e2,#269ae8,#2c8ff0,#2e86f7,#307ffb,#337bfd,#347afd,#317dfc,#2e83f9,#2d8df2,#2798ea,#20a5e2,#11b1d6,#06bcc0,#2cc4a7,#46cb88,#78cc5f,#adc637,#dbbd28,#fbbc3d,#fccf31)"></i><i style="height:5px;background:linear-gradient(90deg,#2dc4a5,#13beb8,#01b7ca,#17aeda,#21a3e3,#2798ea,#2d8df2,#2e83f9,#327cfc,#3678fe,#3777fe,#347afd,#2f81fa,#2d8af4,#2896eb,#21a3e3,#13b0d8,#02bbc3,#29c3aa,#43ca8a,#73cd62,#aac73a,#d8be28,#f9bb3d,#fdcd31)"></i><i style="height:5px;background:linear-gradient(90deg,#2ac3a9,#0dbdbc,#05b6cd,#19acdc,#23a1e4,#2895ec,#2d8af4,#2f81fa,#3579fd,#3975fe,#3a74fe,#3677fe,#317efb,#2d88f6,#2994ed,#22a1e4,#16afd9,#02bac5,#27c2ac,#40ca8d,#6fcd65,#a6c83c,#d5be28,#f8ba3d,#fdcc32)"></i><i style="height:5px;background:linear-gradient(90deg,#26c2ac,#08bcbf,#08b4d0,#1baade,#249fe6,#2a93ee,#2d88f6,#317efb,#3876fe,#3c71ff,#3d71ff,#3974fe,#327cfc,#2e86f8,#2b92ee,#239fe5,#18addb,#01b9c7,#24c1ae,#3dc990,#6ccd69,#a3c83f,#d2bf27,#f6ba3b,#fdcb33)"></i><i style="height:5px;background:linear-gradient(90deg,#22c1b0,#04bbc2,#0db3d3,#1da8e0,#259ce7,#2b90f0,#2e85f8,#337bfd,#3b73fe,#3f6eff,#3f6efe,#3c71ff,#3579fd,#2e83f9,#2c90f0,#249ee6,#1aacdd,#01b8c9,#21c1b0,#3bc993,#68cd6c,#9fc941,#d0c028,#f4ba39,#fec934)"></i><i style="height:5px;background:linear-gradient(90deg,#1dc0b3,#01bac5,#11b1d6,#1fa6e2,#269ae9,#2c8ef2,#2f82f9,#3678fe,#3e70ff,#416bfe,#416bfe,#3f6eff,#3876fe,#2f81fa,#2c8ef2,#259ce7,#1baade,#03b7cb,#1dc0b3,#39c895,#64cd6f,#9cc944,#cdc028,#f2ba38,#fec835)"></i><i style="height:5px;background:linear-gradient(90deg,#17bfb6,#01b8c8,#15afd8,#20a4e3,#2798ea,#2d8bf4,#307ffb,#3975fe,#406dfe,#4368fe,#4368fe,#416cfe,#3a73fe,#307ffb,#2d8cf3,#269ae8,#1da9e0,#05b6cd,#1ac0b5,#37c898,#61cd71,#98c947,#cac129,#f0ba36,#fec736)"></i><i style="height:5px;background:linear-gradient(90deg,#11beba,#02b7cb,#18aedb,#22a2e4,#2895ec,#2d88f6,#327cfc,#3c71ff,#426afe,#4466fd,#4465fd,#4269fe,#3d70ff,#327cfc,#2d8af5,#2698ea,#1ea7e1,#07b5cf,#16bfb7,#35c79a,#5ecc74,#95ca49,#c8c129,#eeba34,#fec636)"></i><i style="height:5px;background:linear-gradient(90deg,#0bbdbd,#05b6ce,#1aacdd,#23a0e5,#2a93ee,#2e86f7,#3479fd,#3f6eff,#4367fd,#4563fc,#4562fc,#4466fd,#3f6efe,#347afd,#2d88f6,#2797eb,#1fa6e2,#09b4d1,#12beb9,#34c79c,#5acc77,#92ca4c,#c5c22a,#edba33,#fec437)"></i><i style="height:5px;background:linear-gradient(90deg,#06bcc0,#09b4d1,#1caadf,#249de6,#2b90ef,#2e83f9,#3776fe,#416bfe,#4564fd,#4660fb,#4660fb,#4563fd,#416bfe,#3777fe,#2e85f8,#2895ec,#20a5e3,#0cb3d3,#0fbebb,#32c69e,#57cc7a,#8ecb4e,#c2c22c,#ebba31,#fec338)"></i><i style="height:5px;background:linear-gradient(90deg,#02bbc3,#0db3d4,#1da8e0,#259be8,#2c8ef1,#2f81fa,#3a73fe,#4369fe,#4561fc,#465dfa,#465dfa,#4561fc,#4369fe,#3975fe,#2e83f9,#2a93ed,#21a3e3,#0fb2d5,#0bbdbd,#31c6a0,#54cc7c,#8bcb51,#c0c32d,#e9bb30,#fec239)"></i><i style="height:5px;background:linear-gradient(90deg,#01b9c6,#12b1d6,#1fa6e2,#2699e9,#2d8bf3,#317efb,#3d70ff,#4466fd,#465efb,#475bf9,#475bf9,#465efb,#4466fd,#3b72ff,#2f81fa,#2b91ef,#22a2e4,#12b1d6,#09bcbe,#2fc5a2,#52cc7e,#88cb53,#bdc32e,#e7bb2e,#fec13a)"></i><i style="height:5px;background:linear-gradient(90deg,#01b8c9,#15afd8,#20a4e3,#2797eb,#2d89f5,#337bfc,#3f6efe,#4563fd,#475cfa,#4758f8,#4758f8,#475cfa,#4564fd,#3e70ff,#307ffb,#2c90f0,#23a0e5,#14b0d8,#06bcc0,#2ec4a4,#4fcc81,#85cb55,#bbc42f,#e6bb2d,#fec03a)"></i><i style="height:5px;background:linear-gradient(90deg,#03b7cc,#18aedb,#22a2e4,#2995ec,#2e87f7,#3578fd,#416bfe,#4660fc,#4759f8,#4755f6,#4755f6,#475af9,#4561fc,#3f6dfe,#317dfc,#2c8ef1,#249fe6,#16afd9,#04bbc2,#2dc4a6,#4ccb83,#82cc57,#b9c431,#e4bb2c,#fec03b)"></i><i style="height:5px;background:linear-gradient(90deg,#06b5ce,#1aacdd,#23a0e5,#2a92ee,#2e84f8,#3875fe,#4368fe,#465efb,#4757f7,#4853f5,#4853f5,#4757f7,#465ffb,#416bfe,#327bfc,#2d8cf3,#249de6,#17aedb,#02bac3,#2bc3a7,#4acb85,#80cc59,#b6c532,#e2bc2b,#febf3c)"></i><i style="height:5px;background:linear-gradient(90deg,#09b4d1,#1baadf,#249ee6,#2c90f0,#2f82fa,#3b73fe,#4465fd,#475bf9,#4854f5,#4850f3,#4851f3,#4755f6,#465dfa,#4269fe,#3479fd,#2d8bf4,#259ce7,#19addc,#02bac5,#2ac3a9,#47cb87,#7dcc5b,#b4c533,#e1bc2b,#febe3c)"></i><i style="height:5px;background:linear-gradient(90deg,#0db3d3,#1da8e0,#259ce7,#2c8ef2,#307ffb,#3e70ff,#4563fc,#4759f8,#4851f4,#484ef1,#484ef1,#4853f4,#475bf9,#4367fd,#3677fe,#2d89f5,#259be8,#1aacdd,#01b9c6,#28c3ab,#45cb88,#7acc5d,#b2c535,#dfbc2a,#fdbd3d)"></i><i style="height:5px;background:linear-gradient(90deg,#11b1d6,#1fa6e1,#269ae9,#2d8cf3,#317dfc,#406dfe,#4660fc,#4756f7,#484ff2,#484bef,#484cef,#4850f3,#4759f8,#4465fd,#3875fe,#2d88f6,#269ae9,#1babde,#01b9c8,#27c2ac,#43ca8a,#78cc5f,#b0c636,#debd29,#fdbd3d)"></i><i style="height:5px;background:linear-gradient(90deg,#14b0d8,#20a5e3,#2798ea,#2d89f5,#347afd,#416bfe,#465efb,#4854f5,#484df0,#4849ed,#4849ed,#484ef1,#4757f7,#4563fd,#3a73fe,#2e86f7,#2698ea,#1caadf,#01b8c9,#25c2ad,#41ca8c,#76cc61,#aec637,#ddbd29,#fcbc3d)"></i><i style="height:5px;background:linear-gradient(90deg,#17aeda,#21a3e4,#2895ec,#2e87f7,#3677fe,#4368fe,#475bf9,#4851f3,#484aee,#4747eb,#4747eb,#484cef,#4755f6,#4561fc,#3c72ff,#2e85f8,#2797eb,#1da9e0,#02b7ca,#24c1af,#40ca8d,#73cd62,#acc738,#dbbd29,#fbbc3d)"></i><i style="height:5px;background:linear-gradient(90deg,#19acdc,#23a1e4,#2a93ed,#2e85f8,#3975fe,#4466fd,#4759f8,#484ff2,#4848ec,#4744e8,#4745e9,#484aee,#4853f5,#465ffb,#3e70ff,#2e83f9,#2896eb,#1da8e0,#03b7cc,#22c1b0,#3eca8f,#71cd64,#abc739,#dabd28,#fbbc3d)"></i><i style="height:5px;background:linear-gradient(90deg,#1babde,#249fe5,#2b91ef,#2e83f9,#3b72fe,#4563fd,#4757f7,#484cf0,#4745ea,#4742e6,#4743e7,#4848ec,#4851f3,#465efb,#3f6eff,#2f82fa,#2895ec,#1ea7e1,#04b6cd,#20c1b1,#3dc990,#6fcd66,#a9c73b,#d9be28,#fabb3d)"></i><i style="height:5px;background:linear-gradient(90deg,#1ca9df,#249de7,#2c8ff0,#2f80fa,#3e70ff,#4561fc,#4854f6,#484aee,#4743e7,#4740e3,#4741e5,#4746ea,#484ff2,#475cfa,#406cfe,#2f80fa,#2994ed,#1fa6e2,#05b6ce,#1ec0b2,#3cc992,#6dcd67,#a7c73c,#d8be28,#fabb3d)"></i><i style="height:5px;background:linear-gradient(90deg,#1ea8e1,#259be8,#2d8df2,#317efb,#3f6efe,#465ffb,#4852f4,#4848ec,#4741e5,#463ee1,#473fe2,#4744e8,#484df1,#475af9,#416bfe,#307ffb,#2a93ee,#1fa5e2,#06b5cf,#1cc0b3,#3bc993,#6ccd68,#a6c83d,#d6be28,#f9bb3d)"></i><i style="height:5px;background:linear-gradient(90deg,#1fa6e2,#2699e9,#2d8bf3,#327cfc,#416bfe,#475cfa,#4850f3,#4746ea,#473fe2,#463cde,#463ddf,#4742e6,#484cef,#4759f8,#4269fe,#317efb,#2b92ee,#20a5e3,#07b5d0,#1bc0b4,#3ac994,#6acd6a,#a4c83e,#d6be28,#f9ba3d)"></i><i style="height:5px;background:linear-gradient(90deg,#20a4e3,#2798ea,#2d8af5,#347afd,#4269fe,#475af9,#484ef1,#4744e8,#463ddf,#463adb,#463bdd,#4740e4,#484aee,#4757f7,#4368fe,#317dfc,#2b91ef,#21a4e3,#09b4d1,#19bfb5,#39c895,#69cd6b,#a3c83f,#d5be28,#f8ba3d)"></i><i style="height:5px;background:linear-gradient(90deg,#21a3e4,#2896eb,#2d88f6,#3678fe,#4367fd,#4758f8,#484cef,#4742e6,#463bdd,#4538d8,#4639da,#473fe2,#4848ec,#4756f7,#4367fd,#327bfc,#2c90f0,#21a3e3,#0ab4d2,#18bfb6,#38c896,#68cd6c,#a2c83f,#d4bf28,#f8ba3d)"></i><i style="height:5px;background:linear-gradient(90deg,#23a1e4,#2994ed,#2e86f8,#3875fe,#4465fd,#4756f7,#484aee,#4740e3,#4639da,#4537d5,#4538d7,#463de0,#4747eb,#4855f6,#4465fd,#337afd,#2c8ff1,#22a2e4,#0bb3d2,#16bfb7,#37c897,#66cd6d,#a1c840,#d3bf27,#f7ba3c)"></i><i style="height:5px;background:linear-gradient(90deg,#239fe5,#2a93ee,#2e84f9,#3a73fe,#4563fc,#4854f6,#4848ec,#463ee1,#4538d7,#4435d2,#4536d4,#463bde,#4745ea,#4853f5,#4464fd,#3579fd,#2c8ef1,#22a2e4,#0db3d3,#15bfb8,#37c898,#65cd6e,#a0c841,#d2bf27,#f7ba3c)"></i><i style="height:5px;background:linear-gradient(90deg,#249ee6,#2b91ef,#2f82f9,#3c71ff,#4561fc,#4853f4,#4746ea,#463cde,#4536d4,#4434ce,#4435d1,#463adb,#4744e8,#4852f4,#4563fd,#3678fd,#2d8df2,#22a1e4,#0eb2d4,#13beb8,#36c898,#64cd6f,#9fc941,#d2bf27,#f7ba3c)"></i><i style="height:5px;background:linear-gradient(90deg,#259ce7,#2c8ff0,#2f80fa,#3e6fff,#465ffb,#4851f3,#4744e8,#463adc,#4435d0,#4433cb,#4434ce,#4539d9,#4743e7,#4851f3,#4562fc,#3777fe,#2d8df2,#23a1e5,#0fb2d4,#12beb9,#36c899,#63cd6f,#9ec942,#d1bf27,#f6ba3b)"></i><i style="height:5px;background:linear-gradient(90deg,#259be8,#2c8ef2,#307ffb,#3f6dfe,#465dfb,#484ff2,#4742e6,#4539d9,#4433cd,#4331c8,#4433cb,#4538d7,#4741e5,#4850f2,#4561fc,#3776fe,#2d8cf3,#23a0e5,#10b2d5,#11beb9,#35c799,#63cd70,#9ec942,#d1bf27,#f6ba3b)"></i><i style="height:5px;background:linear-gradient(90deg,#2699e9,#2d8cf3,#317dfc,#416cfe,#475cfa,#484df1,#4741e5,#4537d6,#4332ca,#4330c5,#4332c9,#4537d5,#4740e4,#484ff2,#4660fc,#3875fe,#2d8bf3,#23a0e5,#11b2d5,#10beba,#35c79a,#62cd70,#9dc943,#d1bf27,#f6ba3b)"></i><i style="height:5px;background:linear-gradient(90deg,#2798ea,#2d8af4,#337bfc,#426afe,#475af9,#484cef,#473fe3,#4536d4,#4331c7,#422fc2,#4331c6,#4536d2,#473fe3,#484ef1,#465ffb,#3975fe,#2d8bf4,#249fe5,#11b1d6,#0fbeba,#35c79a,#62cd71,#9dc943,#d0bf27,#f6ba3b)"></i><i style="height:5px;background:linear-gradient(90deg,#2797eb,#2d89f5,#3479fd,#4368fe,#4759f8,#484aee,#463ee1,#4435d1,#4330c4,#422ebf,#4230c4,#4435d0,#473ee1,#484df0,#465ffb,#3a74fe,#2d8af4,#249fe6,#12b1d6,#0fbebb,#35c79b,#61cd71,#9dc943,#d0bf27,#f6ba3b)"></i><i style="height:5px;background:linear-gradient(90deg,#2895ec,#2d88f6,#3678fe,#4367fd,#4757f7,#4849ed,#463cdf,#4434ce,#422fc2,#412dbd,#422fc1,#4434ce,#463de0,#484cf0,#465efb,#3a73fe,#2d8af5,#249ee6,#12b1d7,#0ebdbb,#34c79b,#61cd71,#9cc943,#d0bf27,#f6ba3b)"></i><i style="height:5px;background:linear-gradient(90deg,#2994ed,#2e86f7,#3776fe,#4465fd,#4756f6,#4747ec,#463bdd,#4433cc,#422ebf,#412cbb,#422ebf,#4433cd,#463ddf,#484bef,#465dfb,#3b73fe,#2d89f5,#249ee6,#12b1d7,#0ebdbb,#34c79b,#61cd72,#9cc943,#d0bf27,#f6ba3b)"></i><i style="height:5px;background:linear-gradient(90deg,#2a93ee,#2e85f8,#3975fe,#4564fd,#4855f6,#4746ea,#463adb,#4332ca,#412dbd,#412cb9,#412dbd,#4433cb,#463cde,#484bee,#465dfa,#3b72ff,#2d89f5,#249ee6,#13b1d7,#0dbdbb,#34c79b,#61cd72,#9cc943,#d0bf27,#f6ba3b)"></i><i style="height:5px;background:linear-gradient(90deg,#2b91ef,#2e84f9,#3a73fe,#4563fc,#4853f5,#4745e9,#4539d9,#4331c7,#412dbb,#402bb7,#412dbb,#4332c9,#463bdd,#484aee,#475cfa,#3c72ff,#2d89f5,#249ee6,#13b0d7,#0dbdbc,#34c79b,#61cd72,#9cc943,#d1bf27,#f6ba3b)"></i><i style="height:5px;background:linear-gradient(90deg,#2b90f0,#2f82f9,#3b72ff,#4561fc,#4852f4,#4744e8,#4538d7,#4330c5,#412cb9,#402ab5,#412cba,#4331c8,#463bdc,#484aee,#475cfa,#3c71ff,#2d89f6,#249ee6,#13b0d7,#0dbdbc,#34c79b,#61cd72,#9dc943,#d1bf27,#f6ba3c)"></i><i style="height:5px;background:linear-gradient(90deg,#2c8ff0,#2f81fa,#3d71ff,#4660fc,#4851f3,#4743e7,#4537d6,#4230c3,#402bb7,#402ab3,#412cb8,#4331c7,#463adb,#4849ed,#475cfa,#3c71ff,#2d88f6,#249ee6,#13b0d7,#0dbdbc,#34c79b,#61cd71,#9dc943,#d1bf27,#f7ba3c)"></i><i style="height:5px;background:linear-gradient(90deg,#2c8ef1,#2f80fa,#3e70ff,#465ffb,#4850f3,#4742e6,#4536d4,#422fc1,#402ab5,#3f29b1,#402bb7,#4331c6,#463adb,#4849ed,#475bfa,#3c71ff,#2d88f6,#249ee6,#13b0d7,#0dbdbc,#34c79b,#61cd71,#9dc943,#d2bf27,#f7ba3c)"></i><i style="height:5px;background:linear-gradient(90deg,#2d8df2,#307ffb,#3f6fff,#465efb,#484ff2,#4741e5,#4536d3,#422ec0,#402ab4,#3f29b0,#402bb6,#4330c5,#463ada,#4849ed,#475bf9,#3d71ff,#2d88f6,#249ee6,#13b0d7,#0dbdbb,#34c79b,#62cd71,#9ec942,#d2bf27,#f7ba3c)"></i><i style="height:5px;background:linear-gradient(90deg,#2d8cf3,#317efb,#3f6efe,#465dfb,#484ef1,#4740e4,#4435d1,#422ebf,#4029b3,#3f28af,#402ab5,#4230c4,#4639da,#4848ec,#475bf9,#3d71ff,#2d88f6,#249ee6,#13b0d7,#0ebdbb,#35c79b,#62cd70,#9ec942,#d3bf27,#f8ba3d)"></i><i style="height:5px;background:linear-gradient(90deg,#2d8bf3,#317dfc,#406dfe,#475dfa,#484df1,#473fe3,#4435d0,#412ebd,#3f29b1,#3f28ae,#402ab4,#4230c3,#4639d9,#4848ec,#475bf9,#3d71ff,#2d88f6,#249ee6,#13b1d7,#0ebdbb,#35c79a,#63cd70,#9fc941,#d3bf27,#f8ba3d)"></i><i style="height:5px;background:linear-gradient(90deg,#2d8bf4,#327cfc,#406cfe,#475cfa,#484df0,#473fe2,#4434cf,#412dbc,#3f29b0,#3f28ad,#402ab4,#4230c3,#4639d9,#4848ec,#475bf9,#3d71ff,#2d89f6,#249ee6,#12b1d7,#0fbebb,#35c79a,#63cd6f,#a0c841,#d4bf28,#f9ba3d)"></i><i style="height:5px;background:linear-gradient(90deg,#2d8af5,#327cfc,#416bfe,#475bf9,#484cf0,#473ee1,#4434ce,#412dbb,#3f29b0,#3e28ac,#402ab3,#4230c3,#4639d9,#4848ec,#475bf9,#3c71ff,#2d89f5,#249ee6,#12b1d7,#0fbeba,#35c79a,#64cd6f,#a1c840,#d5be28,#f9bb3d)"></i><i style="height:5px;background:linear-gradient(90deg,#2d89f5,#337bfc,#416afe,#475bf9,#484cef,#463ee1,#4433cd,#412dbb,#3f28af,#3e27ac,#402ab3,#4230c3,#4639d9,#4848ec,#475bfa,#3c71ff,#2d89f5,#249ee6,#12b1d6,#10beba,#36c799,#65cd6e,#a2c840,#d5be28,#fabb3d)"></i><i style="height:5px;background:linear-gradient(90deg,#2d89f6,#337afd,#426afe,#475af9,#484bef,#463de0,#4433cd,#412cba,#3f28af,#3e27ac,#402ab3,#4230c3,#4639d9,#4849ed,#475cfa,#3c72ff,#2d89f5,#249ee6,#11b1d6,#11beba,#36c898,#66cd6d,#a3c83f,#d6be28,#fabb3d)"></i><i style="height:5px;background:linear-gradient(90deg,#2d88f6,#347afd,#4269fe,#475af9,#484bef,#463de0,#4433cc,#412cba,#3f28af,#3e27ac,#402ab3,#4230c3,#4639da,#4849ed,#475cfa,#3c72ff,#2d89f5,#249fe6,#11b1d6,#12beb9,#37c898,#67cd6c,#a4c83e,#d7be28,#fbbc3d)"></i><i style="height:5px;background:linear-gradient(90deg,#2d88f6,#3479fd,#4269fe,#4759f9,#484bee,#463de0,#4433cc,#412cba,#3f28af,#3e27ac,#402ab3,#4230c4,#463ada,#4849ed,#475cfa,#3b72fe,#2d8af5,#249fe5,#10b2d5,#13beb8,#37c897,#68cd6b,#a5c83d,#d8be28,#fbbc3d)"></i><i style="height:5px;background:linear-gradient(90deg,#2e87f7,#3579fd,#4369fe,#4759f8,#484aee,#463ddf,#4433cc,#412cba,#3f28af,#3e28ac,#402ab4,#4230c4,#463adb,#484aed,#475dfa,#3b73fe,#2d8af4,#23a0e5,#0fb2d5,#14beb8,#38c896,#69cd6a,#a7c73c,#d9bd28,#fcbc3d)"></i><i style="height:5px;background:linear-gradient(90deg,#2e87f7,#3579fd,#4368fe,#4759f8,#484aee,#463ddf,#4433cc,#412cba,#3f28af,#3f28ad,#402ab5,#4330c5,#463adb,#484aee,#465dfa,#3a73fe,#2d8bf4,#23a0e5,#0eb2d4,#15bfb7,#38c896,#6bcd69,#a8c73b,#dabd28,#fcbd3d)"></i><i style="height:5px;background:linear-gradient(90deg,#2e87f7,#3578fd,#4368fe,#4759f8,#484aee,#463ddf,#4433cc,#412cbb,#3f29b0,#3f28ae,#402ab5,#4331c6,#463bdc,#484bee,#465efb,#3a74fe,#2d8bf3,#23a0e5,#0db3d3,#17bfb7,#39c995,#6ccd68,#a9c73a,#dcbd29,#fdbd3d)"></i><i style="height:5px;background:linear-gradient(90deg,#2e86f7,#3578fd,#4368fe,#4759f8,#484aee,#463de0,#4433cc,#412dbb,#3f29b1,#3f28af,#402bb6,#4331c7,#463bdd,#484bef,#465efb,#3975fe,#2d8cf3,#23a1e4,#0cb3d3,#18bfb6,#3ac994,#6ecd67,#abc739,#ddbd29,#febd3c)"></i><i style="height:5px;background:linear-gradient(90deg,#2e86f7,#3578fd,#4368fe,#4759f8,#484bee,#463de0,#4433cd,#412dbc,#3f29b2,#3f29b0,#402bb8,#4331c8,#463cde,#484cef,#465ffb,#3875fe,#2d8cf3,#22a1e4,#0bb3d2,#19bfb5,#3bc993,#6fcd66,#acc738,#debd29,#febe3c)"></i><i style="height:5px;background:linear-gradient(90deg,#2e86f7,#3578fd,#4368fe,#4759f8,#484bee,#463de0,#4434ce,#412dbd,#402ab3,#3f29b1,#412cb9,#4332c9,#463cdf,#484cf0,#465ffb,#3876fe,#2d8df2,#22a2e4,#0ab4d1,#1bc0b4,#3cc992,#71cd64,#aec637,#dfbc2a,#febf3c)"></i><i style="height:5px;background:linear-gradient(90deg,#2e86f7,#3578fd,#4368fe,#4759f9,#484bef,#463ee1,#4434cf,#412ebe,#402ab4,#4029b2,#412cba,#4433cb,#463de0,#484df1,#4660fc,#3777fe,#2c8ef2,#21a3e4,#09b4d1,#1cc0b3,#3dc990,#73cd63,#b0c636,#e0bc2b,#febf3b)"></i><i style="height:5px;background:linear-gradient(90deg,#2e86f7,#3578fd,#4369fe,#475af9,#484bef,#473ee1,#4434d0,#422ebf,#402ab5,#402ab4,#412dbc,#4433cc,#463ee1,#484ef1,#4561fc,#3678fe,#2c8ef1,#21a3e3,#07b5d0,#1ec0b2,#3eca8f,#75cc61,#b1c635,#e2bc2b,#fec03b)"></i><i style="height:5px;background:linear-gradient(90deg,#2e87f7,#3579fd,#4269fe,#475af9,#484cef,#473fe2,#4435d1,#422fc0,#402bb7,#402bb6,#412ebd,#4434ce,#473fe2,#484ff2,#4562fc,#3579fd,#2c8ff0,#20a4e3,#06b5cf,#1fc0b1,#3fca8e,#77cc60,#b3c534,#e3bc2c,#fec13a)"></i><i style="height:5px;background:linear-gradient(90deg,#2e87f7,#3579fd,#4269fe,#475bf9,#484cf0,#473fe3,#4535d2,#422fc2,#412cb9,#402bb7,#422ebf,#4435d0,#4740e3,#4850f2,#4563fc,#347afd,#2c90f0,#20a4e3,#06b6ce,#21c1b0,#40ca8d,#79cc5f,#b5c533,#e4bb2c,#fec239)"></i><i style="height:5px;background:linear-gradient(90deg,#2e87f7,#3479fd,#426afe,#475bf9,#484df0,#4740e4,#4536d3,#4230c4,#412cba,#412cb9,#422fc1,#4435d2,#4741e4,#4851f3,#4564fd,#337bfd,#2b91ef,#1fa5e2,#05b6cd,#22c1af,#42ca8b,#7bcc5d,#b7c532,#e6bb2d,#fec239)"></i><i style="height:5px;background:linear-gradient(90deg,#2d87f6,#347afd,#416afe,#475cfa,#484ef1,#4741e5,#4537d5,#4330c5,#412dbc,#412dbb,#4230c3,#4536d4,#4742e6,#4852f4,#4465fd,#327cfc,#2b92ef,#1fa6e2,#04b6cc,#24c1ae,#44ca8a,#7dcc5b,#b9c431,#e7bb2e,#fec338)"></i><i style="height:5px;background:linear-gradient(90deg,#2d88f6,#337bfd,#416bfe,#475cfa,#484ef1,#4742e6,#4537d6,#4331c7,#422ebe,#412ebe,#4331c6,#4537d6,#4743e7,#4853f5,#4466fd,#317dfc,#2a92ee,#1ea7e1,#02b7cb,#25c2ad,#45cb89,#7fcc5a,#bac430,#e9bb2f,#fec437)"></i><i style="height:5px;background:linear-gradient(90deg,#2d88f6,#327bfc,#416cfe,#465dfa,#484ff2,#4742e7,#4538d8,#4332c9,#422fc1,#422ec0,#4331c8,#4538d7,#4744e8,#4854f5,#4367fd,#317efb,#2a93ed,#1ea7e1,#01b7ca,#26c2ac,#47cb87,#81cc58,#bcc42f,#eaba30,#fec537)"></i><i style="height:5px;background:linear-gradient(90deg,#2d89f5,#327cfc,#406dfe,#465efb,#4850f3,#4743e7,#4639da,#4433cc,#4230c3,#422fc2,#4332ca,#4639d9,#4745e9,#4755f6,#4368fe,#307ffb,#2994ed,#1da8e0,#01b8c9,#28c2ab,#49cb86,#84cc56,#bec32e,#ebba32,#fec636)"></i><i style="height:5px;background:linear-gradient(90deg,#2d8af5,#327dfc,#3f6dfe,#465ffb,#4851f3,#4744e9,#463adb,#4434ce,#4330c5,#4330c5,#4433cd,#463adb,#4746eb,#4756f7,#4269fe,#3080fa,#2895ec,#1da9e0,#01b8c8,#29c3aa,#4acb84,#86cb55,#c0c32d,#edba33,#fec735)"></i><i style="height:4px;background:linear-gradient(90deg,#2d8af4,#317dfc,#3f6eff,#4660fb,#4852f4,#4746ea,#463bdd,#4435d0,#4331c8,#4331c7,#4434cf,#463bdd,#4848ec,#4757f8,#416bfe,#2f81fa,#2896eb,#1caadf,#01b9c7,#2ac3a9,#4dcb82,#88cb53,#c2c22c,#eeba34,#fec835)"></i><i style="height:5px;background:linear-gradient(90deg,#2d8bf4,#317efb,#3e6fff,#4661fc,#4853f5,#4747eb,#463cdf,#4536d3,#4332cb,#4332ca,#4535d2,#463ddf,#4849ed,#4759f8,#416cfe,#2f82f9,#2797eb,#1baade,#01b9c6,#2cc4a7,#4fcc81,#8bcb51,#c4c22b,#f0ba36,#fec934)"></i><i style="height:5px;background:linear-gradient(90deg,#2d8cf3,#307ffb,#3d70ff,#4562fc,#4854f5,#4848ec,#463ee0,#4537d5,#4433cd,#4433cd,#4536d4,#463ee1,#484aee,#475af9,#406dfe,#2e83f9,#2798ea,#1aabdd,#02bac5,#2dc4a6,#51cc7f,#8dcb4f,#c6c22a,#f1ba37,#feca33)"></i><i style="height:5px;background:linear-gradient(90deg,#2d8cf3,#3080fa,#3c71ff,#4563fc,#4755f6,#4849ed,#473fe2,#4538d7,#4435d0,#4434d0,#4538d7,#473fe3,#484cef,#475bfa,#3f6eff,#2e84f8,#2699e9,#1aacdd,#02bac4,#2ec4a5,#53cc7d,#8fca4e,#c8c129,#f2ba38,#fdcb33)"></i><i style="height:5px;background:linear-gradient(90deg,#2d8df2,#2f81fa,#3b73fe,#4564fd,#4757f7,#484aee,#4740e4,#4639d9,#4536d3,#4536d2,#4639d9,#4741e5,#484df0,#475dfa,#3e70ff,#2e86f8,#269ae9,#19addc,#03bbc2,#2fc5a3,#55cc7c,#92ca4c,#cac129,#f4ba39,#fdcc32)"></i><i style="height:5px;background:linear-gradient(90deg,#2c8ef1,#2f82f9,#3a74fe,#4465fd,#4758f8,#484cef,#4742e6,#463adc,#4537d5,#4537d5,#463adc,#4742e6,#484ff1,#465efb,#3c71ff,#2e87f7,#259be8,#18aedb,#05bbc1,#30c5a2,#57cc7a,#94ca4a,#ccc028,#f5ba3a,#fdcd32)"></i><i style="height:5px;background:linear-gradient(90deg,#2c8ff0,#2e83f9,#3975fe,#4366fd,#4759f8,#484df0,#4743e7,#463cde,#4538d8,#4538d8,#463cde,#4744e8,#4850f3,#465ffb,#3b73fe,#2d88f6,#259ce7,#17aeda,#07bcc0,#31c6a0,#5acc78,#97ca48,#cec028,#f6ba3c,#fdce31)"></i><i style="height:5px;background:linear-gradient(90deg,#2b90f0,#2e84f8,#3776fe,#4368fe,#475af9,#484ff2,#4745e9,#463de0,#463ada,#4639da,#463de0,#4745e9,#4851f4,#4561fc,#3974fe,#2d89f5,#259de7,#15afd9,#08bcbf,#32c69f,#5ccc76,#99c946,#d0bf27,#f8ba3d,#fccf31)"></i><i style="height:5px;background:linear-gradient(90deg,#2b91ef,#2e85f8,#3678fe,#4269fe,#475cfa,#4850f3,#4746ea,#473fe2,#463bdd,#463bdd,#473fe2,#4747eb,#4853f5,#4562fc,#3876fe,#2d8af4,#249ee6,#14b0d8,#0abdbd,#33c69e,#5ecd74,#9bc944,#d2bf27,#f9bb3d,#fcd030)"></i><i style="height:5px;background:linear-gradient(90deg,#2a92ee,#2e87f7,#3479fd,#416bfe,#465dfb,#4852f4,#4848ec,#4740e4,#463ddf,#463cdf,#4740e4,#4848ec,#4854f6,#4564fd,#3777fe,#2d8bf3,#249fe6,#13b1d7,#0cbdbc,#34c79c,#60cd72,#9ec942,#d4bf27,#fabb3d,#fcd12f)"></i><i style="height:5px;background:linear-gradient(90deg,#2a93ed,#2d88f6,#337bfd,#406cfe,#465ffb,#4853f5,#4849ed,#4742e6,#473ee1,#463ee1,#4742e6,#484aee,#4756f7,#4465fd,#3579fd,#2d8df2,#23a0e5,#11b1d6,#0fbebb,#35c79b,#62cd70,#a0c841,#d6be28,#fbbc3d,#fbd22f)"></i><i style="height:5px;background:linear-gradient(90deg,#2995ec,#2d89f5,#327cfc,#3f6efe,#4660fc,#4755f6,#484bef,#4744e8,#4740e3,#4740e3,#4744e8,#484cef,#4757f7,#4367fd,#347afd,#2c8ef1,#23a1e4,#0fb2d5,#11beb9,#36c799,#65cd6e,#a2c83f,#d7be28,#fcbc3d,#fbd32e)"></i><i style="height:5px;background:linear-gradient(90deg,#2896ec,#2d8af4,#317efb,#3e6fff,#4562fc,#4756f7,#484df0,#4745ea,#4742e6,#4741e5,#4745e9,#484df1,#4759f8,#4368fe,#327cfc,#2c8ff1,#22a2e4,#0db3d3,#14beb8,#37c897,#67cd6c,#a5c83d,#d9be28,#fdbd3d,#fad42e)"></i><i style="height:5px;background:linear-gradient(90deg,#2797eb,#2d8cf3,#307ffb,#3d71ff,#4563fd,#4758f8,#484ef1,#4747eb,#4743e7,#4743e7,#4747eb,#484ff2,#475af9,#426afe,#317dfc,#2b90f0,#21a3e3,#0bb3d2,#17bfb7,#38c896,#6acd6a,#a7c73c,#dbbd29,#febd3c,#fad52e)"></i><i style="height:5px;background:linear-gradient(90deg,#2798ea,#2d8df2,#2f81fa,#3b73fe,#4465fd,#475af9,#4850f3,#4849ed,#4745e9,#4745e9,#4849ed,#4851f3,#475cfa,#416bfe,#317efb,#2b91ef,#20a4e3,#09b4d1,#19bfb5,#3ac994,#6ccd68,#a9c73a,#ddbd29,#febe3c,#fad62d)"></i><i style="height:5px;background:linear-gradient(90deg,#2699e9,#2c8ef1,#2f82f9,#3974fe,#4367fd,#475bf9,#4852f4,#484bee,#4747eb,#4747eb,#484aee,#4852f4,#465efb,#406dfe,#3080fb,#2a92ee,#20a5e2,#07b5d0,#1bc0b4,#3bc993,#6ecd66,#acc739,#debc2a,#febf3b,#f9d72d)"></i><i style="height:5px;background:linear-gradient(90deg,#269be8,#2c90f0,#2e84f9,#3876fe,#4369fe,#465dfa,#4853f5,#484cf0,#4849ed,#4848ec,#484cf0,#4854f5,#465ffb,#3f6eff,#2f81fa,#2994ed,#1fa6e2,#06b5cf,#1dc0b3,#3cc991,#71cd64,#aec637,#e0bc2a,#fec03b,#f9d82c)"></i><i style="height:5px;background:linear-gradient(90deg,#259ce7,#2b91ef,#2e85f8,#3678fe,#426afe,#465ffb,#4755f6,#484ef1,#484aee,#484aee,#484ef1,#4755f6,#4661fc,#3e70ff,#2f82f9,#2995ec,#1ea7e1,#05b6cd,#1fc1b1,#3eca8f,#73cd63,#b0c636,#e1bc2b,#fec13a,#f8d92c)"></i><i style="height:5px;background:linear-gradient(90deg,#249de7,#2a93ee,#2e87f7,#347afd,#406cfe,#4660fc,#4757f7,#4850f3,#484cf0,#484cef,#4850f2,#4757f7,#4562fc,#3c71ff,#2e84f9,#2896ec,#1ea8e1,#03b7cc,#21c1b0,#3fca8e,#76cc61,#b2c535,#e3bc2c,#fec239,#f8da2b)"></i><i style="height:5px;background:linear-gradient(90deg,#249ee6,#2994ed,#2d88f6,#327bfc,#3f6efe,#4562fc,#4759f8,#4852f4,#484ef1,#484ef1,#4851f3,#4759f8,#4564fd,#3b73fe,#2e85f8,#2797eb,#1da8e0,#02b7cb,#23c1af,#41ca8c,#78cc5f,#b4c533,#e5bb2c,#fec239,#f7db2b)"></i><i style="height:5px;background:linear-gradient(90deg,#23a0e5,#2895ec,#2d8af5,#317dfc,#3e70ff,#4564fd,#475af9,#4854f5,#4850f2,#484ff2,#4853f5,#475af9,#4465fd,#3975fe,#2e86f7,#2798ea,#1ca9df,#01b8ca,#25c2ae,#43ca8b,#7acc5d,#b6c532,#e6bb2d,#fec338,#f7db2a)"></i><i style="height:5px;background:linear-gradient(90deg,#23a1e4,#2797eb,#2d8bf4,#307ffb,#3c72ff,#4466fd,#475cfa,#4755f6,#4851f4,#4851f3,#4855f6,#475cfa,#4367fd,#3876fe,#2d87f6,#2699e9,#1baade,#01b8c9,#26c2ac,#45cb89,#7dcc5c,#b8c431,#e7bb2e,#fec437,#f7dc2a)"></i><i style="height:5px;background:linear-gradient(90deg,#22a2e4,#2798ea,#2d8df2,#2f81fa,#3a73fe,#4368fd,#465efb,#4757f7,#4853f5,#4853f5,#4756f7,#465dfb,#4368fe,#3678fe,#2d89f6,#269ae8,#1babde,#01b9c8,#28c2ab,#46cb88,#7fcc5a,#bac430,#e9bb2f,#fec537,#f7dd2a)"></i><i style="height:5px;background:linear-gradient(90deg,#21a4e3,#269ae9,#2c8ef1,#2f82f9,#3875fe,#4269fe,#4660fb,#4759f8,#4755f6,#4854f6,#4758f8,#465ffb,#426afe,#3579fd,#2d8af5,#259be8,#1aacdd,#01b9c6,#29c3aa,#48cb86,#81cc58,#bcc42f,#eabb30,#fec636,#f6de29)"></i><i style="height:5px;background:linear-gradient(90deg,#20a5e2,#259be8,#2c90f0,#2e84f8,#3677fe,#416bfe,#4561fc,#475af9,#4757f7,#4756f7,#4759f9,#4660fc,#416bfe,#337bfd,#2d8bf4,#259ce7,#19addc,#01bac5,#2ac3a9,#4acb85,#83cc57,#bdc32e,#ebba31,#fec636,#f6df29)"></i><i style="height:5px;background:linear-gradient(90deg,#1fa6e1,#259ce7,#2b91ef,#2e86f8,#3579fd,#406dfe,#4563fd,#475cfa,#4758f8,#4758f8,#475bf9,#4562fc,#406dfe,#327cfc,#2d8cf3,#259de7,#18addb,#02bac4,#2bc3a8,#4bcb83,#85cb55,#bfc32d,#ecba32,#fec735,#f6e029)"></i><i style="height:5px;background:linear-gradient(90deg,#1ea8e1,#249ee6,#2a93ee,#2e87f7,#337bfc,#3e6fff,#4465fd,#465efb,#475af9,#4759f9,#475cfa,#4563fd,#3f6eff,#317dfc,#2d8df2,#249ee6,#17aeda,#02bbc3,#2cc4a6,#4dcc82,#87cb54,#c1c32d,#edba33,#fec835,#f6e028)"></i><i style="height:5px;background:linear-gradient(90deg,#1da9e0,#249fe5,#2994ed,#2d89f5,#317dfc,#3d71ff,#4367fd,#4660fb,#475cfa,#475bf9,#465efb,#4465fd,#3e70ff,#307efb,#2c8ef1,#249fe6,#16afda,#03bbc2,#2dc4a5,#4fcc81,#89cb53,#c2c22c,#eeba34,#fec834,#f6e128)"></i><i style="height:5px;background:linear-gradient(90deg,#1baadf,#23a1e5,#2896eb,#2d8af4,#307ffb,#3b73fe,#4369fe,#4561fc,#465dfa,#475cfa,#465ffb,#4466fd,#3c71ff,#3080fb,#2c8ff0,#239fe5,#15afd9,#05bbc1,#2ec4a4,#50cc7f,#8bcb51,#c3c22b,#efba35,#fec934,#f5e228)"></i><i style="height:5px;background:linear-gradient(90deg,#1aabdd,#22a2e4,#2797ea,#2d8cf3,#2f80fa,#3974fe,#426afe,#4563fd,#465ffb,#465efb,#4561fc,#4368fd,#3b73fe,#2f81fa,#2b90f0,#23a0e5,#14b0d8,#06bcc0,#2fc5a3,#52cc7e,#8ccb50,#c5c22a,#f0ba36,#feca33,#f5e227)"></i><i style="height:5px;background:linear-gradient(90deg,#19addc,#21a3e3,#2699e9,#2c8ef2,#2f82fa,#3776fe,#406cfe,#4465fd,#4660fc,#4660fb,#4562fc,#4269fe,#3a74fe,#2f82fa,#2b91ef,#23a1e4,#13b0d7,#07bcbf,#2fc5a2,#53cc7d,#8ecb4f,#c6c22a,#f1ba37,#feca33,#f5e327)"></i><i style="height:5px;background:linear-gradient(90deg,#18aedb,#20a5e3,#269ae8,#2c8ff1,#2e84f9,#3678fd,#3f6efe,#4466fd,#4562fc,#4561fc,#4564fd,#416afe,#3875fe,#2e83f9,#2b92ee,#22a2e4,#12b1d7,#09bcbe,#30c5a2,#55cc7c,#8fcb4e,#c7c12a,#f2ba37,#fdcb33,#f5e327)"></i><i style="height:5px;background:linear-gradient(90deg,#16afd9,#1fa6e2,#259ce7,#2b91ef,#2e85f8,#347afd,#3e6fff,#4368fe,#4563fd,#4562fc,#4465fd,#416cfe,#3776fe,#2e84f8,#2a93ee,#22a2e4,#11b1d6,#0abdbe,#30c5a1,#56cc7b,#90ca4d,#c8c129,#f2ba38,#fdcb33,#f5e427)"></i><i style="height:5px;background:linear-gradient(90deg,#14b0d8,#1ea7e1,#249de7,#2b92ee,#2e87f7,#327cfc,#3c71ff,#426afe,#4465fd,#4564fd,#4367fd,#406dfe,#3678fe,#2e85f8,#2994ed,#21a3e3,#10b2d5,#0bbdbd,#31c6a0,#57cc7a,#92ca4c,#c9c129,#f3ba38,#fdcc32,#f5e427)"></i><i style="height:5px;background:linear-gradient(90deg,#12b1d6,#1da9e0,#249ee6,#2994ed,#2d88f6,#317dfc,#3b73fe,#416bfe,#4366fd,#4465fd,#4368fe,#3f6eff,#3579fd,#2e86f7,#2994ed,#21a4e3,#0fb2d4,#0cbdbc,#32c69f,#58cc79,#93ca4b,#cac129,#f3ba39,#fdcc32,#f5e426)"></i><i style="height:5px;background:linear-gradient(90deg,#0fb2d4,#1caadf,#23a0e5,#2895ec,#2d8af5,#307ffb,#3975fe,#406dfe,#4368fe,#4367fd,#4269fe,#3e6fff,#347afd,#2e87f7,#2895ec,#20a4e3,#0eb2d4,#0dbdbc,#32c69f,#59cc78,#93ca4a,#cac129,#f4ba39,#fdcc32,#f5e526)"></i></div>
<div class="p" style="left:738.4px;top:81.2px;width:17.2px;height:626.8px;background:linear-gradient(180deg,#f9fb15,#f6ef20,#f5e327,#f9d62d,#feca33,#febe3c,#f1ba37,#debc2a,#c8c129,#afc637,#94ca4a,#77cc60,#5ccc76,#44ca8a,#34c79c,#28c2ab,#12beb9,#01b9c6,#0cb3d3,#1aacdd,#21a3e3,#269ae9,#2c90f0,#2e85f8,#347afd,#3f6efe,#4562fc,#4757f7,#484cef,#4741e5,#4536d5,#422ebf,#3e26a8)"></div>
<div class="p" style="left:1487.5px;top:79.3px;width:17.2px;height:629.2px;background:linear-gradient(180deg,#f9fb15,#f6ef20,#f5e327,#f9d62d,#feca33,#febe3c,#f1ba37,#debc2a,#c8c129,#afc637,#94ca4a,#77cc60,#5ccc76,#44ca8a,#34c79c,#28c2ab,#12beb9,#01b9c6,#0cb3d3,#1aacdd,#21a3e3,#269ae9,#2c90f0,#2e85f8,#347afd,#3f6efe,#4562fc,#4757f7,#484cef,#4741e5,#4536d5,#422ebf,#3e26a8)"></div>
<div class="p" style="left:2215.4px;top:77.8px;width:17.2px;height:628.2px;background:linear-gradient(180deg,#f9fb15,#f6ef20,#f5e327,#f9d62d,#feca33,#febe3c,#f1ba37,#debc2a,#c8c129,#afc637,#94ca4a,#77cc60,#5ccc76,#44ca8a,#34c79c,#28c2ab,#12beb9,#01b9c6,#0cb3d3,#1aacdd,#21a3e3,#269ae9,#2c90f0,#2e85f8,#347afd,#3f6efe,#4562fc,#4757f7,#484cef,#4741e5,#4536d5,#422ebf,#3e26a8)"></div>
<div class="p" style="left:732.4px;top:920.7px;width:22.3px;height:624.6px;background:linear-gradient(180deg,#f9fb15,#f6ef20,#f5e327,#f9d62d,#feca33,#febe3c,#f1ba37,#debc2a,#c8c129,#afc637,#94ca4a,#77cc60,#5ccc76,#44ca8a,#34c79c,#28c2ab,#12beb9,#01b9c6,#0cb3d3,#1aacdd,#21a3e3,#269ae9,#2c90f0,#2e85f8,#347afd,#3f6efe,#4562fc,#4757f7,#484cef,#4741e5,#4536d5,#422ebf,#3e26a8)"></div>
<div class="p" style="left:1484.6px;top:919.9px;width:17.4px;height:629.7px;background:linear-gradient(180deg,#f9fb15,#f6ef20,#f5e327,#f9d62d,#feca33,#febe3c,#f1ba37,#debc2a,#c8c129,#afc637,#94ca4a,#77cc60,#5ccc76,#44ca8a,#34c79c,#28c2ab,#12beb9,#01b9c6,#0cb3d3,#1aacdd,#21a3e3,#269ae9,#2c90f0,#2e85f8,#347afd,#3f6efe,#4562fc,#4757f7,#484cef,#4741e5,#4536d5,#422ebf,#3e26a8)"></div>
<div class="p" style="left:2216.3px;top:919.3px;width:17.4px;height:629.3px;background:linear-gradient(180deg,#f9fb15,#f6ef20,#f5e327,#f9d62d,#feca33,#febe3c,#f1ba37,#debc2a,#c8c129,#afc637,#94ca4a,#77cc60,#5ccc76,#44ca8a,#34c79c,#28c2ab,#12beb9,#01b9c6,#0cb3d3,#1aacdd,#21a3e3,#269ae9,#2c90f0,#2e85f8,#347afd,#3f6efe,#4562fc,#4757f7,#484cef,#4741e5,#4536d5,#422ebf,#3e26a8)"></div>
<svg width="2319" height="1721" viewBox="0 0 2319 1721"><path d="M112.2 708v-6.3 M112.2 81.2v6.3M188.3 708v-6.3 M188.3 81.2v6.3M264.5 708v-6.3 M264.5 81.2v6.3M340.6 708v-6.3 M340.6 81.2v6.3M416.7 708v-6.3 M416.7 81.2v6.3M492.8 708v-6.3 M492.8 81.2v6.3M568.9 708v-6.3 M568.9 81.2v6.3M645.1 708v-6.3 M645.1 81.2v6.3M721.2 708v-6.3 M721.2 81.2v6.3M102.7 90.7h6.3 M730.7 90.7h-6.3M102.7 166.7h6.3 M730.7 166.7h-6.3M102.7 242.6h6.3 M730.7 242.6h-6.3M102.7 318.6h6.3 M730.7 318.6h-6.3M102.7 394.6h6.3 M730.7 394.6h-6.3M102.7 470.6h6.3 M730.7 470.6h-6.3M102.7 546.6h6.3 M730.7 546.6h-6.3M102.7 622.5h6.3 M730.7 622.5h-6.3M102.7 698.5h6.3 M730.7 698.5h-6.3" stroke="#262626" stroke-width="1.1" fill="none"/><rect x="102.7" y="81.2" width="628" height="626.8" fill="none" stroke="#262626" stroke-width="1.2"/><rect x="738.4" y="81.2" width="17.2" height="626.8" fill="none" stroke="#262626" stroke-width="1.2"/><text x="758.1" y="630.6" font-size="24.2">500</text><text x="758.1" y="529.8" font-size="24.2">1000</text><text x="758.1" y="429.1" font-size="24.2">1500</text><text x="758.1" y="328.4" font-size="24.2">2000</text><text x="758.1" y="227.6" font-size="24.2">2500</text><text x="758.1" y="126.9" font-size="24.2">3000</text><path d="M755.6 624h-6.3M755.6 523.2h-6.3M755.6 422.5h-6.3M755.6 321.8h-6.3M755.6 221h-6.3M755.6 120.3h-6.3" stroke="#262626" stroke-width="1.1" fill="none"/><text x="110" y="741.5" font-size="24.2" text-anchor="middle">-4</text><text x="187.8" y="741.5" font-size="24.2" text-anchor="middle">-3</text><text x="265.2" y="741.5" font-size="24.2" text-anchor="middle">-2</text><text x="341.4" y="741.5" font-size="24.2" text-anchor="middle">-1</text><text x="416" y="741.5" font-size="24.2" text-anchor="middle">0</text><text x="493" y="741.5" font-size="24.2" text-anchor="middle">1</text><text x="570.4" y="741.5" font-size="24.2" text-anchor="middle">2</text><text x="648.1" y="741.5" font-size="24.2" text-anchor="middle">3</text><text x="724.5" y="741.5" font-size="24.2" text-anchor="middle">4</text><text x="98.2" y="102.4" font-size="24.2" text-anchor="end">-4</text><text x="98.2" y="174.3" font-size="24.2" text-anchor="end">-3</text><text x="98.2" y="249" font-size="24.2" text-anchor="end">-2</text><text x="98.2" y="325.8" font-size="24.2" text-anchor="end">-1</text><text x="98.2" y="401" font-size="24.2" text-anchor="end">0</text><text x="98.2" y="478.5" font-size="24.2" text-anchor="end">1</text><text x="98.2" y="554.5" font-size="24.2" text-anchor="end">2</text><text x="98.2" y="630.1" font-size="24.2" text-anchor="end">3</text><text x="98.2" y="707.2" font-size="24.2" text-anchor="end">4</text><path d="M846.5 708.5v-6.3 M846.5 79.3v6.3M924.2 708.5v-6.3 M924.2 79.3v6.3M1002.8 708.5v-6.3 M1002.8 79.3v6.3M1081.3 708.5v-6.3 M1081.3 79.3v6.3M1159.9 708.5v-6.3 M1159.9 79.3v6.3M1238.4 708.5v-6.3 M1238.4 79.3v6.3M1317 708.5v-6.3 M1317 79.3v6.3M1395.5 708.5v-6.3 M1395.5 79.3v6.3M1473.3 708.5v-6.3 M1473.3 79.3v6.3M845.7 80.1h6.3 M1474.1 80.1h-6.3M845.7 157.9h6.3 M1474.1 157.9h-6.3M845.7 236.6h6.3 M1474.1 236.6h-6.3M845.7 315.2h6.3 M1474.1 315.2h-6.3M845.7 393.9h6.3 M1474.1 393.9h-6.3M845.7 472.6h6.3 M1474.1 472.6h-6.3M845.7 551.2h6.3 M1474.1 551.2h-6.3M845.7 629.9h6.3 M1474.1 629.9h-6.3M845.7 707.7h6.3 M1474.1 707.7h-6.3" stroke="#262626" stroke-width="1.1" fill="none"/><rect x="845.7" y="79.3" width="628.4" height="629.2" fill="none" stroke="#262626" stroke-width="1.2"/><rect x="1487.5" y="79.3" width="17.2" height="629.2" fill="none" stroke="#262626" stroke-width="1.2"/><text x="1507.2" y="683.1" font-size="24.2">10</text><text x="1507.2" y="605.4" font-size="24.2">15</text><text x="1507.2" y="527.7" font-size="24.2">20</text><text x="1507.2" y="450" font-size="24.2">25</text><text x="1507.2" y="372.3" font-size="24.2">30</text><text x="1507.2" y="294.6" font-size="24.2">35</text><text x="1507.2" y="216.9" font-size="24.2">40</text><text x="1507.2" y="139.2" font-size="24.2">45</text><path d="M1504.7 676.5h-6.3M1504.7 598.8h-6.3M1504.7 521.1h-6.3M1504.7 443.4h-6.3M1504.7 365.7h-6.3M1504.7 288h-6.3M1504.7 210.3h-6.3M1504.7 132.6h-6.3" stroke="#262626" stroke-width="1.1" fill="none"/><text x="847.5" y="741.6" font-size="24.2" text-anchor="middle">-40</text><text x="921.5" y="741.6" font-size="24.2" text-anchor="middle">-30</text><text x="996.2" y="741.6" font-size="24.2" text-anchor="middle">-20</text><text x="1078.8" y="741.6" font-size="24.2" text-anchor="middle">-10</text><text x="1159.1" y="741.6" font-size="24.2" text-anchor="middle">0</text><text x="1235.2" y="741.6" font-size="24.2" text-anchor="middle">10</text><text x="1317.3" y="741.6" font-size="24.2" text-anchor="middle">20</text><text x="1391.8" y="741.6" font-size="24.2" text-anchor="middle">30</text><text x="1473.6" y="741.6" font-size="24.2" text-anchor="middle">40</text><text x="842.2" y="90.4" font-size="24.2" text-anchor="end">-40</text><text x="842.2" y="169.1" font-size="24.2" text-anchor="end">-30</text><text x="842.2" y="246.9" font-size="24.2" text-anchor="end">-20</text><text x="842.2" y="322.2" font-size="24.2" text-anchor="end">-10</text><text x="842.2" y="402.2" font-size="24.2" text-anchor="end">0</text><text x="842.2" y="481.7" font-size="24.2" text-anchor="end">10</text><text x="842.2" y="560.3" font-size="24.2" text-anchor="end">20</text><text x="842.2" y="637.4" font-size="24.2" text-anchor="end">30</text><text x="842.2" y="712.8" font-size="24.2" text-anchor="end">40</text><path d="M1574 706v-6.3 M1574 77.8v6.3M1651.8 706v-6.3 M1651.8 77.8v6.3M1730.4 706v-6.3 M1730.4 77.8v6.3M1809 706v-6.3 M1809 77.8v6.3M1887.7 706v-6.3 M1887.7 77.8v6.3M1966.3 706v-6.3 M1966.3 77.8v6.3M2044.9 706v-6.3 M2044.9 77.8v6.3M2123.5 706v-6.3 M2123.5 77.8v6.3M2201.3 706v-6.3 M2201.3 77.8v6.3M1573.2 78.6h6.3 M2202.1 78.6h-6.3M1573.2 156.3h6.3 M2202.1 156.3h-6.3M1573.2 234.9h6.3 M2202.1 234.9h-6.3M1573.2 313.4h6.3 M2202.1 313.4h-6.3M1573.2 391.9h6.3 M2202.1 391.9h-6.3M1573.2 470.4h6.3 M2202.1 470.4h-6.3M1573.2 549h6.3 M2202.1 549h-6.3M1573.2 627.5h6.3 M2202.1 627.5h-6.3M1573.2 705.2h6.3 M2202.1 705.2h-6.3" stroke="#262626" stroke-width="1.1" fill="none"/><rect x="1573.2" y="77.8" width="628.9" height="628.2" fill="none" stroke="#262626" stroke-width="1.2"/><rect x="2215.4" y="77.8" width="17.2" height="628.2" fill="none" stroke="#262626" stroke-width="1.2"/><text x="2235.1" y="695.8" font-size="24.2">10</text><text x="2235.1" y="610.1" font-size="24.2">15</text><text x="2235.1" y="524.4" font-size="24.2">20</text><text x="2235.1" y="438.8" font-size="24.2">25</text><text x="2235.1" y="353.1" font-size="24.2">30</text><text x="2235.1" y="267.4" font-size="24.2">35</text><text x="2235.1" y="181.7" font-size="24.2">40</text><text x="2235.1" y="96.1" font-size="24.2">45</text><path d="M2232.6 689.2h-6.3M2232.6 603.5h-6.3M2232.6 517.8h-6.3M2232.6 432.2h-6.3M2232.6 346.5h-6.3M2232.6 260.8h-6.3M2232.6 175.1h-6.3M2232.6 89.5h-6.3" stroke="#262626" stroke-width="1.1" fill="none"/><text x="1576.2" y="741.7" font-size="24.2" text-anchor="middle">-40</text><text x="1650.2" y="741.7" font-size="24.2" text-anchor="middle">-30</text><text x="1724.9" y="741.7" font-size="24.2" text-anchor="middle">-20</text><text x="1807.5" y="741.7" font-size="24.2" text-anchor="middle">-10</text><text x="1887.8" y="741.7" font-size="24.2" text-anchor="middle">0</text><text x="1963.9" y="741.7" font-size="24.2" text-anchor="middle">10</text><text x="2046" y="741.7" font-size="24.2" text-anchor="middle">20</text><text x="2120.5" y="741.7" font-size="24.2" text-anchor="middle">30</text><text x="2202.3" y="741.7" font-size="24.2" text-anchor="middle">40</text><text x="1570.9" y="89.9" font-size="24.2" text-anchor="end">-40</text><text x="1570.9" y="165.6" font-size="24.2" text-anchor="end">-30</text><text x="1570.9" y="244" font-size="24.2" text-anchor="end">-20</text><text x="1570.9" y="321.7" font-size="24.2" text-anchor="end">-10</text><text x="1570.9" y="400.2" font-size="24.2" text-anchor="end">0</text><text x="1570.9" y="479.5" font-size="24.2" text-anchor="end">10</text><text x="1570.9" y="557.2" font-size="24.2" text-anchor="end">20</text><text x="1570.9" y="635" font-size="24.2" text-anchor="end">30</text><text x="1570.9" y="711.1" font-size="24.2" text-anchor="end">40</text><path d="M102.8 1545.3v-6.3 M102.8 920.7v6.3M206 1545.3v-6.3 M206 920.7v6.3M309.2 1545.3v-6.3 M309.2 920.7v6.3M412.4 1545.3v-6.3 M412.4 920.7v6.3M515.6 1545.3v-6.3 M515.6 920.7v6.3M618.8 1545.3v-6.3 M618.8 920.7v6.3M722 1545.3v-6.3 M722 920.7v6.3M100.2 923.3h6.3 M724.6 923.3h-6.3M100.2 1026.5h6.3 M724.6 1026.5h-6.3M100.2 1129.8h6.3 M724.6 1129.8h-6.3M100.2 1233h6.3 M724.6 1233h-6.3M100.2 1336.2h6.3 M724.6 1336.2h-6.3M100.2 1439.5h6.3 M724.6 1439.5h-6.3M100.2 1542.7h6.3 M724.6 1542.7h-6.3" stroke="#6a6a6a" stroke-width="1.1" fill="none"/><rect x="100.2" y="920.7" width="624.4" height="624.6" fill="none" stroke="#6a6a6a" stroke-width="1.2"/><rect x="732.4" y="920.7" width="22.3" height="624.6" fill="none" stroke="#262626" stroke-width="1.2"/><text x="757.2" y="1452.1" font-size="24.2">500</text><text x="757.2" y="1331.9" font-size="24.2">1000</text><text x="757.2" y="1211.7" font-size="24.2">1500</text><text x="757.2" y="1091.5" font-size="24.2">2000</text><text x="757.2" y="971.3" font-size="24.2">2500</text><path d="M754.7 1445.5h-6.3M754.7 1325.3h-6.3M754.7 1205.1h-6.3M754.7 1084.9h-6.3M754.7 964.7h-6.3" stroke="#262626" stroke-width="1.1" fill="none"/><text x="96.5" y="1581.6" font-size="24.2" text-anchor="middle">-15</text><text x="203.4" y="1581.6" font-size="24.2" text-anchor="middle">-10</text><text x="303.1" y="1581.6" font-size="24.2" text-anchor="middle">-5</text><text x="409.1" y="1581.6" font-size="24.2" text-anchor="middle">0</text><text x="518.8" y="1581.6" font-size="24.2" text-anchor="middle">5</text><text x="619.1" y="1581.6" font-size="24.2" text-anchor="middle">10</text><text x="725.7" y="1581.6" font-size="24.2" text-anchor="middle">15</text><text x="96.7" y="932.8" font-size="24.2" text-anchor="end">-15</text><text x="96.7" y="1033.8" font-size="24.2" text-anchor="end">-10</text><text x="96.7" y="1137.3" font-size="24.2" text-anchor="end">-5</text><text x="96.7" y="1244.3" font-size="24.2" text-anchor="end">0</text><text x="96.7" y="1343.5" font-size="24.2" text-anchor="end">5</text><text x="96.7" y="1446.6" font-size="24.2" text-anchor="end">10</text><text x="96.7" y="1550" font-size="24.2" text-anchor="end">15</text><path d="M850.4 1549.6v-6.3 M850.4 919.9v6.3M927.3 1549.6v-6.3 M927.3 919.9v6.3M1005.1 1549.6v-6.3 M1005.1 919.9v6.3M1082.8 1549.6v-6.3 M1082.8 919.9v6.3M1160.5 1549.6v-6.3 M1160.5 919.9v6.3M1238.3 1549.6v-6.3 M1238.3 919.9v6.3M1316 1549.6v-6.3 M1316 919.9v6.3M1393.8 1549.6v-6.3 M1393.8 919.9v6.3M1470.7 1549.6v-6.3 M1470.7 919.9v6.3M849.6 920.7h6.3 M1471.5 920.7h-6.3M849.6 998.6h6.3 M1471.5 998.6h-6.3M849.6 1077.3h6.3 M1471.5 1077.3h-6.3M849.6 1156h6.3 M1471.5 1156h-6.3M849.6 1234.8h6.3 M1471.5 1234.8h-6.3M849.6 1313.5h6.3 M1471.5 1313.5h-6.3M849.6 1392.2h6.3 M1471.5 1392.2h-6.3M849.6 1470.9h6.3 M1471.5 1470.9h-6.3M849.6 1548.8h6.3 M1471.5 1548.8h-6.3" stroke="#262626" stroke-width="1.1" fill="none"/><rect x="849.6" y="919.9" width="621.9" height="629.7" fill="none" stroke="#262626" stroke-width="1.2"/><rect x="1484.6" y="919.9" width="17.4" height="629.7" fill="none" stroke="#262626" stroke-width="1.2"/><text x="1504.5" y="1501" font-size="24.2">10</text><text x="1504.5" y="1445.7" font-size="24.2">12</text><text x="1504.5" y="1390.5" font-size="24.2">14</text><text x="1504.5" y="1335.3" font-size="24.2">16</text><text x="1504.5" y="1280" font-size="24.2">18</text><text x="1504.5" y="1224.8" font-size="24.2">20</text><text x="1504.5" y="1169.5" font-size="24.2">22</text><text x="1504.5" y="1114.3" font-size="24.2">24</text><text x="1504.5" y="1059.1" font-size="24.2">26</text><text x="1504.5" y="1003.8" font-size="24.2">28</text><text x="1504.5" y="948.6" font-size="24.2">30</text><path d="M1502 1494.4h-6.3M1502 1439.1h-6.3M1502 1383.9h-6.3M1502 1328.7h-6.3M1502 1273.4h-6.3M1502 1218.2h-6.3M1502 1162.9h-6.3M1502 1107.7h-6.3M1502 1052.5h-6.3M1502 997.2h-6.3M1502 942h-6.3" stroke="#262626" stroke-width="1.1" fill="none"/><text x="849.5" y="1582.8" font-size="24.2" text-anchor="middle">-40</text><text x="923.5" y="1582.8" font-size="24.2" text-anchor="middle">-30</text><text x="998.2" y="1582.8" font-size="24.2" text-anchor="middle">-20</text><text x="1080.8" y="1582.8" font-size="24.2" text-anchor="middle">-10</text><text x="1161.1" y="1582.8" font-size="24.2" text-anchor="middle">0</text><text x="1237.2" y="1582.8" font-size="24.2" text-anchor="middle">10</text><text x="1319.3" y="1582.8" font-size="24.2" text-anchor="middle">20</text><text x="1393.8" y="1582.8" font-size="24.2" text-anchor="middle">30</text><text x="1475.6" y="1582.8" font-size="24.2" text-anchor="middle">40</text><text x="848.9" y="933.2" font-size="24.2" text-anchor="end">-40</text><text x="848.9" y="1011.3" font-size="24.2" text-anchor="end">-30</text><text x="848.9" y="1086.4" font-size="24.2" text-anchor="end">-20</text><text x="848.9" y="1163.5" font-size="24.2" text-anchor="end">-10</text><text x="848.9" y="1241" font-size="24.2" text-anchor="end">0</text><text x="848.9" y="1323.8" font-size="24.2" text-anchor="end">10</text><text x="848.9" y="1401.1" font-size="24.2" text-anchor="end">20</text><text x="848.9" y="1478" font-size="24.2" text-anchor="end">30</text><text x="848.9" y="1555.5" font-size="24.2" text-anchor="end">40</text><path d="M1574.3 1548.6v-6.3 M1574.3 919.3v6.3M1652.2 1548.6v-6.3 M1652.2 919.3v6.3M1730.9 1548.6v-6.3 M1730.9 919.3v6.3M1809.6 1548.6v-6.3 M1809.6 919.3v6.3M1888.2 1548.6v-6.3 M1888.2 919.3v6.3M1966.9 1548.6v-6.3 M1966.9 919.3v6.3M2045.6 1548.6v-6.3 M2045.6 919.3v6.3M2124.3 1548.6v-6.3 M2124.3 919.3v6.3M2202.2 1548.6v-6.3 M2202.2 919.3v6.3M1573.5 920.1h6.3 M2203 920.1h-6.3M1573.5 998h6.3 M2203 998h-6.3M1573.5 1076.6h6.3 M2203 1076.6h-6.3M1573.5 1155.3h6.3 M2203 1155.3h-6.3M1573.5 1233.9h6.3 M2203 1233.9h-6.3M1573.5 1312.6h6.3 M2203 1312.6h-6.3M1573.5 1391.3h6.3 M2203 1391.3h-6.3M1573.5 1469.9h6.3 M2203 1469.9h-6.3M1573.5 1547.8h6.3 M2203 1547.8h-6.3" stroke="#262626" stroke-width="1.1" fill="none"/><rect x="1573.5" y="919.3" width="629.5" height="629.3" fill="none" stroke="#262626" stroke-width="1.2"/><rect x="2216.3" y="919.3" width="17.4" height="629.3" fill="none" stroke="#262626" stroke-width="1.2"/><text x="2236.2" y="1529.5" font-size="24.2">10</text><text x="2236.2" y="1340.1" font-size="24.2">15</text><text x="2236.2" y="1150.8" font-size="24.2">20</text><text x="2236.2" y="961.5" font-size="24.2">25</text><path d="M2233.7 1522.9h-6.3M2233.7 1333.5h-6.3M2233.7 1144.2h-6.3M2233.7 954.9h-6.3" stroke="#262626" stroke-width="1.1" fill="none"/><text x="1578.4" y="1580.7" font-size="24.2" text-anchor="middle">-40</text><text x="1652.4" y="1580.7" font-size="24.2" text-anchor="middle">-30</text><text x="1727.1" y="1580.7" font-size="24.2" text-anchor="middle">-20</text><text x="1809.7" y="1580.7" font-size="24.2" text-anchor="middle">-10</text><text x="1890" y="1580.7" font-size="24.2" text-anchor="middle">0</text><text x="1966.1" y="1580.7" font-size="24.2" text-anchor="middle">10</text><text x="2048.2" y="1580.7" font-size="24.2" text-anchor="middle">20</text><text x="2122.7" y="1580.7" font-size="24.2" text-anchor="middle">30</text><text x="2204.5" y="1580.7" font-size="24.2" text-anchor="middle">40</text><text x="1571.6" y="927.4" font-size="24.2" text-anchor="end">-40</text><text x="1571.6" y="1005.3" font-size="24.2" text-anchor="end">-30</text><text x="1571.6" y="1082.1" font-size="24.2" text-anchor="end">-20</text><text x="1571.6" y="1160.4" font-size="24.2" text-anchor="end">-10</text><text x="1571.6" y="1238.2" font-size="24.2" text-anchor="end">0</text><text x="1571.6" y="1319.5" font-size="24.2" text-anchor="end">10</text><text x="1571.6" y="1397.2" font-size="24.2" text-anchor="end">20</text><text x="1571.6" y="1474.6" font-size="24.2" text-anchor="end">30</text><text x="1571.6" y="1552.5" font-size="24.2" text-anchor="end">40</text><path d="M411 394.6h11.4M416.7 388.9v11.4" stroke="#00ff00" stroke-width="1.7" fill="none"/><circle cx="416.7" cy="394.6" r="5.2" stroke="#00ff00" stroke-width="1.7" fill="none"/><path d="M406.7 1233h11.4M412.4 1227.3v11.4" stroke="#00ff00" stroke-width="1.7" fill="none"/><circle cx="412.4" cy="1233" r="5.2" stroke="#00ff00" stroke-width="1.7" fill="none"/><path d="M1154.2 393.9h11.4M1159.9 388.2v11.4" stroke="#00ff00" stroke-width="1.7" fill="none"/><path d="M1159.9 393.9L1167.8 458.8" stroke="#ffff00" stroke-width="1.7" fill="none"/><circle cx="1167.8" cy="458.8" r="4.6" stroke="#00ff00" stroke-width="1.7" fill="none"/><path d="M1882 391.9h11.4M1887.7 386.2v11.4" stroke="#00ff00" stroke-width="1.7" fill="none"/><path d="M1887.7 391.9L1881.8 456.7" stroke="#ffff00" stroke-width="1.7" fill="none"/><circle cx="1881.8" cy="456.7" r="4.6" stroke="#00ff00" stroke-width="1.7" fill="none"/><path d="M1154.8 1234.8h11.4M1160.5 1229v11.4" stroke="#00ff00" stroke-width="1.7" fill="none"/><path d="M1160.5 1234.8L1075 1258.4" stroke="#ffff00" stroke-width="1.7" fill="none"/><circle cx="1075" cy="1258.4" r="4.6" stroke="#00ff00" stroke-width="1.7" fill="none"/><path d="M1882.5 1233.9h11.4M1888.2 1228.2v11.4" stroke="#00ff00" stroke-width="1.7" fill="none"/><path d="M1888.2 1233.9L1786 1235.9" stroke="#ffff00" stroke-width="1.7" fill="none"/><circle cx="1786" cy="1235.9" r="4.6" stroke="#00ff00" stroke-width="1.7" fill="none"/><text x="101.2" y="58.6" font-size="30.5" textLength="637.6" lengthAdjust="spacing">q<tspan font-size="20">tot</tspan> (B<tspan font-size="20">0p1</tspan> <tspan stroke="#000" stroke-width="0.9">–</tspan> B<tspan font-size="20">0p2</tspan>) Step size=0.25mm|Error 0 mm</text><text x="818.6" y="58.9" font-size="30.5" textLength="705.5" lengthAdjust="spacing">RMSE(B<tspan font-size="20">0p1</tspan><tspan font-size="25" dx="-1.5">→</tspan><tspan dx="-2" font-size="0.1"> </tspan>B<tspan font-size="20">0p2</tspan>) Step size=0.25mm|Error 8.31 <tspan dx="6">mm</tspan></text><text x="1542.2" y="57.5" font-size="30.5" textLength="705.6" lengthAdjust="spacing">RMSE(B<tspan font-size="20">0p2</tspan><tspan font-size="25" dx="-1.5">→</tspan><tspan dx="-2" font-size="0.1"> </tspan>B<tspan font-size="20">0p1</tspan>) Step size=0.25mm|Error 8.28 <tspan dx="6">mm</tspan></text><text x="174.2" y="899.6" font-size="30.5" textLength="492.9" lengthAdjust="spacing">q<tspan font-size="20">tot</tspan> (B<tspan font-size="20">0p1</tspan> <tspan stroke="#000" stroke-width="0.9">–</tspan> B<tspan font-size="20">p02</tspan>) Rotation step=0.25°</text><text x="909.1" y="899.2" font-size="30.5" textLength="520.9" lengthAdjust="spacing">RMSE(B<tspan font-size="20">0p1</tspan><tspan font-size="25" dx="-1.5">→</tspan><tspan dx="-2" font-size="0.1"> </tspan>B<tspan font-size="20">0p2</tspan>) Rotation step=0.25°</text><text x="1634.6" y="898.9" font-size="30.5" textLength="520.8" lengthAdjust="spacing">RMSE(B<tspan font-size="20">0p2</tspan><tspan font-size="25" dx="-1.5">→</tspan><tspan dx="-2" font-size="0.1"> </tspan>B<tspan font-size="20">0p1</tspan>) Rotation step=0.25°</text><text x="408.2" y="779.8" font-size="27.8" text-anchor="middle">X shift [mm]</text><text x="1153.3" y="779.5" font-size="27.8" text-anchor="middle">X shift [mm]</text><text x="1880.4" y="780.8" font-size="27.8" text-anchor="middle">X shift [mm]</text><text x="408.6" y="1618.8" font-size="27.8" text-anchor="middle">Rotation around X [°]</text><text x="1154.6" y="1620.7" font-size="27.8" text-anchor="middle">Rotation around X [°]</text><text x="1882.2" y="1618.8" font-size="27.8" text-anchor="middle">Rotation around X [°]</text><text transform="translate(47.9 396.9) rotate(-90)" font-size="27.8" text-anchor="middle">Y shift [mm]</text><text transform="translate(47.9 1221.5) rotate(-90)" font-size="27.8" text-anchor="middle">Rotation around Y [°]</text><text class="s" x="416.9" y="834.8" font-size="57" text-anchor="middle">(<tspan font-size="50" dx="1.5">a</tspan><tspan dx="1.5">)</tspan></text><text class="s" x="1159" y="834.2" font-size="57" text-anchor="middle">(<tspan font-size="50" dx="1.5">b</tspan><tspan dx="1.5">)</tspan></text><text class="s" x="1889" y="834" font-size="57" text-anchor="middle">(<tspan font-size="50" dx="1.5">c</tspan><tspan dx="1.5">)</tspan></text><text class="s" x="416.9" y="1673" font-size="57" text-anchor="middle">(<tspan font-size="50" dx="1.5">d</tspan><tspan dx="1.5">)</tspan></text><text class="s" x="1159" y="1673" font-size="57" text-anchor="middle">(<tspan font-size="50" dx="1.5">e</tspan><tspan dx="1.5">)</tspan></text><text class="s" x="1889" y="1673" font-size="57" text-anchor="middle">(<tspan font-size="50" dx="1.5">f</tspan><tspan dx="1.5">)</tspan></text><text x="737.5" y="72.6" font-size="30">q<tspan font-size="9" dx="1.5">tot</tspan></text><text x="732.5" y="910.3" font-size="30">q<tspan font-size="9" dx="1.5">tot</tspan></text><text x="1475.9" y="77.4" font-size="22" textLength="44.7" lengthAdjust="spacingAndGlyphs">RMSE</text><text x="2194.8" y="75.5" font-size="22" textLength="45.0" lengthAdjust="spacingAndGlyphs">RMSE</text><text x="1475.9" y="917.4" font-size="22" textLength="45.0" lengthAdjust="spacingAndGlyphs">RMSE</text><text x="2194.8" y="915.5" font-size="22" textLength="45.0" lengthAdjust="spacingAndGlyphs">RMSE</text></svg>
</body></html>
